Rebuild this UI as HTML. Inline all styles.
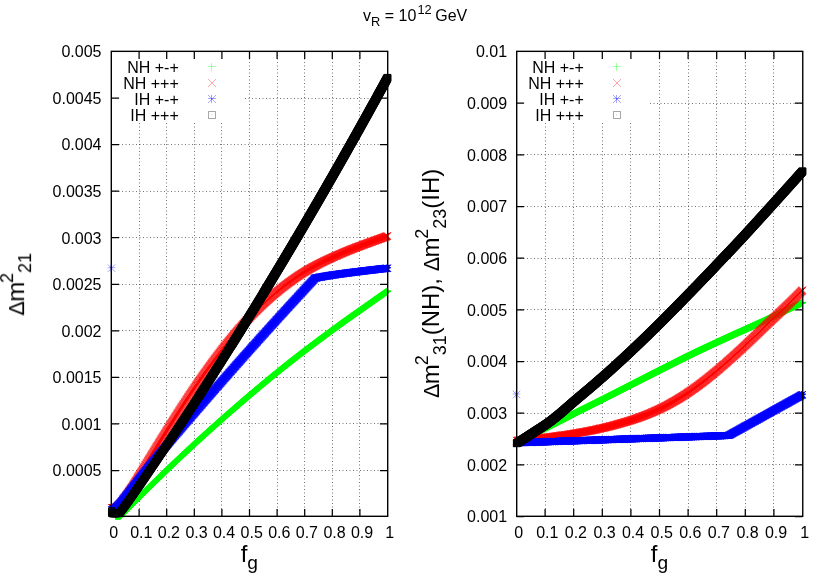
<!DOCTYPE html>
<html><head><meta charset="utf-8"><title>plot</title>
<style>html,body{margin:0;padding:0;background:#fff}svg{display:block}text{font-family:"Liberation Sans",sans-serif;fill:#000}.m{fill:none;stroke-width:0.35}.b{fill:none;stroke-width:1.0}</style></head><body>
<svg width="830" height="581" viewBox="0 0 830 581">
<rect width="830" height="581" fill="#fff"/>
<g style="will-change:opacity">
<text x="363" y="21.2" font-size="16">v<tspan dy="4.3" font-size="12.8">R</tspan><tspan dy="-4.3"> = 10</tspan><tspan dy="-7.4" dx="1.2" font-size="12.8">12</tspan><tspan dy="7.4" dx="-0.9"> GeV</tspan></text>
<path d="M139.50 123V516.5M166.50 123V516.5M194.50 123V516.5M221.50 123V516.5M249.50 51.5V516.5M277.50 51.5V516.5M304.50 51.5V516.5M332.50 51.5V516.5M359.50 51.5V516.5M245 98.50H387.5M111.5 144.50H387.5M111.5 191.50H387.5M111.5 237.50H387.5M111.5 284.50H387.5M111.5 330.50H387.5M111.5 377.50H387.5M111.5 423.50H387.5M111.5 470.50H387.5" stroke="#000" stroke-width="1" stroke-dasharray="1 2.5" stroke-opacity="0.55" fill="none"/>
<path d="M139.10 516.5v-7.6M139.10 51.5v7.6M166.70 516.5v-7.6M166.70 51.5v7.6M194.30 516.5v-7.6M194.30 51.5v7.6M221.90 516.5v-7.6M221.90 51.5v7.6M249.50 516.5v-7.6M249.50 51.5v7.6M277.10 516.5v-7.6M277.10 51.5v7.6M304.70 516.5v-7.6M304.70 51.5v7.6M332.30 516.5v-7.6M332.30 51.5v7.6M359.90 516.5v-7.6M359.90 51.5v7.6M111.5 98.06h7.6M387.5 98.06h-7.6M111.5 144.61h7.6M387.5 144.61h-7.6M111.5 191.17h7.6M387.5 191.17h-7.6M111.5 237.72h7.6M387.5 237.72h-7.6M111.5 284.28h7.6M387.5 284.28h-7.6M111.5 330.84h7.6M387.5 330.84h-7.6M111.5 377.39h7.6M387.5 377.39h-7.6M111.5 423.95h7.6M387.5 423.95h-7.6M111.5 470.50h7.6M387.5 470.50h-7.6" stroke="#000" stroke-width="1.25" fill="none"/>
<path class="b" d="M112.4 515.5h7.2m-4.1-3.1v7.2m-2.8-4.1h7.2m-4.1-3.1v7.2m-2.9-4.1h7.2m-4.1-3.1v7.2m-2.8-4.1h7.2m-4.1-3.1v7.2m-2.8-4.1h7.2m-4.1-3.1v7.2m-2.8-4.1h7.2m-4.1-3.1v7.2m-2.9-4.1h7.2m-4.1-3.1v7.2m-2.8-4.1h7.2m-4.1-3.1v7.2m-2.8-4.1h7.2m-4.1-3.1v7.2m-2.9-4.1h7.2m-4.1-3.1v7.2m-2.8-4.1h7.2m-4.1-3.1v7.2m-2.8-4.1h7.2m-4.1-3.1v7.2m-2.8-4.1h7.2m-4.1-3.1v7.2m-2.9-4h7.2m-4.1-3.1v7.2m-2.8-4.1h7.2m-4.1-3.1v7.2m-2.8-4.2h7.2m-4.1-3.1v7.2m-2.9-4.1h7.2m-4.1-3.1v7.2m-2.8-4.3h7.2m-4.1-3.1v7.2m-2.8-4.2h7.2m-4.1-3.1v7.2m-2.8-4.3h7.2m-4.1-3.1v7.2m-2.9-4.4h7.2m-4.1-3.1v7.2m-2.8-4.3h7.2m-4.1-3.1v7.2m-2.8-4.3h7.2m-4.1-3.1v7.2m-2.8-4.4h7.2m-4.1-3.1v7.2m-2.9-4.3h7.2m-4.1-3.1v7.2m-2.8-4.4h7.2m-4.1-3.1v7.2m-2.8-4.4h7.2m-4.1-3.1v7.2m-2.9-4.3h7.2m-4.1-3.1v7.2m-2.8-4.4h7.2m-4.1-3.1v7.2m-2.8-4.4h7.2m-4.1-3.1v7.2m-2.8-4.3h7.2m-4.1-3.1v7.2m-2.9-4.4h7.2m-4.1-3.1v7.2m-2.8-4.4h7.2m-4.1-3.1v7.2m-2.8-4.3h7.2m-4.1-3.1v7.2m-2.9-4.4h7.2m-4.1-3.1v7.2m-2.8-4.4h7.2m-4.1-3.1v7.2m-2.8-4.4h7.2m-4.1-3.1v7.2m-2.8-4.3h7.2m-4.1-3.1v7.2m-2.9-4.4h7.2m-4.1-3.1v7.2m-2.8-4.4h7.2m-4.1-3.1v7.2m-2.8-4.3h7.2m-4.1-3.1v7.2m-2.9-4.4h7.2m-4.1-3.1v7.2m-2.8-4.4h7.2m-4.1-3.1v7.2m-2.8-4.4h7.2m-4.1-3.1v7.2m-2.8-4.3h7.2m-4.1-3.1v7.2m-2.9-4.4h7.2m-4.1-3.1v7.2m-2.8-4.4h7.2m-4.1-3.1v7.2m-2.8-4.3h7.2m-4.1-3.1v7.2m-2.9-4.4h7.2m-4.1-3.1v7.2m-2.8-4.4h7.2m-4.1-3.1v7.2m-2.8-4.4h7.2m-4.1-3.1v7.2m-2.8-4.3h7.2m-4.1-3.1v7.2m-2.9-4.4h7.2m-4.1-3.1v7.2m-2.8-4.4h7.2m-4.1-3.1v7.2m-2.8-4.4h7.2m-4.1-3.1v7.2m-2.9-4.3h7.2m-4.1-3.1v7.2m-2.8-4.4h7.2m-4.1-3.1v7.2m-2.8-4.4h7.2m-4.1-3.1v7.2m-2.8-4.3h7.2m-4.1-3.1v7.2m-2.9-4.4h7.2m-4.1-3.1v7.2m-2.8-4.4h7.2m-4.1-3.1v7.2m-2.8-4.4h7.2m-4.1-3.1v7.2m-2.9-4.3h7.2m-4.1-3.1v7.2m-2.8-4.4h7.2m-4.1-3.1v7.2m-2.8-4.4h7.2m-4.1-3.1v7.2m-2.8-4.3h7.2m-4.1-3.1v7.2m-2.9-4.4h7.2m-4.1-3.1v7.2m-2.8-4.4h7.2m-4.1-3.1v7.2m-2.8-4.4h7.2m-4.1-3.1v7.2m-2.8-4.3h7.2m-4.1-3.1v7.2m-2.9-4.4h7.2m-4.1-3.1v7.2m-2.8-4.4h7.2m-4.1-3.1v7.2m-2.8-4.3h7.2m-4.1-3.1v7.2m-2.9-4.4h7.2m-4.1-3.1v7.2m-2.8-4.4h7.2m-4.1-3.1v7.2m-2.8-4.4h7.2m-4.1-3.1v7.2m-2.8-4.3h7.2m-4.1-3.1v7.2m-2.9-4.4h7.2m-4.1-3.1v7.2m-2.8-4.4h7.2m-4.1-3.1v7.2m-2.8-4.3h7.2m-4.1-3.1v7.2m-2.9-4.4h7.2m-4.1-3.1v7.2m-2.8-4.4h7.2m-4.1-3.1v7.2m-2.8-4.4h7.2m-4.1-3.1v7.2m-2.8-4.3h7.2m-4.1-3.1v7.2m-2.9-4.4h7.2m-4.1-3.1v7.2m-2.8-4.4h7.2m-4.1-3.1v7.2m-2.8-4.3h7.2m-4.1-3.1v7.2m-2.9-4.4h7.2m-4.1-3.1v7.2m-2.8-4.4h7.2m-4.1-3.1v7.2m-2.8-4.4h7.2m-4.1-3.1v7.2m-2.8-4.3h7.2m-4.1-3.1v7.2m-2.9-4.4h7.2m-4.1-3.1v7.2m-2.8-4.4h7.2m-4.1-3.1v7.2m-2.8-4.3h7.2m-4.1-3.1v7.2m-2.9-4.4h7.2m-4.1-3.1v7.2m-2.8-4.4h7.2m-4.1-3.1v7.2m-2.8-4.3h7.2m-4.1-3.1v7.2m-2.8-4.4h7.2m-4.1-3.1v7.2m-2.9-4.4h7.2m-4.1-3.1v7.2m-2.8-4.4h7.2m-4.1-3.1v7.2m-2.8-4.3h7.2m-4.1-3.1v7.2m-2.9-4.4h7.2m-4.1-3.1v7.2m-2.8-4.4h7.2m-4.1-3.1v7.2m-2.8-4.3h7.2m-4.1-3.1v7.2m-2.8-4.4h7.2m-4.1-3.1v7.2m-2.9-4.4h7.2m-4.1-3.1v7.2m-2.8-4.3h7.2m-4.1-3.1v7.2m-2.8-4.4h7.2m-4.1-3.1v7.2m-2.8-4.4h7.2m-4.1-3.1v7.2m-2.9-4.3h7.2m-4.1-3.1v7.2m-2.8-4.4h7.2m-4.1-3.1v7.2m-2.8-4.4h7.2m-4.1-3.1v7.2m-2.9-4.4h7.2m-4.1-3.1v7.2m-2.8-4.3h7.2m-4.1-3.1v7.2m-2.8-4.4h7.2m-4.1-3.1v7.2m-2.8-4.4h7.2m-4.1-3.1v7.2m-2.9-4.3h7.2m-4.1-3.1v7.2m-2.8-4.4h7.2m-4.1-3.1v7.2m-2.8-4.4h7.2m-4.1-3.1v7.2m-2.9-4.3h7.2m-4.1-3.1v7.2m-2.8-4.4h7.2m-4.1-3.1v7.2m-2.8-4.4h7.2m-4.1-3.1v7.2m-2.8-4.3h7.2m-4.1-3.1v7.2m-2.9-4.4h7.2m-4.1-3.1v7.2m-2.8-4.4h7.2m-4.1-3.1v7.2m-2.8-4.3h7.2m-4.1-3.1v7.2m-2.9-4.4h7.2m-4.1-3.1v7.2m-2.8-4.4h7.2m-4.1-3.1v7.2m-2.8-4.3h7.2m-4.1-3.1v7.2m-2.8-4.4h7.2m-4.1-3.1v7.2m-2.9-4.4h7.2m-4.1-3.1v7.2m-2.8-4.3h7.2m-4.1-3.1v7.2m-2.8-4.4h7.2m-4.1-3.1v7.2m-2.9-4.4h7.2m-4.1-3.1v7.2m-2.8-4.3h7.2m-4.1-3.1v7.2m-2.8-4.4h7.2m-4.1-3.1v7.2m-2.8-4.4h7.2m-4.1-3.1v7.2m-2.9-4.3h7.2m-4.1-3.1v7.2m-2.8-4.4h7.2m-4.1-3.1v7.2m-2.8-4.4h7.2m-4.1-3.1v7.2m-2.9-4.3h7.2m-4.1-3.1v7.2m-2.8-4.4h7.2m-4.1-3.1v7.2m-2.8-4.4h7.2m-4.1-3.1v7.2m-2.8-4.3h7.2m-4.1-3.1v7.2m-2.9-4.4h7.2m-4.1-3.1v7.2m-2.8-4.4h7.2m-4.1-3.1v7.2m-2.8-4.3h7.2m-4.1-3.1v7.2m-2.8-4.4h7.2m-4.1-3.1v7.2m-2.9-4.4h7.2m-4.1-3.1v7.2m-2.8-4.3h7.2m-4.1-3.1v7.2m-2.8-4.4h7.2m-4.1-3.1v7.2m-2.9-4.4h7.2m-4.1-3.1v7.2m-2.8-4.3h7.2m-4.1-3.1v7.2m-2.8-4.4h7.2m-4.1-3.1v7.2m-2.8-4.3h7.2m-4.1-3.1v7.2m-2.9-4.4h7.2m-4.1-3.1v7.2m-2.8-4.4h7.2m-4.1-3.1v7.2m-2.8-4.3h7.2m-4.1-3.1v7.2m-2.9-4.4h7.2m-4.1-3.1v7.2m-2.8-4.4h7.2m-4.1-3.1v7.2m-2.8-4.3h7.2m-4.1-3.1v7.2m-2.8-4.4h7.2m-4.1-3.1v7.2m-2.9-4.4h7.2m-4.1-3.1v7.2m-2.8-4.3h7.2m-4.1-3.1v7.2m-2.8-4.4h7.2m-4.1-3.1v7.2m-2.9-4.4h7.2m-4.1-3.1v7.2m-2.8-4.3h7.2m-4.1-3.1v7.2m-2.8-4.4h7.2m-4.1-3.1v7.2m-2.8-4.3h7.2m-4.1-3.1v7.2m-2.9-4.4h7.2m-4.1-3.1v7.2m-2.8-4.4h7.2m-4.1-3.1v7.2m-2.8-4.3h7.2m-4.1-3.1v7.2m-2.9-4.4h7.2m-4.1-3.1v7.2m-2.8-4.4h7.2m-4.1-3.1v7.2m-2.8-4.3h7.2m-4.1-3.1v7.2m-2.8-4.4h7.2m-4.1-3.1v7.2m-2.9-4.3h7.2m-4.1-3.1v7.2m-2.8-4.4h7.2m-4.1-3.1v7.2m-2.8-4.4h7.2m-4.1-3.1v7.2m-2.9-4.3h7.2m-4.1-3.1v7.2m-2.8-4.4h7.2m-4.1-3.1v7.2m-2.8-4.4h7.2m-4.1-3.1v7.2m-2.8-4.3h7.2m-4.1-3.1v7.2m-2.9-4.4h7.2m-4.1-3.1v7.2m-2.8-4.3h7.2m-4.1-3.1v7.2m-2.8-4.4h7.2m-4.1-3.1v7.2m-2.9-4.4h7.2m-4.1-3.1v7.2m-2.8-4.3h7.2m-4.1-3.1v7.2m-2.8-4.4h7.2m-4.1-3.1v7.2m-2.8-4.3h7.2m-4.1-3.1v7.2m-2.9-4.4h7.2m-4.1-3.1v7.2m-2.8-4.4h7.2m-4.1-3.1v7.2m-2.8-4.3h7.2m-4.1-3.1v7.2m-2.8-4.4h7.2m-4.1-3.1v7.2m-2.9-4.3h7.2m-4.1-3.1v7.2m-2.8-4.4h7.2m-4.1-3.1v7.2m-2.8-4.4h7.2m-4.1-3.1v7.2m-2.9-4.3h7.2m-4.1-3.1v7.2m-2.8-4.4h7.2m-4.1-3.1v7.2m-2.8-4.3h7.2m-4.1-3.1v7.2m-2.8-4.4h7.2m-4.1-3.1v7.2m-2.9-4.4h7.2m-4.1-3.1v7.2m-2.8-4.3h7.2m-4.1-3.1v7.2m-2.8-4.4h7.2m-4.1-3.1v7.2m-2.9-4.3h7.2m-4.1-3.1v7.2m-2.8-4.4h7.2m-4.1-3.1v7.2m-2.8-4.4h7.2m-4.1-3.1v7.2m-2.8-4.3h7.2m-4.1-3.1v7.2m-2.9-4.4h7.2m-4.1-3.1v7.2m-2.8-4.3h7.2m-4.1-3.1v7.2m-2.8-4.4h7.2m-4.1-3.1v7.2m-2.9-4.4h7.2m-4.1-3.1v7.2m-2.8-4.3h7.2m-4.1-3.1v7.2m-2.8-4.4h7.2m-4.1-3.1v7.2m-2.8-4.3h7.2m-4.1-3.1v7.2m-2.9-4.4h7.2m-4.1-3.1v7.2m-2.8-4.3h7.2m-4.1-3.1v7.2m-2.8-4.4h7.2m-4.1-3.1v7.2m-2.9-4.4h7.2m-4.1-3.1v7.2m-2.8-4.3h7.2m-4.1-3.1v7.2m-2.8-4.4h7.2m-4.1-3.1v7.2m-2.8-4.3h7.2m-4.1-3.1v7.2m-2.9-4.4h7.2m-4.1-3.1v7.2m-2.8-4.4h7.2m-4.1-3.1v7.2m-2.8-4.3h7.2m-4.1-3.1v7.2m-2.9-4.4h7.2m-4.1-3.1v7.2m-2.8-4.3h7.2m-4.1-3.1v7.2m-2.8-4.4h7.2m-4.1-3.1v7.2m-2.8-4.3h7.2m-4.1-3.1v7.2m-2.9-4.4h7.2m-4.1-3.1v7.2m-2.8-4.3h7.2m-4.1-3.1v7.2m-2.8-4.4h7.2m-4.1-3.1v7.2m-2.8-4.4h7.2m-4.1-3.1v7.2m-2.9-4.3h7.2m-4.1-3.1v7.2m-2.8-4.4h7.2m-4.1-3.1v7.2m-2.8-4.3h7.2m-4.1-3.1v7.2m-2.9-4.4h7.2m-4.1-3.1v7.2m-2.8-4.3h7.2m-4.1-3.1v7.2m-2.8-4.4h7.2m-4.1-3.1v7.2m-2.8-4.4h7.2m-4.1-3.1v7.2m-2.9-4.3h7.2m-4.1-3.1v7.2m-2.8-4.4h7.2m-4.1-3.1v7.2m-2.8-4.3h7.2m-4.1-3.1v7.2m-2.9-4.4h7.2m-4.1-3.1v7.2m-2.8-4.3h7.2m-4.1-3.1v7.2m-2.8-4.4h7.2m-4.1-3.1v7.2m-2.8-4.3h7.2m-4.1-3.1v7.2m-2.9-4.4h7.2m-4.1-3.1v7.2m-2.8-4.4h7.2m-4.1-3.1v7.2m-2.8-4.3h7.2m-4.1-3.1v7.2m-2.9-4.4h7.2m-4.1-3.1v7.2m-2.8-4.3h7.2m-4.1-3.1v7.2m-2.8-4.4h7.2m-4.1-3.1v7.2m-2.8-4.3h7.2m-4.1-3.1v7.2m-2.9-4.4h7.2m-4.1-3.1v7.2m-2.8-4.3h7.2m-4.1-3.1v7.2m-2.8-4.4h7.2m-4.1-3.1v7.2m-2.9-4.3h7.2m-4.1-3.1v7.2m-2.8-4.4h7.2m-4.1-3.1v7.2m-2.8-4.3h7.2m-4.1-3.1v7.2m-2.8-4.4h7.2m-4.1-3.1v7.2m-2.9-4.4h7.2m-4.1-3.1v7.2m-2.8-4.3h7.2m-4.1-3.1v7.2m-2.8-4.4h7.2m-4.1-3.1v7.2m-2.9-4.3h7.2m-4.1-3.1v7.2m-2.8-4.4h7.2m-4.1-3.1v7.2m-2.8-4.3h7.2m-4.1-3.1v7.2m-2.8-4.4h7.2m-4.1-3.1v7.2m-2.9-4.3h7.2m-4.1-3.1v7.2m-2.8-4.4h7.2m-4.1-3.1v7.2m-2.8-4.3h7.2m-4.1-3.1v7.2m-2.8-4.4h7.2m-4.1-3.1v7.2m-2.9-4.3h7.2m-4.1-3.1v7.2m-2.8-4.4h7.2m-4.1-3.1v7.2m-2.8-4.3h7.2m-4.1-3.1v7.2m-2.9-4.4h7.2m-4.1-3.1v7.2m-2.8-4.3h7.2m-4.1-3.1v7.2m-2.8-4.4h7.2m-4.1-3.1v7.2m-2.8-4.4h7.2m-4.1-3.1v7.2m-2.9-4.3h7.2m-4.1-3.1v7.2m-2.8-4.4h7.2m-4.1-3.1v7.2m-2.8-4.3h7.2m-4.1-3.1v7.2m-2.9-4.4h7.2m-4.1-3.1v7.2m-2.8-4.3h7.2m-4.1-3.1v7.2m-2.8-4.4h7.2m-4.1-3.1v7.2m-2.8-4.3h7.2m-4.1-3.1v7.2m-2.9-4.4h7.2m-4.1-3.1v7.2m-2.8-4.3h7.2m-4.1-3.1v7.2m-2.8-4.4h7.2m-4.1-3.1v7.2m-2.9-4.3h7.2m-4.1-3.1v7.2m-2.8-4.4h7.2m-4.1-3.1v7.2m-2.8-4.3h7.2m-4.1-3.1v7.2m-2.8-4.4h7.2m-4.1-3.1v7.2m-2.9-4.3h7.2m-4.1-3.1v7.2m-2.8-4.4h7.2m-4.1-3.1v7.2m-2.8-4.3h7.2m-4.1-3.1v7.2m-2.9-4.4h7.2m-4.1-3.1v7.2m-2.8-4.3h7.2m-4.1-3.1v7.2m-2.8-4.4h7.2m-4.1-3.1v7.2m-2.8-4.3h7.2m-4.1-3.1v7.2m-2.9-4.4h7.2m-4.1-3.1v7.2m-2.8-4.3h7.2m-4.1-3.1v7.2m-2.8-4.4h7.2m-4.1-3.1v7.2m-2.9-4.3h7.2m-4.1-3.1v7.2m-2.8-4.4h7.2m-4.1-3.1v7.2m-2.8-4.3h7.2m-4.1-3.1v7.2m-2.8-4.4h7.2m-4.1-3.1v7.2m-2.9-4.3h7.2m-4.1-3.1v7.2m-2.8-4.4h7.2m-4.1-3.1v7.2m-2.8-4.3h7.2m-4.1-3.1v7.2m-2.9-4.4h7.2m-4.1-3.1v7.2m-2.8-4.3h7.2m-4.1-3.1v7.2m-2.8-4.4h7.2m-4.1-3.1v7.2m-2.8-4.3h7.2m-4.1-3.1v7.2m-2.9-4.4h7.2m-4.1-3.1v7.2m-2.8-4.3h7.2m-4.1-3.1v7.2m-2.8-4.3h7.2m-4.1-3.1v7.2m-2.8-4.4h7.2m-4.1-3.1v7.2m-2.9-4.3h7.2m-4.1-3.1v7.2m-2.8-4.4h7.2m-4.1-3.1v7.2m-2.8-4.3h7.2m-4.1-3.1v7.2m-2.9-4.4h7.2m-4.1-3.1v7.2m-2.8-4.3h7.2m-4.1-3.1v7.2m-2.8-4.4h7.2m-4.1-3.1v7.2m-2.8-4.3h7.2m-4.1-3.1v7.2m-2.9-4.4h7.2m-4.1-3.1v7.2m-2.8-4.3h7.2m-4.1-3.1v7.2m-2.8-4.4h7.2m-4.1-3.1v7.2m-2.9-4.3h7.2m-4.1-3.1v7.2m-2.8-4.4h7.2m-4.1-3.1v7.2m-2.8-4.3h7.2m-4.1-3.1v7.2m-2.8-4.4h7.2m-4.1-3.1v7.2m-2.9-4.3h7.2m-4.1-3.1v7.2m-2.8-4.3h7.2m-4.1-3.1v7.2m-2.8-4.4h7.2m-4.1-3.1v7.2m-2.9-4.3h7.2m-4.1-3.1v7.2m-2.8-4.4h7.2m-4.1-3.1v7.2m-2.8-4.3h7.2m-4.1-3.1v7.2m-2.8-4.4h7.2m-4.1-3.1v7.2m-2.9-4.3h7.2m-4.1-3.1v7.2m-2.8-4.4h7.2m-4.1-3.1v7.2m-2.8-4.3h7.2m-4.1-3.1v7.2m-2.9-4.4h7.2m-4.1-3.1v7.2m-2.8-4.3h7.2m-4.1-3.1v7.2m-2.8-4.3h7.2m-4.1-3.1v7.2m-2.8-4.4h7.2m-4.1-3.1v7.2m-2.9-4.3h7.2m-4.1-3.1v7.2m-2.8-4.4h7.2m-4.1-3.1v7.2m-2.8-4.3h7.2m-4.1-3.1v7.2m-2.9-4.4h7.2m-4.1-3.1v7.2m-2.8-4.3h7.2m-4.1-3.1v7.2m-2.8-4.4h7.2m-4.1-3.1v7.2m-2.8-4.3h7.2m-4.1-3.1v7.2m-2.9-4.3h7.2m-4.1-3.1v7.2m-2.8-4.4h7.2m-4.1-3.1v7.2m-2.8-4.3h7.2m-4.1-3.1v7.2m-2.8-4.4h7.2m-4.1-3.1v7.2m-2.9-4.3h7.2m-4.1-3.1v7.2m-2.8-4.4h7.2m-4.1-3.1v7.2m-2.8-4.3h7.2m-4.1-3.1v7.2m-2.9-4.3h7.2m-4.1-3.1v7.2m-2.8-4.4h7.2m-4.1-3.1v7.2m-2.8-4.3h7.2m-4.1-3.1v7.2m-2.8-4.4h7.2m-4.1-3.1v7.2m-2.9-4.3h7.2m-4.1-3.1v7.2m-2.8-4.4h7.2m-4.1-3.1v7.2m-2.8-4.3h7.2m-4.1-3.1v7.2m-2.9-4.3h7.2m-4.1-3.1v7.2m-2.8-4.4h7.2m-4.1-3.1v7.2m-2.8-4.3h7.2m-4.1-3.1v7.2m-2.8-4.4h7.2m-4.1-3.1v7.2m-2.9-4.3h7.2m-4.1-3.1v7.2m-2.8-4.4h7.2m-4.1-3.1v7.2m-2.8-4.3h7.2m-4.1-3.1v7.2m-2.9-4.3h7.2m-4.1-3.1v7.2m-2.8-4.4h7.2m-4.1-3.1v7.2m-2.8-4.3h7.2m-4.1-3.1v7.2m-2.8-4.4h7.2m-4.1-3.1v7.2m-2.9-4.3h7.2m-4.1-3.1v7.2m-2.8-4.3h7.2m-4.1-3.1v7.2m-2.8-4.4h7.2m-4.1-3.1v7.2m-2.9-4.3h7.2m-4.1-3.1v7.2m-2.8-4.4h7.2m-4.1-3.1v7.2m-2.8-4.3h7.2m-4.1-3.1v7.2m-2.8-4.4h7.2m-4.1-3.1v7.2m-2.9-4.3h7.2m-4.1-3.1v7.2m-2.8-4.3h7.2m-4.1-3.1v7.2m-2.8-4.4h7.2m-4.1-3.1v7.2m-2.9-4.3h7.2m-4.1-3.1v7.2m-2.8-4.4h7.2m-4.1-3.1v7.2m-2.8-4.3h7.2m-4.1-3.1v7.2m-2.8-4.3h7.2m-4.1-3.1v7.2m-2.9-4.4h7.2m-4.1-3.1v7.2m-2.8-4.3h7.2m-4.1-3.1v7.2m-2.8-4.4h7.2m-4.1-3.1v7.2m-2.9-4.3h7.2m-4.1-3.1v7.2m-2.8-4.3h7.2m-4.1-3.1v7.2m-2.8-4.4h7.2m-4.1-3.1v7.2m-2.8-4.3h7.2m-4.1-3.1v7.2m-2.9-4.4h7.2m-4.1-3.1v7.2m-2.8-4.3h7.2m-4.1-3.1v7.2m-2.8-4.3h7.2m-4.1-3.1v7.2m-2.8-4.4h7.2m-4.1-3.1v7.2m-2.9-4.3h7.2m-4.1-3.1v7.2m-2.8-4.3h7.2m-4.1-3.1v7.2m-2.8-4.4h7.2m-4.1-3.1v7.2m-2.9-4.3h7.2m-4.1-3.1v7.2m-2.8-4.4h7.2m-4.1-3.1v7.2m-2.8-4.3h7.2m-4.1-3.1v7.2m-2.8-4.3h7.2m-4.1-3.1v7.2m-2.9-4.4h7.2m-4.1-3.1v7.2m-2.8-4.3h7.2m-4.1-3.1v7.2m-2.8-4.4h7.2m-4.1-3.1v7.2m-2.9-4.3h7.2m-4.1-3.1v7.2m-2.8-4.3h7.2m-4.1-3.1v7.2m-2.8-4.4h7.2m-4.1-3.1v7.2m-2.8-4.3h7.2m-4.1-3.1v7.2m-2.9-4.3h7.2m-4.1-3.1v7.2m-2.8-4.4h7.2m-4.1-3.1v7.2m-2.8-4.3h7.2m-4.1-3.1v7.2m-2.9-4.4h7.2m-4.1-3.1v7.2m-2.8-4.3h7.2m-4.1-3.1v7.2m-2.8-4.3h7.2m-4.1-3.1v7.2m-2.8-4.4h7.2m-4.1-3.1v7.2m-2.9-4.3h7.2m-4.1-3.1v7.2m-2.8-4.3h7.2m-4.1-3.1v7.2m-2.8-4.4h7.2m-4.1-3.1v7.2m-2.9-4.3h7.2m-4.1-3.1v7.2m-2.8-4.4h7.2m-4.1-3.1v7.2m-2.8-4.3h7.2m-4.1-3.1v7.2m-2.8-4.3h7.2m-4.1-3.1v7.2m-2.9-4.4h7.2m-4.1-3.1v7.2m-2.8-4.3h7.2m-4.1-3.1v7.2m-2.8-4.3h7.2m-4.1-3.1v7.2m-2.9-4.4h7.2m-4.1-3.1v7.2m-2.8-4.3h7.2m-4.1-3.1v7.2m-2.8-4.3h7.2m-4.1-3.1v7.2m-2.8-4.4h7.2m-4.1-3.1v7.2m-2.9-4.3h7.2m-4.1-3.1v7.2m-2.8-4.4h7.2m-4.1-3.1v7.2m-2.8-4.3h7.2m-4.1-3.1v7.2m-2.8-4.3h7.2m-4.1-3.1v7.2m-2.9-4.4h7.2m-4.1-3.1v7.2m-2.8-4.3h7.2m-4.1-3.1v7.2m-2.8-4.3h7.2m-4.1-3.1v7.2m-2.9-4.4h7.2m-4.1-3.1v7.2m-2.8-4.3h7.2m-4.1-3.1v7.2m-2.8-4.3h7.2m-4.1-3.1v7.2m-2.8-4.4h7.2m-4.1-3.1v7.2m-2.9-4.3h7.2m-4.1-3.1v7.2m-2.8-4.3h7.2m-4.1-3.1v7.2m-2.8-4.4h7.2m-4.1-3.1v7.2m-2.9-4.3h7.2m-4.1-3.1v7.2m-2.8-4.3h7.2m-4.1-3.1v7.2m-2.8-4.4h7.2m-4.1-3.1v7.2m-2.8-4.3h7.2m-4.1-3.1v7.2m-2.9-4.3h7.2m-4.1-3.1v7.2m-2.8-4.4h7.2m-4.1-3.1v7.2m-2.8-4.3h7.2m-4.1-3.1v7.2m-2.9-4.3h7.2m-4.1-3.1v7.2m-2.8-4.4h7.2m-4.1-3.1v7.2m-2.8-4.3h7.2m-4.1-3.1v7.2m-2.8-4.4h7.2m-4.1-3.1v7.2m-2.9-4.3h7.2m-4.1-3.1v7.2m-2.8-4.3h7.2m-4.1-3.1v7.2m-2.8-4.4h7.2m-4.1-3.1v7.2m-2.9-4.3h7.2m-4.1-3.1v7.2m-2.8-4.3h7.2m-4.1-3.1v7.2m-2.8-4.4h7.2m-4.1-3.1v7.2m-2.8-4.3h7.2m-4.1-3.1v7.2m-2.9-4.3h7.2m-4.1-3.1v7.2m-2.8-4.4h7.2m-4.1-3.1v7.2m-2.8-4.3h7.2m-4.1-3.1v7.2m-2.9-4.3h7.2m-4.1-3.1v7.2m-2.8-4.3h7.2m-4.1-3.1v7.2m-2.8-4.4h7.2m-4.1-3.1v7.2m-2.8-4.3h7.2m-4.1-3.1v7.2m-2.9-4.3h7.2m-4.1-3.1v7.2m-2.8-4.4h7.2m-4.1-3.1v7.2m-2.8-4.3h7.2m-4.1-3.1v7.2m-2.8-4.3h7.2m-4.1-3.1v7.2m-2.9-4.4h7.2m-4.1-3.1v7.2m-2.8-4.3h7.2m-4.1-3.1v7.2m-2.8-4.3h7.2m-4.1-3.1v7.2m-2.9-4.4h7.2m-4.1-3.1v7.2m-2.8-4.3h7.2m-4.1-3.1v7.2m-2.8-4.3h7.2m-4.1-3.1v7.2m-2.8-4.4h7.2m-4.1-3.1v7.2m-2.9-4.3h7.2m-4.1-3.1v7.2m-2.8-4.3h7.2m-4.1-3.1v7.2m-2.8-4.4h7.2m-4.1-3.1v7.2m-2.9-4.3h7.2m-4.1-3.1v7.2m-2.8-4.3h7.2m-4.1-3.1v7.2m-2.8-4.4h7.2m-4.1-3.1v7.2m-2.8-4.3h7.2m-4.1-3.1v7.2m-2.9-4.3h7.2m-4.1-3.1v7.2m-2.8-4.4h7.2m-4.1-3.1v7.2m-2.8-4.3h7.2m-4.1-3.1v7.2m-2.9-4.3h7.2m-4.1-3.1v7.2m-2.8-4.3h7.2m-4.1-3.1v7.2m-2.8-4.4h7.2m-4.1-3.1v7.2m-2.8-4.3h7.2m-4.1-3.1v7.2m-2.9-4.3h7.2m-4.1-3.1v7.2m-2.8-4.4h7.2m-4.1-3.1v7.2m-2.8-4.3h7.2m-4.1-3.1v7.2m-2.9-4.3h7.2m-4.1-3.1v7.2m-2.8-4.4h7.2m-4.1-3.1v7.2m-2.8-4.3h7.2m-4.1-3.1v7.2m-2.8-4.3h7.2m-4.1-3.1v7.2m-2.9-4.3h7.2m-4.1-3.1v7.2m-2.8-4.4h7.2m-4.1-3.1v7.2m-2.8-4.3h7.2m-4.1-3.1v7.2m-2.9-4.3h7.2m-4.1-3.1v7.2m-2.8-4.4h7.2m-4.1-3.1v7.2m-2.8-4.3h7.2m-4.1-3.1v7.2m-2.8-4.3h7.2m-4.1-3.1v7.2m-2.9-4.4h7.2m-4.1-3.1v7.2m-2.8-4.3h7.2m-4.1-3.1v7.2m-2.8-4.3h7.2m-4.1-3.1v7.2m-2.9-4.3h7.2m-4.1-3.1v7.2m-2.8-4.4h7.2m-4.1-3.1v7.2m-2.8-4.3h7.2m-4.1-3.1v7.2m-2.8-4.3h7.2m-4.1-3.1v7.2m-2.9-4.4h7.2m-4.1-3.1v7.2m-2.8-4.3h7.2m-4.1-3.1v7.2m-2.8-4.3h7.2m-4.1-3.1v7.2m-2.8-4.3h7.2m-4.1-3.1v7.2m-2.9-4.4h7.2m-4.1-3.1v7.2m-2.8-4.3h7.2m-4.1-3.1v7.2m-2.8-4.3h7.2m-4.1-3.1v7.2m-2.9-4.3h7.2m-4.1-3.1v7.2m-2.8-4.4h7.2m-4.1-3.1v7.2m-2.8-4.3h7.2m-4.1-3.1v7.2m-2.8-4.3h7.2m-4.1-3.1v7.2m-2.9-4.4h7.2m-4.1-3.1v7.2m-2.8-4.3h7.2m-4.1-3.1v7.2m-2.8-4.3h7.2m-4.1-3.1v7.2m-2.9-4.3h7.2m-4.1-3.1v7.2m-2.8-4.4h7.2m-4.1-3.1v7.2m-2.8-4.3h7.2m-4.1-3.1v7.2m-2.8-4.3h7.2m-4.1-3.1v7.2m-2.9-4.3h7.2m-4.1-3.1v7.2m-2.8-4.4h7.2m-4.1-3.1v7.2m-2.8-4.3h7.2m-4.1-3.1v7.2m-2.9-4.3h7.2m-4.1-3.1v7.2m-2.8-4.3h7.2m-4.1-3.1v7.2m-2.8-4.4h7.2m-4.1-3.1v7.2m-2.8-4.3h7.2m-4.1-3.1v7.2m-2.9-4.3h7.2m-4.1-3.1v7.2m-2.8-4.3h7.2m-4.1-3.1v7.2m-2.8-4.4h7.2m-4.1-3.1v7.2m-2.9-4.3h7.2m-4.1-3.1v7.2m-2.8-4.3h7.2m-4.1-3.1v7.2m-2.8-4.3h7.2m-4.1-3.1v7.2m-2.8-4.4h7.2m-4.1-3.1v7.2m-2.9-4.3h7.2m-4.1-3.1v7.2m-2.8-4.3h7.2m-4.1-3.1v7.2m-2.8-4.3h7.2m-4.1-3.1v7.2m-2.9-4.4h7.2m-4.1-3.1v7.2m-2.8-4.3h7.2m-4.1-3.1v7.2m-2.8-4.3h7.2m-4.1-3.1v7.2m-2.8-4.3h7.2m-4.1-3.1v7.2m-2.9-4.4h7.2m-4.1-3.1v7.2m-2.8-4.3h7.2m-4.1-3.1v7.2m-2.8-4.3h7.2m-4.1-3.1v7.2m-2.8-4.3h7.2m-4.1-3.1v7.2m-2.9-4.4h7.2m-4.1-3.1v7.2m-2.8-4.3h7.2m-4.1-3.1v7.2m-2.8-4.3h7.2m-4.1-3.1v7.2m-2.9-4.3h7.2m-4.1-3.1v7.2m-2.8-4.4h7.2m-4.1-3.1v7.2m-2.8-4.3h7.2m-4.1-3.1v7.2m-2.8-4.3h7.2m-4.1-3.1v7.2m-2.9-4.3h7.2m-4.1-3.1v7.2m-2.8-4.4h7.2m-4.1-3.1v7.2m-2.8-4.3h7.2m-4.1-3.1v7.2m-2.9-4.3h7.2m-4.1-3.1v7.2m-2.8-4.3h7.2m-4.1-3.1v7.2m-2.8-4.3h7.2m-4.1-3.1v7.2m-2.8-4.4h7.2m-4.1-3.1v7.2m-2.9-4.3h7.2m-4.1-3.1v7.2m-2.8-4.3h7.2m-4.1-3.1v7.2m-2.8-4.3h7.2m-4.1-3.1v7.2m-2.9-4.4h7.2m-4.1-3.1v7.2m-2.8-4.3h7.2m-4.1-3.1v7.2m-2.8-4.3h7.2m-4.1-3.1v7.2m-2.8-4.3h7.2m-4.1-3.1v7.2m-2.9-4.3h7.2m-4.1-3.1v7.2m-2.8-4.4h7.2m-4.1-3.1v7.2m-2.8-4.3h7.2m-4.1-3.1v7.2m-2.9-4.3h7.2m-4.1-3.1v7.2m-2.8-4.3h7.2m-4.1-3.1v7.2m-2.8-4.3h7.2m-4.1-3.1v7.2m-2.8-4.4h7.2m-4.1-3.1v7.2m-2.9-4.3h7.2m-4.1-3.1v7.2m-2.8-4.3h7.2m-4.1-3.1v7.2m-2.8-4.3h7.2m-4.1-3.1v7.2m-2.9-4.3h7.2m-4.1-3.1v7.2m-2.8-4.4h7.2m-4.1-3.1v7.2m-2.8-4.3h7.2m-4.1-3.1v7.2m-2.8-4.3h7.2m-4.1-3.1v7.2m-2.9-4.3h7.2m-4.1-3.1v7.2m-2.8-4.3h7.2m-4.1-3.1v7.2m-2.8-4.4h7.2m-4.1-3.1v7.2m-2.8-4.3h7.2m-4.1-3.1v7.2m-2.9-4.3h7.2m-4.1-3.1v7.2m-2.8-4.3h7.2m-4.1-3.1v7.2m-2.8-4.3h7.2m-4.1-3.1v7.2m-2.9-4.4h7.2m-4.1-3.1v7.2m-2.8-4.3h7.2m-4.1-3.1v7.2m-2.8-4.3h7.2m-4.1-3.1v7.2m-2.8-4.3h7.2m-4.1-3.1v7.2m-2.9-4.3h7.2m-4.1-3.1v7.2m-2.8-4.4h7.2m-4.1-3.1v7.2m-2.8-4.3h7.2m-4.1-3.1v7.2m-2.9-4.3h7.2m-4.1-3.1v7.2m-2.8-4.3h7.2m-4.1-3.1v7.2m-2.8-4.3h7.2m-4.1-3.1v7.2m-2.8-4.3h7.2m-4.1-3.1v7.2m-2.9-4.4h7.2m-4.1-3.1v7.2m-2.8-4.3h7.2m-4.1-3.1v7.2m-2.8-4.3h7.2m-4.1-3.1v7.2m-2.9-4.3h7.2m-4.1-3.1v7.2m-2.8-4.3h7.2m-4.1-3.1v7.2m-2.8-4.3h7.2m-4.1-3.1v7.2m-2.8-4.4h7.2m-4.1-3.1v7.2m-2.9-4.3h7.2m-4.1-3.1v7.2m-2.8-4.3h7.2m-4.1-3.1v7.2m-2.8-4.3h7.2m-4.1-3.1v7.2m-2.9-4.3h7.2m-4.1-3.1v7.2m-2.8-4.3h7.2m-4.1-3.1v7.2m-2.8-4.3h7.2m-4.1-3.1v7.2m-2.8-4.4h7.2m-4.1-3.1v7.2m-2.9-4.3h7.2m-4.1-3.1v7.2m-2.8-4.3h7.2m-4.1-3.1v7.2m-2.8-4.3h7.2m-4.1-3.1v7.2m-2.9-4.3h7.2m-4.1-3.1v7.2m-2.8-4.3h7.2m-4.1-3.1v7.2m-2.8-4.4h7.2m-4.1-3.1v7.2m-2.8-4.3h7.2m-4.1-3.1v7.2m-2.9-4.3h7.2m-4.1-3.1v7.2m-2.8-4.3h7.2m-4.1-3.1v7.2m-2.8-4.3h7.2m-4.1-3.1v7.2m-2.9-4.3h7.2m-4.1-3.1v7.2m-2.8-4.3h7.2m-4.1-3.1v7.2m-2.8-4.3h7.2m-4.1-3.1v7.2m-2.8-4.4h7.2m-4.1-3.1v7.2m-2.9-4.3h7.2m-4.1-3.1v7.2m-2.8-4.3h7.2m-4.1-3.1v7.2m-2.8-4.3h7.2m-4.1-3.1v7.2m-2.8-4.3h7.2m-4.1-3.1v7.2m-2.9-4.3h7.2m-4.1-3.1v7.2m-2.8-4.3h7.2m-4.1-3.1v7.2m-2.8-4.3h7.2m-4.1-3.1v7.2m-2.9-4.4h7.2m-4.1-3.1v7.2m-2.8-4.3h7.2m-4.1-3.1v7.2m-2.8-4.3h7.2m-4.1-3.1v7.2m-2.8-4.3h7.2m-4.1-3.1v7.2m-2.9-4.3h7.2m-4.1-3.1v7.2m-2.8-4.3h7.2m-4.1-3.1v7.2m-2.8-4.3h7.2m-4.1-3.1v7.2m-2.9-4.3h7.2m-4.1-3.1v7.2m-2.8-4.4h7.2m-4.1-3.1v7.2m-2.8-4.3h7.2m-4.1-3.1v7.2m-2.8-4.3h7.2m-4.1-3.1v7.2m-2.9-4.3h7.2m-4.1-3.1v7.2m-2.8-4.3h7.2m-4.1-3.1v7.2m-2.8-4.3h7.2m-4.1-3.1v7.2m-2.9-4.3h7.2m-4.1-3.1v7.2m-2.8-4.3h7.2m-4.1-3.1v7.2m-2.8-4.3h7.2m-4.1-3.1v7.2m-2.8-4.3h7.2m-4.1-3.1v7.2m-2.9-4.4h7.2m-4.1-3.1v7.2m-2.8-4.3h7.2m-4.1-3.1v7.2m-2.8-4.3h7.2m-4.1-3.1v7.2m-2.9-4.3h7.2m-4.1-3.1v7.2m-2.8-4.3h7.2m-4.1-3.1v7.2m-2.8-4.3h7.2m-4.1-3.1v7.2m-2.8-4.3h7.2m-4.1-3.1v7.2m-2.9-4.3h7.2m-4.1-3.1v7.2m-2.8-4.3h7.2m-4.1-3.1v7.2m-2.8-4.3h7.2m-4.1-3.1v7.2m-2.9-4.4h7.2m-4.1-3.1v7.2m-2.8-4.3h7.2m-4.1-3.1v7.2m-2.8-4.3h7.2m-4.1-3.1v7.2m-2.8-4.3h7.2m-4.1-3.1v7.2m-2.9-4.3h7.2m-4.1-3.1v7.2m-2.8-4.3h7.2m-4.1-3.1v7.2m-2.8-4.3h7.2m-4.1-3.1v7.2m-2.8-4.3h7.2m-4.1-3.1v7.2m-2.9-4.3h7.2m-4.1-3.1v7.2m-2.8-4.3h7.2m-4.1-3.1v7.2m-2.8-4.3h7.2m-4.1-3.1v7.2m-2.9-4.3h7.2m-4.1-3.1v7.2m-2.8-4.3h7.2m-4.1-3.1v7.2m-2.8-4.4h7.2m-4.1-3.1v7.2m-2.8-4.3h7.2m-4.1-3.1v7.2m-2.9-4.3h7.2m-4.1-3.1v7.2m-2.8-4.3h7.2m-4.1-3.1v7.2m-2.8-4.3h7.2m-4.1-3.1v7.2m-2.9-4.3h7.2m-4.1-3.1v7.2m-2.8-4.3h7.2m-4.1-3.1v7.2m-2.8-4.3h7.2m-4.1-3.1v7.2m-2.8-4.3h7.2m-4.1-3.1v7.2m-2.9-4.3h7.2m-4.1-3.1v7.2m-2.8-4.3h7.2m-4.1-3.1v7.2m-2.8-4.3h7.2m-4.1-3.1v7.2m-2.9-4.3h7.2m-4.1-3.1v7.2m-2.8-4.3h7.2m-4.1-3.1v7.2m-2.8-4.3h7.2m-4.1-3.1v7.2m-2.8-4.4h7.2m-4.1-3.1v7.2m-2.9-4.3h7.2m-4.1-3.1v7.2m-2.8-4.3h7.2m-4.1-3.1v7.2m-2.8-4.3h7.2m-4.1-3.1v7.2m-2.9-4.3h7.2m-4.1-3.1v7.2m-2.8-4.3h7.2m-4.1-3.1v7.2m-2.8-4.3h7.2m-4.1-3.1v7.2m-2.8-4.3h7.2m-4.1-3.1v7.2m-2.9-4.3h7.2m-4.1-3.1v7.2m-2.8-4.3h7.2m-4.1-3.1v7.2m-2.8-4.3h7.2m-4.1-3.1v7.2m-2.9-4.3h7.2m-4.1-3.1v7.2m-2.8-4.3h7.2m-4.1-3.1v7.2m-2.8-4.3h7.2m-4.1-3.1v7.2m-2.8-4.3h7.2m-4.1-3.1v7.2m-2.9-4.3h7.2m-4.1-3.1v7.2m-2.8-4.3h7.2m-4.1-3.1v7.2m-2.8-4.3h7.2m-4.1-3.1v7.2m-2.9-4.3h7.2m-4.1-3.1v7.2m-2.8-4.3h7.2m-4.1-3.1v7.2m-2.8-4.4h7.2m-4.1-3.1v7.2m-2.8-4.3h7.2m-4.1-3.1v7.2m-2.9-4.3h7.2m-4.1-3.1v7.2m-2.8-4.3h7.2m-4.1-3.1v7.2m-2.8-4.3h7.2m-4.1-3.1v7.2m-2.8-4.3h7.2m-4.1-3.1v7.2m-2.9-4.3h7.2m-4.1-3.1v7.2m-2.8-4.3h7.2m-4.1-3.1v7.2m-2.8-4.3h7.2m-4.1-3.1v7.2m-2.9-4.3h7.2m-4.1-3.1v7.2m-2.8-4.3h7.2m-4.1-3.1v7.2m-2.8-4.3h7.2m-4.1-3.1v7.2m-2.8-4.3h7.2m-4.1-3.1v7.2m-2.9-4.3h7.2m-4.1-3.1v7.2m-2.8-4.3h7.2m-4.1-3.1v7.2m-2.8-4.3h7.2m-4.1-3.1v7.2m-2.9-4.3h7.2m-4.1-3.1v7.2m-2.8-4.3h7.2m-4.1-3.1v7.2m-2.8-4.3h7.2m-4.1-3.1v7.2m-2.8-4.3h7.2m-4.1-3.1v7.2m-2.9-4.3h7.2m-4.1-3.1v7.2m-2.8-4.3h7.2m-4.1-3.1v7.2m-2.8-4.3h7.2m-4.1-3.1v7.2m-2.9-4.3h7.2m-4.1-3.1v7.2m-2.8-4.3h7.2m-4.1-3.1v7.2m-2.8-4.3h7.2m-4.1-3.1v7.2m-2.8-4.3h7.2m-4.1-3.1v7.2m-2.9-4.3h7.2m-4.1-3.1v7.2m-2.8-4.3h7.2m-4.1-3.1v7.2m-2.8-4.3h7.2m-4.1-3.1v7.2m-2.9-4.3h7.2m-4.1-3.1v7.2m-2.8-4.3h7.2m-4.1-3.1v7.2m-2.8-4.3h7.2m-4.1-3.1v7.2m-2.8-4.3h7.2m-4.1-3.1v7.2m-2.9-4.3h7.2m-4.1-3.1v7.2m-2.8-4.3h7.2m-4.1-3.1v7.2m-2.8-4.3h7.2m-4.1-3.1v7.2m-2.9-4.3h7.2m-4.1-3.1v7.2m-2.8-4.3h7.2m-4.1-3.1v7.2m-2.8-4.3h7.2m-4.1-3.1v7.2m-2.8-4.4h7.2m-4.1-3.1v7.2m-2.9-4.3h7.2m-4.1-3.1v7.2m-2.8-4.3h7.2m-4.1-3.1v7.2m-2.8-4.3h7.2m-4.1-3.1v7.2m-2.8-4.3h7.2m-4.1-3.1v7.2m-2.9-4.3h7.2m-4.1-3.1v7.2m-2.8-4.3h7.2m-4.1-3.1v7.2m-2.8-4.3h7.2m-4.1-3.1v7.2m-2.9-4.3h7.2m-4.1-3.1v7.2m-2.8-4.3h7.2m-4.1-3.1v7.2m-2.8-4.3h7.2m-4.1-3.1v7.2m-2.8-4.3h7.2m-4.1-3.1v7.2m-2.9-4.3h7.2m-4.1-3.1v7.2m-2.8-4.3h7.2m-4.1-3.1v7.2m-2.8-4.3h7.2m-4.1-3.1v7.2m-2.9-4.3h7.2m-4.1-3.1v7.2m-2.8-4.3h7.2m-4.1-3.1v7.2m-2.8-4.3h7.2m-4.1-3.1v7.2m-2.8-4.3h7.2m-4.1-3.1v7.2m-2.9-4.3h7.2m-4.1-3.1v7.2m-2.8-4.3h7.2m-4.1-3.1v7.2m-2.8-4.3h7.2m-4.1-3.1v7.2m-2.9-4.3h7.2m-4.1-3.1v7.2m-2.8-4.3h7.2m-4.1-3.1v7.2m-2.8-4.3h7.2m-4.1-3.1v7.2m-2.8-4.3h7.2m-4.1-3.1v7.2m-2.9-4.3h7.2m-4.1-3.1v7.2m-2.8-4.3h7.2m-4.1-3.1v7.2m-2.8-4.3h7.2m-4.1-3.1v7.2m-2.9-4.3h7.2m-4.1-3.1v7.2m-2.8-4.3h7.2m-4.1-3.1v7.2m-2.8-4.3h7.2m-4.1-3.1v7.2m-2.8-4.3h7.2m-4.1-3.1v7.2m-2.9-4.3h7.2m-4.1-3.1v7.2m-2.8-4.3h7.2m-4.1-3.1v7.2m-2.8-4.3h7.2m-4.1-3.1v7.2m-2.9-4.3h7.2m-4.1-3.1v7.2m-2.8-4.3h7.2m-4.1-3.1v7.2m-2.8-4.2h7.2m-4.1-3.1v7.2m-2.8-4.3h7.2m-4.1-3.1v7.2m-2.9-4.3h7.2m-4.1-3.1v7.2m-2.8-4.3h7.2m-4.1-3.1v7.2m-2.8-4.3h7.2m-4.1-3.1v7.2m-2.8-4.3h7.2m-4.1-3.1v7.2m-2.9-4.3h7.2m-4.1-3.1v7.2m-2.8-4.3h7.2m-4.1-3.1v7.2m-2.8-4.3h7.2m-4.1-3.1v7.2m-2.9-4.3h7.2m-4.1-3.1v7.2m-2.8-4.3h7.2m-4.1-3.1v7.2m-2.8-4.3h7.2m-4.1-3.1v7.2m-2.8-4.3h7.2m-4.1-3.1v7.2m-2.9-4.3h7.2m-4.1-3.1v7.2m-2.8-4.3h7.2m-4.1-3.1v7.2m-2.8-4.3h7.2m-4.1-3.1v7.2m-2.9-4.3h7.2m-4.1-3.1v7.2m-2.8-4.3h7.2m-4.1-3.1v7.2m-2.8-4.3h7.2m-4.1-3.1v7.2m-2.8-4.3h7.2m-4.1-3.1v7.2m-2.9-4.3h7.2m-4.1-3.1v7.2m-2.8-4.3h7.2m-4.1-3.1v7.2m-2.8-4.3h7.2m-4.1-3.1v7.2m-2.9-4.3h7.2m-4.1-3.1v7.2m-2.8-4.3h7.2m-4.1-3.1v7.2m-2.8-4.3h7.2m-4.1-3.1v7.2m-2.8-4.3h7.2m-4.1-3.1v7.2m-2.9-4.3h7.2m-4.1-3.1v7.2m-2.8-4.3h7.2m-4.1-3.1v7.2m-2.8-4.3h7.2m-4.1-3.1v7.2m-2.9-4.3h7.2m-4.1-3.1v7.2m-2.8-4.3h7.2m-4.1-3.1v7.2m-2.8-4.2h7.2m-4.1-3.1v7.2m-2.8-4.3h7.2m-4.1-3.1v7.2m-2.9-4.3h7.2m-4.1-3.1v7.2m-2.8-4.3h7.2m-4.1-3.1v7.2m-2.8-4.3h7.2m-4.1-3.1v7.2m-2.9-4.3h7.2m-4.1-3.1v7.2m-2.8-4.3h7.2m-4.1-3.1v7.2m-2.8-4.3h7.2m-4.1-3.1v7.2m-2.8-4.3h7.2m-4.1-3.1v7.2m-2.9-4.3h7.2m-4.1-3.1v7.2m-2.8-4.3h7.2m-4.1-3.1v7.2m-2.8-4.3h7.2m-4.1-3.1v7.2m-2.9-4.3h7.2m-4.1-3.1v7.2m-2.8-4.3h7.2m-4.1-3.1v7.2m-2.8-4.3h7.2m-4.1-3.1v7.2m-2.8-4.3h7.2m-4.1-3.1v7.2m-2.9-4.3h7.2m-4.1-3.1v7.2m-2.8-4.3h7.2m-4.1-3.1v7.2m-2.8-4.2h7.2m-4.1-3.1v7.2m-2.8-4.3h7.2m-4.1-3.1v7.2m-2.9-4.3h7.2m-4.1-3.1v7.2m-2.8-4.3h7.2m-4.1-3.1v7.2m-2.8-4.3h7.2m-4.1-3.1v7.2m-2.9-4.3h7.2m-4.1-3.1v7.2m-2.8-4.3h7.2m-4.1-3.1v7.2m-2.8-4.3h7.2m-4.1-3.1v7.2m-2.8-4.3h7.2m-4.1-3.1v7.2m-2.9-4.3h7.2m-4.1-3.1v7.2m-2.8-4.3h7.2m-4.1-3.1v7.2m-2.8-4.3h7.2m-4.1-3.1v7.2m-2.9-4.3h7.2m-4.1-3.1v7.2m-2.8-4.2h7.2m-4.1-3.1v7.2m-2.8-4.3h7.2m-4.1-3.1v7.2m-2.8-4.3h7.2m-4.1-3.1v7.2m-2.9-4.3h7.2m-4.1-3.1v7.2m-2.8-4.3h7.2m-4.1-3.1v7.2m-2.8-4.3h7.2m-4.1-3.1v7.2m-2.9-4.3h7.2m-4.1-3.1v7.2m-2.8-4.3h7.2m-4.1-3.1v7.2m-2.8-4.3h7.2m-4.1-3.1v7.2m-2.8-4.3h7.2m-4.1-3.1v7.2m-2.9-4.3h7.2m-4.1-3.1v7.2m-2.8-4.3h7.2m-4.1-3.1v7.2m-2.8-4.2h7.2m-4.1-3.1v7.2m-2.9-4.3h7.2m-4.1-3.1v7.2m-2.8-4.3h7.2m-4.1-3.1v7.2m-2.8-4.3h7.2m-4.1-3.1v7.2m-2.8-4.3h7.2m-4.1-3.1v7.2m-2.9-4.3h7.2m-4.1-3.1v7.2m-2.8-4.3h7.2m-4.1-3.1v7.2m-2.8-4.3h7.2m-4.1-3.1v7.2m-2.9-4.3h7.2m-4.1-3.1v7.2m-2.8-4.3h7.2m-4.1-3.1v7.2m-2.8-4.2h7.2m-4.1-3.1v7.2m-2.8-4.3h7.2m-4.1-3.1v7.2m-2.9-4.3h7.2m-4.1-3.1v7.2m-2.8-4.3h7.2m-4.1-3.1v7.2m-2.8-4.3h7.2m-4.1-3.1v7.2m-2.8-4.3h7.2m-4.1-3.1v7.2m-2.9-4.3h7.2m-4.1-3.1v7.2m-2.8-4.3h7.2m-4.1-3.1v7.2m-2.8-4.3h7.2m-4.1-3.1v7.2m-2.9-4.3h7.2m-4.1-3.1v7.2m-2.8-4.2h7.2m-4.1-3.1v7.2m-2.8-4.3h7.2m-4.1-3.1v7.2m-2.8-4.3h7.2m-4.1-3.1v7.2m-2.9-4.3h7.2m-4.1-3.1v7.2m-2.8-4.3h7.2m-4.1-3.1v7.2m-2.8-4.3h7.2m-4.1-3.1v7.2m-2.9-4.3h7.2m-4.1-3.1v7.2m-2.8-4.3h7.2m-4.1-3.1v7.2m-2.8-4.3h7.2m-4.1-3.1v7.2m-2.8-4.3h7.2m-4.1-3.1v7.2m-2.9-4.2h7.2m-4.1-3.1v7.2m-2.8-4.3h7.2m-4.1-3.1v7.2m-2.8-4.3h7.2m-4.1-3.1v7.2m-2.9-4.3h7.2m-4.1-3.1v7.2m-2.8-4.3h7.2m-4.1-3.1v7.2m-2.8-4.3h7.2m-4.1-3.1v7.2m-2.8-4.3h7.2m-4.1-3.1v7.2m-2.9-4.3h7.2m-4.1-3.1v7.2m-2.8-4.3h7.2m-4.1-3.1v7.2m-2.8-4.3h7.2m-4.1-3.1v7.2m-2.9-4.3h7.2m-4.1-3.1v7.2m-2.8-4.2h7.2m-4.1-3.1v7.2m-2.8-4.3h7.2m-4.1-3.1v7.2m-2.8-4.3h7.2m-4.1-3.1v7.2m-2.9-4.3h7.2m-4.1-3.1v7.2m-2.8-4.3h7.2m-4.1-3.1v7.2m-2.8-4.3h7.2m-4.1-3.1v7.2m-2.9-4.3h7.2m-4.1-3.1v7.2m-2.8-4.3h7.2m-4.1-3.1v7.2m-2.8-4.3h7.2m-4.1-3.1v7.2m-2.8-4.3h7.2m-4.1-3.1v7.2m-2.9-4.3h7.2m-4.1-3.1v7.2m-2.8-4.3h7.2m-4.1-3.1v7.2m-2.8-4.2h7.2m-4.1-3.1v7.2m-2.8-4.3h7.2m-4.1-3.1v7.2m-2.9-4.3h7.2m-4.1-3.1v7.2m-2.8-4.3h7.2m-4.1-3.1v7.2m-2.8-4.3h7.2m-4.1-3.1v7.2m-2.9-4.3h7.2m-4.1-3.1v7.2m-2.8-4.3h7.2m-4.1-3.1v7.2m-2.8-4.3h7.2m-4.1-3.1v7.2m-2.8-4.3h7.2m-4.1-3.1v7.2m-2.9-4.3h7.2m-4.1-3.1v7.2m-2.8-4.3h7.2m-4.1-3.1v7.2m-2.8-4.3h7.2m-4.1-3.1v7.2m-2.9-4.2h7.2m-4.1-3.1v7.2m-2.8-4.3h7.2m-4.1-3.1v7.2m-2.8-4.3h7.2m-4.1-3.1v7.2m-2.8-4.3h7.2m-4.1-3.1v7.2m-2.9-4.3h7.2m-4.1-3.1v7.2m-2.8-4.3h7.2m-4.1-3.1v7.2m-2.8-4.3h7.2m-4.1-3.1v7.2m-2.9-4.3h7.2m-4.1-3.1v7.2m-2.8-4.3h7.2m-4.1-3.1v7.2m-2.8-4.3h7.2m-4.1-3.1v7.2m-2.8-4.3h7.2m-4.1-3.1v7.2m-2.9-4.3h7.2m-4.1-3.1v7.2m-2.8-4.2h7.2m-4.1-3.1v7.2m-2.8-4.3h7.2m-4.1-3.1v7.2m-2.9-4.3h7.2m-4.1-3.1v7.2m-2.8-4.3h7.2m-4.1-3.1v7.2m-2.8-4.3h7.2m-4.1-3.1v7.2m-2.8-4.3h7.2m-4.1-3.1v7.2m-2.9-4.3h7.2m-4.1-3.1v7.2m-2.8-4.3h7.2m-4.1-3.1v7.2m-2.8-4.3h7.2m-4.1-3.1v7.2m-2.9-4.3h7.2m-4.1-3.1v7.2m-2.8-4.3h7.2m-4.1-3.1v7.2m-2.8-4.2h7.2m-4.1-3.1v7.2m-2.8-4.3h7.2m-4.1-3.1v7.2m-2.9-4.3h7.2m-4.1-3.1v7.2m-2.8-4.3h7.2m-4.1-3.1v7.2m-2.8-4.3h7.2m-4.1-3.1v7.2m-2.9-4.3h7.2m-4.1-3.1v7.2m-2.8-4.3h7.2m-4.1-3.1v7.2m-2.8-4.3h7.2m-4.1-3.1v7.2m-2.8-4.3h7.2m-4.1-3.1v7.2m-2.9-4.3h7.2m-4.1-3.1v7.2m-2.8-4.3h7.2m-4.1-3.1v7.2m-2.8-4.2h7.2m-4.1-3.1v7.2m-2.8-4.3h7.2m-4.1-3.1v7.2m-2.9-4.3h7.2m-4.1-3.1v7.2m-2.8-4.3h7.2m-4.1-3.1v7.2m-2.8-4.3h7.2m-4.1-3.1v7.2m-2.9-4.3h7.2m-4.1-3.1v7.2m-2.8-4.3h7.2m-4.1-3.1v7.2m-2.8-4.3h7.2m-4.1-3.1v7.2m-2.8-4.3h7.2m-4.1-3.1v7.2m-2.9-4.3h7.2m-4.1-3.1v7.2m-2.8-4.2h7.2m-4.1-3.1v7.2m-2.8-4.3h7.2m-4.1-3.1v7.2m-2.9-4.3h7.2m-4.1-3.1v7.2m-2.8-4.3h7.2m-4.1-3.1v7.2m-2.8-4.3h7.2m-4.1-3.1v7.2m-2.8-4.3h7.2m-4.1-3.1v7.2m-2.9-4.3h7.2m-4.1-3.1v7.2m-2.8-4.3h7.2m-4.1-3.1v7.2" stroke="#00ff00"/>
<path class="b" d="M108.2 504.1l7.2 7.2m0-7.2l-7.2 7.2m.3-7.2l7.2 7.2m0-7.2l-7.2 7.2m.3-7.2l7.2 7.2m0-7.2l-7.2 7.2m.2-7.2l7.2 7.2m0-7.2l-7.2 7.2m.3-7.2l7.2 7.2m0-7.2l-7.2 7.2m.3-7.2l7.2 7.2m0-7.2l-7.2 7.2m.3-7.2l7.2 7.2m0-7.2l-7.2 7.2m.2-7.2l7.2 7.2m0-7.2l-7.2 7.2m.3-7.2l7.2 7.2m0-7.2l-7.2 7.2m.3-7.2l7.2 7.2m0-7.2l-7.2 7.2m.3-7.2l7.2 7.2m0-7.2l-7.2 7.2m.2-7.2l7.2 7.2m0-7.2l-7.2 7.2m.3-7.2l7.2 7.2m0-7.2l-7.2 7.2m.3-7.3l7.2 7.2m0-7.2l-7.2 7.2m.3-7.3l7.2 7.2m0-7.2l-7.2 7.2m.2-7.3l7.2 7.2m0-7.2l-7.2 7.2m.3-7.3l7.2 7.2m0-7.2l-7.2 7.2m.3-7.3l7.2 7.2m0-7.2l-7.2 7.2m.3-7.4l7.2 7.2m0-7.2l-7.2 7.2m.2-7.4l7.2 7.2m0-7.2l-7.2 7.2m.3-7.4l7.2 7.2m0-7.2l-7.2 7.2m.3-7.4l7.2 7.2m0-7.2l-7.2 7.2m.3-7.4l7.2 7.2m0-7.2l-7.2 7.2m.2-7.4l7.2 7.2m0-7.2l-7.2 7.2m.3-7.5l7.2 7.2m0-7.2l-7.2 7.2m.3-7.4l7.2 7.2m0-7.2l-7.2 7.2m.3-7.5l7.2 7.2m0-7.2l-7.2 7.2m.3-7.5l7.2 7.2m0-7.2l-7.2 7.2m.2-7.5l7.2 7.2m0-7.2l-7.2 7.2m.3-7.5l7.2 7.2m0-7.2l-7.2 7.2m.3-7.5l7.2 7.2m0-7.2l-7.2 7.2m.3-7.5l7.2 7.2m0-7.2l-7.2 7.2m.2-7.5l7.2 7.2m0-7.2l-7.2 7.2m.3-7.6l7.2 7.2m0-7.2l-7.2 7.2m.3-7.5l7.2 7.2m0-7.2l-7.2 7.2m.3-7.5l7.2 7.2m0-7.2l-7.2 7.2m.2-7.6l7.2 7.2m0-7.2l-7.2 7.2m.3-7.5l7.2 7.2m0-7.2l-7.2 7.2m.3-7.6l7.2 7.2m0-7.2l-7.2 7.2m.3-7.6l7.2 7.2m0-7.2l-7.2 7.2m.2-7.5l7.2 7.2m0-7.2l-7.2 7.2m.3-7.6l7.2 7.2m0-7.2l-7.2 7.2m.3-7.6l7.2 7.2m0-7.2l-7.2 7.2m.3-7.6l7.2 7.2m0-7.2l-7.2 7.2m.2-7.6l7.2 7.2m0-7.2l-7.2 7.2m.3-7.6l7.2 7.2m0-7.2l-7.2 7.2m.3-7.6l7.2 7.2m0-7.2l-7.2 7.2m.3-7.5l7.2 7.2m0-7.2l-7.2 7.2m.2-7.6l7.2 7.2m0-7.2l-7.2 7.2m.3-7.6l7.2 7.2m0-7.2l-7.2 7.2m.3-7.7l7.2 7.2m0-7.2l-7.2 7.2m.3-7.6l7.2 7.2m0-7.2l-7.2 7.2m.3-7.6l7.2 7.2m0-7.2l-7.2 7.2m.2-7.6l7.2 7.2m0-7.2l-7.2 7.2m.3-7.6l7.2 7.2m0-7.2l-7.2 7.2m.3-7.6l7.2 7.2m0-7.2l-7.2 7.2m.3-7.6l7.2 7.2m0-7.2l-7.2 7.2m.2-7.6l7.2 7.2m0-7.2l-7.2 7.2m.3-7.6l7.2 7.2m0-7.2l-7.2 7.2m.3-7.7l7.2 7.2m0-7.2l-7.2 7.2m.3-7.6l7.2 7.2m0-7.2l-7.2 7.2m.2-7.6l7.2 7.2m0-7.2l-7.2 7.2m.3-7.6l7.2 7.2m0-7.2l-7.2 7.2m.3-7.7l7.2 7.2m0-7.2l-7.2 7.2m.3-7.6l7.2 7.2m0-7.2l-7.2 7.2m.2-7.6l7.2 7.2m0-7.2l-7.2 7.2m.3-7.6l7.2 7.2m0-7.2l-7.2 7.2m.3-7.7l7.2 7.2m0-7.2l-7.2 7.2m.3-7.6l7.2 7.2m0-7.2l-7.2 7.2m.2-7.6l7.2 7.2m0-7.2l-7.2 7.2m.3-7.7l7.2 7.2m0-7.2l-7.2 7.2m.3-7.6l7.2 7.2m0-7.2l-7.2 7.2m.3-7.6l7.2 7.2m0-7.2l-7.2 7.2m.2-7.7l7.2 7.2m0-7.2l-7.2 7.2m.3-7.6l7.2 7.2m0-7.2l-7.2 7.2m.3-7.6l7.2 7.2m0-7.2l-7.2 7.2m.3-7.7l7.2 7.2m0-7.2l-7.2 7.2m.3-7.6l7.2 7.2m0-7.2l-7.2 7.2m.2-7.6l7.2 7.2m0-7.2l-7.2 7.2m.3-7.7l7.2 7.2m0-7.2l-7.2 7.2m.3-7.6l7.2 7.2m0-7.2l-7.2 7.2m.3-7.7l7.2 7.2m0-7.2l-7.2 7.2m.2-7.6l7.2 7.2m0-7.2l-7.2 7.2m.3-7.6l7.2 7.2m0-7.2l-7.2 7.2m.3-7.7l7.2 7.2m0-7.2l-7.2 7.2m.3-7.6l7.2 7.2m0-7.2l-7.2 7.2m.2-7.7l7.2 7.2m0-7.2l-7.2 7.2m.3-7.6l7.2 7.2m0-7.2l-7.2 7.2m.3-7.6l7.2 7.2m0-7.2l-7.2 7.2m.3-7.7l7.2 7.2m0-7.2l-7.2 7.2m.2-7.6l7.2 7.2m0-7.2l-7.2 7.2m.3-7.7l7.2 7.2m0-7.2l-7.2 7.2m.3-7.6l7.2 7.2m0-7.2l-7.2 7.2m.3-7.7l7.2 7.2m0-7.2l-7.2 7.2m.2-7.6l7.2 7.2m0-7.2l-7.2 7.2m.3-7.7l7.2 7.2m0-7.2l-7.2 7.2m.3-7.6l7.2 7.2m0-7.2l-7.2 7.2m.3-7.6l7.2 7.2m0-7.2l-7.2 7.2m.2-7.7l7.2 7.2m0-7.2l-7.2 7.2m.3-7.6l7.2 7.2m0-7.2l-7.2 7.2m.3-7.7l7.2 7.2m0-7.2l-7.2 7.2m.3-7.6l7.2 7.2m0-7.2l-7.2 7.2m.2-7.7l7.2 7.2m0-7.2l-7.2 7.2m.3-7.6l7.2 7.2m0-7.2l-7.2 7.2m.3-7.7l7.2 7.2m0-7.2l-7.2 7.2m.3-7.6l7.2 7.2m0-7.2l-7.2 7.2m.3-7.7l7.2 7.2m0-7.2l-7.2 7.2m.2-7.6l7.2 7.2m0-7.2l-7.2 7.2m.3-7.7l7.2 7.2m0-7.2l-7.2 7.2m.3-7.6l7.2 7.2m0-7.2l-7.2 7.2m.3-7.7l7.2 7.2m0-7.2l-7.2 7.2m.2-7.6l7.2 7.2m0-7.2l-7.2 7.2m.3-7.7l7.2 7.2m0-7.2l-7.2 7.2m.3-7.6l7.2 7.2m0-7.2l-7.2 7.2m.3-7.7l7.2 7.2m0-7.2l-7.2 7.2m.2-7.6l7.2 7.2m0-7.2l-7.2 7.2m.3-7.7l7.2 7.2m0-7.2l-7.2 7.2m.3-7.6l7.2 7.2m0-7.2l-7.2 7.2m.3-7.6l7.2 7.2m0-7.2l-7.2 7.2m.2-7.7l7.2 7.2m0-7.2l-7.2 7.2m.3-7.6l7.2 7.2m0-7.2l-7.2 7.2m.3-7.7l7.2 7.2m0-7.2l-7.2 7.2m.3-7.6l7.2 7.2m0-7.2l-7.2 7.2m.2-7.7l7.2 7.2m0-7.2l-7.2 7.2m.3-7.6l7.2 7.2m0-7.2l-7.2 7.2m.3-7.7l7.2 7.2m0-7.2l-7.2 7.2m.3-7.6l7.2 7.2m0-7.2l-7.2 7.2m.2-7.7l7.2 7.2m0-7.2l-7.2 7.2m.3-7.6l7.2 7.2m0-7.2l-7.2 7.2m.3-7.7l7.2 7.2m0-7.2l-7.2 7.2m.3-7.6l7.2 7.2m0-7.2l-7.2 7.2m.3-7.7l7.2 7.2m0-7.2l-7.2 7.2m.2-7.6l7.2 7.2m0-7.2l-7.2 7.2m.3-7.7l7.2 7.2m0-7.2l-7.2 7.2m.3-7.6l7.2 7.2m0-7.2l-7.2 7.2m.3-7.7l7.2 7.2m0-7.2l-7.2 7.2m.2-7.6l7.2 7.2m0-7.2l-7.2 7.2m.3-7.7l7.2 7.2m0-7.2l-7.2 7.2m.3-7.6l7.2 7.2m0-7.2l-7.2 7.2m.3-7.7l7.2 7.2m0-7.2l-7.2 7.2m.2-7.6l7.2 7.2m0-7.2l-7.2 7.2m.3-7.7l7.2 7.2m0-7.2l-7.2 7.2m.3-7.6l7.2 7.2m0-7.2l-7.2 7.2m.3-7.7l7.2 7.2m0-7.2l-7.2 7.2m.2-7.6l7.2 7.2m0-7.2l-7.2 7.2m.3-7.7l7.2 7.2m0-7.2l-7.2 7.2m.3-7.6l7.2 7.2m0-7.2l-7.2 7.2m.3-7.7l7.2 7.2m0-7.2l-7.2 7.2m.2-7.6l7.2 7.2m0-7.2l-7.2 7.2m.3-7.7l7.2 7.2m0-7.2l-7.2 7.2m.3-7.6l7.2 7.2m0-7.2l-7.2 7.2m.3-7.7l7.2 7.2m0-7.2l-7.2 7.2m.2-7.6l7.2 7.2m0-7.2l-7.2 7.2m.3-7.7l7.2 7.2m0-7.2l-7.2 7.2m.3-7.6l7.2 7.2m0-7.2l-7.2 7.2m.3-7.7l7.2 7.2m0-7.2l-7.2 7.2m.3-7.6l7.2 7.2m0-7.2l-7.2 7.2m.2-7.7l7.2 7.2m0-7.2l-7.2 7.2m.3-7.6l7.2 7.2m0-7.2l-7.2 7.2m.3-7.7l7.2 7.2m0-7.2l-7.2 7.2m.3-7.6l7.2 7.2m0-7.2l-7.2 7.2m.2-7.7l7.2 7.2m0-7.2l-7.2 7.2m.3-7.6l7.2 7.2m0-7.2l-7.2 7.2m.3-7.7l7.2 7.2m0-7.2l-7.2 7.2m.3-7.6l7.2 7.2m0-7.2l-7.2 7.2m.2-7.7l7.2 7.2m0-7.2l-7.2 7.2m.3-7.6l7.2 7.2m0-7.2l-7.2 7.2m.3-7.6l7.2 7.2m0-7.2l-7.2 7.2m.3-7.7l7.2 7.2m0-7.2l-7.2 7.2m.2-7.6l7.2 7.2m0-7.2l-7.2 7.2m.3-7.7l7.2 7.2m0-7.2l-7.2 7.2m.3-7.6l7.2 7.2m0-7.2l-7.2 7.2m.3-7.7l7.2 7.2m0-7.2l-7.2 7.2m.2-7.6l7.2 7.2m0-7.2l-7.2 7.2m.3-7.7l7.2 7.2m0-7.2l-7.2 7.2m.3-7.6l7.2 7.2m0-7.2l-7.2 7.2m.3-7.7l7.2 7.2m0-7.2l-7.2 7.2m.2-7.6l7.2 7.2m0-7.2l-7.2 7.2m.3-7.7l7.2 7.2m0-7.2l-7.2 7.2m.3-7.6l7.2 7.2m0-7.2l-7.2 7.2m.3-7.6l7.2 7.2m0-7.2l-7.2 7.2m.3-7.7l7.2 7.2m0-7.2l-7.2 7.2m.2-7.6l7.2 7.2m0-7.2l-7.2 7.2m.3-7.7l7.2 7.2m0-7.2l-7.2 7.2m.3-7.6l7.2 7.2m0-7.2l-7.2 7.2m.3-7.7l7.2 7.2m0-7.2l-7.2 7.2m.2-7.6l7.2 7.2m0-7.2l-7.2 7.2m.3-7.7l7.2 7.2m0-7.2l-7.2 7.2m.3-7.6l7.2 7.2m0-7.2l-7.2 7.2m.3-7.6l7.2 7.2m0-7.2l-7.2 7.2m.2-7.7l7.2 7.2m0-7.2l-7.2 7.2m.3-7.6l7.2 7.2m0-7.2l-7.2 7.2m.3-7.7l7.2 7.2m0-7.2l-7.2 7.2m.3-7.6l7.2 7.2m0-7.2l-7.2 7.2m.2-7.7l7.2 7.2m0-7.2l-7.2 7.2m.3-7.6l7.2 7.2m0-7.2l-7.2 7.2m.3-7.6l7.2 7.2m0-7.2l-7.2 7.2m.3-7.7l7.2 7.2m0-7.2l-7.2 7.2m.2-7.6l7.2 7.2m0-7.2l-7.2 7.2m.3-7.7l7.2 7.2m0-7.2l-7.2 7.2m.3-7.6l7.2 7.2m0-7.2l-7.2 7.2m.3-7.6l7.2 7.2m0-7.2l-7.2 7.2m.2-7.7l7.2 7.2m0-7.2l-7.2 7.2m.3-7.6l7.2 7.2m0-7.2l-7.2 7.2m.3-7.7l7.2 7.2m0-7.2l-7.2 7.2m.3-7.6l7.2 7.2m0-7.2l-7.2 7.2m.3-7.6l7.2 7.2m0-7.2l-7.2 7.2m.2-7.7l7.2 7.2m0-7.2l-7.2 7.2m.3-7.6l7.2 7.2m0-7.2l-7.2 7.2m.3-7.7l7.2 7.2m0-7.2l-7.2 7.2m.3-7.6l7.2 7.2m0-7.2l-7.2 7.2m.2-7.6l7.2 7.2m0-7.2l-7.2 7.2m.3-7.7l7.2 7.2m0-7.2l-7.2 7.2m.3-7.6l7.2 7.2m0-7.2l-7.2 7.2m.3-7.7l7.2 7.2m0-7.2l-7.2 7.2m.2-7.6l7.2 7.2m0-7.2l-7.2 7.2m.3-7.6l7.2 7.2m0-7.2l-7.2 7.2m.3-7.7l7.2 7.2m0-7.2l-7.2 7.2m.3-7.6l7.2 7.2m0-7.2l-7.2 7.2m.2-7.6l7.2 7.2m0-7.2l-7.2 7.2m.3-7.7l7.2 7.2m0-7.2l-7.2 7.2m.3-7.6l7.2 7.2m0-7.2l-7.2 7.2m.3-7.6l7.2 7.2m0-7.2l-7.2 7.2m.2-7.7l7.2 7.2m0-7.2l-7.2 7.2m.3-7.6l7.2 7.2m0-7.2l-7.2 7.2m.3-7.7l7.2 7.2m0-7.2l-7.2 7.2m.3-7.6l7.2 7.2m0-7.2l-7.2 7.2m.2-7.6l7.2 7.2m0-7.2l-7.2 7.2m.3-7.7l7.2 7.2m0-7.2l-7.2 7.2m.3-7.6l7.2 7.2m0-7.2l-7.2 7.2m.3-7.6l7.2 7.2m0-7.2l-7.2 7.2m.3-7.7l7.2 7.2m0-7.2l-7.2 7.2m.2-7.6l7.2 7.2m0-7.2l-7.2 7.2m.3-7.6l7.2 7.2m0-7.2l-7.2 7.2m.3-7.6l7.2 7.2m0-7.2l-7.2 7.2m.3-7.7l7.2 7.2m0-7.2l-7.2 7.2m.2-7.6l7.2 7.2m0-7.2l-7.2 7.2m.3-7.6l7.2 7.2m0-7.2l-7.2 7.2m.3-7.7l7.2 7.2m0-7.2l-7.2 7.2m.3-7.6l7.2 7.2m0-7.2l-7.2 7.2m.2-7.6l7.2 7.2m0-7.2l-7.2 7.2m.3-7.7l7.2 7.2m0-7.2l-7.2 7.2m.3-7.6l7.2 7.2m0-7.2l-7.2 7.2m.3-7.6l7.2 7.2m0-7.2l-7.2 7.2m.2-7.6l7.2 7.2m0-7.2l-7.2 7.2m.3-7.7l7.2 7.2m0-7.2l-7.2 7.2m.3-7.6l7.2 7.2m0-7.2l-7.2 7.2m.3-7.6l7.2 7.2m0-7.2l-7.2 7.2m.2-7.7l7.2 7.2m0-7.2l-7.2 7.2m.3-7.6l7.2 7.2m0-7.2l-7.2 7.2m.3-7.6l7.2 7.2m0-7.2l-7.2 7.2m.3-7.6l7.2 7.2m0-7.2l-7.2 7.2m.2-7.7l7.2 7.2m0-7.2l-7.2 7.2m.3-7.6l7.2 7.2m0-7.2l-7.2 7.2m.3-7.6l7.2 7.2m0-7.2l-7.2 7.2m.3-7.6l7.2 7.2m0-7.2l-7.2 7.2m.2-7.7l7.2 7.2m0-7.2l-7.2 7.2m.3-7.6l7.2 7.2m0-7.2l-7.2 7.2m.3-7.6l7.2 7.2m0-7.2l-7.2 7.2m.3-7.6l7.2 7.2m0-7.2l-7.2 7.2m.3-7.7l7.2 7.2m0-7.2l-7.2 7.2m.2-7.6l7.2 7.2m0-7.2l-7.2 7.2m.3-7.6l7.2 7.2m0-7.2l-7.2 7.2m.3-7.6l7.2 7.2m0-7.2l-7.2 7.2m.3-7.6l7.2 7.2m0-7.2l-7.2 7.2m.2-7.7l7.2 7.2m0-7.2l-7.2 7.2m.3-7.6l7.2 7.2m0-7.2l-7.2 7.2m.3-7.6l7.2 7.2m0-7.2l-7.2 7.2m.3-7.6l7.2 7.2m0-7.2l-7.2 7.2m.2-7.6l7.2 7.2m0-7.2l-7.2 7.2m.3-7.7l7.2 7.2m0-7.2l-7.2 7.2m.3-7.6l7.2 7.2m0-7.2l-7.2 7.2m.3-7.6l7.2 7.2m0-7.2l-7.2 7.2m.2-7.6l7.2 7.2m0-7.2l-7.2 7.2m.3-7.6l7.2 7.2m0-7.2l-7.2 7.2m.3-7.6l7.2 7.2m0-7.2l-7.2 7.2m.3-7.7l7.2 7.2m0-7.2l-7.2 7.2m.2-7.6l7.2 7.2m0-7.2l-7.2 7.2m.3-7.6l7.2 7.2m0-7.2l-7.2 7.2m.3-7.6l7.2 7.2m0-7.2l-7.2 7.2m.3-7.6l7.2 7.2m0-7.2l-7.2 7.2m.2-7.6l7.2 7.2m0-7.2l-7.2 7.2m.3-7.7l7.2 7.2m0-7.2l-7.2 7.2m.3-7.6l7.2 7.2m0-7.2l-7.2 7.2m.3-7.6l7.2 7.2m0-7.2l-7.2 7.2m.3-7.6l7.2 7.2m0-7.2l-7.2 7.2m.2-7.6l7.2 7.2m0-7.2l-7.2 7.2m.3-7.6l7.2 7.2m0-7.2l-7.2 7.2m.3-7.6l7.2 7.2m0-7.2l-7.2 7.2m.3-7.6l7.2 7.2m0-7.2l-7.2 7.2m.2-7.7l7.2 7.2m0-7.2l-7.2 7.2m.3-7.6l7.2 7.2m0-7.2l-7.2 7.2m.3-7.6l7.2 7.2m0-7.2l-7.2 7.2m.3-7.6l7.2 7.2m0-7.2l-7.2 7.2m.2-7.6l7.2 7.2m0-7.2l-7.2 7.2m.3-7.6l7.2 7.2m0-7.2l-7.2 7.2m.3-7.6l7.2 7.2m0-7.2l-7.2 7.2m.3-7.6l7.2 7.2m0-7.2l-7.2 7.2m.2-7.6l7.2 7.2m0-7.2l-7.2 7.2m.3-7.6l7.2 7.2m0-7.2l-7.2 7.2m.3-7.6l7.2 7.2m0-7.2l-7.2 7.2m.3-7.6l7.2 7.2m0-7.2l-7.2 7.2m.2-7.7l7.2 7.2m0-7.2l-7.2 7.2m.3-7.6l7.2 7.2m0-7.2l-7.2 7.2m.3-7.6l7.2 7.2m0-7.2l-7.2 7.2m.3-7.6l7.2 7.2m0-7.2l-7.2 7.2m.2-7.6l7.2 7.2m0-7.2l-7.2 7.2m.3-7.6l7.2 7.2m0-7.2l-7.2 7.2m.3-7.6l7.2 7.2m0-7.2l-7.2 7.2m.3-7.6l7.2 7.2m0-7.2l-7.2 7.2m.3-7.6l7.2 7.2m0-7.2l-7.2 7.2m.2-7.6l7.2 7.2m0-7.2l-7.2 7.2m.3-7.6l7.2 7.2m0-7.2l-7.2 7.2m.3-7.6l7.2 7.2m0-7.2l-7.2 7.2m.3-7.6l7.2 7.2m0-7.2l-7.2 7.2m.2-7.6l7.2 7.2m0-7.2l-7.2 7.2m.3-7.6l7.2 7.2m0-7.2l-7.2 7.2m.3-7.6l7.2 7.2m0-7.2l-7.2 7.2m.3-7.6l7.2 7.2m0-7.2l-7.2 7.2m.2-7.6l7.2 7.2m0-7.2l-7.2 7.2m.3-7.6l7.2 7.2m0-7.2l-7.2 7.2m.3-7.6l7.2 7.2m0-7.2l-7.2 7.2m.3-7.6l7.2 7.2m0-7.2l-7.2 7.2m.2-7.6l7.2 7.2m0-7.2l-7.2 7.2m.3-7.6l7.2 7.2m0-7.2l-7.2 7.2m.3-7.6l7.2 7.2m0-7.2l-7.2 7.2m.3-7.6l7.2 7.2m0-7.2l-7.2 7.2m.2-7.6l7.2 7.2m0-7.2l-7.2 7.2m.3-7.5l7.2 7.2m0-7.2l-7.2 7.2m.3-7.6l7.2 7.2m0-7.2l-7.2 7.2m.3-7.6l7.2 7.2m0-7.2l-7.2 7.2m.2-7.6l7.2 7.2m0-7.2l-7.2 7.2m.3-7.6l7.2 7.2m0-7.2l-7.2 7.2m.3-7.6l7.2 7.2m0-7.2l-7.2 7.2m.3-7.6l7.2 7.2m0-7.2l-7.2 7.2m.3-7.6l7.2 7.2m0-7.2l-7.2 7.2m.2-7.6l7.2 7.2m0-7.2l-7.2 7.2m.3-7.6l7.2 7.2m0-7.2l-7.2 7.2m.3-7.6l7.2 7.2m0-7.2l-7.2 7.2m.3-7.5l7.2 7.2m0-7.2l-7.2 7.2m.2-7.6l7.2 7.2m0-7.2l-7.2 7.2m.3-7.6l7.2 7.2m0-7.2l-7.2 7.2m.3-7.6l7.2 7.2m0-7.2l-7.2 7.2m.3-7.6l7.2 7.2m0-7.2l-7.2 7.2m.2-7.6l7.2 7.2m0-7.2l-7.2 7.2m.3-7.6l7.2 7.2m0-7.2l-7.2 7.2m.3-7.5l7.2 7.2m0-7.2l-7.2 7.2m.3-7.6l7.2 7.2m0-7.2l-7.2 7.2m.2-7.6l7.2 7.2m0-7.2l-7.2 7.2m.3-7.6l7.2 7.2m0-7.2l-7.2 7.2m.3-7.6l7.2 7.2m0-7.2l-7.2 7.2m.3-7.6l7.2 7.2m0-7.2l-7.2 7.2m.2-7.5l7.2 7.2m0-7.2l-7.2 7.2m.3-7.6l7.2 7.2m0-7.2l-7.2 7.2m.3-7.6l7.2 7.2m0-7.2l-7.2 7.2m.3-7.6l7.2 7.2m0-7.2l-7.2 7.2m.2-7.6l7.2 7.2m0-7.2l-7.2 7.2m.3-7.5l7.2 7.2m0-7.2l-7.2 7.2m.3-7.6l7.2 7.2m0-7.2l-7.2 7.2m.3-7.6l7.2 7.2m0-7.2l-7.2 7.2m.3-7.6l7.2 7.2m0-7.2l-7.2 7.2m.2-7.6l7.2 7.2m0-7.2l-7.2 7.2m.3-7.5l7.2 7.2m0-7.2l-7.2 7.2m.3-7.6l7.2 7.2m0-7.2l-7.2 7.2m.3-7.6l7.2 7.2m0-7.2l-7.2 7.2m.2-7.6l7.2 7.2m0-7.2l-7.2 7.2m.3-7.5l7.2 7.2m0-7.2l-7.2 7.2m.3-7.6l7.2 7.2m0-7.2l-7.2 7.2m.3-7.6l7.2 7.2m0-7.2l-7.2 7.2m.2-7.6l7.2 7.2m0-7.2l-7.2 7.2m.3-7.5l7.2 7.2m0-7.2l-7.2 7.2m.3-7.6l7.2 7.2m0-7.2l-7.2 7.2m.3-7.6l7.2 7.2m0-7.2l-7.2 7.2m.2-7.5l7.2 7.2m0-7.2l-7.2 7.2m.3-7.6l7.2 7.2m0-7.2l-7.2 7.2m.3-7.6l7.2 7.2m0-7.2l-7.2 7.2m.3-7.6l7.2 7.2m0-7.2l-7.2 7.2m.2-7.5l7.2 7.2m0-7.2l-7.2 7.2m.3-7.6l7.2 7.2m0-7.2l-7.2 7.2m.3-7.6l7.2 7.2m0-7.2l-7.2 7.2m.3-7.5l7.2 7.2m0-7.2l-7.2 7.2m.2-7.6l7.2 7.2m0-7.2l-7.2 7.2m.3-7.6l7.2 7.2m0-7.2l-7.2 7.2m.3-7.5l7.2 7.2m0-7.2l-7.2 7.2m.3-7.6l7.2 7.2m0-7.2l-7.2 7.2m.3-7.5l7.2 7.2m0-7.2l-7.2 7.2m.2-7.6l7.2 7.2m0-7.2l-7.2 7.2m.3-7.6l7.2 7.2m0-7.2l-7.2 7.2m.3-7.5l7.2 7.2m0-7.2l-7.2 7.2m.3-7.6l7.2 7.2m0-7.2l-7.2 7.2m.2-7.6l7.2 7.2m0-7.2l-7.2 7.2m.3-7.5l7.2 7.2m0-7.2l-7.2 7.2m.3-7.6l7.2 7.2m0-7.2l-7.2 7.2m.3-7.5l7.2 7.2m0-7.2l-7.2 7.2m.2-7.6l7.2 7.2m0-7.2l-7.2 7.2m.3-7.6l7.2 7.2m0-7.2l-7.2 7.2m.3-7.5l7.2 7.2m0-7.2l-7.2 7.2m.3-7.6l7.2 7.2m0-7.2l-7.2 7.2m.2-7.5l7.2 7.2m0-7.2l-7.2 7.2m.3-7.6l7.2 7.2m0-7.2l-7.2 7.2m.3-7.5l7.2 7.2m0-7.2l-7.2 7.2m.3-7.6l7.2 7.2m0-7.2l-7.2 7.2m.2-7.6l7.2 7.2m0-7.2l-7.2 7.2m.3-7.5l7.2 7.2m0-7.2l-7.2 7.2m.3-7.6l7.2 7.2m0-7.2l-7.2 7.2m.3-7.5l7.2 7.2m0-7.2l-7.2 7.2m.2-7.6l7.2 7.2m0-7.2l-7.2 7.2m.3-7.5l7.2 7.2m0-7.2l-7.2 7.2m.3-7.6l7.2 7.2m0-7.2l-7.2 7.2m.3-7.5l7.2 7.2m0-7.2l-7.2 7.2m.3-7.6l7.2 7.2m0-7.2l-7.2 7.2m.2-7.5l7.2 7.2m0-7.2l-7.2 7.2m.3-7.6l7.2 7.2m0-7.2l-7.2 7.2m.3-7.5l7.2 7.2m0-7.2l-7.2 7.2m.3-7.6l7.2 7.2m0-7.2l-7.2 7.2m.2-7.5l7.2 7.2m0-7.2l-7.2 7.2m.3-7.6l7.2 7.2m0-7.2l-7.2 7.2m.3-7.5l7.2 7.2m0-7.2l-7.2 7.2m.3-7.6l7.2 7.2m0-7.2l-7.2 7.2m.2-7.5l7.2 7.2m0-7.2l-7.2 7.2m.3-7.5l7.2 7.2m0-7.2l-7.2 7.2m.3-7.6l7.2 7.2m0-7.2l-7.2 7.2m.3-7.5l7.2 7.2m0-7.2l-7.2 7.2m.2-7.6l7.2 7.2m0-7.2l-7.2 7.2m.3-7.5l7.2 7.2m0-7.2l-7.2 7.2m.3-7.6l7.2 7.2m0-7.2l-7.2 7.2m.3-7.5l7.2 7.2m0-7.2l-7.2 7.2m.2-7.5l7.2 7.2m0-7.2l-7.2 7.2m.3-7.6l7.2 7.2m0-7.2l-7.2 7.2m.3-7.5l7.2 7.2m0-7.2l-7.2 7.2m.3-7.6l7.2 7.2m0-7.2l-7.2 7.2m.2-7.5l7.2 7.2m0-7.2l-7.2 7.2m.3-7.5l7.2 7.2m0-7.2l-7.2 7.2m.3-7.6l7.2 7.2m0-7.2l-7.2 7.2m.3-7.5l7.2 7.2m0-7.2l-7.2 7.2m.2-7.5l7.2 7.2m0-7.2l-7.2 7.2m.3-7.6l7.2 7.2m0-7.2l-7.2 7.2m.3-7.5l7.2 7.2m0-7.2l-7.2 7.2m.3-7.5l7.2 7.2m0-7.2l-7.2 7.2m.3-7.6l7.2 7.2m0-7.2l-7.2 7.2m.2-7.5l7.2 7.2m0-7.2l-7.2 7.2m.3-7.5l7.2 7.2m0-7.2l-7.2 7.2m.3-7.6l7.2 7.2m0-7.2l-7.2 7.2m.3-7.5l7.2 7.2m0-7.2l-7.2 7.2m.2-7.5l7.2 7.2m0-7.2l-7.2 7.2m.3-7.6l7.2 7.2m0-7.2l-7.2 7.2m.3-7.5l7.2 7.2m0-7.2l-7.2 7.2m.3-7.5l7.2 7.2m0-7.2l-7.2 7.2m.2-7.5l7.2 7.2m0-7.2l-7.2 7.2m.3-7.6l7.2 7.2m0-7.2l-7.2 7.2m.3-7.5l7.2 7.2m0-7.2l-7.2 7.2m.3-7.5l7.2 7.2m0-7.2l-7.2 7.2m.2-7.6l7.2 7.2m0-7.2l-7.2 7.2m.3-7.5l7.2 7.2m0-7.2l-7.2 7.2m.3-7.5l7.2 7.2m0-7.2l-7.2 7.2m.3-7.5l7.2 7.2m0-7.2l-7.2 7.2m.2-7.5l7.2 7.2m0-7.2l-7.2 7.2m.3-7.6l7.2 7.2m0-7.2l-7.2 7.2m.3-7.5l7.2 7.2m0-7.2l-7.2 7.2m.3-7.5l7.2 7.2m0-7.2l-7.2 7.2m.2-7.5l7.2 7.2m0-7.2l-7.2 7.2m.3-7.6l7.2 7.2m0-7.2l-7.2 7.2m.3-7.5l7.2 7.2m0-7.2l-7.2 7.2m.3-7.5l7.2 7.2m0-7.2l-7.2 7.2m.3-7.5l7.2 7.2m0-7.2l-7.2 7.2m.2-7.5l7.2 7.2m0-7.2l-7.2 7.2m.3-7.5l7.2 7.2m0-7.2l-7.2 7.2m.3-7.5l7.2 7.2m0-7.2l-7.2 7.2m.3-7.5l7.2 7.2m0-7.2l-7.2 7.2m.2-7.6l7.2 7.2m0-7.2l-7.2 7.2m.3-7.5l7.2 7.2m0-7.2l-7.2 7.2m.3-7.5l7.2 7.2m0-7.2l-7.2 7.2m.3-7.5l7.2 7.2m0-7.2l-7.2 7.2m.2-7.5l7.2 7.2m0-7.2l-7.2 7.2m.3-7.5l7.2 7.2m0-7.2l-7.2 7.2m.3-7.5l7.2 7.2m0-7.2l-7.2 7.2m.3-7.5l7.2 7.2m0-7.2l-7.2 7.2m.2-7.5l7.2 7.2m0-7.2l-7.2 7.2m.3-7.5l7.2 7.2m0-7.2l-7.2 7.2m.3-7.5l7.2 7.2m0-7.2l-7.2 7.2m.3-7.5l7.2 7.2m0-7.2l-7.2 7.2m.2-7.5l7.2 7.2m0-7.2l-7.2 7.2m.3-7.5l7.2 7.2m0-7.2l-7.2 7.2m.3-7.5l7.2 7.2m0-7.2l-7.2 7.2m.3-7.5l7.2 7.2m0-7.2l-7.2 7.2m.2-7.5l7.2 7.2m0-7.2l-7.2 7.2m.3-7.5l7.2 7.2m0-7.2l-7.2 7.2m.3-7.5l7.2 7.2m0-7.2l-7.2 7.2m.3-7.4l7.2 7.2m0-7.2l-7.2 7.2m.3-7.5l7.2 7.2m0-7.2l-7.2 7.2m.2-7.5l7.2 7.2m0-7.2l-7.2 7.2m.3-7.5l7.2 7.2m0-7.2l-7.2 7.2m.3-7.5l7.2 7.2m0-7.2l-7.2 7.2m.3-7.5l7.2 7.2m0-7.2l-7.2 7.2m.2-7.5l7.2 7.2m0-7.2l-7.2 7.2m.3-7.5l7.2 7.2m0-7.2l-7.2 7.2m.3-7.5l7.2 7.2m0-7.2l-7.2 7.2m.3-7.5l7.2 7.2m0-7.2l-7.2 7.2m.2-7.5l7.2 7.2m0-7.2l-7.2 7.2m.3-7.4l7.2 7.2m0-7.2l-7.2 7.2m.3-7.5l7.2 7.2m0-7.2l-7.2 7.2m.3-7.5l7.2 7.2m0-7.2l-7.2 7.2m.2-7.5l7.2 7.2m0-7.2l-7.2 7.2m.3-7.5l7.2 7.2m0-7.2l-7.2 7.2m.3-7.5l7.2 7.2m0-7.2l-7.2 7.2m.3-7.5l7.2 7.2m0-7.2l-7.2 7.2m.2-7.4l7.2 7.2m0-7.2l-7.2 7.2m.3-7.5l7.2 7.2m0-7.2l-7.2 7.2m.3-7.5l7.2 7.2m0-7.2l-7.2 7.2m.3-7.5l7.2 7.2m0-7.2l-7.2 7.2m.2-7.5l7.2 7.2m0-7.2l-7.2 7.2m.3-7.5l7.2 7.2m0-7.2l-7.2 7.2m.3-7.4l7.2 7.2m0-7.2l-7.2 7.2m.3-7.5l7.2 7.2m0-7.2l-7.2 7.2m.3-7.5l7.2 7.2m0-7.2l-7.2 7.2m.2-7.5l7.2 7.2m0-7.2l-7.2 7.2m.3-7.5l7.2 7.2m0-7.2l-7.2 7.2m.3-7.4l7.2 7.2m0-7.2l-7.2 7.2m.3-7.5l7.2 7.2m0-7.2l-7.2 7.2m.2-7.5l7.2 7.2m0-7.2l-7.2 7.2m.3-7.5l7.2 7.2m0-7.2l-7.2 7.2m.3-7.4l7.2 7.2m0-7.2l-7.2 7.2m.3-7.5l7.2 7.2m0-7.2l-7.2 7.2m.2-7.5l7.2 7.2m0-7.2l-7.2 7.2m.3-7.5l7.2 7.2m0-7.2l-7.2 7.2m.3-7.4l7.2 7.2m0-7.2l-7.2 7.2m.3-7.5l7.2 7.2m0-7.2l-7.2 7.2m.2-7.5l7.2 7.2m0-7.2l-7.2 7.2m.3-7.4l7.2 7.2m0-7.2l-7.2 7.2m.3-7.5l7.2 7.2m0-7.2l-7.2 7.2m.3-7.5l7.2 7.2m0-7.2l-7.2 7.2m.2-7.4l7.2 7.2m0-7.2l-7.2 7.2m.3-7.5l7.2 7.2m0-7.2l-7.2 7.2m.3-7.5l7.2 7.2m0-7.2l-7.2 7.2m.3-7.5l7.2 7.2m0-7.2l-7.2 7.2m.2-7.4l7.2 7.2m0-7.2l-7.2 7.2m.3-7.5l7.2 7.2m0-7.2l-7.2 7.2m.3-7.4l7.2 7.2m0-7.2l-7.2 7.2m.3-7.5l7.2 7.2m0-7.2l-7.2 7.2m.3-7.5l7.2 7.2m0-7.2l-7.2 7.2m.2-7.4l7.2 7.2m0-7.2l-7.2 7.2m.3-7.5l7.2 7.2m0-7.2l-7.2 7.2m.3-7.5l7.2 7.2m0-7.2l-7.2 7.2m.3-7.4l7.2 7.2m0-7.2l-7.2 7.2m.2-7.5l7.2 7.2m0-7.2l-7.2 7.2m.3-7.4l7.2 7.2m0-7.2l-7.2 7.2m.3-7.5l7.2 7.2m0-7.2l-7.2 7.2m.3-7.5l7.2 7.2m0-7.2l-7.2 7.2m.2-7.4l7.2 7.2m0-7.2l-7.2 7.2m.3-7.5l7.2 7.2m0-7.2l-7.2 7.2m.3-7.4l7.2 7.2m0-7.2l-7.2 7.2m.3-7.5l7.2 7.2m0-7.2l-7.2 7.2m.2-7.5l7.2 7.2m0-7.2l-7.2 7.2m.3-7.4l7.2 7.2m0-7.2l-7.2 7.2m.3-7.5l7.2 7.2m0-7.2l-7.2 7.2m.3-7.4l7.2 7.2m0-7.2l-7.2 7.2m.2-7.5l7.2 7.2m0-7.2l-7.2 7.2m.3-7.4l7.2 7.2m0-7.2l-7.2 7.2m.3-7.5l7.2 7.2m0-7.2l-7.2 7.2m.3-7.4l7.2 7.2m0-7.2l-7.2 7.2m.2-7.5l7.2 7.2m0-7.2l-7.2 7.2m.3-7.4l7.2 7.2m0-7.2l-7.2 7.2m.3-7.5l7.2 7.2m0-7.2l-7.2 7.2m.3-7.4l7.2 7.2m0-7.2l-7.2 7.2m.3-7.5l7.2 7.2m0-7.2l-7.2 7.2m.2-7.4l7.2 7.2m0-7.2l-7.2 7.2m.3-7.5l7.2 7.2m0-7.2l-7.2 7.2m.3-7.4l7.2 7.2m0-7.2l-7.2 7.2m.3-7.5l7.2 7.2m0-7.2l-7.2 7.2m.2-7.4l7.2 7.2m0-7.2l-7.2 7.2m.3-7.5l7.2 7.2m0-7.2l-7.2 7.2m.3-7.4l7.2 7.2m0-7.2l-7.2 7.2m.3-7.5l7.2 7.2m0-7.2l-7.2 7.2m.2-7.4l7.2 7.2m0-7.2l-7.2 7.2m.3-7.4l7.2 7.2m0-7.2l-7.2 7.2m.3-7.5l7.2 7.2m0-7.2l-7.2 7.2m.3-7.4l7.2 7.2m0-7.2l-7.2 7.2m.2-7.5l7.2 7.2m0-7.2l-7.2 7.2m.3-7.4l7.2 7.2m0-7.2l-7.2 7.2m.3-7.5l7.2 7.2m0-7.2l-7.2 7.2m.3-7.4l7.2 7.2m0-7.2l-7.2 7.2m.2-7.4l7.2 7.2m0-7.2l-7.2 7.2m.3-7.5l7.2 7.2m0-7.2l-7.2 7.2m.3-7.4l7.2 7.2m0-7.2l-7.2 7.2m.3-7.4l7.2 7.2m0-7.2l-7.2 7.2m.2-7.5l7.2 7.2m0-7.2l-7.2 7.2m.3-7.4l7.2 7.2m0-7.2l-7.2 7.2m.3-7.5l7.2 7.2m0-7.2l-7.2 7.2m.3-7.4l7.2 7.2m0-7.2l-7.2 7.2m.2-7.4l7.2 7.2m0-7.2l-7.2 7.2m.3-7.5l7.2 7.2m0-7.2l-7.2 7.2m.3-7.4l7.2 7.2m0-7.2l-7.2 7.2m.3-7.4l7.2 7.2m0-7.2l-7.2 7.2m.3-7.5l7.2 7.2m0-7.2l-7.2 7.2m.2-7.4l7.2 7.2m0-7.2l-7.2 7.2m.3-7.4l7.2 7.2m0-7.2l-7.2 7.2m.3-7.5l7.2 7.2m0-7.2l-7.2 7.2m.3-7.4l7.2 7.2m0-7.2l-7.2 7.2m.2-7.4l7.2 7.2m0-7.2l-7.2 7.2m.3-7.4l7.2 7.2m0-7.2l-7.2 7.2m.3-7.5l7.2 7.2m0-7.2l-7.2 7.2m.3-7.4l7.2 7.2m0-7.2l-7.2 7.2m.2-7.4l7.2 7.2m0-7.2l-7.2 7.2m.3-7.4l7.2 7.2m0-7.2l-7.2 7.2m.3-7.5l7.2 7.2m0-7.2l-7.2 7.2m.3-7.4l7.2 7.2m0-7.2l-7.2 7.2m.2-7.4l7.2 7.2m0-7.2l-7.2 7.2m.3-7.4l7.2 7.2m0-7.2l-7.2 7.2m.3-7.5l7.2 7.2m0-7.2l-7.2 7.2m.3-7.4l7.2 7.2m0-7.2l-7.2 7.2m.2-7.4l7.2 7.2m0-7.2l-7.2 7.2m.3-7.4l7.2 7.2m0-7.2l-7.2 7.2m.3-7.5l7.2 7.2m0-7.2l-7.2 7.2m.3-7.4l7.2 7.2m0-7.2l-7.2 7.2m.2-7.4l7.2 7.2m0-7.2l-7.2 7.2m.3-7.4l7.2 7.2m0-7.2l-7.2 7.2m.3-7.4l7.2 7.2m0-7.2l-7.2 7.2m.3-7.5l7.2 7.2m0-7.2l-7.2 7.2m.3-7.4l7.2 7.2m0-7.2l-7.2 7.2m.2-7.4l7.2 7.2m0-7.2l-7.2 7.2m.3-7.4l7.2 7.2m0-7.2l-7.2 7.2m.3-7.4l7.2 7.2m0-7.2l-7.2 7.2m.3-7.4l7.2 7.2m0-7.2l-7.2 7.2m.2-7.5l7.2 7.2m0-7.2l-7.2 7.2m.3-7.4l7.2 7.2m0-7.2l-7.2 7.2m.3-7.4l7.2 7.2m0-7.2l-7.2 7.2m.3-7.4l7.2 7.2m0-7.2l-7.2 7.2m.2-7.4l7.2 7.2m0-7.2l-7.2 7.2m.3-7.4l7.2 7.2m0-7.2l-7.2 7.2m.3-7.4l7.2 7.2m0-7.2l-7.2 7.2m.3-7.4l7.2 7.2m0-7.2l-7.2 7.2m.2-7.5l7.2 7.2m0-7.2l-7.2 7.2m.3-7.4l7.2 7.2m0-7.2l-7.2 7.2m.3-7.4l7.2 7.2m0-7.2l-7.2 7.2m.3-7.4l7.2 7.2m0-7.2l-7.2 7.2m.2-7.4l7.2 7.2m0-7.2l-7.2 7.2m.3-7.4l7.2 7.2m0-7.2l-7.2 7.2m.3-7.4l7.2 7.2m0-7.2l-7.2 7.2m.3-7.4l7.2 7.2m0-7.2l-7.2 7.2m.2-7.4l7.2 7.2m0-7.2l-7.2 7.2m.3-7.4l7.2 7.2m0-7.2l-7.2 7.2m.3-7.4l7.2 7.2m0-7.2l-7.2 7.2m.3-7.4l7.2 7.2m0-7.2l-7.2 7.2m.3-7.4l7.2 7.2m0-7.2l-7.2 7.2m.2-7.4l7.2 7.2m0-7.2l-7.2 7.2m.3-7.4l7.2 7.2m0-7.2l-7.2 7.2m.3-7.4l7.2 7.2m0-7.2l-7.2 7.2m.3-7.4l7.2 7.2m0-7.2l-7.2 7.2m.2-7.4l7.2 7.2m0-7.2l-7.2 7.2m.3-7.4l7.2 7.2m0-7.2l-7.2 7.2m.3-7.4l7.2 7.2m0-7.2l-7.2 7.2m.3-7.4l7.2 7.2m0-7.2l-7.2 7.2m.2-7.4l7.2 7.2m0-7.2l-7.2 7.2m.3-7.4l7.2 7.2m0-7.2l-7.2 7.2m.3-7.4l7.2 7.2m0-7.2l-7.2 7.2m.3-7.4l7.2 7.2m0-7.2l-7.2 7.2m.2-7.4l7.2 7.2m0-7.2l-7.2 7.2m.3-7.4l7.2 7.2m0-7.2l-7.2 7.2m.3-7.4l7.2 7.2m0-7.2l-7.2 7.2m.3-7.4l7.2 7.2m0-7.2l-7.2 7.2m.2-7.4l7.2 7.2m0-7.2l-7.2 7.2m.3-7.4l7.2 7.2m0-7.2l-7.2 7.2m.3-7.4l7.2 7.2m0-7.2l-7.2 7.2m.3-7.4l7.2 7.2m0-7.2l-7.2 7.2m.2-7.4l7.2 7.2m0-7.2l-7.2 7.2m.3-7.4l7.2 7.2m0-7.2l-7.2 7.2m.3-7.4l7.2 7.2m0-7.2l-7.2 7.2m.3-7.3l7.2 7.2m0-7.2l-7.2 7.2m.3-7.4l7.2 7.2m0-7.2l-7.2 7.2m.2-7.4l7.2 7.2m0-7.2l-7.2 7.2m.3-7.4l7.2 7.2m0-7.2l-7.2 7.2m.3-7.4l7.2 7.2m0-7.2l-7.2 7.2m.3-7.4l7.2 7.2m0-7.2l-7.2 7.2m.2-7.4l7.2 7.2m0-7.2l-7.2 7.2m.3-7.4l7.2 7.2m0-7.2l-7.2 7.2m.3-7.3l7.2 7.2m0-7.2l-7.2 7.2m.3-7.4l7.2 7.2m0-7.2l-7.2 7.2m.2-7.4l7.2 7.2m0-7.2l-7.2 7.2m.3-7.4l7.2 7.2m0-7.2l-7.2 7.2m.3-7.4l7.2 7.2m0-7.2l-7.2 7.2m.3-7.4l7.2 7.2m0-7.2l-7.2 7.2m.2-7.3l7.2 7.2m0-7.2l-7.2 7.2m.3-7.4l7.2 7.2m0-7.2l-7.2 7.2m.3-7.4l7.2 7.2m0-7.2l-7.2 7.2m.3-7.4l7.2 7.2m0-7.2l-7.2 7.2m.2-7.4l7.2 7.2m0-7.2l-7.2 7.2m.3-7.3l7.2 7.2m0-7.2l-7.2 7.2m.3-7.4l7.2 7.2m0-7.2l-7.2 7.2m.3-7.4l7.2 7.2m0-7.2l-7.2 7.2m.2-7.4l7.2 7.2m0-7.2l-7.2 7.2m.3-7.3l7.2 7.2m0-7.2l-7.2 7.2m.3-7.4l7.2 7.2m0-7.2l-7.2 7.2m.3-7.4l7.2 7.2m0-7.2l-7.2 7.2m.3-7.4l7.2 7.2m0-7.2l-7.2 7.2m.2-7.3l7.2 7.2m0-7.2l-7.2 7.2m.3-7.4l7.2 7.2m0-7.2l-7.2 7.2m.3-7.4l7.2 7.2m0-7.2l-7.2 7.2m.3-7.3l7.2 7.2m0-7.2l-7.2 7.2m.2-7.4l7.2 7.2m0-7.2l-7.2 7.2m.3-7.4l7.2 7.2m0-7.2l-7.2 7.2m.3-7.4l7.2 7.2m0-7.2l-7.2 7.2m.3-7.3l7.2 7.2m0-7.2l-7.2 7.2m.2-7.4l7.2 7.2m0-7.2l-7.2 7.2m.3-7.4l7.2 7.2m0-7.2l-7.2 7.2m.3-7.3l7.2 7.2m0-7.2l-7.2 7.2m.3-7.4l7.2 7.2m0-7.2l-7.2 7.2m.2-7.4l7.2 7.2m0-7.2l-7.2 7.2m.3-7.3l7.2 7.2m0-7.2l-7.2 7.2m.3-7.4l7.2 7.2m0-7.2l-7.2 7.2m.3-7.4l7.2 7.2m0-7.2l-7.2 7.2m.2-7.3l7.2 7.2m0-7.2l-7.2 7.2m.3-7.4l7.2 7.2m0-7.2l-7.2 7.2m.3-7.3l7.2 7.2m0-7.2l-7.2 7.2m.3-7.4l7.2 7.2m0-7.2l-7.2 7.2m.2-7.4l7.2 7.2m0-7.2l-7.2 7.2m.3-7.3l7.2 7.2m0-7.2l-7.2 7.2m.3-7.4l7.2 7.2m0-7.2l-7.2 7.2m.3-7.3l7.2 7.2m0-7.2l-7.2 7.2m.3-7.4l7.2 7.2m0-7.2l-7.2 7.2m.2-7.3l7.2 7.2m0-7.2l-7.2 7.2m.3-7.4l7.2 7.2m0-7.2l-7.2 7.2m.3-7.4l7.2 7.2m0-7.2l-7.2 7.2m.3-7.3l7.2 7.2m0-7.2l-7.2 7.2m.2-7.4l7.2 7.2m0-7.2l-7.2 7.2m.3-7.3l7.2 7.2m0-7.2l-7.2 7.2m.3-7.4l7.2 7.2m0-7.2l-7.2 7.2m.3-7.3l7.2 7.2m0-7.2l-7.2 7.2m.2-7.4l7.2 7.2m0-7.2l-7.2 7.2m.3-7.3l7.2 7.2m0-7.2l-7.2 7.2m.3-7.4l7.2 7.2m0-7.2l-7.2 7.2m.3-7.3l7.2 7.2m0-7.2l-7.2 7.2m.2-7.4l7.2 7.2m0-7.2l-7.2 7.2m.3-7.3l7.2 7.2m0-7.2l-7.2 7.2m.3-7.4l7.2 7.2m0-7.2l-7.2 7.2m.3-7.3l7.2 7.2m0-7.2l-7.2 7.2m.2-7.4l7.2 7.2m0-7.2l-7.2 7.2m.3-7.3l7.2 7.2m0-7.2l-7.2 7.2m.3-7.4l7.2 7.2m0-7.2l-7.2 7.2m.3-7.3l7.2 7.2m0-7.2l-7.2 7.2m.2-7.4l7.2 7.2m0-7.2l-7.2 7.2m.3-7.3l7.2 7.2m0-7.2l-7.2 7.2m.3-7.4l7.2 7.2m0-7.2l-7.2 7.2m.3-7.3l7.2 7.2m0-7.2l-7.2 7.2m.3-7.3l7.2 7.2m0-7.2l-7.2 7.2m.2-7.4l7.2 7.2m0-7.2l-7.2 7.2m.3-7.3l7.2 7.2m0-7.2l-7.2 7.2m.3-7.4l7.2 7.2m0-7.2l-7.2 7.2m.3-7.3l7.2 7.2m0-7.2l-7.2 7.2m.2-7.4l7.2 7.2m0-7.2l-7.2 7.2m.3-7.3l7.2 7.2m0-7.2l-7.2 7.2m.3-7.3l7.2 7.2m0-7.2l-7.2 7.2m.3-7.4l7.2 7.2m0-7.2l-7.2 7.2m.2-7.3l7.2 7.2m0-7.2l-7.2 7.2m.3-7.4l7.2 7.2m0-7.2l-7.2 7.2m.3-7.3l7.2 7.2m0-7.2l-7.2 7.2m.3-7.3l7.2 7.2m0-7.2l-7.2 7.2m.2-7.4l7.2 7.2m0-7.2l-7.2 7.2m.3-7.3l7.2 7.2m0-7.2l-7.2 7.2m.3-7.4l7.2 7.2m0-7.2l-7.2 7.2m.3-7.3l7.2 7.2m0-7.2l-7.2 7.2m.2-7.3l7.2 7.2m0-7.2l-7.2 7.2m.3-7.4l7.2 7.2m0-7.2l-7.2 7.2m.3-7.3l7.2 7.2m0-7.2l-7.2 7.2m.3-7.3l7.2 7.2m0-7.2l-7.2 7.2m.2-7.4l7.2 7.2m0-7.2l-7.2 7.2m.3-7.3l7.2 7.2m0-7.2l-7.2 7.2m.3-7.3l7.2 7.2m0-7.2l-7.2 7.2m.3-7.4l7.2 7.2m0-7.2l-7.2 7.2m.2-7.3l7.2 7.2m0-7.2l-7.2 7.2m.3-7.3l7.2 7.2m0-7.2l-7.2 7.2m.3-7.4l7.2 7.2m0-7.2l-7.2 7.2m.3-7.3l7.2 7.2m0-7.2l-7.2 7.2m.3-7.3l7.2 7.2m0-7.2l-7.2 7.2m.2-7.4l7.2 7.2m0-7.2l-7.2 7.2m.3-7.3l7.2 7.2m0-7.2l-7.2 7.2m.3-7.3l7.2 7.2m0-7.2l-7.2 7.2m.3-7.4l7.2 7.2m0-7.2l-7.2 7.2m.2-7.3l7.2 7.2m0-7.2l-7.2 7.2m.3-7.3l7.2 7.2m0-7.2l-7.2 7.2m.3-7.4l7.2 7.2m0-7.2l-7.2 7.2m.3-7.3l7.2 7.2m0-7.2l-7.2 7.2m.2-7.3l7.2 7.2m0-7.2l-7.2 7.2m.3-7.3l7.2 7.2m0-7.2l-7.2 7.2m.3-7.4l7.2 7.2m0-7.2l-7.2 7.2m.3-7.3l7.2 7.2m0-7.2l-7.2 7.2m.2-7.3l7.2 7.2m0-7.2l-7.2 7.2m.3-7.4l7.2 7.2m0-7.2l-7.2 7.2m.3-7.3l7.2 7.2m0-7.2l-7.2 7.2m.3-7.3l7.2 7.2m0-7.2l-7.2 7.2m.2-7.3l7.2 7.2m0-7.2l-7.2 7.2m.3-7.4l7.2 7.2m0-7.2l-7.2 7.2m.3-7.3l7.2 7.2m0-7.2l-7.2 7.2m.3-7.3l7.2 7.2m0-7.2l-7.2 7.2m.2-7.3l7.2 7.2m0-7.2l-7.2 7.2m.3-7.4l7.2 7.2m0-7.2l-7.2 7.2m.3-7.3l7.2 7.2m0-7.2l-7.2 7.2m.3-7.3l7.2 7.2m0-7.2l-7.2 7.2m.3-7.4l7.2 7.2m0-7.2l-7.2 7.2m.2-7.3l7.2 7.2m0-7.2l-7.2 7.2m.3-7.3l7.2 7.2m0-7.2l-7.2 7.2m.3-7.3l7.2 7.2m0-7.2l-7.2 7.2m.3-7.4l7.2 7.2m0-7.2l-7.2 7.2m.2-7.3l7.2 7.2m0-7.2l-7.2 7.2m.3-7.3l7.2 7.2m0-7.2l-7.2 7.2m.3-7.3l7.2 7.2m0-7.2l-7.2 7.2m.3-7.4l7.2 7.2m0-7.2l-7.2 7.2m.2-7.3l7.2 7.2m0-7.2l-7.2 7.2m.3-7.3l7.2 7.2m0-7.2l-7.2 7.2m.3-7.3l7.2 7.2m0-7.2l-7.2 7.2m.3-7.4l7.2 7.2m0-7.2l-7.2 7.2m.2-7.3l7.2 7.2m0-7.2l-7.2 7.2m.3-7.3l7.2 7.2m0-7.2l-7.2 7.2m.3-7.3l7.2 7.2m0-7.2l-7.2 7.2m.3-7.3l7.2 7.2m0-7.2l-7.2 7.2m.2-7.4l7.2 7.2m0-7.2l-7.2 7.2m.3-7.3l7.2 7.2m0-7.2l-7.2 7.2m.3-7.3l7.2 7.2m0-7.2l-7.2 7.2m.3-7.3l7.2 7.2m0-7.2l-7.2 7.2m.2-7.4l7.2 7.2m0-7.2l-7.2 7.2m.3-7.3l7.2 7.2m0-7.2l-7.2 7.2m.3-7.3l7.2 7.2m0-7.2l-7.2 7.2m.3-7.3l7.2 7.2m0-7.2l-7.2 7.2m.3-7.3l7.2 7.2m0-7.2l-7.2 7.2m.2-7.4l7.2 7.2m0-7.2l-7.2 7.2m.3-7.3l7.2 7.2m0-7.2l-7.2 7.2m.3-7.3l7.2 7.2m0-7.2l-7.2 7.2m.3-7.3l7.2 7.2m0-7.2l-7.2 7.2m.2-7.3l7.2 7.2m0-7.2l-7.2 7.2m.3-7.4l7.2 7.2m0-7.2l-7.2 7.2m.3-7.3l7.2 7.2m0-7.2l-7.2 7.2m.3-7.3l7.2 7.2m0-7.2l-7.2 7.2m.2-7.3l7.2 7.2m0-7.2l-7.2 7.2m.3-7.3l7.2 7.2m0-7.2l-7.2 7.2m.3-7.4l7.2 7.2m0-7.2l-7.2 7.2m.3-7.3l7.2 7.2m0-7.2l-7.2 7.2m.2-7.3l7.2 7.2m0-7.2l-7.2 7.2m.3-7.3l7.2 7.2m0-7.2l-7.2 7.2m.3-7.3l7.2 7.2m0-7.2l-7.2 7.2m.3-7.3l7.2 7.2m0-7.2l-7.2 7.2m.2-7.4l7.2 7.2m0-7.2l-7.2 7.2m.3-7.3l7.2 7.2m0-7.2l-7.2 7.2m.3-7.3l7.2 7.2m0-7.2l-7.2 7.2m.3-7.3l7.2 7.2m0-7.2l-7.2 7.2m.2-7.3l7.2 7.2m0-7.2l-7.2 7.2m.3-7.3l7.2 7.2m0-7.2l-7.2 7.2m.3-7.4l7.2 7.2m0-7.2l-7.2 7.2m.3-7.3l7.2 7.2m0-7.2l-7.2 7.2m.3-7.3l7.2 7.2m0-7.2l-7.2 7.2m.2-7.3l7.2 7.2m0-7.2l-7.2 7.2m.3-7.3l7.2 7.2m0-7.2l-7.2 7.2m.3-7.3l7.2 7.2m0-7.2l-7.2 7.2m.3-7.3l7.2 7.2m0-7.2l-7.2 7.2m.2-7.4l7.2 7.2m0-7.2l-7.2 7.2m.3-7.3l7.2 7.2m0-7.2l-7.2 7.2m.3-7.3l7.2 7.2m0-7.2l-7.2 7.2m.3-7.3l7.2 7.2m0-7.2l-7.2 7.2m.2-7.3l7.2 7.2m0-7.2l-7.2 7.2m.3-7.3l7.2 7.2m0-7.2l-7.2 7.2m.3-7.3l7.2 7.2m0-7.2l-7.2 7.2m.3-7.4l7.2 7.2m0-7.2l-7.2 7.2m.2-7.3l7.2 7.2m0-7.2l-7.2 7.2m.3-7.3l7.2 7.2m0-7.2l-7.2 7.2m.3-7.3l7.2 7.2m0-7.2l-7.2 7.2m.3-7.3l7.2 7.2m0-7.2l-7.2 7.2m.2-7.3l7.2 7.2m0-7.2l-7.2 7.2m.3-7.3l7.2 7.2m0-7.2l-7.2 7.2m.3-7.3l7.2 7.2m0-7.2l-7.2 7.2m.3-7.3l7.2 7.2m0-7.2l-7.2 7.2m.2-7.3l7.2 7.2m0-7.2l-7.2 7.2m.3-7.4l7.2 7.2m0-7.2l-7.2 7.2m.3-7.3l7.2 7.2m0-7.2l-7.2 7.2m.3-7.3l7.2 7.2m0-7.2l-7.2 7.2m.3-7.3l7.2 7.2m0-7.2l-7.2 7.2m.2-7.3l7.2 7.2m0-7.2l-7.2 7.2m.3-7.3l7.2 7.2m0-7.2l-7.2 7.2m.3-7.3l7.2 7.2m0-7.2l-7.2 7.2m.3-7.3l7.2 7.2m0-7.2l-7.2 7.2m.2-7.3l7.2 7.2m0-7.2l-7.2 7.2m.3-7.3l7.2 7.2m0-7.2l-7.2 7.2m.3-7.3l7.2 7.2m0-7.2l-7.2 7.2m.3-7.3l7.2 7.2m0-7.2l-7.2 7.2m.2-7.4l7.2 7.2m0-7.2l-7.2 7.2m.3-7.3l7.2 7.2m0-7.2l-7.2 7.2m.3-7.3l7.2 7.2m0-7.2l-7.2 7.2m.3-7.3l7.2 7.2m0-7.2l-7.2 7.2m.2-7.3l7.2 7.2m0-7.2l-7.2 7.2m.3-7.3l7.2 7.2m0-7.2l-7.2 7.2m.3-7.3l7.2 7.2m0-7.2l-7.2 7.2m.3-7.3l7.2 7.2m0-7.2l-7.2 7.2m.2-7.3l7.2 7.2m0-7.2l-7.2 7.2m.3-7.3l7.2 7.2m0-7.2l-7.2 7.2m.3-7.3l7.2 7.2m0-7.2l-7.2 7.2m.3-7.3l7.2 7.2m0-7.2l-7.2 7.2m.2-7.3l7.2 7.2m0-7.2l-7.2 7.2m.3-7.3l7.2 7.2m0-7.2l-7.2 7.2m.3-7.3l7.2 7.2m0-7.2l-7.2 7.2m.3-7.3l7.2 7.2m0-7.2l-7.2 7.2m.3-7.3l7.2 7.2m0-7.2l-7.2 7.2m.2-7.3l7.2 7.2m0-7.2l-7.2 7.2m.3-7.3l7.2 7.2m0-7.2l-7.2 7.2m.3-7.3l7.2 7.2m0-7.2l-7.2 7.2m.3-7.3l7.2 7.2m0-7.2l-7.2 7.2m.2-7.3l7.2 7.2m0-7.2l-7.2 7.2m.3-7.3l7.2 7.2m0-7.2l-7.2 7.2m.3-7.3l7.2 7.2m0-7.2l-7.2 7.2m.3-7.3l7.2 7.2m0-7.2l-7.2 7.2m.2-7.3l7.2 7.2m0-7.2l-7.2 7.2m.3-7.4l7.2 7.2m0-7.2l-7.2 7.2m.3-7.3l7.2 7.2m0-7.2l-7.2 7.2m.3-7.3l7.2 7.2m0-7.2l-7.2 7.2m.2-7.3l7.2 7.2m0-7.2l-7.2 7.2m.3-7.3l7.2 7.2m0-7.2l-7.2 7.2m.3-7.3l7.2 7.2m0-7.2l-7.2 7.2m.3-7.3l7.2 7.2m0-7.2l-7.2 7.2m.2-7.3l7.2 7.2m0-7.2l-7.2 7.2m.3-7.3l7.2 7.2m0-7.2l-7.2 7.2m.3-7.3l7.2 7.2m0-7.2l-7.2 7.2m.3-7.3l7.2 7.2m0-7.2l-7.2 7.2m.2-7.3l7.2 7.2m0-7.2l-7.2 7.2m.3-7.3l7.2 7.2m0-7.2l-7.2 7.2m.3-7.3l7.2 7.2m0-7.2l-7.2 7.2m.3-7.3l7.2 7.2m0-7.2l-7.2 7.2m.2-7.3l7.2 7.2m0-7.2l-7.2 7.2m.3-7.3l7.2 7.2m0-7.2l-7.2 7.2m.3-7.3l7.2 7.2m0-7.2l-7.2 7.2m.3-7.3l7.2 7.2m0-7.2l-7.2 7.2m.3-7.3l7.2 7.2m0-7.2l-7.2 7.2m.2-7.3l7.2 7.2m0-7.2l-7.2 7.2m.3-7.3l7.2 7.2m0-7.2l-7.2 7.2m.3-7.3l7.2 7.2m0-7.2l-7.2 7.2m.3-7.3l7.2 7.2m0-7.2l-7.2 7.2m.2-7.3l7.2 7.2m0-7.2l-7.2 7.2m.3-7.3l7.2 7.2m0-7.2l-7.2 7.2m.3-7.3l7.2 7.2m0-7.2l-7.2 7.2m.3-7.3l7.2 7.2m0-7.2l-7.2 7.2m.2-7.3l7.2 7.2m0-7.2l-7.2 7.2m.3-7.3l7.2 7.2m0-7.2l-7.2 7.2m.3-7.3l7.2 7.2m0-7.2l-7.2 7.2m.3-7.3l7.2 7.2m0-7.2l-7.2 7.2m.2-7.3l7.2 7.2m0-7.2l-7.2 7.2m.3-7.3l7.2 7.2m0-7.2l-7.2 7.2m.3-7.3l7.2 7.2m0-7.2l-7.2 7.2m.3-7.3l7.2 7.2m0-7.2l-7.2 7.2m.2-7.3l7.2 7.2m0-7.2l-7.2 7.2m.3-7.3l7.2 7.2m0-7.2l-7.2 7.2m.3-7.3l7.2 7.2m0-7.2l-7.2 7.2m.3-7.3l7.2 7.2m0-7.2l-7.2 7.2m.2-7.3l7.2 7.2m0-7.2l-7.2 7.2m.3-7.3l7.2 7.2m0-7.2l-7.2 7.2m.3-7.3l7.2 7.2m0-7.2l-7.2 7.2m.3-7.3l7.2 7.2m0-7.2l-7.2 7.2m.3-7.3l7.2 7.2m0-7.2l-7.2 7.2m.2-7.3l7.2 7.2m0-7.2l-7.2 7.2m.3-7.3l7.2 7.2m0-7.2l-7.2 7.2m.3-7.3l7.2 7.2m0-7.2l-7.2 7.2m.3-7.3l7.2 7.2m0-7.2l-7.2 7.2m.2-7.3l7.2 7.2m0-7.2l-7.2 7.2m.3-7.3l7.2 7.2m0-7.2l-7.2 7.2m.3-7.3l7.2 7.2m0-7.2l-7.2 7.2m.3-7.3l7.2 7.2m0-7.2l-7.2 7.2m.2-7.3l7.2 7.2m0-7.2l-7.2 7.2m.3-7.3l7.2 7.2m0-7.2l-7.2 7.2m.3-7.3l7.2 7.2m0-7.2l-7.2 7.2m.3-7.3l7.2 7.2m0-7.2l-7.2 7.2m.2-7.3l7.2 7.2m0-7.2l-7.2 7.2m.3-7.3l7.2 7.2m0-7.2l-7.2 7.2m.3-7.3l7.2 7.2m0-7.2l-7.2 7.2m.3-7.3l7.2 7.2m0-7.2l-7.2 7.2m.2-7.3l7.2 7.2m0-7.2l-7.2 7.2m.3-7.3l7.2 7.2m0-7.2l-7.2 7.2m.3-7.3l7.2 7.2m0-7.2l-7.2 7.2m.3-7.3l7.2 7.2m0-7.2l-7.2 7.2m.2-7.3l7.2 7.2m0-7.2l-7.2 7.2m.3-7.3l7.2 7.2m0-7.2l-7.2 7.2m.3-7.3l7.2 7.2m0-7.2l-7.2 7.2m.3-7.3l7.2 7.2m0-7.2l-7.2 7.2m.3-7.3l7.2 7.2m0-7.2l-7.2 7.2m.2-7.3l7.2 7.2m0-7.2l-7.2 7.2m.3-7.3l7.2 7.2m0-7.2l-7.2 7.2m.3-7.3l7.2 7.2m0-7.2l-7.2 7.2m.3-7.3l7.2 7.2m0-7.2l-7.2 7.2m.2-7.3l7.2 7.2m0-7.2l-7.2 7.2m.3-7.3l7.2 7.2m0-7.2l-7.2 7.2m.3-7.3l7.2 7.2m0-7.2l-7.2 7.2m.3-7.3l7.2 7.2m0-7.2l-7.2 7.2m.2-7.3l7.2 7.2m0-7.2l-7.2 7.2m.3-7.3l7.2 7.2m0-7.2l-7.2 7.2m.3-7.3l7.2 7.2m0-7.2l-7.2 7.2m.3-7.3l7.2 7.2m0-7.2l-7.2 7.2m.2-7.3l7.2 7.2m0-7.2l-7.2 7.2m.3-7.3l7.2 7.2m0-7.2l-7.2 7.2m.3-7.3l7.2 7.2m0-7.2l-7.2 7.2m.3-7.3l7.2 7.2m0-7.2l-7.2 7.2m.2-7.3l7.2 7.2m0-7.2l-7.2 7.2m.3-7.3l7.2 7.2m0-7.2l-7.2 7.2m.3-7.3l7.2 7.2m0-7.2l-7.2 7.2m.3-7.3l7.2 7.2m0-7.2l-7.2 7.2m.2-7.3l7.2 7.2m0-7.2l-7.2 7.2m.3-7.3l7.2 7.2m0-7.2l-7.2 7.2m.3-7.3l7.2 7.2m0-7.2l-7.2 7.2" stroke="#ff0000" style="stroke-width:0.7"/>
<path class="b" d="M108.4 509.4h6.8m-3.9-2.9v6.8m-2.9-6.8l6.8 6.8m0-6.8l-6.8 6.8m.3-4h6.8m-3.9-2.9v6.8m-2.9-6.8l6.8 6.8m0-6.8l-6.8 6.8m.3-3.9h6.8m-3.9-2.9v6.8m-2.9-6.8l6.8 6.8m0-6.8l-6.8 6.8m.2-4h6.8m-3.9-2.9v6.8m-2.9-6.8l6.8 6.8m0-6.8l-6.8 6.8m.3-4.1h6.8m-3.9-2.9v6.8m-2.9-6.8l6.8 6.8m0-6.8l-6.8 6.8m.3-4h6.8m-3.9-2.9v6.8m-2.9-6.8l6.8 6.8m0-6.8l-6.8 6.8m.3-4h6.8m-3.9-2.9v6.8m-2.9-6.8l6.8 6.8m0-6.8l-6.8 6.8m.2-4.1h6.8m-3.9-2.9v6.8m-2.9-6.8l6.8 6.8m0-6.8l-6.8 6.8m.3-4h6.8m-3.9-2.9v6.8m-2.9-6.8l6.8 6.8m0-6.8l-6.8 6.8m.3-4.1h6.8m-3.9-2.9v6.8m-2.9-6.8l6.8 6.8m0-6.8l-6.8 6.8m.3-4h6.8m-3.9-2.9v6.8m-2.9-6.8l6.8 6.8m0-6.8l-6.8 6.8m.2-4.1h6.8m-3.9-2.9v6.8m-2.9-6.8l6.8 6.8m0-6.8l-6.8 6.8m.3-4.2h6.8m-3.9-2.9v6.8m-2.9-6.8l6.8 6.8m0-6.8l-6.8 6.8m.3-4.1h6.8m-3.9-2.9v6.8m-2.9-6.8l6.8 6.8m0-6.8l-6.8 6.8m.3-4.1h6.8m-3.9-2.9v6.8m-2.9-6.8l6.8 6.8m0-6.8l-6.8 6.8m.2-4.2h6.8m-3.9-2.9v6.8m-2.9-6.8l6.8 6.8m0-6.8l-6.8 6.8m.3-4.2h6.8m-3.9-2.9v6.8m-2.9-6.8l6.8 6.8m0-6.8l-6.8 6.8m.3-4.1h6.8m-3.9-2.9v6.8m-2.9-6.8l6.8 6.8m0-6.8l-6.8 6.8m.3-4.2h6.8m-3.9-2.9v6.8m-2.9-6.8l6.8 6.8m0-6.8l-6.8 6.8m.2-4.2h6.8m-3.9-2.9v6.8m-2.9-6.8l6.8 6.8m0-6.8l-6.8 6.8m.3-4.2h6.8m-3.9-2.9v6.8m-2.9-6.8l6.8 6.8m0-6.8l-6.8 6.8m.3-4.2h6.8m-3.9-2.9v6.8m-2.9-6.8l6.8 6.8m0-6.8l-6.8 6.8m.3-4.2h6.8m-3.9-2.9v6.8m-2.9-6.8l6.8 6.8m0-6.8l-6.8 6.8m.2-4.2h6.8m-3.9-2.9v6.8m-2.9-6.8l6.8 6.8m0-6.8l-6.8 6.8m.3-4.1h6.8m-3.9-2.9v6.8m-2.9-6.8l6.8 6.8m0-6.8l-6.8 6.8m.3-4.2h6.8m-3.9-2.9v6.8m-2.9-6.8l6.8 6.8m0-6.8l-6.8 6.8m.3-4.2h6.8m-3.9-2.9v6.8m-2.9-6.8l6.8 6.8m0-6.8l-6.8 6.8m.3-4.3h6.8m-3.9-2.9v6.8m-2.9-6.8l6.8 6.8m0-6.8l-6.8 6.8m.2-4.2h6.8m-3.9-2.9v6.8m-2.9-6.8l6.8 6.8m0-6.8l-6.8 6.8m.3-4.2h6.8m-3.9-2.9v6.8m-2.9-6.8l6.8 6.8m0-6.8l-6.8 6.8m.3-4.2h6.8m-3.9-2.9v6.8m-2.9-6.8l6.8 6.8m0-6.8l-6.8 6.8m.3-4.2h6.8m-3.9-2.9v6.8m-2.9-6.8l6.8 6.8m0-6.8l-6.8 6.8m.2-4.3h6.8m-3.9-2.9v6.8m-2.9-6.8l6.8 6.8m0-6.8l-6.8 6.8m.3-4.2h6.8m-3.9-2.9v6.8m-2.9-6.8l6.8 6.8m0-6.8l-6.8 6.8m.3-4.3h6.8m-3.9-2.9v6.8m-2.9-6.8l6.8 6.8m0-6.8l-6.8 6.8m.3-4.2h6.8m-3.9-2.9v6.8m-2.9-6.8l6.8 6.8m0-6.8l-6.8 6.8m.2-4.3h6.8m-3.9-2.9v6.8m-2.9-6.8l6.8 6.8m0-6.8l-6.8 6.8m.3-4.2h6.8m-3.9-2.9v6.8m-2.9-6.8l6.8 6.8m0-6.8l-6.8 6.8m.3-4.2h6.8m-3.9-2.9v6.8m-2.9-6.8l6.8 6.8m0-6.8l-6.8 6.8m.3-4.3h6.8m-3.9-2.9v6.8m-2.9-6.8l6.8 6.8m0-6.8l-6.8 6.8m.2-4.2h6.8m-3.9-2.9v6.8m-2.9-6.8l6.8 6.8m0-6.8l-6.8 6.8m.3-4.3h6.8m-3.9-2.9v6.8m-2.9-6.8l6.8 6.8m0-6.8l-6.8 6.8m.3-4.2h6.8m-3.9-2.9v6.8m-2.9-6.8l6.8 6.8m0-6.8l-6.8 6.8m.3-4.3h6.8m-3.9-2.9v6.8m-2.9-6.8l6.8 6.8m0-6.8l-6.8 6.8m.2-4.2h6.8m-3.9-2.9v6.8m-2.9-6.8l6.8 6.8m0-6.8l-6.8 6.8m.3-4.3h6.8m-3.9-2.9v6.8m-2.9-6.8l6.8 6.8m0-6.8l-6.8 6.8m.3-4.2h6.8m-3.9-2.9v6.8m-2.9-6.8l6.8 6.8m0-6.8l-6.8 6.8m.3-4.3h6.8m-3.9-2.9v6.8m-2.9-6.8l6.8 6.8m0-6.8l-6.8 6.8m.2-4.2h6.8m-3.9-2.9v6.8m-2.9-6.8l6.8 6.8m0-6.8l-6.8 6.8m.3-4.3h6.8m-3.9-2.9v6.8m-2.9-6.8l6.8 6.8m0-6.8l-6.8 6.8m.3-4.2h6.8m-3.9-2.9v6.8m-2.9-6.8l6.8 6.8m0-6.8l-6.8 6.8m.3-4.3h6.8m-3.9-2.9v6.8m-2.9-6.8l6.8 6.8m0-6.8l-6.8 6.8m.3-4.2h6.8m-3.9-2.9v6.8m-2.9-6.8l6.8 6.8m0-6.8l-6.8 6.8m.2-4.3h6.8m-3.9-2.9v6.8m-2.9-6.8l6.8 6.8m0-6.8l-6.8 6.8m.3-4.2h6.8m-3.9-2.9v6.8m-2.9-6.8l6.8 6.8m0-6.8l-6.8 6.8m.3-4.3h6.8m-3.9-2.9v6.8m-2.9-6.8l6.8 6.8m0-6.8l-6.8 6.8m.3-4.2h6.8m-3.9-2.9v6.8m-2.9-6.8l6.8 6.8m0-6.8l-6.8 6.8m.2-4.3h6.8m-3.9-2.9v6.8m-2.9-6.8l6.8 6.8m0-6.8l-6.8 6.8m.3-4.2h6.8m-3.9-2.9v6.8m-2.9-6.8l6.8 6.8m0-6.8l-6.8 6.8m.3-4.3h6.8m-3.9-2.9v6.8m-2.9-6.8l6.8 6.8m0-6.8l-6.8 6.8m.3-4.3h6.8m-3.9-2.9v6.8m-2.9-6.8l6.8 6.8m0-6.8l-6.8 6.8m.2-4.2h6.8m-3.9-2.9v6.8m-2.9-6.8l6.8 6.8m0-6.8l-6.8 6.8m.3-4.3h6.8m-3.9-2.9v6.8m-2.9-6.8l6.8 6.8m0-6.8l-6.8 6.8m.3-4.2h6.8m-3.9-2.9v6.8m-2.9-6.8l6.8 6.8m0-6.8l-6.8 6.8m.3-4.3h6.8m-3.9-2.9v6.8m-2.9-6.8l6.8 6.8m0-6.8l-6.8 6.8m.2-4.2h6.8m-3.9-2.9v6.8m-2.9-6.8l6.8 6.8m0-6.8l-6.8 6.8m.3-4.3h6.8m-3.9-2.9v6.8m-2.9-6.8l6.8 6.8m0-6.8l-6.8 6.8m.3-4.2h6.8m-3.9-2.9v6.8m-2.9-6.8l6.8 6.8m0-6.8l-6.8 6.8m.3-4.3h6.8m-3.9-2.9v6.8m-2.9-6.8l6.8 6.8m0-6.8l-6.8 6.8m.2-4.3h6.8m-3.9-2.9v6.8m-2.9-6.8l6.8 6.8m0-6.8l-6.8 6.8m.3-4.2h6.8m-3.9-2.9v6.8m-2.9-6.8l6.8 6.8m0-6.8l-6.8 6.8m.3-4.3h6.8m-3.9-2.9v6.8m-2.9-6.8l6.8 6.8m0-6.8l-6.8 6.8m.3-4.2h6.8m-3.9-2.9v6.8m-2.9-6.8l6.8 6.8m0-6.8l-6.8 6.8m.2-4.3h6.8m-3.9-2.9v6.8m-2.9-6.8l6.8 6.8m0-6.8l-6.8 6.8m.3-4.2h6.8m-3.9-2.9v6.8m-2.9-6.8l6.8 6.8m0-6.8l-6.8 6.8m.3-4.3h6.8m-3.9-2.9v6.8m-2.9-6.8l6.8 6.8m0-6.8l-6.8 6.8m.3-4.2h6.8m-3.9-2.9v6.8m-2.9-6.8l6.8 6.8m0-6.8l-6.8 6.8m.3-4.3h6.8m-3.9-2.9v6.8m-2.9-6.8l6.8 6.8m0-6.8l-6.8 6.8m.2-4.2h6.8m-3.9-2.9v6.8m-2.9-6.8l6.8 6.8m0-6.8l-6.8 6.8m.3-4.3h6.8m-3.9-2.9v6.8m-2.9-6.8l6.8 6.8m0-6.8l-6.8 6.8m.3-4.2h6.8m-3.9-2.9v6.8m-2.9-6.8l6.8 6.8m0-6.8l-6.8 6.8m.3-4.3h6.8m-3.9-2.9v6.8m-2.9-6.8l6.8 6.8m0-6.8l-6.8 6.8m.2-4.2h6.8m-3.9-2.9v6.8m-2.9-6.8l6.8 6.8m0-6.8l-6.8 6.8m.3-4.3h6.8m-3.9-2.9v6.8m-2.9-6.8l6.8 6.8m0-6.8l-6.8 6.8m.3-4.2h6.8m-3.9-2.9v6.8m-2.9-6.8l6.8 6.8m0-6.8l-6.8 6.8m.3-4.3h6.8m-3.9-2.9v6.8m-2.9-6.8l6.8 6.8m0-6.8l-6.8 6.8m.2-4.2h6.8m-3.9-2.9v6.8m-2.9-6.8l6.8 6.8m0-6.8l-6.8 6.8m.3-4.3h6.8m-3.9-2.9v6.8m-2.9-6.8l6.8 6.8m0-6.8l-6.8 6.8m.3-4.2h6.8m-3.9-2.9v6.8m-2.9-6.8l6.8 6.8m0-6.8l-6.8 6.8m.3-4.3h6.8m-3.9-2.9v6.8m-2.9-6.8l6.8 6.8m0-6.8l-6.8 6.8m.2-4.3h6.8m-3.9-2.9v6.8m-2.9-6.8l6.8 6.8m0-6.8l-6.8 6.8m.3-4.2h6.8m-3.9-2.9v6.8m-2.9-6.8l6.8 6.8m0-6.8l-6.8 6.8m.3-4.3h6.8m-3.9-2.9v6.8m-2.9-6.8l6.8 6.8m0-6.8l-6.8 6.8m.3-4.2h6.8m-3.9-2.9v6.8m-2.9-6.8l6.8 6.8m0-6.8l-6.8 6.8m.2-4.3h6.8m-3.9-2.9v6.8m-2.9-6.8l6.8 6.8m0-6.8l-6.8 6.8m.3-4.2h6.8m-3.9-2.9v6.8m-2.9-6.8l6.8 6.8m0-6.8l-6.8 6.8m.3-4.3h6.8m-3.9-2.9v6.8m-2.9-6.8l6.8 6.8m0-6.8l-6.8 6.8m.3-4.2h6.8m-3.9-2.9v6.8m-2.9-6.8l6.8 6.8m0-6.8l-6.8 6.8m.2-4.3h6.8m-3.9-2.9v6.8m-2.9-6.8l6.8 6.8m0-6.8l-6.8 6.8m.3-4.2h6.8m-3.9-2.9v6.8m-2.9-6.8l6.8 6.8m0-6.8l-6.8 6.8m.3-4.3h6.8m-3.9-2.9v6.8m-2.9-6.8l6.8 6.8m0-6.8l-6.8 6.8m.3-4.2h6.8m-3.9-2.9v6.8m-2.9-6.8l6.8 6.8m0-6.8l-6.8 6.8m.2-4.3h6.8m-3.9-2.9v6.8m-2.9-6.8l6.8 6.8m0-6.8l-6.8 6.8m.3-4.2h6.8m-3.9-2.9v6.8m-2.9-6.8l6.8 6.8m0-6.8l-6.8 6.8m.3-4.3h6.8m-3.9-2.9v6.8m-2.9-6.8l6.8 6.8m0-6.8l-6.8 6.8m.3-4.2h6.8m-3.9-2.9v6.8m-2.9-6.8l6.8 6.8m0-6.8l-6.8 6.8m.3-4.3h6.8m-3.9-2.9v6.8m-2.9-6.8l6.8 6.8m0-6.8l-6.8 6.8m.2-4.2h6.8m-3.9-2.9v6.8m-2.9-6.8l6.8 6.8m0-6.8l-6.8 6.8m.3-4.3h6.8m-3.9-2.9v6.8m-2.9-6.8l6.8 6.8m0-6.8l-6.8 6.8m.3-4.2h6.8m-3.9-2.9v6.8m-2.9-6.8l6.8 6.8m0-6.8l-6.8 6.8m.3-4.3h6.8m-3.9-2.9v6.8m-2.9-6.8l6.8 6.8m0-6.8l-6.8 6.8m.2-4.2h6.8m-3.9-2.9v6.8m-2.9-6.8l6.8 6.8m0-6.8l-6.8 6.8m.3-4.3h6.8m-3.9-2.9v6.8m-2.9-6.8l6.8 6.8m0-6.8l-6.8 6.8m.3-4.2h6.8m-3.9-2.9v6.8m-2.9-6.8l6.8 6.8m0-6.8l-6.8 6.8m.3-4.3h6.8m-3.9-2.9v6.8m-2.9-6.8l6.8 6.8m0-6.8l-6.8 6.8m.2-4.2h6.8m-3.9-2.9v6.8m-2.9-6.8l6.8 6.8m0-6.8l-6.8 6.8m.3-4.3h6.8m-3.9-2.9v6.8m-2.9-6.8l6.8 6.8m0-6.8l-6.8 6.8m.3-4.2h6.8m-3.9-2.9v6.8m-2.9-6.8l6.8 6.8m0-6.8l-6.8 6.8m.3-4.3h6.8m-3.9-2.9v6.8m-2.9-6.8l6.8 6.8m0-6.8l-6.8 6.8m.2-4.2h6.8m-3.9-2.9v6.8m-2.9-6.8l6.8 6.8m0-6.8l-6.8 6.8m.3-4.3h6.8m-3.9-2.9v6.8m-2.9-6.8l6.8 6.8m0-6.8l-6.8 6.8m.3-4.2h6.8m-3.9-2.9v6.8m-2.9-6.8l6.8 6.8m0-6.8l-6.8 6.8m.3-4.3h6.8m-3.9-2.9v6.8m-2.9-6.8l6.8 6.8m0-6.8l-6.8 6.8m.2-4.2h6.8m-3.9-2.9v6.8m-2.9-6.8l6.8 6.8m0-6.8l-6.8 6.8m.3-4.3h6.8m-3.9-2.9v6.8m-2.9-6.8l6.8 6.8m0-6.8l-6.8 6.8m.3-4.2h6.8m-3.9-2.9v6.8m-2.9-6.8l6.8 6.8m0-6.8l-6.8 6.8m.3-4.2h6.8m-3.9-2.9v6.8m-2.9-6.8l6.8 6.8m0-6.8l-6.8 6.8m.2-4.3h6.8m-3.9-2.9v6.8m-2.9-6.8l6.8 6.8m0-6.8l-6.8 6.8m.3-4.2h6.8m-3.9-2.9v6.8m-2.9-6.8l6.8 6.8m0-6.8l-6.8 6.8m.3-4.3h6.8m-3.9-2.9v6.8m-2.9-6.8l6.8 6.8m0-6.8l-6.8 6.8m.3-4.2h6.8m-3.9-2.9v6.8m-2.9-6.8l6.8 6.8m0-6.8l-6.8 6.8m.3-4.3h6.8m-3.9-2.9v6.8m-2.9-6.8l6.8 6.8m0-6.8l-6.8 6.8m.2-4.2h6.8m-3.9-2.9v6.8m-2.9-6.8l6.8 6.8m0-6.8l-6.8 6.8m.3-4.2h6.8m-3.9-2.9v6.8m-2.9-6.8l6.8 6.8m0-6.8l-6.8 6.8m.3-4.3h6.8m-3.9-2.9v6.8m-2.9-6.8l6.8 6.8m0-6.8l-6.8 6.8m.3-4.2h6.8m-3.9-2.9v6.8m-2.9-6.8l6.8 6.8m0-6.8l-6.8 6.8m.2-4.3h6.8m-3.9-2.9v6.8m-2.9-6.8l6.8 6.8m0-6.8l-6.8 6.8m.3-4.2h6.8m-3.9-2.9v6.8m-2.9-6.8l6.8 6.8m0-6.8l-6.8 6.8m.3-4.2h6.8m-3.9-2.9v6.8m-2.9-6.8l6.8 6.8m0-6.8l-6.8 6.8m.3-4.3h6.8m-3.9-2.9v6.8m-2.9-6.8l6.8 6.8m0-6.8l-6.8 6.8m.2-4.2h6.8m-3.9-2.9v6.8m-2.9-6.8l6.8 6.8m0-6.8l-6.8 6.8m.3-4.3h6.8m-3.9-2.9v6.8m-2.9-6.8l6.8 6.8m0-6.8l-6.8 6.8m.3-4.2h6.8m-3.9-2.9v6.8m-2.9-6.8l6.8 6.8m0-6.8l-6.8 6.8m.3-4.2h6.8m-3.9-2.9v6.8m-2.9-6.8l6.8 6.8m0-6.8l-6.8 6.8m.2-4.3h6.8m-3.9-2.9v6.8m-2.9-6.8l6.8 6.8m0-6.8l-6.8 6.8m.3-4.2h6.8m-3.9-2.9v6.8m-2.9-6.8l6.8 6.8m0-6.8l-6.8 6.8m.3-4.2h6.8m-3.9-2.9v6.8m-2.9-6.8l6.8 6.8m0-6.8l-6.8 6.8m.3-4.3h6.8m-3.9-2.9v6.8m-2.9-6.8l6.8 6.8m0-6.8l-6.8 6.8m.2-4.2h6.8m-3.9-2.9v6.8m-2.9-6.8l6.8 6.8m0-6.8l-6.8 6.8m.3-4.2h6.8m-3.9-2.9v6.8m-2.9-6.8l6.8 6.8m0-6.8l-6.8 6.8m.3-4.3h6.8m-3.9-2.9v6.8m-2.9-6.8l6.8 6.8m0-6.8l-6.8 6.8m.3-4.2h6.8m-3.9-2.9v6.8m-2.9-6.8l6.8 6.8m0-6.8l-6.8 6.8m.2-4.2h6.8m-3.9-2.9v6.8m-2.9-6.8l6.8 6.8m0-6.8l-6.8 6.8m.3-4.2h6.8m-3.9-2.9v6.8m-2.9-6.8l6.8 6.8m0-6.8l-6.8 6.8m.3-4.3h6.8m-3.9-2.9v6.8m-2.9-6.8l6.8 6.8m0-6.8l-6.8 6.8m.3-4.2h6.8m-3.9-2.9v6.8m-2.9-6.8l6.8 6.8m0-6.8l-6.8 6.8m.3-4.2h6.8m-3.9-2.9v6.8m-2.9-6.8l6.8 6.8m0-6.8l-6.8 6.8m.2-4.3h6.8m-3.9-2.9v6.8m-2.9-6.8l6.8 6.8m0-6.8l-6.8 6.8m.3-4.2h6.8m-3.9-2.9v6.8m-2.9-6.8l6.8 6.8m0-6.8l-6.8 6.8m.3-4.2h6.8m-3.9-2.9v6.8m-2.9-6.8l6.8 6.8m0-6.8l-6.8 6.8m.3-4.2h6.8m-3.9-2.9v6.8m-2.9-6.8l6.8 6.8m0-6.8l-6.8 6.8m.2-4.3h6.8m-3.9-2.9v6.8m-2.9-6.8l6.8 6.8m0-6.8l-6.8 6.8m.3-4.2h6.8m-3.9-2.9v6.8m-2.9-6.8l6.8 6.8m0-6.8l-6.8 6.8m.3-4.2h6.8m-3.9-2.9v6.8m-2.9-6.8l6.8 6.8m0-6.8l-6.8 6.8m.3-4.2h6.8m-3.9-2.9v6.8m-2.9-6.8l6.8 6.8m0-6.8l-6.8 6.8m.2-4.3h6.8m-3.9-2.9v6.8m-2.9-6.8l6.8 6.8m0-6.8l-6.8 6.8m.3-4.2h6.8m-3.9-2.9v6.8m-2.9-6.8l6.8 6.8m0-6.8l-6.8 6.8m.3-4.2h6.8m-3.9-2.9v6.8m-2.9-6.8l6.8 6.8m0-6.8l-6.8 6.8m.3-4.2h6.8m-3.9-2.9v6.8m-2.9-6.8l6.8 6.8m0-6.8l-6.8 6.8m.2-4.3h6.8m-3.9-2.9v6.8m-2.9-6.8l6.8 6.8m0-6.8l-6.8 6.8m.3-4.2h6.8m-3.9-2.9v6.8m-2.9-6.8l6.8 6.8m0-6.8l-6.8 6.8m.3-4.2h6.8m-3.9-2.9v6.8m-2.9-6.8l6.8 6.8m0-6.8l-6.8 6.8m.3-4.2h6.8m-3.9-2.9v6.8m-2.9-6.8l6.8 6.8m0-6.8l-6.8 6.8m.2-4.3h6.8m-3.9-2.9v6.8m-2.9-6.8l6.8 6.8m0-6.8l-6.8 6.8m.3-4.2h6.8m-3.9-2.9v6.8m-2.9-6.8l6.8 6.8m0-6.8l-6.8 6.8m.3-4.2h6.8m-3.9-2.9v6.8m-2.9-6.8l6.8 6.8m0-6.8l-6.8 6.8m.3-4.2h6.8m-3.9-2.9v6.8m-2.9-6.8l6.8 6.8m0-6.8l-6.8 6.8m.2-4.3h6.8m-3.9-2.9v6.8m-2.9-6.8l6.8 6.8m0-6.8l-6.8 6.8m.3-4.2h6.8m-3.9-2.9v6.8m-2.9-6.8l6.8 6.8m0-6.8l-6.8 6.8m.3-4.2h6.8m-3.9-2.9v6.8m-2.9-6.8l6.8 6.8m0-6.8l-6.8 6.8m.3-4.2h6.8m-3.9-2.9v6.8m-2.9-6.8l6.8 6.8m0-6.8l-6.8 6.8m.3-4.3h6.8m-3.9-2.9v6.8m-2.9-6.8l6.8 6.8m0-6.8l-6.8 6.8m.2-4.2h6.8m-3.9-2.9v6.8m-2.9-6.8l6.8 6.8m0-6.8l-6.8 6.8m.3-4.2h6.8m-3.9-2.9v6.8m-2.9-6.8l6.8 6.8m0-6.8l-6.8 6.8m.3-4.2h6.8m-3.9-2.9v6.8m-2.9-6.8l6.8 6.8m0-6.8l-6.8 6.8m.3-4.3h6.8m-3.9-2.9v6.8m-2.9-6.8l6.8 6.8m0-6.8l-6.8 6.8m.2-4.2h6.8m-3.9-2.9v6.8m-2.9-6.8l6.8 6.8m0-6.8l-6.8 6.8m.3-4.2h6.8m-3.9-2.9v6.8m-2.9-6.8l6.8 6.8m0-6.8l-6.8 6.8m.3-4.2h6.8m-3.9-2.9v6.8m-2.9-6.8l6.8 6.8m0-6.8l-6.8 6.8m.3-4.3h6.8m-3.9-2.9v6.8m-2.9-6.8l6.8 6.8m0-6.8l-6.8 6.8m.2-4.2h6.8m-3.9-2.9v6.8m-2.9-6.8l6.8 6.8m0-6.8l-6.8 6.8m.3-4.2h6.8m-3.9-2.9v6.8m-2.9-6.8l6.8 6.8m0-6.8l-6.8 6.8m.3-4.2h6.8m-3.9-2.9v6.8m-2.9-6.8l6.8 6.8m0-6.8l-6.8 6.8m.3-4.3h6.8m-3.9-2.9v6.8m-2.9-6.8l6.8 6.8m0-6.8l-6.8 6.8m.2-4.2h6.8m-3.9-2.9v6.8m-2.9-6.8l6.8 6.8m0-6.8l-6.8 6.8m.3-4.2h6.8m-3.9-2.9v6.8m-2.9-6.8l6.8 6.8m0-6.8l-6.8 6.8m.3-4.2h6.8m-3.9-2.9v6.8m-2.9-6.8l6.8 6.8m0-6.8l-6.8 6.8m.3-4.3h6.8m-3.9-2.9v6.8m-2.9-6.8l6.8 6.8m0-6.8l-6.8 6.8m.2-4.2h6.8m-3.9-2.9v6.8m-2.9-6.8l6.8 6.8m0-6.8l-6.8 6.8m.3-4.2h6.8m-3.9-2.9v6.8m-2.9-6.8l6.8 6.8m0-6.8l-6.8 6.8m.3-4.2h6.8m-3.9-2.9v6.8m-2.9-6.8l6.8 6.8m0-6.8l-6.8 6.8m.3-4.3h6.8m-3.9-2.9v6.8m-2.9-6.8l6.8 6.8m0-6.8l-6.8 6.8m.2-4.2h6.8m-3.9-2.9v6.8m-2.9-6.8l6.8 6.8m0-6.8l-6.8 6.8m.3-4.2h6.8m-3.9-2.9v6.8m-2.9-6.8l6.8 6.8m0-6.8l-6.8 6.8m.3-4.2h6.8m-3.9-2.9v6.8m-2.9-6.8l6.8 6.8m0-6.8l-6.8 6.8m.3-4.3h6.8m-3.9-2.9v6.8m-2.9-6.8l6.8 6.8m0-6.8l-6.8 6.8m.3-4.2h6.8m-3.9-2.9v6.8m-2.9-6.8l6.8 6.8m0-6.8l-6.8 6.8m.2-4.2h6.8m-3.9-2.9v6.8m-2.9-6.8l6.8 6.8m0-6.8l-6.8 6.8m.3-4.2h6.8m-3.9-2.9v6.8m-2.9-6.8l6.8 6.8m0-6.8l-6.8 6.8m.3-4.3h6.8m-3.9-2.9v6.8m-2.9-6.8l6.8 6.8m0-6.8l-6.8 6.8m.3-4.2h6.8m-3.9-2.9v6.8m-2.9-6.8l6.8 6.8m0-6.8l-6.8 6.8m.2-4.2h6.8m-3.9-2.9v6.8m-2.9-6.8l6.8 6.8m0-6.8l-6.8 6.8m.3-4.2h6.8m-3.9-2.9v6.8m-2.9-6.8l6.8 6.8m0-6.8l-6.8 6.8m.3-4.3h6.8m-3.9-2.9v6.8m-2.9-6.8l6.8 6.8m0-6.8l-6.8 6.8m.3-4.2h6.8m-3.9-2.9v6.8m-2.9-6.8l6.8 6.8m0-6.8l-6.8 6.8m.2-4.2h6.8m-3.9-2.9v6.8m-2.9-6.8l6.8 6.8m0-6.8l-6.8 6.8m.3-4.2h6.8m-3.9-2.9v6.8m-2.9-6.8l6.8 6.8m0-6.8l-6.8 6.8m.3-4.3h6.8m-3.9-2.9v6.8m-2.9-6.8l6.8 6.8m0-6.8l-6.8 6.8m.3-4.2h6.8m-3.9-2.9v6.8m-2.9-6.8l6.8 6.8m0-6.8l-6.8 6.8m.2-4.2h6.8m-3.9-2.9v6.8m-2.9-6.8l6.8 6.8m0-6.8l-6.8 6.8m.3-4.2h6.8m-3.9-2.9v6.8m-2.9-6.8l6.8 6.8m0-6.8l-6.8 6.8m.3-4.3h6.8m-3.9-2.9v6.8m-2.9-6.8l6.8 6.8m0-6.8l-6.8 6.8m.3-4.2h6.8m-3.9-2.9v6.8m-2.9-6.8l6.8 6.8m0-6.8l-6.8 6.8m.2-4.2h6.8m-3.9-2.9v6.8m-2.9-6.8l6.8 6.8m0-6.8l-6.8 6.8m.3-4.2h6.8m-3.9-2.9v6.8m-2.9-6.8l6.8 6.8m0-6.8l-6.8 6.8m.3-4.3h6.8m-3.9-2.9v6.8m-2.9-6.8l6.8 6.8m0-6.8l-6.8 6.8m.3-4.2h6.8m-3.9-2.9v6.8m-2.9-6.8l6.8 6.8m0-6.8l-6.8 6.8m.2-4.2h6.8m-3.9-2.9v6.8m-2.9-6.8l6.8 6.8m0-6.8l-6.8 6.8m.3-4.2h6.8m-3.9-2.9v6.8m-2.9-6.8l6.8 6.8m0-6.8l-6.8 6.8m.3-4.3h6.8m-3.9-2.9v6.8m-2.9-6.8l6.8 6.8m0-6.8l-6.8 6.8m.3-4.2h6.8m-3.9-2.9v6.8m-2.9-6.8l6.8 6.8m0-6.8l-6.8 6.8m.3-4.2h6.8m-3.9-2.9v6.8m-2.9-6.8l6.8 6.8m0-6.8l-6.8 6.8m.2-4.2h6.8m-3.9-2.9v6.8m-2.9-6.8l6.8 6.8m0-6.8l-6.8 6.8m.3-4.3h6.8m-3.9-2.9v6.8m-2.9-6.8l6.8 6.8m0-6.8l-6.8 6.8m.3-4.2h6.8m-3.9-2.9v6.8m-2.9-6.8l6.8 6.8m0-6.8l-6.8 6.8m.3-4.2h6.8m-3.9-2.9v6.8m-2.9-6.8l6.8 6.8m0-6.8l-6.8 6.8m.2-4.2h6.8m-3.9-2.9v6.8m-2.9-6.8l6.8 6.8m0-6.8l-6.8 6.8m.3-4.3h6.8m-3.9-2.9v6.8m-2.9-6.8l6.8 6.8m0-6.8l-6.8 6.8m.3-4.2h6.8m-3.9-2.9v6.8m-2.9-6.8l6.8 6.8m0-6.8l-6.8 6.8m.3-4.2h6.8m-3.9-2.9v6.8m-2.9-6.8l6.8 6.8m0-6.8l-6.8 6.8m.2-4.2h6.8m-3.9-2.9v6.8m-2.9-6.8l6.8 6.8m0-6.8l-6.8 6.8m.3-4.3h6.8m-3.9-2.9v6.8m-2.9-6.8l6.8 6.8m0-6.8l-6.8 6.8m.3-4.2h6.8m-3.9-2.9v6.8m-2.9-6.8l6.8 6.8m0-6.8l-6.8 6.8m.3-4.2h6.8m-3.9-2.9v6.8m-2.9-6.8l6.8 6.8m0-6.8l-6.8 6.8m.2-4.2h6.8m-3.9-2.9v6.8m-2.9-6.8l6.8 6.8m0-6.8l-6.8 6.8m.3-4.2h6.8m-3.9-2.9v6.8m-2.9-6.8l6.8 6.8m0-6.8l-6.8 6.8m.3-4.3h6.8m-3.9-2.9v6.8m-2.9-6.8l6.8 6.8m0-6.8l-6.8 6.8m.3-4.2h6.8m-3.9-2.9v6.8m-2.9-6.8l6.8 6.8m0-6.8l-6.8 6.8m.2-4.2h6.8m-3.9-2.9v6.8m-2.9-6.8l6.8 6.8m0-6.8l-6.8 6.8m.3-4.2h6.8m-3.9-2.9v6.8m-2.9-6.8l6.8 6.8m0-6.8l-6.8 6.8m.3-4.3h6.8m-3.9-2.9v6.8m-2.9-6.8l6.8 6.8m0-6.8l-6.8 6.8m.3-4.2h6.8m-3.9-2.9v6.8m-2.9-6.8l6.8 6.8m0-6.8l-6.8 6.8m.2-4.2h6.8m-3.9-2.9v6.8m-2.9-6.8l6.8 6.8m0-6.8l-6.8 6.8m.3-4.2h6.8m-3.9-2.9v6.8m-2.9-6.8l6.8 6.8m0-6.8l-6.8 6.8m.3-4.3h6.8m-3.9-2.9v6.8m-2.9-6.8l6.8 6.8m0-6.8l-6.8 6.8m.3-4.2h6.8m-3.9-2.9v6.8m-2.9-6.8l6.8 6.8m0-6.8l-6.8 6.8m.2-4.2h6.8m-3.9-2.9v6.8m-2.9-6.8l6.8 6.8m0-6.8l-6.8 6.8m.3-4.2h6.8m-3.9-2.9v6.8m-2.9-6.8l6.8 6.8m0-6.8l-6.8 6.8m.3-4.2h6.8m-3.9-2.9v6.8m-2.9-6.8l6.8 6.8m0-6.8l-6.8 6.8m.3-4.3h6.8m-3.9-2.9v6.8m-2.9-6.8l6.8 6.8m0-6.8l-6.8 6.8m.3-4.2h6.8m-3.9-2.9v6.8m-2.9-6.8l6.8 6.8m0-6.8l-6.8 6.8m.2-4.2h6.8m-3.9-2.9v6.8m-2.9-6.8l6.8 6.8m0-6.8l-6.8 6.8m.3-4.2h6.8m-3.9-2.9v6.8m-2.9-6.8l6.8 6.8m0-6.8l-6.8 6.8m.3-4.3h6.8m-3.9-2.9v6.8m-2.9-6.8l6.8 6.8m0-6.8l-6.8 6.8m.3-4.2h6.8m-3.9-2.9v6.8m-2.9-6.8l6.8 6.8m0-6.8l-6.8 6.8m.2-4.2h6.8m-3.9-2.9v6.8m-2.9-6.8l6.8 6.8m0-6.8l-6.8 6.8m.3-4.2h6.8m-3.9-2.9v6.8m-2.9-6.8l6.8 6.8m0-6.8l-6.8 6.8m.3-4.2h6.8m-3.9-2.9v6.8m-2.9-6.8l6.8 6.8m0-6.8l-6.8 6.8m.3-4.3h6.8m-3.9-2.9v6.8m-2.9-6.8l6.8 6.8m0-6.8l-6.8 6.8m.2-4.2h6.8m-3.9-2.9v6.8m-2.9-6.8l6.8 6.8m0-6.8l-6.8 6.8m.3-4.2h6.8m-3.9-2.9v6.8m-2.9-6.8l6.8 6.8m0-6.8l-6.8 6.8m.3-4.2h6.8m-3.9-2.9v6.8m-2.9-6.8l6.8 6.8m0-6.8l-6.8 6.8m.3-4.3h6.8m-3.9-2.9v6.8m-2.9-6.8l6.8 6.8m0-6.8l-6.8 6.8m.2-4.2h6.8m-3.9-2.9v6.8m-2.9-6.8l6.8 6.8m0-6.8l-6.8 6.8m.3-4.2h6.8m-3.9-2.9v6.8m-2.9-6.8l6.8 6.8m0-6.8l-6.8 6.8m.3-4.2h6.8m-3.9-2.9v6.8m-2.9-6.8l6.8 6.8m0-6.8l-6.8 6.8m.3-4.2h6.8m-3.9-2.9v6.8m-2.9-6.8l6.8 6.8m0-6.8l-6.8 6.8m.2-4.3h6.8m-3.9-2.9v6.8m-2.9-6.8l6.8 6.8m0-6.8l-6.8 6.8m.3-4.2h6.8m-3.9-2.9v6.8m-2.9-6.8l6.8 6.8m0-6.8l-6.8 6.8m.3-4.2h6.8m-3.9-2.9v6.8m-2.9-6.8l6.8 6.8m0-6.8l-6.8 6.8m.3-4.2h6.8m-3.9-2.9v6.8m-2.9-6.8l6.8 6.8m0-6.8l-6.8 6.8m.2-4.2h6.8m-3.9-2.9v6.8m-2.9-6.8l6.8 6.8m0-6.8l-6.8 6.8m.3-4.3h6.8m-3.9-2.9v6.8m-2.9-6.8l6.8 6.8m0-6.8l-6.8 6.8m.3-4.2h6.8m-3.9-2.9v6.8m-2.9-6.8l6.8 6.8m0-6.8l-6.8 6.8m.3-4.2h6.8m-3.9-2.9v6.8m-2.9-6.8l6.8 6.8m0-6.8l-6.8 6.8m.3-4.2h6.8m-3.9-2.9v6.8m-2.9-6.8l6.8 6.8m0-6.8l-6.8 6.8m.2-4.3h6.8m-3.9-2.9v6.8m-2.9-6.8l6.8 6.8m0-6.8l-6.8 6.8m.3-4.2h6.8m-3.9-2.9v6.8m-2.9-6.8l6.8 6.8m0-6.8l-6.8 6.8m.3-4.2h6.8m-3.9-2.9v6.8m-2.9-6.8l6.8 6.8m0-6.8l-6.8 6.8m.3-4.2h6.8m-3.9-2.9v6.8m-2.9-6.8l6.8 6.8m0-6.8l-6.8 6.8m.2-4.2h6.8m-3.9-2.9v6.8m-2.9-6.8l6.8 6.8m0-6.8l-6.8 6.8m.3-4.3h6.8m-3.9-2.9v6.8m-2.9-6.8l6.8 6.8m0-6.8l-6.8 6.8m.3-4.2h6.8m-3.9-2.9v6.8m-2.9-6.8l6.8 6.8m0-6.8l-6.8 6.8m.3-4.2h6.8m-3.9-2.9v6.8m-2.9-6.8l6.8 6.8m0-6.8l-6.8 6.8m.2-4.2h6.8m-3.9-2.9v6.8m-2.9-6.8l6.8 6.8m0-6.8l-6.8 6.8m.3-4.2h6.8m-3.9-2.9v6.8m-2.9-6.8l6.8 6.8m0-6.8l-6.8 6.8m.3-4.3h6.8m-3.9-2.9v6.8m-2.9-6.8l6.8 6.8m0-6.8l-6.8 6.8m.3-4.2h6.8m-3.9-2.9v6.8m-2.9-6.8l6.8 6.8m0-6.8l-6.8 6.8m.2-4.2h6.8m-3.9-2.9v6.8m-2.9-6.8l6.8 6.8m0-6.8l-6.8 6.8m.3-4.2h6.8m-3.9-2.9v6.8m-2.9-6.8l6.8 6.8m0-6.8l-6.8 6.8m.3-4.2h6.8m-3.9-2.9v6.8m-2.9-6.8l6.8 6.8m0-6.8l-6.8 6.8m.3-4.3h6.8m-3.9-2.9v6.8m-2.9-6.8l6.8 6.8m0-6.8l-6.8 6.8m.2-4.2h6.8m-3.9-2.9v6.8m-2.9-6.8l6.8 6.8m0-6.8l-6.8 6.8m.3-4.2h6.8m-3.9-2.9v6.8m-2.9-6.8l6.8 6.8m0-6.8l-6.8 6.8m.3-4.2h6.8m-3.9-2.9v6.8m-2.9-6.8l6.8 6.8m0-6.8l-6.8 6.8m.3-4.2h6.8m-3.9-2.9v6.8m-2.9-6.8l6.8 6.8m0-6.8l-6.8 6.8m.2-4.3h6.8m-3.9-2.9v6.8m-2.9-6.8l6.8 6.8m0-6.8l-6.8 6.8m.3-4.2h6.8m-3.9-2.9v6.8m-2.9-6.8l6.8 6.8m0-6.8l-6.8 6.8m.3-4.2h6.8m-3.9-2.9v6.8m-2.9-6.8l6.8 6.8m0-6.8l-6.8 6.8m.3-4.2h6.8m-3.9-2.9v6.8m-2.9-6.8l6.8 6.8m0-6.8l-6.8 6.8m.3-4.2h6.8m-3.9-2.9v6.8m-2.9-6.8l6.8 6.8m0-6.8l-6.8 6.8m.2-4.3h6.8m-3.9-2.9v6.8m-2.9-6.8l6.8 6.8m0-6.8l-6.8 6.8m.3-4.2h6.8m-3.9-2.9v6.8m-2.9-6.8l6.8 6.8m0-6.8l-6.8 6.8m.3-4.2h6.8m-3.9-2.9v6.8m-2.9-6.8l6.8 6.8m0-6.8l-6.8 6.8m.3-4.2h6.8m-3.9-2.9v6.8m-2.9-6.8l6.8 6.8m0-6.8l-6.8 6.8m.2-4.2h6.8m-3.9-2.9v6.8m-2.9-6.8l6.8 6.8m0-6.8l-6.8 6.8m.3-4.3h6.8m-3.9-2.9v6.8m-2.9-6.8l6.8 6.8m0-6.8l-6.8 6.8m.3-4.2h6.8m-3.9-2.9v6.8m-2.9-6.8l6.8 6.8m0-6.8l-6.8 6.8m.3-4.2h6.8m-3.9-2.9v6.8m-2.9-6.8l6.8 6.8m0-6.8l-6.8 6.8m.2-4.2h6.8m-3.9-2.9v6.8m-2.9-6.8l6.8 6.8m0-6.8l-6.8 6.8m.3-4.2h6.8m-3.9-2.9v6.8m-2.9-6.8l6.8 6.8m0-6.8l-6.8 6.8m.3-4.3h6.8m-3.9-2.9v6.8m-2.9-6.8l6.8 6.8m0-6.8l-6.8 6.8m.3-4.2h6.8m-3.9-2.9v6.8m-2.9-6.8l6.8 6.8m0-6.8l-6.8 6.8m.2-4.2h6.8m-3.9-2.9v6.8m-2.9-6.8l6.8 6.8m0-6.8l-6.8 6.8m.3-4.2h6.8m-3.9-2.9v6.8m-2.9-6.8l6.8 6.8m0-6.8l-6.8 6.8m.3-4.2h6.8m-3.9-2.9v6.8m-2.9-6.8l6.8 6.8m0-6.8l-6.8 6.8m.3-4.3h6.8m-3.9-2.9v6.8m-2.9-6.8l6.8 6.8m0-6.8l-6.8 6.8m.2-4.2h6.8m-3.9-2.9v6.8m-2.9-6.8l6.8 6.8m0-6.8l-6.8 6.8m.3-4.2h6.8m-3.9-2.9v6.8m-2.9-6.8l6.8 6.8m0-6.8l-6.8 6.8m.3-4.2h6.8m-3.9-2.9v6.8m-2.9-6.8l6.8 6.8m0-6.8l-6.8 6.8m.3-4.2h6.8m-3.9-2.9v6.8m-2.9-6.8l6.8 6.8m0-6.8l-6.8 6.8m.2-4.2h6.8m-3.9-2.9v6.8m-2.9-6.8l6.8 6.8m0-6.8l-6.8 6.8m.3-4.3h6.8m-3.9-2.9v6.8m-2.9-6.8l6.8 6.8m0-6.8l-6.8 6.8m.3-4.2h6.8m-3.9-2.9v6.8m-2.9-6.8l6.8 6.8m0-6.8l-6.8 6.8m.3-4.2h6.8m-3.9-2.9v6.8m-2.9-6.8l6.8 6.8m0-6.8l-6.8 6.8m.3-4.2h6.8m-3.9-2.9v6.8m-2.9-6.8l6.8 6.8m0-6.8l-6.8 6.8m.2-4.2h6.8m-3.9-2.9v6.8m-2.9-6.8l6.8 6.8m0-6.8l-6.8 6.8m.3-4.3h6.8m-3.9-2.9v6.8m-2.9-6.8l6.8 6.8m0-6.8l-6.8 6.8m.3-4.2h6.8m-3.9-2.9v6.8m-2.9-6.8l6.8 6.8m0-6.8l-6.8 6.8m.3-4.2h6.8m-3.9-2.9v6.8m-2.9-6.8l6.8 6.8m0-6.8l-6.8 6.8m.2-4.2h6.8m-3.9-2.9v6.8m-2.9-6.8l6.8 6.8m0-6.8l-6.8 6.8m.3-4.2h6.8m-3.9-2.9v6.8m-2.9-6.8l6.8 6.8m0-6.8l-6.8 6.8m.3-4.2h6.8m-3.9-2.9v6.8m-2.9-6.8l6.8 6.8m0-6.8l-6.8 6.8m.3-4.3h6.8m-3.9-2.9v6.8m-2.9-6.8l6.8 6.8m0-6.8l-6.8 6.8m.2-4.2h6.8m-3.9-2.9v6.8m-2.9-6.8l6.8 6.8m0-6.8l-6.8 6.8m.3-4.2h6.8m-3.9-2.9v6.8m-2.9-6.8l6.8 6.8m0-6.8l-6.8 6.8m.3-4.2h6.8m-3.9-2.9v6.8m-2.9-6.8l6.8 6.8m0-6.8l-6.8 6.8m.3-4.2h6.8m-3.9-2.9v6.8m-2.9-6.8l6.8 6.8m0-6.8l-6.8 6.8m.2-4.3h6.8m-3.9-2.9v6.8m-2.9-6.8l6.8 6.8m0-6.8l-6.8 6.8m.3-4.2h6.8m-3.9-2.9v6.8m-2.9-6.8l6.8 6.8m0-6.8l-6.8 6.8m.3-4.2h6.8m-3.9-2.9v6.8m-2.9-6.8l6.8 6.8m0-6.8l-6.8 6.8m.3-4.2h6.8m-3.9-2.9v6.8m-2.9-6.8l6.8 6.8m0-6.8l-6.8 6.8m.2-4.2h6.8m-3.9-2.9v6.8m-2.9-6.8l6.8 6.8m0-6.8l-6.8 6.8m.3-4.2h6.8m-3.9-2.9v6.8m-2.9-6.8l6.8 6.8m0-6.8l-6.8 6.8m.3-4.3h6.8m-3.9-2.9v6.8m-2.9-6.8l6.8 6.8m0-6.8l-6.8 6.8m.3-4.2h6.8m-3.9-2.9v6.8m-2.9-6.8l6.8 6.8m0-6.8l-6.8 6.8m.2-4.2h6.8m-3.9-2.9v6.8m-2.9-6.8l6.8 6.8m0-6.8l-6.8 6.8m.3-4.2h6.8m-3.9-2.9v6.8m-2.9-6.8l6.8 6.8m0-6.8l-6.8 6.8m.3-4.2h6.8m-3.9-2.9v6.8m-2.9-6.8l6.8 6.8m0-6.8l-6.8 6.8m.3-4.2h6.8m-3.9-2.9v6.8m-2.9-6.8l6.8 6.8m0-6.8l-6.8 6.8m.3-4.3h6.8m-3.9-2.9v6.8m-2.9-6.8l6.8 6.8m0-6.8l-6.8 6.8m.2-4.2h6.8m-3.9-2.9v6.8m-2.9-6.8l6.8 6.8m0-6.8l-6.8 6.8m.3-4.2h6.8m-3.9-2.9v6.8m-2.9-6.8l6.8 6.8m0-6.8l-6.8 6.8m.3-4.2h6.8m-3.9-2.9v6.8m-2.9-6.8l6.8 6.8m0-6.8l-6.8 6.8m.3-4.2h6.8m-3.9-2.9v6.8m-2.9-6.8l6.8 6.8m0-6.8l-6.8 6.8m.2-4.2h6.8m-3.9-2.9v6.8m-2.9-6.8l6.8 6.8m0-6.8l-6.8 6.8m.3-4.3h6.8m-3.9-2.9v6.8m-2.9-6.8l6.8 6.8m0-6.8l-6.8 6.8m.3-4.2h6.8m-3.9-2.9v6.8m-2.9-6.8l6.8 6.8m0-6.8l-6.8 6.8m.3-4.2h6.8m-3.9-2.9v6.8m-2.9-6.8l6.8 6.8m0-6.8l-6.8 6.8m.2-4.2h6.8m-3.9-2.9v6.8m-2.9-6.8l6.8 6.8m0-6.8l-6.8 6.8m.3-4.2h6.8m-3.9-2.9v6.8m-2.9-6.8l6.8 6.8m0-6.8l-6.8 6.8m.3-4.2h6.8m-3.9-2.9v6.8m-2.9-6.8l6.8 6.8m0-6.8l-6.8 6.8m.3-4.3h6.8m-3.9-2.9v6.8m-2.9-6.8l6.8 6.8m0-6.8l-6.8 6.8m.2-4.2h6.8m-3.9-2.9v6.8m-2.9-6.8l6.8 6.8m0-6.8l-6.8 6.8m.3-4.2h6.8m-3.9-2.9v6.8m-2.9-6.8l6.8 6.8m0-6.8l-6.8 6.8m.3-4.2h6.8m-3.9-2.9v6.8m-2.9-6.8l6.8 6.8m0-6.8l-6.8 6.8m.3-4.2h6.8m-3.9-2.9v6.8m-2.9-6.8l6.8 6.8m0-6.8l-6.8 6.8m.2-4.2h6.8m-3.9-2.9v6.8m-2.9-6.8l6.8 6.8m0-6.8l-6.8 6.8m.3-4.3h6.8m-3.9-2.9v6.8m-2.9-6.8l6.8 6.8m0-6.8l-6.8 6.8m.3-4.2h6.8m-3.9-2.9v6.8m-2.9-6.8l6.8 6.8m0-6.8l-6.8 6.8m.3-4.2h6.8m-3.9-2.9v6.8m-2.9-6.8l6.8 6.8m0-6.8l-6.8 6.8m.2-4.2h6.8m-3.9-2.9v6.8m-2.9-6.8l6.8 6.8m0-6.8l-6.8 6.8m.3-4.2h6.8m-3.9-2.9v6.8m-2.9-6.8l6.8 6.8m0-6.8l-6.8 6.8m.3-4.2h6.8m-3.9-2.9v6.8m-2.9-6.8l6.8 6.8m0-6.8l-6.8 6.8m.3-4.3h6.8m-3.9-2.9v6.8m-2.9-6.8l6.8 6.8m0-6.8l-6.8 6.8m.3-4.2h6.8m-3.9-2.9v6.8m-2.9-6.8l6.8 6.8m0-6.8l-6.8 6.8m.2-4.2h6.8m-3.9-2.9v6.8m-2.9-6.8l6.8 6.8m0-6.8l-6.8 6.8m.3-4.2h6.8m-3.9-2.9v6.8m-2.9-6.8l6.8 6.8m0-6.8l-6.8 6.8m.3-4.2h6.8m-3.9-2.9v6.8m-2.9-6.8l6.8 6.8m0-6.8l-6.8 6.8m.3-4.2h6.8m-3.9-2.9v6.8m-2.9-6.8l6.8 6.8m0-6.8l-6.8 6.8m.2-4.2h6.8m-3.9-2.9v6.8m-2.9-6.8l6.8 6.8m0-6.8l-6.8 6.8m.3-4.3h6.8m-3.9-2.9v6.8m-2.9-6.8l6.8 6.8m0-6.8l-6.8 6.8m.3-4.2h6.8m-3.9-2.9v6.8m-2.9-6.8l6.8 6.8m0-6.8l-6.8 6.8m.3-4.2h6.8m-3.9-2.9v6.8m-2.9-6.8l6.8 6.8m0-6.8l-6.8 6.8m.2-4.2h6.8m-3.9-2.9v6.8m-2.9-6.8l6.8 6.8m0-6.8l-6.8 6.8m.3-4.2h6.8m-3.9-2.9v6.8m-2.9-6.8l6.8 6.8m0-6.8l-6.8 6.8m.3-4.2h6.8m-3.9-2.9v6.8m-2.9-6.8l6.8 6.8m0-6.8l-6.8 6.8m.3-4.3h6.8m-3.9-2.9v6.8m-2.9-6.8l6.8 6.8m0-6.8l-6.8 6.8m.2-4.2h6.8m-3.9-2.9v6.8m-2.9-6.8l6.8 6.8m0-6.8l-6.8 6.8m.3-4.2h6.8m-3.9-2.9v6.8m-2.9-6.8l6.8 6.8m0-6.8l-6.8 6.8m.3-4.2h6.8m-3.9-2.9v6.8m-2.9-6.8l6.8 6.8m0-6.8l-6.8 6.8m.3-4.2h6.8m-3.9-2.9v6.8m-2.9-6.8l6.8 6.8m0-6.8l-6.8 6.8m.2-4.2h6.8m-3.9-2.9v6.8m-2.9-6.8l6.8 6.8m0-6.8l-6.8 6.8m.3-4.2h6.8m-3.9-2.9v6.8m-2.9-6.8l6.8 6.8m0-6.8l-6.8 6.8m.3-4.3h6.8m-3.9-2.9v6.8m-2.9-6.8l6.8 6.8m0-6.8l-6.8 6.8m.3-4.2h6.8m-3.9-2.9v6.8m-2.9-6.8l6.8 6.8m0-6.8l-6.8 6.8m.2-4.2h6.8m-3.9-2.9v6.8m-2.9-6.8l6.8 6.8m0-6.8l-6.8 6.8m.3-4.2h6.8m-3.9-2.9v6.8m-2.9-6.8l6.8 6.8m0-6.8l-6.8 6.8m.3-4.2h6.8m-3.9-2.9v6.8m-2.9-6.8l6.8 6.8m0-6.8l-6.8 6.8m.3-4.2h6.8m-3.9-2.9v6.8m-2.9-6.8l6.8 6.8m0-6.8l-6.8 6.8m.3-4.2h6.8m-3.9-2.9v6.8m-2.9-6.8l6.8 6.8m0-6.8l-6.8 6.8m.2-4.3h6.8m-3.9-2.9v6.8m-2.9-6.8l6.8 6.8m0-6.8l-6.8 6.8m.3-4.2h6.8m-3.9-2.9v6.8m-2.9-6.8l6.8 6.8m0-6.8l-6.8 6.8m.3-4.2h6.8m-3.9-2.9v6.8m-2.9-6.8l6.8 6.8m0-6.8l-6.8 6.8m.3-4.2h6.8m-3.9-2.9v6.8m-2.9-6.8l6.8 6.8m0-6.8l-6.8 6.8m.2-4.2h6.8m-3.9-2.9v6.8m-2.9-6.8l6.8 6.8m0-6.8l-6.8 6.8m.3-4.2h6.8m-3.9-2.9v6.8m-2.9-6.8l6.8 6.8m0-6.8l-6.8 6.8m.3-4.2h6.8m-3.9-2.9v6.8m-2.9-6.8l6.8 6.8m0-6.8l-6.8 6.8m.3-4.3h6.8m-3.9-2.9v6.8m-2.9-6.8l6.8 6.8m0-6.8l-6.8 6.8m.2-4.2h6.8m-3.9-2.9v6.8m-2.9-6.8l6.8 6.8m0-6.8l-6.8 6.8m.3-4.2h6.8m-3.9-2.9v6.8m-2.9-6.8l6.8 6.8m0-6.8l-6.8 6.8m.3-4.2h6.8m-3.9-2.9v6.8m-2.9-6.8l6.8 6.8m0-6.8l-6.8 6.8m.3-4.2h6.8m-3.9-2.9v6.8m-2.9-6.8l6.8 6.8m0-6.8l-6.8 6.8m.2-4.2h6.8m-3.9-2.9v6.8m-2.9-6.8l6.8 6.8m0-6.8l-6.8 6.8m.3-4.2h6.8m-3.9-2.9v6.8m-2.9-6.8l6.8 6.8m0-6.8l-6.8 6.8m.3-4.3h6.8m-3.9-2.9v6.8m-2.9-6.8l6.8 6.8m0-6.8l-6.8 6.8m.3-4.2h6.8m-3.9-2.9v6.8m-2.9-6.8l6.8 6.8m0-6.8l-6.8 6.8m.2-4.2h6.8m-3.9-2.9v6.8m-2.9-6.8l6.8 6.8m0-6.8l-6.8 6.8m.3-4.2h6.8m-3.9-2.9v6.8m-2.9-6.8l6.8 6.8m0-6.8l-6.8 6.8m.3-4.2h6.8m-3.9-2.9v6.8m-2.9-6.8l6.8 6.8m0-6.8l-6.8 6.8m.3-4.2h6.8m-3.9-2.9v6.8m-2.9-6.8l6.8 6.8m0-6.8l-6.8 6.8m.2-4.2h6.8m-3.9-2.9v6.8m-2.9-6.8l6.8 6.8m0-6.8l-6.8 6.8m.3-4.2h6.8m-3.9-2.9v6.8m-2.9-6.8l6.8 6.8m0-6.8l-6.8 6.8m.3-4.3h6.8m-3.9-2.9v6.8m-2.9-6.8l6.8 6.8m0-6.8l-6.8 6.8m.3-4.2h6.8m-3.9-2.9v6.8m-2.9-6.8l6.8 6.8m0-6.8l-6.8 6.8m.2-4.2h6.8m-3.9-2.9v6.8m-2.9-6.8l6.8 6.8m0-6.8l-6.8 6.8m.3-4.2h6.8m-3.9-2.9v6.8m-2.9-6.8l6.8 6.8m0-6.8l-6.8 6.8m.3-4.2h6.8m-3.9-2.9v6.8m-2.9-6.8l6.8 6.8m0-6.8l-6.8 6.8m.3-4.2h6.8m-3.9-2.9v6.8m-2.9-6.8l6.8 6.8m0-6.8l-6.8 6.8m.3-4.2h6.8m-3.9-2.9v6.8m-2.9-6.8l6.8 6.8m0-6.8l-6.8 6.8m.2-4.2h6.8m-3.9-2.9v6.8m-2.9-6.8l6.8 6.8m0-6.8l-6.8 6.8m.3-4.3h6.8m-3.9-2.9v6.8m-2.9-6.8l6.8 6.8m0-6.8l-6.8 6.8m.3-4.2h6.8m-3.9-2.9v6.8m-2.9-6.8l6.8 6.8m0-6.8l-6.8 6.8m.3-4.2h6.8m-3.9-2.9v6.8m-2.9-6.8l6.8 6.8m0-6.8l-6.8 6.8m.2-4.2h6.8m-3.9-2.9v6.8m-2.9-6.8l6.8 6.8m0-6.8l-6.8 6.8m.3-4.2h6.8m-3.9-2.9v6.8m-2.9-6.8l6.8 6.8m0-6.8l-6.8 6.8m.3-4.2h6.8m-3.9-2.9v6.8m-2.9-6.8l6.8 6.8m0-6.8l-6.8 6.8m.3-4.2h6.8m-3.9-2.9v6.8m-2.9-6.8l6.8 6.8m0-6.8l-6.8 6.8m.2-4.2h6.8m-3.9-2.9v6.8m-2.9-6.8l6.8 6.8m0-6.8l-6.8 6.8m.3-4.3h6.8m-3.9-2.9v6.8m-2.9-6.8l6.8 6.8m0-6.8l-6.8 6.8m.3-4.2h6.8m-3.9-2.9v6.8m-2.9-6.8l6.8 6.8m0-6.8l-6.8 6.8m.3-4.2h6.8m-3.9-2.9v6.8m-2.9-6.8l6.8 6.8m0-6.8l-6.8 6.8m.2-4.2h6.8m-3.9-2.9v6.8m-2.9-6.8l6.8 6.8m0-6.8l-6.8 6.8m.3-4.2h6.8m-3.9-2.9v6.8m-2.9-6.8l6.8 6.8m0-6.8l-6.8 6.8m.3-4.2h6.8m-3.9-2.9v6.8m-2.9-6.8l6.8 6.8m0-6.8l-6.8 6.8m.3-4.2h6.8m-3.9-2.9v6.8m-2.9-6.8l6.8 6.8m0-6.8l-6.8 6.8m.2-4.2h6.8m-3.9-2.9v6.8m-2.9-6.8l6.8 6.8m0-6.8l-6.8 6.8m.3-4.3h6.8m-3.9-2.9v6.8m-2.9-6.8l6.8 6.8m0-6.8l-6.8 6.8m.3-4.2h6.8m-3.9-2.9v6.8m-2.9-6.8l6.8 6.8m0-6.8l-6.8 6.8m.3-4.2h6.8m-3.9-2.9v6.8m-2.9-6.8l6.8 6.8m0-6.8l-6.8 6.8m.2-4.2h6.8m-3.9-2.9v6.8m-2.9-6.8l6.8 6.8m0-6.8l-6.8 6.8m.3-4.2h6.8m-3.9-2.9v6.8m-2.9-6.8l6.8 6.8m0-6.8l-6.8 6.8m.3-4.2h6.8m-3.9-2.9v6.8m-2.9-6.8l6.8 6.8m0-6.8l-6.8 6.8m.3-4.2h6.8m-3.9-2.9v6.8m-2.9-6.8l6.8 6.8m0-6.8l-6.8 6.8m.3-4.2h6.8m-3.9-2.9v6.8m-2.9-6.8l6.8 6.8m0-6.8l-6.8 6.8m.2-4.2h6.8m-3.9-2.9v6.8m-2.9-6.8l6.8 6.8m0-6.8l-6.8 6.8m.3-4.3h6.8m-3.9-2.9v6.8m-2.9-6.8l6.8 6.8m0-6.8l-6.8 6.8m.3-4.2h6.8m-3.9-2.9v6.8m-2.9-6.8l6.8 6.8m0-6.8l-6.8 6.8m.3-4.2h6.8m-3.9-2.9v6.8m-2.9-6.8l6.8 6.8m0-6.8l-6.8 6.8m.2-4.2h6.8m-3.9-2.9v6.8m-2.9-6.8l6.8 6.8m0-6.8l-6.8 6.8m.3-4.2h6.8m-3.9-2.9v6.8m-2.9-6.8l6.8 6.8m0-6.8l-6.8 6.8m.3-4.2h6.8m-3.9-2.9v6.8m-2.9-6.8l6.8 6.8m0-6.8l-6.8 6.8m.3-4.2h6.8m-3.9-2.9v6.8m-2.9-6.8l6.8 6.8m0-6.8l-6.8 6.8m.2-4.2h6.8m-3.9-2.9v6.8m-2.9-6.8l6.8 6.8m0-6.8l-6.8 6.8m.3-4.2h6.8m-3.9-2.9v6.8m-2.9-6.8l6.8 6.8m0-6.8l-6.8 6.8m.3-4.3h6.8m-3.9-2.9v6.8m-2.9-6.8l6.8 6.8m0-6.8l-6.8 6.8m.3-4.2h6.8m-3.9-2.9v6.8m-2.9-6.8l6.8 6.8m0-6.8l-6.8 6.8m.2-4.2h6.8m-3.9-2.9v6.8m-2.9-6.8l6.8 6.8m0-6.8l-6.8 6.8m.3-4.2h6.8m-3.9-2.9v6.8m-2.9-6.8l6.8 6.8m0-6.8l-6.8 6.8m.3-4.2h6.8m-3.9-2.9v6.8m-2.9-6.8l6.8 6.8m0-6.8l-6.8 6.8m.3-4.2h6.8m-3.9-2.9v6.8m-2.9-6.8l6.8 6.8m0-6.8l-6.8 6.8m.2-4.2h6.8m-3.9-2.9v6.8m-2.9-6.8l6.8 6.8m0-6.8l-6.8 6.8m.3-4.2h6.8m-3.9-2.9v6.8m-2.9-6.8l6.8 6.8m0-6.8l-6.8 6.8m.3-4.2h6.8m-3.9-2.9v6.8m-2.9-6.8l6.8 6.8m0-6.8l-6.8 6.8m.3-4.3h6.8m-3.9-2.9v6.8m-2.9-6.8l6.8 6.8m0-6.8l-6.8 6.8m.2-4.2h6.8m-3.9-2.9v6.8m-2.9-6.8l6.8 6.8m0-6.8l-6.8 6.8m.3-4.2h6.8m-3.9-2.9v6.8m-2.9-6.8l6.8 6.8m0-6.8l-6.8 6.8m.3-4.2h6.8m-3.9-2.9v6.8m-2.9-6.8l6.8 6.8m0-6.8l-6.8 6.8m.3-4.2h6.8m-3.9-2.9v6.8m-2.9-6.8l6.8 6.8m0-6.8l-6.8 6.8m.3-4.2h6.8m-3.9-2.9v6.8m-2.9-6.8l6.8 6.8m0-6.8l-6.8 6.8m.2-4.2h6.8m-3.9-2.9v6.8m-2.9-6.8l6.8 6.8m0-6.8l-6.8 6.8m.3-4.2h6.8m-3.9-2.9v6.8m-2.9-6.8l6.8 6.8m0-6.8l-6.8 6.8m.3-4.2h6.8m-3.9-2.9v6.8m-2.9-6.8l6.8 6.8m0-6.8l-6.8 6.8m.3-4.2h6.8m-3.9-2.9v6.8m-2.9-6.8l6.8 6.8m0-6.8l-6.8 6.8m.2-4.3h6.8m-3.9-2.9v6.8m-2.9-6.8l6.8 6.8m0-6.8l-6.8 6.8m.3-4.2h6.8m-3.9-2.9v6.8m-2.9-6.8l6.8 6.8m0-6.8l-6.8 6.8m.3-4.2h6.8m-3.9-2.9v6.8m-2.9-6.8l6.8 6.8m0-6.8l-6.8 6.8m.3-4.2h6.8m-3.9-2.9v6.8m-2.9-6.8l6.8 6.8m0-6.8l-6.8 6.8m.2-4.2h6.8m-3.9-2.9v6.8m-2.9-6.8l6.8 6.8m0-6.8l-6.8 6.8m.3-4.2h6.8m-3.9-2.9v6.8m-2.9-6.8l6.8 6.8m0-6.8l-6.8 6.8m.3-4.2h6.8m-3.9-2.9v6.8m-2.9-6.8l6.8 6.8m0-6.8l-6.8 6.8m.3-4.2h6.8m-3.9-2.9v6.8m-2.9-6.8l6.8 6.8m0-6.8l-6.8 6.8m.2-4.2h6.8m-3.9-2.9v6.8m-2.9-6.8l6.8 6.8m0-6.8l-6.8 6.8m.3-4.2h6.8m-3.9-2.9v6.8m-2.9-6.8l6.8 6.8m0-6.8l-6.8 6.8m.3-4.2h6.8m-3.9-2.9v6.8m-2.9-6.8l6.8 6.8m0-6.8l-6.8 6.8m.3-4.3h6.8m-3.9-2.9v6.8m-2.9-6.8l6.8 6.8m0-6.8l-6.8 6.8m.2-4.2h6.8m-3.9-2.9v6.8m-2.9-6.8l6.8 6.8m0-6.8l-6.8 6.8m.3-4.2h6.8m-3.9-2.9v6.8m-2.9-6.8l6.8 6.8m0-6.8l-6.8 6.8m.3-4.2h6.8m-3.9-2.9v6.8m-2.9-6.8l6.8 6.8m0-6.8l-6.8 6.8m.3-4.2h6.8m-3.9-2.9v6.8m-2.9-6.8l6.8 6.8m0-6.8l-6.8 6.8m.2-4.2h6.8m-3.9-2.9v6.8m-2.9-6.8l6.8 6.8m0-6.8l-6.8 6.8m.3-4.2h6.8m-3.9-2.9v6.8m-2.9-6.8l6.8 6.8m0-6.8l-6.8 6.8m.3-4.2h6.8m-3.9-2.9v6.8m-2.9-6.8l6.8 6.8m0-6.8l-6.8 6.8m.3-4.2h6.8m-3.9-2.9v6.8m-2.9-6.8l6.8 6.8m0-6.8l-6.8 6.8m.3-4.2h6.8m-3.9-2.9v6.8m-2.9-6.8l6.8 6.8m0-6.8l-6.8 6.8m.2-4.2h6.8m-3.9-2.9v6.8m-2.9-6.8l6.8 6.8m0-6.8l-6.8 6.8m.3-4.3h6.8m-3.9-2.9v6.8m-2.9-6.8l6.8 6.8m0-6.8l-6.8 6.8m.3-4.2h6.8m-3.9-2.9v6.8m-2.9-6.8l6.8 6.8m0-6.8l-6.8 6.8m.3-4.2h6.8m-3.9-2.9v6.8m-2.9-6.8l6.8 6.8m0-6.8l-6.8 6.8m.2-4.2h6.8m-3.9-2.9v6.8m-2.9-6.8l6.8 6.8m0-6.8l-6.8 6.8m.3-4.2h6.8m-3.9-2.9v6.8m-2.9-6.8l6.8 6.8m0-6.8l-6.8 6.8m.3-4.2h6.8m-3.9-2.9v6.8m-2.9-6.8l6.8 6.8m0-6.8l-6.8 6.8m.3-4.2h6.8m-3.9-2.9v6.8m-2.9-6.8l6.8 6.8m0-6.8l-6.8 6.8m.2-4.2h6.8m-3.9-2.9v6.8m-2.9-6.8l6.8 6.8m0-6.8l-6.8 6.8m.3-4.2h6.8m-3.9-2.9v6.8m-2.9-6.8l6.8 6.8m0-6.8l-6.8 6.8m.3-4.2h6.8m-3.9-2.9v6.8m-2.9-6.8l6.8 6.8m0-6.8l-6.8 6.8m.3-4.2h6.8m-3.9-2.9v6.8m-2.9-6.8l6.8 6.8m0-6.8l-6.8 6.8m.2-4.2h6.8m-3.9-2.9v6.8m-2.9-6.8l6.8 6.8m0-6.8l-6.8 6.8m.3-4.3h6.8m-3.9-2.9v6.8m-2.9-6.8l6.8 6.8m0-6.8l-6.8 6.8m.3-4.2h6.8m-3.9-2.9v6.8m-2.9-6.8l6.8 6.8m0-6.8l-6.8 6.8m.3-4.2h6.8m-3.9-2.9v6.8m-2.9-6.8l6.8 6.8m0-6.8l-6.8 6.8m.2-4.2h6.8m-3.9-2.9v6.8m-2.9-6.8l6.8 6.8m0-6.8l-6.8 6.8m.3-4.2h6.8m-3.9-2.9v6.8m-2.9-6.8l6.8 6.8m0-6.8l-6.8 6.8m.3-4.2h6.8m-3.9-2.9v6.8m-2.9-6.8l6.8 6.8m0-6.8l-6.8 6.8m.3-4.2h6.8m-3.9-2.9v6.8m-2.9-6.8l6.8 6.8m0-6.8l-6.8 6.8m.2-4.2h6.8m-3.9-2.9v6.8m-2.9-6.8l6.8 6.8m0-6.8l-6.8 6.8m.3-4.2h6.8m-3.9-2.9v6.8m-2.9-6.8l6.8 6.8m0-6.8l-6.8 6.8m.3-4.2h6.8m-3.9-2.9v6.8m-2.9-6.8l6.8 6.8m0-6.8l-6.8 6.8m.3-4.2h6.8m-3.9-2.9v6.8m-2.9-6.8l6.8 6.8m0-6.8l-6.8 6.8m.3-4.2h6.8m-3.9-2.9v6.8m-2.9-6.8l6.8 6.8m0-6.8l-6.8 6.8m.2-4.2h6.8m-3.9-2.9v6.8m-2.9-6.8l6.8 6.8m0-6.8l-6.8 6.8m.3-4.2h6.8m-3.9-2.9v6.8m-2.9-6.8l6.8 6.8m0-6.8l-6.8 6.8m.3-4.3h6.8m-3.9-2.9v6.8m-2.9-6.8l6.8 6.8m0-6.8l-6.8 6.8m.3-4.2h6.8m-3.9-2.9v6.8m-2.9-6.8l6.8 6.8m0-6.8l-6.8 6.8m.2-4.2h6.8m-3.9-2.9v6.8m-2.9-6.8l6.8 6.8m0-6.8l-6.8 6.8m.3-4.2h6.8m-3.9-2.9v6.8m-2.9-6.8l6.8 6.8m0-6.8l-6.8 6.8m.3-4.2h6.8m-3.9-2.9v6.8m-2.9-6.8l6.8 6.8m0-6.8l-6.8 6.8m.3-4.2h6.8m-3.9-2.9v6.8m-2.9-6.8l6.8 6.8m0-6.8l-6.8 6.8m.2-4.2h6.8m-3.9-2.9v6.8m-2.9-6.8l6.8 6.8m0-6.8l-6.8 6.8m.3-4.2h6.8m-3.9-2.9v6.8m-2.9-6.8l6.8 6.8m0-6.8l-6.8 6.8m.3-4.2h6.8m-3.9-2.9v6.8m-2.9-6.8l6.8 6.8m0-6.8l-6.8 6.8m.3-4.2h6.8m-3.9-2.9v6.8m-2.9-6.8l6.8 6.8m0-6.8l-6.8 6.8m.2-4.2h6.8m-3.9-2.9v6.8m-2.9-6.8l6.8 6.8m0-6.8l-6.8 6.8m.3-4.2h6.8m-3.9-2.9v6.8m-2.9-6.8l6.8 6.8m0-6.8l-6.8 6.8m.3-4.2h6.8m-3.9-2.9v6.8m-2.9-6.8l6.8 6.8m0-6.8l-6.8 6.8m.3-4.2h6.8m-3.9-2.9v6.8m-2.9-6.8l6.8 6.8m0-6.8l-6.8 6.8m.2-4.3h6.8m-3.9-2.9v6.8m-2.9-6.8l6.8 6.8m0-6.8l-6.8 6.8m.3-4.2h6.8m-3.9-2.9v6.8m-2.9-6.8l6.8 6.8m0-6.8l-6.8 6.8m.3-4.2h6.8m-3.9-2.9v6.8m-2.9-6.8l6.8 6.8m0-6.8l-6.8 6.8m.3-4.2h6.8m-3.9-2.9v6.8m-2.9-6.8l6.8 6.8m0-6.8l-6.8 6.8m.2-4.2h6.8m-3.9-2.9v6.8m-2.9-6.8l6.8 6.8m0-6.8l-6.8 6.8m.3-4.2h6.8m-3.9-2.9v6.8m-2.9-6.8l6.8 6.8m0-6.8l-6.8 6.8m.3-4.2h6.8m-3.9-2.9v6.8m-2.9-6.8l6.8 6.8m0-6.8l-6.8 6.8m.3-4.2h6.8m-3.9-2.9v6.8m-2.9-6.8l6.8 6.8m0-6.8l-6.8 6.8m.3-4.2h6.8m-3.9-2.9v6.8m-2.9-6.8l6.8 6.8m0-6.8l-6.8 6.8m.2-4.2h6.8m-3.9-2.9v6.8m-2.9-6.8l6.8 6.8m0-6.8l-6.8 6.8m.3-4.2h6.8m-3.9-2.9v6.8m-2.9-6.8l6.8 6.8m0-6.8l-6.8 6.8m.3-4.2h6.8m-3.9-2.9v6.8m-2.9-6.8l6.8 6.8m0-6.8l-6.8 6.8m.3-4.2h6.8m-3.9-2.9v6.8m-2.9-6.8l6.8 6.8m0-6.8l-6.8 6.8m.2-4.2h6.8m-3.9-2.9v6.8m-2.9-6.8l6.8 6.8m0-6.8l-6.8 6.8m.3-4.2h6.8m-3.9-2.9v6.8m-2.9-6.8l6.8 6.8m0-6.8l-6.8 6.8m.3-4.2h6.8m-3.9-2.9v6.8m-2.9-6.8l6.8 6.8m0-6.8l-6.8 6.8m.3-4.2h6.8m-3.9-2.9v6.8m-2.9-6.8l6.8 6.8m0-6.8l-6.8 6.8m.2-4.2h6.8m-3.9-2.9v6.8m-2.9-6.8l6.8 6.8m0-6.8l-6.8 6.8m.3-4.3h6.8m-3.9-2.9v6.8m-2.9-6.8l6.8 6.8m0-6.8l-6.8 6.8m.3-4.2h6.8m-3.9-2.9v6.8m-2.9-6.8l6.8 6.8m0-6.8l-6.8 6.8m.3-4.2h6.8m-3.9-2.9v6.8m-2.9-6.8l6.8 6.8m0-6.8l-6.8 6.8m.2-4.2h6.8m-3.9-2.9v6.8m-2.9-6.8l6.8 6.8m0-6.8l-6.8 6.8m.3-4.2h6.8m-3.9-2.9v6.8m-2.9-6.8l6.8 6.8m0-6.8l-6.8 6.8m.3-4.2h6.8m-3.9-2.9v6.8m-2.9-6.8l6.8 6.8m0-6.8l-6.8 6.8m.3-4.2h6.8m-3.9-2.9v6.8m-2.9-6.8l6.8 6.8m0-6.8l-6.8 6.8m.2-4.2h6.8m-3.9-2.9v6.8m-2.9-6.8l6.8 6.8m0-6.8l-6.8 6.8m.3-4.2h6.8m-3.9-2.9v6.8m-2.9-6.8l6.8 6.8m0-6.8l-6.8 6.8m.3-4.2h6.8m-3.9-2.9v6.8m-2.9-6.8l6.8 6.8m0-6.8l-6.8 6.8m.3-4.2h6.8m-3.9-2.9v6.8m-2.9-6.8l6.8 6.8m0-6.8l-6.8 6.8m.2-4.2h6.8m-3.9-2.9v6.8m-2.9-6.8l6.8 6.8m0-6.8l-6.8 6.8m.3-4.2h6.8m-3.9-2.9v6.8m-2.9-6.8l6.8 6.8m0-6.8l-6.8 6.8m.3-4.2h6.8m-3.9-2.9v6.8m-2.9-6.8l6.8 6.8m0-6.8l-6.8 6.8m.3-4.2h6.8m-3.9-2.9v6.8m-2.9-6.8l6.8 6.8m0-6.8l-6.8 6.8m.2-4.2h6.8m-3.9-2.9v6.8m-2.9-6.8l6.8 6.8m0-6.8l-6.8 6.8m.3-4.2h6.8m-3.9-2.9v6.8m-2.9-6.8l6.8 6.8m0-6.8l-6.8 6.8m.3-4.2h6.8m-3.9-2.9v6.8m-2.9-6.8l6.8 6.8m0-6.8l-6.8 6.8m.3-4.2h6.8m-3.9-2.9v6.8m-2.9-6.8l6.8 6.8m0-6.8l-6.8 6.8m.3-4.2h6.8m-3.9-2.9v6.8m-2.9-6.8l6.8 6.8m0-6.8l-6.8 6.8m.2-4.3h6.8m-3.9-2.9v6.8m-2.9-6.8l6.8 6.8m0-6.8l-6.8 6.8m.3-4.2h6.8m-3.9-2.9v6.8m-2.9-6.8l6.8 6.8m0-6.8l-6.8 6.8m.3-4.2h6.8m-3.9-2.9v6.8m-2.9-6.8l6.8 6.8m0-6.8l-6.8 6.8m.3-4.2h6.8m-3.9-2.9v6.8m-2.9-6.8l6.8 6.8m0-6.8l-6.8 6.8m.2-4.2h6.8m-3.9-2.9v6.8m-2.9-6.8l6.8 6.8m0-6.8l-6.8 6.8m.3-4.2h6.8m-3.9-2.9v6.8m-2.9-6.8l6.8 6.8m0-6.8l-6.8 6.8m.3-4.2h6.8m-3.9-2.9v6.8m-2.9-6.8l6.8 6.8m0-6.8l-6.8 6.8m.3-4.2h6.8m-3.9-2.9v6.8m-2.9-6.8l6.8 6.8m0-6.8l-6.8 6.8m.2-4.2h6.8m-3.9-2.9v6.8m-2.9-6.8l6.8 6.8m0-6.8l-6.8 6.8m.3-4.2h6.8m-3.9-2.9v6.8m-2.9-6.8l6.8 6.8m0-6.8l-6.8 6.8m.3-4.2h6.8m-3.9-2.9v6.8m-2.9-6.8l6.8 6.8m0-6.8l-6.8 6.8m.3-4.2h6.8m-3.9-2.9v6.8m-2.9-6.8l6.8 6.8m0-6.8l-6.8 6.8m.2-4.2h6.8m-3.9-2.9v6.8m-2.9-6.8l6.8 6.8m0-6.8l-6.8 6.8m.3-4.2h6.8m-3.9-2.9v6.8m-2.9-6.8l6.8 6.8m0-6.8l-6.8 6.8m.3-4.2h6.8m-3.9-2.9v6.8m-2.9-6.8l6.8 6.8m0-6.8l-6.8 6.8m.3-4.2h6.8m-3.9-2.9v6.8m-2.9-6.8l6.8 6.8m0-6.8l-6.8 6.8m.2-4.2h6.8m-3.9-2.9v6.8m-2.9-6.8l6.8 6.8m0-6.8l-6.8 6.8m.3-4.2h6.8m-3.9-2.9v6.8m-2.9-6.8l6.8 6.8m0-6.8l-6.8 6.8m.3-4.2h6.8m-3.9-2.9v6.8m-2.9-6.8l6.8 6.8m0-6.8l-6.8 6.8m.3-4.2h6.8m-3.9-2.9v6.8m-2.9-6.8l6.8 6.8m0-6.8l-6.8 6.8m.2-4.2h6.8m-3.9-2.9v6.8m-2.9-6.8l6.8 6.8m0-6.8l-6.8 6.8m.3-4.2h6.8m-3.9-2.9v6.8m-2.9-6.8l6.8 6.8m0-6.8l-6.8 6.8m.3-4.2h6.8m-3.9-2.9v6.8m-2.9-6.8l6.8 6.8m0-6.8l-6.8 6.8m.3-4.2h6.8m-3.9-2.9v6.8m-2.9-6.8l6.8 6.8m0-6.8l-6.8 6.8m.3-4.2h6.8m-3.9-2.9v6.8m-2.9-6.8l6.8 6.8m0-6.8l-6.8 6.8m.2-4.2h6.8m-3.9-2.9v6.8m-2.9-6.8l6.8 6.8m0-6.8l-6.8 6.8m.3-4.2h6.8m-3.9-2.9v6.8m-2.9-6.8l6.8 6.8m0-6.8l-6.8 6.8m.3-4.2h6.8m-3.9-2.9v6.8m-2.9-6.8l6.8 6.8m0-6.8l-6.8 6.8m.3-4.2h6.8m-3.9-2.9v6.8m-2.9-6.8l6.8 6.8m0-6.8l-6.8 6.8m.2-4.3h6.8m-3.9-2.9v6.8m-2.9-6.8l6.8 6.8m0-6.8l-6.8 6.8m.3-4.2h6.8m-3.9-2.9v6.8m-2.9-6.8l6.8 6.8m0-6.8l-6.8 6.8m.3-4.2h6.8m-3.9-2.9v6.8m-2.9-6.8l6.8 6.8m0-6.8l-6.8 6.8m.3-4.2h6.8m-3.9-2.9v6.8m-2.9-6.8l6.8 6.8m0-6.8l-6.8 6.8m.2-4.2h6.8m-3.9-2.9v6.8m-2.9-6.8l6.8 6.8m0-6.8l-6.8 6.8m.3-4.2h6.8m-3.9-2.9v6.8m-2.9-6.8l6.8 6.8m0-6.8l-6.8 6.8m.3-4.2h6.8m-3.9-2.9v6.8m-2.9-6.8l6.8 6.8m0-6.8l-6.8 6.8m.3-4.2h6.8m-3.9-2.9v6.8m-2.9-6.8l6.8 6.8m0-6.8l-6.8 6.8m.2-4.2h6.8m-3.9-2.9v6.8m-2.9-6.8l6.8 6.8m0-6.8l-6.8 6.8m.3-4.2h6.8m-3.9-2.9v6.8m-2.9-6.8l6.8 6.8m0-6.8l-6.8 6.8m.3-4.2h6.8m-3.9-2.9v6.8m-2.9-6.8l6.8 6.8m0-6.8l-6.8 6.8m.3-4.2h6.8m-3.9-2.9v6.8m-2.9-6.8l6.8 6.8m0-6.8l-6.8 6.8m.2-4.2h6.8m-3.9-2.9v6.8m-2.9-6.8l6.8 6.8m0-6.8l-6.8 6.8m.3-4.2h6.8m-3.9-2.9v6.8m-2.9-6.8l6.8 6.8m0-6.8l-6.8 6.8m.3-4.2h6.8m-3.9-2.9v6.8m-2.9-6.8l6.8 6.8m0-6.8l-6.8 6.8m.3-4.2h6.8m-3.9-2.9v6.8m-2.9-6.8l6.8 6.8m0-6.8l-6.8 6.8m.2-4.2h6.8m-3.9-2.9v6.8m-2.9-6.8l6.8 6.8m0-6.8l-6.8 6.8m.3-4.2h6.8m-3.9-2.9v6.8m-2.9-6.8l6.8 6.8m0-6.8l-6.8 6.8m.3-4.2h6.8m-3.9-2.9v6.8m-2.9-6.8l6.8 6.8m0-6.8l-6.8 6.8m.3-4.2h6.8m-3.9-2.9v6.8m-2.9-6.8l6.8 6.8m0-6.8l-6.8 6.8m.3-4.2h6.8m-3.9-2.9v6.8m-2.9-6.8l6.8 6.8m0-6.8l-6.8 6.8m.2-4.2h6.8m-3.9-2.9v6.8m-2.9-6.8l6.8 6.8m0-6.8l-6.8 6.8m.3-4.2h6.8m-3.9-2.9v6.8m-2.9-6.8l6.8 6.8m0-6.8l-6.8 6.8m.3-4.2h6.8m-3.9-2.9v6.8m-2.9-6.8l6.8 6.8m0-6.8l-6.8 6.8m.3-4.2h6.8m-3.9-2.9v6.8m-2.9-6.8l6.8 6.8m0-6.8l-6.8 6.8m.2-4.2h6.8m-3.9-2.9v6.8m-2.9-6.8l6.8 6.8m0-6.8l-6.8 6.8m.3-4.2h6.8m-3.9-2.9v6.8m-2.9-6.8l6.8 6.8m0-6.8l-6.8 6.8m.3-4.2h6.8m-3.9-2.9v6.8m-2.9-6.8l6.8 6.8m0-6.8l-6.8 6.8m.3-4.2h6.8m-3.9-2.9v6.8m-2.9-6.8l6.8 6.8m0-6.8l-6.8 6.8m.2-4.2h6.8m-3.9-2.9v6.8m-2.9-6.8l6.8 6.8m0-6.8l-6.8 6.8m.3-4.2h6.8m-3.9-2.9v6.8m-2.9-6.8l6.8 6.8m0-6.8l-6.8 6.8m.3-4.2h6.8m-3.9-2.9v6.8m-2.9-6.8l6.8 6.8m0-6.8l-6.8 6.8m.3-4.2h6.8m-3.9-2.9v6.8m-2.9-6.8l6.8 6.8m0-6.8l-6.8 6.8m.2-4.2h6.8m-3.9-2.9v6.8m-2.9-6.8l6.8 6.8m0-6.8l-6.8 6.8m.3-4.2h6.8m-3.9-2.9v6.8m-2.9-6.8l6.8 6.8m0-6.8l-6.8 6.8m.3-4.2h6.8m-3.9-2.9v6.8m-2.9-6.8l6.8 6.8m0-6.8l-6.8 6.8m.3-4.2h6.8m-3.9-2.9v6.8m-2.9-6.8l6.8 6.8m0-6.8l-6.8 6.8m.2-4.2h6.8m-3.9-2.9v6.8m-2.9-6.8l6.8 6.8m0-6.8l-6.8 6.8m.3-4.2h6.8m-3.9-2.9v6.8m-2.9-6.8l6.8 6.8m0-6.8l-6.8 6.8m.3-4.2h6.8m-3.9-2.9v6.8m-2.9-6.8l6.8 6.8m0-6.8l-6.8 6.8m.3-4.2h6.8m-3.9-2.9v6.8m-2.9-6.8l6.8 6.8m0-6.8l-6.8 6.8m.2-4.2h6.8m-3.9-2.9v6.8m-2.9-6.8l6.8 6.8m0-6.8l-6.8 6.8m.3-4.2h6.8m-3.9-2.9v6.8m-2.9-6.8l6.8 6.8m0-6.8l-6.8 6.8m.3-4.2h6.8m-3.9-2.9v6.8m-2.9-6.8l6.8 6.8m0-6.8l-6.8 6.8m.3-4.2h6.8m-3.9-2.9v6.8m-2.9-6.8l6.8 6.8m0-6.8l-6.8 6.8m.3-4.2h6.8m-3.9-2.9v6.8m-2.9-6.8l6.8 6.8m0-6.8l-6.8 6.8m.2-4.2h6.8m-3.9-2.9v6.8m-2.9-6.8l6.8 6.8m0-6.8l-6.8 6.8m.3-4.2h6.8m-3.9-2.9v6.8m-2.9-6.8l6.8 6.8m0-6.8l-6.8 6.8m.3-4.2h6.8m-3.9-2.9v6.8m-2.9-6.8l6.8 6.8m0-6.8l-6.8 6.8m.3-4.2h6.8m-3.9-2.9v6.8m-2.9-6.8l6.8 6.8m0-6.8l-6.8 6.8m.2-4.2h6.8m-3.9-2.9v6.8m-2.9-6.8l6.8 6.8m0-6.8l-6.8 6.8m.3-4.2h6.8m-3.9-2.9v6.8m-2.9-6.8l6.8 6.8m0-6.8l-6.8 6.8m.3-4.2h6.8m-3.9-2.9v6.8m-2.9-6.8l6.8 6.8m0-6.8l-6.8 6.8m.3-4.2h6.8m-3.9-2.9v6.8m-2.9-6.8l6.8 6.8m0-6.8l-6.8 6.8m.2-4.2h6.8m-3.9-2.9v6.8m-2.9-6.8l6.8 6.8m0-6.8l-6.8 6.8m.3-4.2h6.8m-3.9-2.9v6.8m-2.9-6.8l6.8 6.8m0-6.8l-6.8 6.8m.3-4.2h6.8m-3.9-2.9v6.8m-2.9-6.8l6.8 6.8m0-6.8l-6.8 6.8m.3-4.2h6.8m-3.9-2.9v6.8m-2.9-6.8l6.8 6.8m0-6.8l-6.8 6.8m.2-4.2h6.8m-3.9-2.9v6.8m-2.9-6.8l6.8 6.8m0-6.8l-6.8 6.8m.3-4.2h6.8m-3.9-2.9v6.8m-2.9-6.8l6.8 6.8m0-6.8l-6.8 6.8m.3-4.2h6.8m-3.9-2.9v6.8m-2.9-6.8l6.8 6.8m0-6.8l-6.8 6.8m.3-4.2h6.8m-3.9-2.9v6.8m-2.9-6.8l6.8 6.8m0-6.8l-6.8 6.8m.2-4.2h6.8m-3.9-2.9v6.8m-2.9-6.8l6.8 6.8m0-6.8l-6.8 6.8m.3-4.2h6.8m-3.9-2.9v6.8m-2.9-6.8l6.8 6.8m0-6.8l-6.8 6.8m.3-4.2h6.8m-3.9-2.9v6.8m-2.9-6.8l6.8 6.8m0-6.8l-6.8 6.8m.3-4.2h6.8m-3.9-2.9v6.8m-2.9-6.8l6.8 6.8m0-6.8l-6.8 6.8m.2-4.2h6.8m-3.9-2.9v6.8m-2.9-6.8l6.8 6.8m0-6.8l-6.8 6.8m.3-4.2h6.8m-3.9-2.9v6.8m-2.9-6.8l6.8 6.8m0-6.8l-6.8 6.8m.3-4.2h6.8m-3.9-2.9v6.8m-2.9-6.8l6.8 6.8m0-6.8l-6.8 6.8m.3-4.2h6.8m-3.9-2.9v6.8m-2.9-6.8l6.8 6.8m0-6.8l-6.8 6.8m.3-4.2h6.8m-3.9-2.9v6.8m-2.9-6.8l6.8 6.8m0-6.8l-6.8 6.8m.2-4.2h6.8m-3.9-2.9v6.8m-2.9-6.8l6.8 6.8m0-6.8l-6.8 6.8m.3-4.2h6.8m-3.9-2.9v6.8m-2.9-6.8l6.8 6.8m0-6.8l-6.8 6.8m.3-4.2h6.8m-3.9-2.9v6.8m-2.9-6.8l6.8 6.8m0-6.8l-6.8 6.8m.3-4.2h6.8m-3.9-2.9v6.8m-2.9-6.8l6.8 6.8m0-6.8l-6.8 6.8m.2-4.2h6.8m-3.9-2.9v6.8m-2.9-6.8l6.8 6.8m0-6.8l-6.8 6.8m.3-4.2h6.8m-3.9-2.9v6.8m-2.9-6.8l6.8 6.8m0-6.8l-6.8 6.8m.3-4.2h6.8m-3.9-2.9v6.8m-2.9-6.8l6.8 6.8m0-6.8l-6.8 6.8m.3-4.2h6.8m-3.9-2.9v6.8m-2.9-6.8l6.8 6.8m0-6.8l-6.8 6.8m.2-4.2h6.8m-3.9-2.9v6.8m-2.9-6.8l6.8 6.8m0-6.8l-6.8 6.8m.3-4.2h6.8m-3.9-2.9v6.8m-2.9-6.8l6.8 6.8m0-6.8l-6.8 6.8m.3-4.2h6.8m-3.9-2.9v6.8m-2.9-6.8l6.8 6.8m0-6.8l-6.8 6.8m.3-4.2h6.8m-3.9-2.9v6.8m-2.9-6.8l6.8 6.8m0-6.8l-6.8 6.8m.2-4.2h6.8m-3.9-2.9v6.8m-2.9-6.8l6.8 6.8m0-6.8l-6.8 6.8m.3-4.2h6.8m-3.9-2.9v6.8m-2.9-6.8l6.8 6.8m0-6.8l-6.8 6.8m.3-4.2h6.8m-3.9-2.9v6.8m-2.9-6.8l6.8 6.8m0-6.8l-6.8 6.8m.3-4.2h6.8m-3.9-2.9v6.8m-2.9-6.8l6.8 6.8m0-6.8l-6.8 6.8m.2-4.2h6.8m-3.9-2.9v6.8m-2.9-6.8l6.8 6.8m0-6.8l-6.8 6.8m.3-4.2h6.8m-3.9-2.9v6.8m-2.9-6.8l6.8 6.8m0-6.8l-6.8 6.8m.3-4.2h6.8m-3.9-2.9v6.8m-2.9-6.8l6.8 6.8m0-6.8l-6.8 6.8m.3-4.2h6.8m-3.9-2.9v6.8m-2.9-6.8l6.8 6.8m0-6.8l-6.8 6.8m.2-4.2h6.8m-3.9-2.9v6.8m-2.9-6.8l6.8 6.8m0-6.8l-6.8 6.8m.3-4.2h6.8m-3.9-2.9v6.8m-2.9-6.8l6.8 6.8m0-6.8l-6.8 6.8m.3-4.2h6.8m-3.9-2.9v6.8m-2.9-6.8l6.8 6.8m0-6.8l-6.8 6.8m.3-4.2h6.8m-3.9-2.9v6.8m-2.9-6.8l6.8 6.8m0-6.8l-6.8 6.8m.3-4.2h6.8m-3.9-2.9v6.8m-2.9-6.8l6.8 6.8m0-6.8l-6.8 6.8m.2-4.2h6.8m-3.9-2.9v6.8m-2.9-6.8l6.8 6.8m0-6.8l-6.8 6.8m.3-4.2h6.8m-3.9-2.9v6.8m-2.9-6.8l6.8 6.8m0-6.8l-6.8 6.8m.3-4.2h6.8m-3.9-2.9v6.8m-2.9-6.8l6.8 6.8m0-6.8l-6.8 6.8m.3-4.1h6.8m-3.9-2.9v6.8m-2.9-6.8l6.8 6.8m0-6.8l-6.8 6.8m.2-4.2h6.8m-3.9-2.9v6.8m-2.9-6.8l6.8 6.8m0-6.8l-6.8 6.8m.3-4.2h6.8m-3.9-2.9v6.8m-2.9-6.8l6.8 6.8m0-6.8l-6.8 6.8m.3-4.2h6.8m-3.9-2.9v6.8m-2.9-6.8l6.8 6.8m0-6.8l-6.8 6.8m.3-4.2h6.8m-3.9-2.9v6.8m-2.9-6.8l6.8 6.8m0-6.8l-6.8 6.8m.2-4.2h6.8m-3.9-2.9v6.8m-2.9-6.8l6.8 6.8m0-6.8l-6.8 6.8m.3-4.2h6.8m-3.9-2.9v6.8m-2.9-6.8l6.8 6.8m0-6.8l-6.8 6.8m.3-4.2h6.8m-3.9-2.9v6.8m-2.9-6.8l6.8 6.8m0-6.8l-6.8 6.8m.3-4.2h6.8m-3.9-2.9v6.8m-2.9-6.8l6.8 6.8m0-6.8l-6.8 6.8m.2-4.2h6.8m-3.9-2.9v6.8m-2.9-6.8l6.8 6.8m0-6.8l-6.8 6.8m.3-4.2h6.8m-3.9-2.9v6.8m-2.9-6.8l6.8 6.8m0-6.8l-6.8 6.8m.3-4.2h6.8m-3.9-2.9v6.8m-2.9-6.8l6.8 6.8m0-6.8l-6.8 6.8m.3-4.2h6.8m-3.9-2.9v6.8m-2.9-6.8l6.8 6.8m0-6.8l-6.8 6.8m.2-4.2h6.8m-3.9-2.9v6.8m-2.9-6.8l6.8 6.8m0-6.8l-6.8 6.8m.3-4.2h6.8m-3.9-2.9v6.8m-2.9-6.8l6.8 6.8m0-6.8l-6.8 6.8m.3-4.1h6.8m-3.9-2.9v6.8m-2.9-6.8l6.8 6.8m0-6.8l-6.8 6.8m.3-4h6.8m-3.9-2.9v6.8m-2.9-6.8l6.8 6.8m0-6.8l-6.8 6.8m.2-3.9h6.8m-3.9-2.9v6.8m-2.9-6.8l6.8 6.8m0-6.8l-6.8 6.8m.3-4h6.8m-3.9-2.9v6.8m-2.9-6.8l6.8 6.8m0-6.8l-6.8 6.8m.3-3.9h6.8m-3.9-2.9v6.8m-2.9-6.8l6.8 6.8m0-6.8l-6.8 6.8m.3-4h6.8m-3.9-2.9v6.8m-2.9-6.8l6.8 6.8m0-6.8l-6.8 6.8m.3-3.9h6.8m-3.9-2.9v6.8m-2.9-6.8l6.8 6.8m0-6.8l-6.8 6.8m.2-4h6.8m-3.9-2.9v6.8m-2.9-6.8l6.8 6.8m0-6.8l-6.8 6.8m.3-3.9h6.8m-3.9-2.9v6.8m-2.9-6.8l6.8 6.8m0-6.8l-6.8 6.8m.3-4h6.8m-3.9-2.9v6.8m-2.9-6.8l6.8 6.8m0-6.8l-6.8 6.8m.3-3.9h6.8m-3.9-2.9v6.8m-2.9-6.8l6.8 6.8m0-6.8l-6.8 6.8m.2-4h6.8m-3.9-2.9v6.8m-2.9-6.8l6.8 6.8m0-6.8l-6.8 6.8m.3-3.9h6.8m-3.9-2.9v6.8m-2.9-6.8l6.8 6.8m0-6.8l-6.8 6.8m.3-4h6.8m-3.9-2.9v6.8m-2.9-6.8l6.8 6.8m0-6.8l-6.8 6.8m.3-3.9h6.8m-3.9-2.9v6.8m-2.9-6.8l6.8 6.8m0-6.8l-6.8 6.8m.2-4h6.8m-3.9-2.9v6.8m-2.9-6.8l6.8 6.8m0-6.8l-6.8 6.8m.3-3.9h6.8m-3.9-2.9v6.8m-2.9-6.8l6.8 6.8m0-6.8l-6.8 6.8m.3-4h6.8m-3.9-2.9v6.8m-2.9-6.8l6.8 6.8m0-6.8l-6.8 6.8m.3-3.9h6.8m-3.9-2.9v6.8m-2.9-6.8l6.8 6.8m0-6.8l-6.8 6.8m.2-4h6.8m-3.9-2.9v6.8m-2.9-6.8l6.8 6.8m0-6.8l-6.8 6.8m.3-3.9h6.8m-3.9-2.9v6.8m-2.9-6.8l6.8 6.8m0-6.8l-6.8 6.8m.3-4h6.8m-3.9-2.9v6.8m-2.9-6.8l6.8 6.8m0-6.8l-6.8 6.8m.3-3.9h6.8m-3.9-2.9v6.8m-2.9-6.8l6.8 6.8m0-6.8l-6.8 6.8m.2-4h6.8m-3.9-2.9v6.8m-2.9-6.8l6.8 6.8m0-6.8l-6.8 6.8m.3-3.9h6.8m-3.9-2.9v6.8m-2.9-6.8l6.8 6.8m0-6.8l-6.8 6.8m.3-4h6.8m-3.9-2.9v6.8m-2.9-6.8l6.8 6.8m0-6.8l-6.8 6.8m.3-3.9h6.8m-3.9-2.9v6.8m-2.9-6.8l6.8 6.8m0-6.8l-6.8 6.8m.2-4h6.8m-3.9-2.9v6.8m-2.9-6.8l6.8 6.8m0-6.8l-6.8 6.8m.3-3.9h6.8m-3.9-2.9v6.8m-2.9-6.8l6.8 6.8m0-6.8l-6.8 6.8m.3-4h6.8m-3.9-2.9v6.8m-2.9-6.8l6.8 6.8m0-6.8l-6.8 6.8m.3-3.9h6.8m-3.9-2.9v6.8m-2.9-6.8l6.8 6.8m0-6.8l-6.8 6.8m.2-4h6.8m-3.9-2.9v6.8m-2.9-6.8l6.8 6.8m0-6.8l-6.8 6.8m.3-3.9h6.8m-3.9-2.9v6.8m-2.9-6.8l6.8 6.8m0-6.8l-6.8 6.8m.3-4h6.8m-3.9-2.9v6.8m-2.9-6.8l6.8 6.8m0-6.8l-6.8 6.8m.3-3.9h6.8m-3.9-2.9v6.8m-2.9-6.8l6.8 6.8m0-6.8l-6.8 6.8m.3-4h6.8m-3.9-2.9v6.8m-2.9-6.8l6.8 6.8m0-6.8l-6.8 6.8m.2-3.9h6.8m-3.9-2.9v6.8m-2.9-6.8l6.8 6.8m0-6.8l-6.8 6.8m.3-4h6.8m-3.9-2.9v6.8m-2.9-6.8l6.8 6.8m0-6.8l-6.8 6.8m.3-3.9h6.8m-3.9-2.9v6.8m-2.9-6.8l6.8 6.8m0-6.8l-6.8 6.8m.3-3.9h6.8m-3.9-2.9v6.8m-2.9-6.8l6.8 6.8m0-6.8l-6.8 6.8m.2-4h6.8m-3.9-2.9v6.8m-2.9-6.8l6.8 6.8m0-6.8l-6.8 6.8m.3-3.9h6.8m-3.9-2.9v6.8m-2.9-6.8l6.8 6.8m0-6.8l-6.8 6.8m.3-4h6.8m-3.9-2.9v6.8m-2.9-6.8l6.8 6.8m0-6.8l-6.8 6.8m.3-3.9h6.8m-3.9-2.9v6.8m-2.9-6.8l6.8 6.8m0-6.8l-6.8 6.8m.2-4h6.8m-3.9-2.9v6.8m-2.9-6.8l6.8 6.8m0-6.8l-6.8 6.8m.3-3.9h6.8m-3.9-2.9v6.8m-2.9-6.8l6.8 6.8m0-6.8l-6.8 6.8m.3-4h6.8m-3.9-2.9v6.8m-2.9-6.8l6.8 6.8m0-6.8l-6.8 6.8m.3-3.9h6.8m-3.9-2.9v6.8m-2.9-6.8l6.8 6.8m0-6.8l-6.8 6.8m.2-4h6.8m-3.9-2.9v6.8m-2.9-6.8l6.8 6.8m0-6.8l-6.8 6.8m.3-3.9h6.8m-3.9-2.9v6.8m-2.9-6.8l6.8 6.8m0-6.8l-6.8 6.8m.3-4h6.8m-3.9-2.9v6.8m-2.9-6.8l6.8 6.8m0-6.8l-6.8 6.8m.3-3.9h6.8m-3.9-2.9v6.8m-2.9-6.8l6.8 6.8m0-6.8l-6.8 6.8m.2-3.9h6.8m-3.9-2.9v6.8m-2.9-6.8l6.8 6.8m0-6.8l-6.8 6.8m.3-4h6.8m-3.9-2.9v6.8m-2.9-6.8l6.8 6.8m0-6.8l-6.8 6.8m.3-3.9h6.8m-3.9-2.9v6.8m-2.9-6.8l6.8 6.8m0-6.8l-6.8 6.8m.3-4h6.8m-3.9-2.9v6.8m-2.9-6.8l6.8 6.8m0-6.8l-6.8 6.8m.2-3.9h6.8m-3.9-2.9v6.8m-2.9-6.8l6.8 6.8m0-6.8l-6.8 6.8m.3-4h6.8m-3.9-2.9v6.8m-2.9-6.8l6.8 6.8m0-6.8l-6.8 6.8m.3-3.9h6.8m-3.9-2.9v6.8m-2.9-6.8l6.8 6.8m0-6.8l-6.8 6.8m.3-3.9h6.8m-3.9-2.9v6.8m-2.9-6.8l6.8 6.8m0-6.8l-6.8 6.8m.3-4h6.8m-3.9-2.9v6.8m-2.9-6.8l6.8 6.8m0-6.8l-6.8 6.8m.2-3.9h6.8m-3.9-2.9v6.8m-2.9-6.8l6.8 6.8m0-6.8l-6.8 6.8m.3-4h6.8m-3.9-2.9v6.8m-2.9-6.8l6.8 6.8m0-6.8l-6.8 6.8m.3-3.9h6.8m-3.9-2.9v6.8m-2.9-6.8l6.8 6.8m0-6.8l-6.8 6.8m.3-4h6.8m-3.9-2.9v6.8m-2.9-6.8l6.8 6.8m0-6.8l-6.8 6.8m.2-3.9h6.8m-3.9-2.9v6.8m-2.9-6.8l6.8 6.8m0-6.8l-6.8 6.8m.3-3.9h6.8m-3.9-2.9v6.8m-2.9-6.8l6.8 6.8m0-6.8l-6.8 6.8m.3-4h6.8m-3.9-2.9v6.8m-2.9-6.8l6.8 6.8m0-6.8l-6.8 6.8m.3-3.9h6.8m-3.9-2.9v6.8m-2.9-6.8l6.8 6.8m0-6.8l-6.8 6.8m.2-4h6.8m-3.9-2.9v6.8m-2.9-6.8l6.8 6.8m0-6.8l-6.8 6.8m.3-3.9h6.8m-3.9-2.9v6.8m-2.9-6.8l6.8 6.8m0-6.8l-6.8 6.8m.3-3.9h6.8m-3.9-2.9v6.8m-2.9-6.8l6.8 6.8m0-6.8l-6.8 6.8m.3-4h6.8m-3.9-2.9v6.8m-2.9-6.8l6.8 6.8m0-6.8l-6.8 6.8m.2-3.9h6.8m-3.9-2.9v6.8m-2.9-6.8l6.8 6.8m0-6.8l-6.8 6.8m.3-4h6.8m-3.9-2.9v6.8m-2.9-6.8l6.8 6.8m0-6.8l-6.8 6.8m.3-3.9h6.8m-3.9-2.9v6.8m-2.9-6.8l6.8 6.8m0-6.8l-6.8 6.8m.3-3.9h6.8m-3.9-2.9v6.8m-2.9-6.8l6.8 6.8m0-6.8l-6.8 6.8m.2-4h6.8m-3.9-2.9v6.8m-2.9-6.8l6.8 6.8m0-6.8l-6.8 6.8m.3-3.9h6.8m-3.9-2.9v6.8m-2.9-6.8l6.8 6.8m0-6.8l-6.8 6.8m.3-4h6.8m-3.9-2.9v6.8m-2.9-6.8l6.8 6.8m0-6.8l-6.8 6.8m.3-3.9h6.8m-3.9-2.9v6.8m-2.9-6.8l6.8 6.8m0-6.8l-6.8 6.8m.2-3.9h6.8m-3.9-2.9v6.8m-2.9-6.8l6.8 6.8m0-6.8l-6.8 6.8m.3-4h6.8m-3.9-2.9v6.8m-2.9-6.8l6.8 6.8m0-6.8l-6.8 6.8m.3-3.9h6.8m-3.9-2.9v6.8m-2.9-6.8l6.8 6.8m0-6.8l-6.8 6.8m.3-4h6.8m-3.9-2.9v6.8m-2.9-6.8l6.8 6.8m0-6.8l-6.8 6.8m.3-3.9h6.8m-3.9-2.9v6.8m-2.9-6.8l6.8 6.8m0-6.8l-6.8 6.8m.2-3.9h6.8m-3.9-2.9v6.8m-2.9-6.8l6.8 6.8m0-6.8l-6.8 6.8m.3-4h6.8m-3.9-2.9v6.8m-2.9-6.8l6.8 6.8m0-6.8l-6.8 6.8m.3-3.9h6.8m-3.9-2.9v6.8m-2.9-6.8l6.8 6.8m0-6.8l-6.8 6.8m.3-4h6.8m-3.9-2.9v6.8m-2.9-6.8l6.8 6.8m0-6.8l-6.8 6.8m.2-3.9h6.8m-3.9-2.9v6.8m-2.9-6.8l6.8 6.8m0-6.8l-6.8 6.8m.3-3.9h6.8m-3.9-2.9v6.8m-2.9-6.8l6.8 6.8m0-6.8l-6.8 6.8m.3-4h6.8m-3.9-2.9v6.8m-2.9-6.8l6.8 6.8m0-6.8l-6.8 6.8m.3-3.9h6.8m-3.9-2.9v6.8m-2.9-6.8l6.8 6.8m0-6.8l-6.8 6.8m.2-3.9h6.8m-3.9-2.9v6.8m-2.9-6.8l6.8 6.8m0-6.8l-6.8 6.8m.3-4h6.8m-3.9-2.9v6.8m-2.9-6.8l6.8 6.8m0-6.8l-6.8 6.8m.3-3.9h6.8m-3.9-2.9v6.8m-2.9-6.8l6.8 6.8m0-6.8l-6.8 6.8m.3-4h6.8m-3.9-2.9v6.8m-2.9-6.8l6.8 6.8m0-6.8l-6.8 6.8m.2-3.9h6.8m-3.9-2.9v6.8m-2.9-6.8l6.8 6.8m0-6.8l-6.8 6.8m.3-3.9h6.8m-3.9-2.9v6.8m-2.9-6.8l6.8 6.8m0-6.8l-6.8 6.8m.3-4h6.8m-3.9-2.9v6.8m-2.9-6.8l6.8 6.8m0-6.8l-6.8 6.8m.3-3.9h6.8m-3.9-2.9v6.8m-2.9-6.8l6.8 6.8m0-6.8l-6.8 6.8m.2-3.9h6.8m-3.9-2.9v6.8m-2.9-6.8l6.8 6.8m0-6.8l-6.8 6.8m.3-4h6.8m-3.9-2.9v6.8m-2.9-6.8l6.8 6.8m0-6.8l-6.8 6.8m.3-3.9h6.8m-3.9-2.9v6.8m-2.9-6.8l6.8 6.8m0-6.8l-6.8 6.8m.3-3.9h6.8m-3.9-2.9v6.8m-2.9-6.8l6.8 6.8m0-6.8l-6.8 6.8m.2-4h6.8m-3.9-2.9v6.8m-2.9-6.8l6.8 6.8m0-6.8l-6.8 6.8m.3-3.9h6.8m-3.9-2.9v6.8m-2.9-6.8l6.8 6.8m0-6.8l-6.8 6.8m.3-4h6.8m-3.9-2.9v6.8m-2.9-6.8l6.8 6.8m0-6.8l-6.8 6.8m.3-3.9h6.8m-3.9-2.9v6.8m-2.9-6.8l6.8 6.8m0-6.8l-6.8 6.8m.3-3.9h6.8m-3.9-2.9v6.8m-2.9-6.8l6.8 6.8m0-6.8l-6.8 6.8m.2-4h6.8m-3.9-2.9v6.8m-2.9-6.8l6.8 6.8m0-6.8l-6.8 6.8m.3-3.9h6.8m-3.9-2.9v6.8m-2.9-6.8l6.8 6.8m0-6.8l-6.8 6.8m.3-3.9h6.8m-3.9-2.9v6.8m-2.9-6.8l6.8 6.8m0-6.8l-6.8 6.8m.3-4h6.8m-3.9-2.9v6.8m-2.9-6.8l6.8 6.8m0-6.8l-6.8 6.8m.2-3.9h6.8m-3.9-2.9v6.8m-2.9-6.8l6.8 6.8m0-6.8l-6.8 6.8m.3-3.9h6.8m-3.9-2.9v6.8m-2.9-6.8l6.8 6.8m0-6.8l-6.8 6.8m.3-4h6.8m-3.9-2.9v6.8m-2.9-6.8l6.8 6.8m0-6.8l-6.8 6.8m.3-3.9h6.8m-3.9-2.9v6.8m-2.9-6.8l6.8 6.8m0-6.8l-6.8 6.8m.2-4h6.8m-3.9-2.9v6.8m-2.9-6.8l6.8 6.8m0-6.8l-6.8 6.8m.3-3.9h6.8m-3.9-2.9v6.8m-2.9-6.8l6.8 6.8m0-6.8l-6.8 6.8m.3-3.9h6.8m-3.9-2.9v6.8m-2.9-6.8l6.8 6.8m0-6.8l-6.8 6.8m.3-4h6.8m-3.9-2.9v6.8m-2.9-6.8l6.8 6.8m0-6.8l-6.8 6.8m.2-3.9h6.8m-3.9-2.9v6.8m-2.9-6.8l6.8 6.8m0-6.8l-6.8 6.8m.3-3.9h6.8m-3.9-2.9v6.8m-2.9-6.8l6.8 6.8m0-6.8l-6.8 6.8m.3-4h6.8m-3.9-2.9v6.8m-2.9-6.8l6.8 6.8m0-6.8l-6.8 6.8m.3-3.9h6.8m-3.9-2.9v6.8m-2.9-6.8l6.8 6.8m0-6.8l-6.8 6.8m.2-3.9h6.8m-3.9-2.9v6.8m-2.9-6.8l6.8 6.8m0-6.8l-6.8 6.8m.3-4h6.8m-3.9-2.9v6.8m-2.9-6.8l6.8 6.8m0-6.8l-6.8 6.8m.3-3.9h6.8m-3.9-2.9v6.8m-2.9-6.8l6.8 6.8m0-6.8l-6.8 6.8m.3-3.9h6.8m-3.9-2.9v6.8m-2.9-6.8l6.8 6.8m0-6.8l-6.8 6.8m.2-4h6.8m-3.9-2.9v6.8m-2.9-6.8l6.8 6.8m0-6.8l-6.8 6.8m.3-3.9h6.8m-3.9-2.9v6.8m-2.9-6.8l6.8 6.8m0-6.8l-6.8 6.8m.3-3.9h6.8m-3.9-2.9v6.8m-2.9-6.8l6.8 6.8m0-6.8l-6.8 6.8m.3-4h6.8m-3.9-2.9v6.8m-2.9-6.8l6.8 6.8m0-6.8l-6.8 6.8m.3-3.9h6.8m-3.9-2.9v6.8m-2.9-6.8l6.8 6.8m0-6.8l-6.8 6.8m.2-4h6.8m-3.9-2.9v6.8m-2.9-6.8l6.8 6.8m0-6.8l-6.8 6.8m.3-3.9h6.8m-3.9-2.9v6.8m-2.9-6.8l6.8 6.8m0-6.8l-6.8 6.8m.3-3.9h6.8m-3.9-2.9v6.8m-2.9-6.8l6.8 6.8m0-6.8l-6.8 6.8m.3-4h6.8m-3.9-2.9v6.8m-2.9-6.8l6.8 6.8m0-6.8l-6.8 6.8m.2-3.9h6.8m-3.9-2.9v6.8m-2.9-6.8l6.8 6.8m0-6.8l-6.8 6.8m.3-3.9h6.8m-3.9-2.9v6.8m-2.9-6.8l6.8 6.8m0-6.8l-6.8 6.8m.3-4h6.8m-3.9-2.9v6.8m-2.9-6.8l6.8 6.8m0-6.8l-6.8 6.8m.3-3.9h6.8m-3.9-2.9v6.8m-2.9-6.8l6.8 6.8m0-6.8l-6.8 6.8m.2-3.9h6.8m-3.9-2.9v6.8m-2.9-6.8l6.8 6.8m0-6.8l-6.8 6.8m.3-4h6.8m-3.9-2.9v6.8m-2.9-6.8l6.8 6.8m0-6.8l-6.8 6.8m.3-3.9h6.8m-3.9-2.9v6.8m-2.9-6.8l6.8 6.8m0-6.8l-6.8 6.8m.3-3.9h6.8m-3.9-2.9v6.8m-2.9-6.8l6.8 6.8m0-6.8l-6.8 6.8m.2-4h6.8m-3.9-2.9v6.8m-2.9-6.8l6.8 6.8m0-6.8l-6.8 6.8m.3-3.9h6.8m-3.9-2.9v6.8m-2.9-6.8l6.8 6.8m0-6.8l-6.8 6.8m.3-3.9h6.8m-3.9-2.9v6.8m-2.9-6.8l6.8 6.8m0-6.8l-6.8 6.8m.3-4h6.8m-3.9-2.9v6.8m-2.9-6.8l6.8 6.8m0-6.8l-6.8 6.8m.2-3.9h6.8m-3.9-2.9v6.8m-2.9-6.8l6.8 6.8m0-6.8l-6.8 6.8m.3-3.9h6.8m-3.9-2.9v6.8m-2.9-6.8l6.8 6.8m0-6.8l-6.8 6.8m.3-4h6.8m-3.9-2.9v6.8m-2.9-6.8l6.8 6.8m0-6.8l-6.8 6.8m.3-3.9h6.8m-3.9-2.9v6.8m-2.9-6.8l6.8 6.8m0-6.8l-6.8 6.8m.2-3.9h6.8m-3.9-2.9v6.8m-2.9-6.8l6.8 6.8m0-6.8l-6.8 6.8m.3-4h6.8m-3.9-2.9v6.8m-2.9-6.8l6.8 6.8m0-6.8l-6.8 6.8m.3-3.9h6.8m-3.9-2.9v6.8m-2.9-6.8l6.8 6.8m0-6.8l-6.8 6.8m.3-3.9h6.8m-3.9-2.9v6.8m-2.9-6.8l6.8 6.8m0-6.8l-6.8 6.8m.3-4h6.8m-3.9-2.9v6.8m-2.9-6.8l6.8 6.8m0-6.8l-6.8 6.8m.2-3.9h6.8m-3.9-2.9v6.8m-2.9-6.8l6.8 6.8m0-6.8l-6.8 6.8m.3-4h6.8m-3.9-2.9v6.8m-2.9-6.8l6.8 6.8m0-6.8l-6.8 6.8m.3-3.9h6.8m-3.9-2.9v6.8m-2.9-6.8l6.8 6.8m0-6.8l-6.8 6.8m.3-3.9h6.8m-3.9-2.9v6.8m-2.9-6.8l6.8 6.8m0-6.8l-6.8 6.8m.2-4h6.8m-3.9-2.9v6.8m-2.9-6.8l6.8 6.8m0-6.8l-6.8 6.8m.3-3.9h6.8m-3.9-2.9v6.8m-2.9-6.8l6.8 6.8m0-6.8l-6.8 6.8m.3-3.9h6.8m-3.9-2.9v6.8m-2.9-6.8l6.8 6.8m0-6.8l-6.8 6.8m.3-4h6.8m-3.9-2.9v6.8m-2.9-6.8l6.8 6.8m0-6.8l-6.8 6.8m.2-3.9h6.8m-3.9-2.9v6.8m-2.9-6.8l6.8 6.8m0-6.8l-6.8 6.8m.3-3.9h6.8m-3.9-2.9v6.8m-2.9-6.8l6.8 6.8m0-6.8l-6.8 6.8m.3-4h6.8m-3.9-2.9v6.8m-2.9-6.8l6.8 6.8m0-6.8l-6.8 6.8m.3-3.9h6.8m-3.9-2.9v6.8m-2.9-6.8l6.8 6.8m0-6.8l-6.8 6.8m.2-3.9h6.8m-3.9-2.9v6.8m-2.9-6.8l6.8 6.8m0-6.8l-6.8 6.8m.3-4h6.8m-3.9-2.9v6.8m-2.9-6.8l6.8 6.8m0-6.8l-6.8 6.8m.3-3.9h6.8m-3.9-2.9v6.8m-2.9-6.8l6.8 6.8m0-6.8l-6.8 6.8m.3-3.9h6.8m-3.9-2.9v6.8m-2.9-6.8l6.8 6.8m0-6.8l-6.8 6.8m.2-4h6.8m-3.9-2.9v6.8m-2.9-6.8l6.8 6.8m0-6.8l-6.8 6.8m.3-3.9h6.8m-3.9-2.9v6.8m-2.9-6.8l6.8 6.8m0-6.8l-6.8 6.8m.3-3.9h6.8m-3.9-2.9v6.8m-2.9-6.8l6.8 6.8m0-6.8l-6.8 6.8m.3-4h6.8m-3.9-2.9v6.8m-2.9-6.8l6.8 6.8m0-6.8l-6.8 6.8m.2-3.9h6.8m-3.9-2.9v6.8m-2.9-6.8l6.8 6.8m0-6.8l-6.8 6.8m.3-3.9h6.8m-3.9-2.9v6.8m-2.9-6.8l6.8 6.8m0-6.8l-6.8 6.8m.3-4h6.8m-3.9-2.9v6.8m-2.9-6.8l6.8 6.8m0-6.8l-6.8 6.8m.3-3.9h6.8m-3.9-2.9v6.8m-2.9-6.8l6.8 6.8m0-6.8l-6.8 6.8m.2-3.9h6.8m-3.9-2.9v6.8m-2.9-6.8l6.8 6.8m0-6.8l-6.8 6.8m.3-4h6.8m-3.9-2.9v6.8m-2.9-6.8l6.8 6.8m0-6.8l-6.8 6.8m.3-3.9h6.8m-3.9-2.9v6.8m-2.9-6.8l6.8 6.8m0-6.8l-6.8 6.8m.3-3.9h6.8m-3.9-2.9v6.8m-2.9-6.8l6.8 6.8m0-6.8l-6.8 6.8m.3-4h6.8m-3.9-2.9v6.8m-2.9-6.8l6.8 6.8m0-6.8l-6.8 6.8m.2-3.9h6.8m-3.9-2.9v6.8m-2.9-6.8l6.8 6.8m0-6.8l-6.8 6.8m.3-3.9h6.8m-3.9-2.9v6.8m-2.9-6.8l6.8 6.8m0-6.8l-6.8 6.8m.3-4h6.8m-3.9-2.9v6.8m-2.9-6.8l6.8 6.8m0-6.8l-6.8 6.8m.3-3.9h6.8m-3.9-2.9v6.8m-2.9-6.8l6.8 6.8m0-6.8l-6.8 6.8m.2-3.9h6.8m-3.9-2.9v6.8m-2.9-6.8l6.8 6.8m0-6.8l-6.8 6.8m.3-4h6.8m-3.9-2.9v6.8m-2.9-6.8l6.8 6.8m0-6.8l-6.8 6.8m.3-3.9h6.8m-3.9-2.9v6.8m-2.9-6.8l6.8 6.8m0-6.8l-6.8 6.8m.3-3.9h6.8m-3.9-2.9v6.8m-2.9-6.8l6.8 6.8m0-6.8l-6.8 6.8m.2-4h6.8m-3.9-2.9v6.8m-2.9-6.8l6.8 6.8m0-6.8l-6.8 6.8m.3-3.9h6.8m-3.9-2.9v6.8m-2.9-6.8l6.8 6.8m0-6.8l-6.8 6.8m.3-3.9h6.8m-3.9-2.9v6.8m-2.9-6.8l6.8 6.8m0-6.8l-6.8 6.8m.3-4h6.8m-3.9-2.9v6.8m-2.9-6.8l6.8 6.8m0-6.8l-6.8 6.8m.2-3.9h6.8m-3.9-2.9v6.8m-2.9-6.8l6.8 6.8m0-6.8l-6.8 6.8m.3-3.9h6.8m-3.9-2.9v6.8m-2.9-6.8l6.8 6.8m0-6.8l-6.8 6.8m.3-4h6.8m-3.9-2.9v6.8m-2.9-6.8l6.8 6.8m0-6.8l-6.8 6.8m.3-3.9h6.8m-3.9-2.9v6.8m-2.9-6.8l6.8 6.8m0-6.8l-6.8 6.8m.2-3.9h6.8m-3.9-2.9v6.8m-2.9-6.8l6.8 6.8m0-6.8l-6.8 6.8m.3-4h6.8m-3.9-2.9v6.8m-2.9-6.8l6.8 6.8m0-6.8l-6.8 6.8m.3-3.9h6.8m-3.9-2.9v6.8m-2.9-6.8l6.8 6.8m0-6.8l-6.8 6.8m.3-3.9h6.8m-3.9-2.9v6.8m-2.9-6.8l6.8 6.8m0-6.8l-6.8 6.8m.2-4h6.8m-3.9-2.9v6.8m-2.9-6.8l6.8 6.8m0-6.8l-6.8 6.8m.3-3.9h6.8m-3.9-2.9v6.8m-2.9-6.8l6.8 6.8m0-6.8l-6.8 6.8m.3-3.9h6.8m-3.9-2.9v6.8m-2.9-6.8l6.8 6.8m0-6.8l-6.8 6.8m.3-4h6.8m-3.9-2.9v6.8m-2.9-6.8l6.8 6.8m0-6.8l-6.8 6.8m.3-3.9h6.8m-3.9-2.9v6.8m-2.9-6.8l6.8 6.8m0-6.8l-6.8 6.8m.2-3.9h6.8m-3.9-2.9v6.8m-2.9-6.8l6.8 6.8m0-6.8l-6.8 6.8m.3-4h6.8m-3.9-2.9v6.8m-2.9-6.8l6.8 6.8m0-6.8l-6.8 6.8m.3-3.9h6.8m-3.9-2.9v6.8m-2.9-6.8l6.8 6.8m0-6.8l-6.8 6.8m.3-3.9h6.8m-3.9-2.9v6.8m-2.9-6.8l6.8 6.8m0-6.8l-6.8 6.8m.2-3.9h6.8m-3.9-2.9v6.8m-2.9-6.8l6.8 6.8m0-6.8l-6.8 6.8m.3-4h6.8m-3.9-2.9v6.8m-2.9-6.8l6.8 6.8m0-6.8l-6.8 6.8m.3-3.9h6.8m-3.9-2.9v6.8m-2.9-6.8l6.8 6.8m0-6.8l-6.8 6.8m.3-3.9h6.8m-3.9-2.9v6.8m-2.9-6.8l6.8 6.8m0-6.8l-6.8 6.8m.2-4h6.8m-3.9-2.9v6.8m-2.9-6.8l6.8 6.8m0-6.8l-6.8 6.8m.3-3.9h6.8m-3.9-2.9v6.8m-2.9-6.8l6.8 6.8m0-6.8l-6.8 6.8m.3-3.9h6.8m-3.9-2.9v6.8m-2.9-6.8l6.8 6.8m0-6.8l-6.8 6.8m.3-4h6.8m-3.9-2.9v6.8m-2.9-6.8l6.8 6.8m0-6.8l-6.8 6.8m.2-3.9h6.8m-3.9-2.9v6.8m-2.9-6.8l6.8 6.8m0-6.8l-6.8 6.8m.3-3.9h6.8m-3.9-2.9v6.8m-2.9-6.8l6.8 6.8m0-6.8l-6.8 6.8m.3-4h6.8m-3.9-2.9v6.8m-2.9-6.8l6.8 6.8m0-6.8l-6.8 6.8m.3-3.9h6.8m-3.9-2.9v6.8m-2.9-6.8l6.8 6.8m0-6.8l-6.8 6.8m.2-3.9h6.8m-3.9-2.9v6.8m-2.9-6.8l6.8 6.8m0-6.8l-6.8 6.8m.3-4h6.8m-3.9-2.9v6.8m-2.9-6.8l6.8 6.8m0-6.8l-6.8 6.8m.3-3.9h6.8m-3.9-2.9v6.8m-2.9-6.8l6.8 6.8m0-6.8l-6.8 6.8m.3-3.9h6.8m-3.9-2.9v6.8m-2.9-6.8l6.8 6.8m0-6.8l-6.8 6.8m.2-4h6.8m-3.9-2.9v6.8m-2.9-6.8l6.8 6.8m0-6.8l-6.8 6.8m.3-3.9h6.8m-3.9-2.9v6.8m-2.9-6.8l6.8 6.8m0-6.8l-6.8 6.8m.3-3.9h6.8m-3.9-2.9v6.8m-2.9-6.8l6.8 6.8m0-6.8l-6.8 6.8m.3-4h6.8m-3.9-2.9v6.8m-2.9-6.8l6.8 6.8m0-6.8l-6.8 6.8m.3-3.9h6.8m-3.9-2.9v6.8m-2.9-6.8l6.8 6.8m0-6.8l-6.8 6.8m.2-3.9h6.8m-3.9-2.9v6.8m-2.9-6.8l6.8 6.8m0-6.8l-6.8 6.8m.3-3.9h6.8m-3.9-2.9v6.8m-2.9-6.8l6.8 6.8m0-6.8l-6.8 6.8m.3-4h6.8m-3.9-2.9v6.8m-2.9-6.8l6.8 6.8m0-6.8l-6.8 6.8m.3-3.9h6.8m-3.9-2.9v6.8m-2.9-6.8l6.8 6.8m0-6.8l-6.8 6.8m.2-3.9h6.8m-3.9-2.9v6.8m-2.9-6.8l6.8 6.8m0-6.8l-6.8 6.8m.3-4h6.8m-3.9-2.9v6.8m-2.9-6.8l6.8 6.8m0-6.8l-6.8 6.8m.3-3.9h6.8m-3.9-2.9v6.8m-2.9-6.8l6.8 6.8m0-6.8l-6.8 6.8m.3-3.9h6.8m-3.9-2.9v6.8m-2.9-6.8l6.8 6.8m0-6.8l-6.8 6.8m.2-4h6.8m-3.9-2.9v6.8m-2.9-6.8l6.8 6.8m0-6.8l-6.8 6.8m.3-3.9h6.8m-3.9-2.9v6.8m-2.9-6.8l6.8 6.8m0-6.8l-6.8 6.8m.3-3.9h6.8m-3.9-2.9v6.8m-2.9-6.8l6.8 6.8m0-6.8l-6.8 6.8m.3-4h6.8m-3.9-2.9v6.8m-2.9-6.8l6.8 6.8m0-6.8l-6.8 6.8m.2-3.9h6.8m-3.9-2.9v6.8m-2.9-6.8l6.8 6.8m0-6.8l-6.8 6.8m.3-3.9h6.8m-3.9-2.9v6.8m-2.9-6.8l6.8 6.8m0-6.8l-6.8 6.8m.3-3.9h6.8m-3.9-2.9v6.8m-2.9-6.8l6.8 6.8m0-6.8l-6.8 6.8m.3-4h6.8m-3.9-2.9v6.8m-2.9-6.8l6.8 6.8m0-6.8l-6.8 6.8m.2-3.9h6.8m-3.9-2.9v6.8m-2.9-6.8l6.8 6.8m0-6.8l-6.8 6.8m.3-3.9h6.8m-3.9-2.9v6.8m-2.9-6.8l6.8 6.8m0-6.8l-6.8 6.8m.3-4h6.8m-3.9-2.9v6.8m-2.9-6.8l6.8 6.8m0-6.8l-6.8 6.8m.3-3.9h6.8m-3.9-2.9v6.8m-2.9-6.8l6.8 6.8m0-6.8l-6.8 6.8m.2-3.9h6.8m-3.9-2.9v6.8m-2.9-6.8l6.8 6.8m0-6.8l-6.8 6.8m.3-4h6.8m-3.9-2.9v6.8m-2.9-6.8l6.8 6.8m0-6.8l-6.8 6.8m.3-3.9h6.8m-3.9-2.9v6.8m-2.9-6.8l6.8 6.8m0-6.8l-6.8 6.8" stroke="#0000ff"/>
<path class="m" d="M107.7 267.7h7.6m-4.3-3.3v7.6m-3.3-7.6l7.6 7.6m0-7.6l-7.6 7.6" stroke="#0000ff"/>
<path class="b" d="M108.5 507.7h6.2v6.2h-6.2zm0 1.2h6.2v6.2h-6.2zm.2 1.5h6.2v6.2h-6.2zm.3 0h6.2v6.2h-6.2zm.3 0h6.2v6.2h-6.2zm.2 0h6.2v6.2h-6.2zm.3 0h6.2v6.2h-6.2zm.3 0h6.2v6.2h-6.2zm.3 0h6.2v6.2h-6.2zm.2 0h6.2v6.2h-6.2zm.3 0h6.2v6.2h-6.2zm.3 0h6.2v6.2h-6.2zm.3 0h6.2v6.2h-6.2zm.2 0h6.2v6.2h-6.2zm.3 0h6.2v6.2h-6.2zm.3 0h6.2v6.2h-6.2zm.3 0h6.2v6.2h-6.2zm.2 0h6.2v6.2h-6.2zm.3 0h6.2v6.2h-6.2zm.3 0h6.2v6.2h-6.2zm.3 0h6.2v6.2h-6.2zm.2 0h6.2v6.2h-6.2zm.3 0h6.2v6.2h-6.2zm.3 0h6.2v6.2h-6.2zm.3 0h6.2v6.2h-6.2zm.2-.1h6.2v6.2h-6.2zm.3-.1h6.2v6.2h-6.2zm.3-.1h6.2v6.2h-6.2zm.3-.2h6.2v6.2h-6.2zm.3-.2h6.2v6.2h-6.2zm.2-.2h6.2v6.2h-6.2zm.3-.3h6.2v6.2h-6.2zm.3-.2h6.2v6.2h-6.2zm.3-.3h6.2v6.2h-6.2zm.2-.3h6.2v6.2h-6.2zm.3-.3h6.2v6.2h-6.2zm.3-.3h6.2v6.2h-6.2zm.3-.4h6.2v6.2h-6.2zm.2-.3h6.2v6.2h-6.2zm.3-.3h6.2v6.2h-6.2zm.3-.4h6.2v6.2h-6.2zm.3-.3h6.2v6.2h-6.2zm.2-.4h6.2v6.2h-6.2zm.3-.4h6.2v6.2h-6.2zm.3-.3h6.2v6.2h-6.2zm.3-.4h6.2v6.2h-6.2zm.2-.4h6.2v6.2h-6.2zm.3-.3h6.2v6.2h-6.2zm.3-.4h6.2v6.2h-6.2zm.3-.4h6.2v6.2h-6.2zm.2-.3h6.2v6.2h-6.2zm.3-.4h6.2v6.2h-6.2zm.3-.4h6.2v6.2h-6.2zm.3-.4h6.2v6.2h-6.2zm.3-.4h6.2v6.2h-6.2zm.2-.3h6.2v6.2h-6.2zm.3-.4h6.2v6.2h-6.2zm.3-.4h6.2v6.2h-6.2zm.3-.4h6.2v6.2h-6.2zm.2-.4h6.2v6.2h-6.2zm.3-.4h6.2v6.2h-6.2zm.3-.3h6.2v6.2h-6.2zm.3-.4h6.2v6.2h-6.2zm.2-.4h6.2v6.2h-6.2zm.3-.4h6.2v6.2h-6.2zm.3-.4h6.2v6.2h-6.2zm.3-.4h6.2v6.2h-6.2zm.2-.4h6.2v6.2h-6.2zm.3-.4h6.2v6.2h-6.2zm.3-.4h6.2v6.2h-6.2zm.3-.3h6.2v6.2h-6.2zm.2-.4h6.2v6.2h-6.2zm.3-.4h6.2v6.2h-6.2zm.3-.4h6.2v6.2h-6.2zm.3-.4h6.2v6.2h-6.2zm.2-.4h6.2v6.2h-6.2zm.3-.4h6.2v6.2h-6.2zm.3-.4h6.2v6.2h-6.2zm.3-.4h6.2v6.2h-6.2zm.3-.4h6.2v6.2h-6.2zm.2-.4h6.2v6.2h-6.2zm.3-.4h6.2v6.2h-6.2zm.3-.4h6.2v6.2h-6.2zm.3-.4h6.2v6.2h-6.2zm.2-.4h6.2v6.2h-6.2zm.3-.4h6.2v6.2h-6.2zm.3-.3h6.2v6.2h-6.2zm.3-.4h6.2v6.2h-6.2zm.2-.4h6.2v6.2h-6.2zm.3-.4h6.2v6.2h-6.2zm.3-.4h6.2v6.2h-6.2zm.3-.4h6.2v6.2h-6.2zm.2-.4h6.2v6.2h-6.2zm.3-.4h6.2v6.2h-6.2zm.3-.4h6.2v6.2h-6.2zm.3-.4h6.2v6.2h-6.2zm.2-.4h6.2v6.2h-6.2zm.3-.4h6.2v6.2h-6.2zm.3-.4h6.2v6.2h-6.2zm.3-.4h6.2v6.2h-6.2zm.2-.4h6.2v6.2h-6.2zm.3-.4h6.2v6.2h-6.2zm.3-.4h6.2v6.2h-6.2zm.3-.4h6.2v6.2h-6.2zm.2-.4h6.2v6.2h-6.2zm.3-.4h6.2v6.2h-6.2zm.3-.4h6.2v6.2h-6.2zm.3-.4h6.2v6.2h-6.2zm.3-.4h6.2v6.2h-6.2zm.2-.4h6.2v6.2h-6.2zm.3-.4h6.2v6.2h-6.2zm.3-.4h6.2v6.2h-6.2zm.3-.4h6.2v6.2h-6.2zm.2-.4h6.2v6.2h-6.2zm.3-.4h6.2v6.2h-6.2zm.3-.4h6.2v6.2h-6.2zm.3-.4h6.2v6.2h-6.2zm.2-.4h6.2v6.2h-6.2zm.3-.4h6.2v6.2h-6.2zm.3-.4h6.2v6.2h-6.2zm.3-.4h6.2v6.2h-6.2zm.2-.4h6.2v6.2h-6.2zm.3-.4h6.2v6.2h-6.2zm.3-.4h6.2v6.2h-6.2zm.3-.4h6.2v6.2h-6.2zm.2-.4h6.2v6.2h-6.2zm.3-.4h6.2v6.2h-6.2zm.3-.5h6.2v6.2h-6.2zm.3-.4h6.2v6.2h-6.2zm.2-.4h6.2v6.2h-6.2zm.3-.4h6.2v6.2h-6.2zm.3-.4h6.2v6.2h-6.2zm.3-.4h6.2v6.2h-6.2zm.3-.4h6.2v6.2h-6.2zm.2-.4h6.2v6.2h-6.2zm.3-.4h6.2v6.2h-6.2zm.3-.4h6.2v6.2h-6.2zm.3-.4h6.2v6.2h-6.2zm.2-.4h6.2v6.2h-6.2zm.3-.4h6.2v6.2h-6.2zm.3-.4h6.2v6.2h-6.2zm.3-.4h6.2v6.2h-6.2zm.2-.4h6.2v6.2h-6.2zm.3-.4h6.2v6.2h-6.2zm.3-.4h6.2v6.2h-6.2zm.3-.4h6.2v6.2h-6.2zm.2-.4h6.2v6.2h-6.2zm.3-.4h6.2v6.2h-6.2zm.3-.5h6.2v6.2h-6.2zm.3-.4h6.2v6.2h-6.2zm.2-.4h6.2v6.2h-6.2zm.3-.4h6.2v6.2h-6.2zm.3-.4h6.2v6.2h-6.2zm.3-.4h6.2v6.2h-6.2zm.2-.4h6.2v6.2h-6.2zm.3-.4h6.2v6.2h-6.2zm.3-.4h6.2v6.2h-6.2zm.3-.4h6.2v6.2h-6.2zm.3-.4h6.2v6.2h-6.2zm.2-.4h6.2v6.2h-6.2zm.3-.4h6.2v6.2h-6.2zm.3-.4h6.2v6.2h-6.2zm.3-.5h6.2v6.2h-6.2zm.2-.4h6.2v6.2h-6.2zm.3-.4h6.2v6.2h-6.2zm.3-.4h6.2v6.2h-6.2zm.3-.4h6.2v6.2h-6.2zm.2-.4h6.2v6.2h-6.2zm.3-.4h6.2v6.2h-6.2zm.3-.4h6.2v6.2h-6.2zm.3-.4h6.2v6.2h-6.2zm.2-.4h6.2v6.2h-6.2zm.3-.4h6.2v6.2h-6.2zm.3-.4h6.2v6.2h-6.2zm.3-.5h6.2v6.2h-6.2zm.2-.4h6.2v6.2h-6.2zm.3-.4h6.2v6.2h-6.2zm.3-.4h6.2v6.2h-6.2zm.3-.4h6.2v6.2h-6.2zm.2-.4h6.2v6.2h-6.2zm.3-.4h6.2v6.2h-6.2zm.3-.4h6.2v6.2h-6.2zm.3-.4h6.2v6.2h-6.2zm.3-.4h6.2v6.2h-6.2zm.2-.5h6.2v6.2h-6.2zm.3-.4h6.2v6.2h-6.2zm.3-.4h6.2v6.2h-6.2zm.3-.4h6.2v6.2h-6.2zm.2-.4h6.2v6.2h-6.2zm.3-.4h6.2v6.2h-6.2zm.3-.4h6.2v6.2h-6.2zm.3-.4h6.2v6.2h-6.2zm.2-.5h6.2v6.2h-6.2zm.3-.4h6.2v6.2h-6.2zm.3-.4h6.2v6.2h-6.2zm.3-.4h6.2v6.2h-6.2zm.2-.4h6.2v6.2h-6.2zm.3-.4h6.2v6.2h-6.2zm.3-.4h6.2v6.2h-6.2zm.3-.4h6.2v6.2h-6.2zm.1-.5h6.4v6.4h-6.4zm.3-.5h6.4v6.4h-6.4zm.3-.4h6.4v6.4h-6.4zm.3-.4h6.4v6.4h-6.4zm.2-.4h6.4v6.4h-6.4zm.3-.4h6.4v6.4h-6.4zm.3-.4h6.4v6.4h-6.4zm.3-.4h6.4v6.4h-6.4zm.3-.5h6.4v6.4h-6.4zm.2-.4h6.4v6.4h-6.4zm.3-.4h6.4v6.4h-6.4zm.3-.4h6.4v6.4h-6.4zm.3-.4h6.4v6.4h-6.4zm.2-.4h6.4v6.4h-6.4zm.3-.4h6.4v6.4h-6.4zm.3-.5h6.4v6.4h-6.4zm.3-.4h6.4v6.4h-6.4zm.2-.4h6.4v6.4h-6.4zm.3-.4h6.4v6.4h-6.4zm.3-.4h6.4v6.4h-6.4zm.3-.4h6.4v6.4h-6.4zm.2-.4h6.4v6.4h-6.4zm.3-.5h6.4v6.4h-6.4zm.3-.4h6.4v6.4h-6.4zm.3-.4h6.4v6.4h-6.4zm.2-.4h6.4v6.4h-6.4zm.3-.4h6.4v6.4h-6.4zm.3-.4h6.4v6.4h-6.4zm.3-.5h6.4v6.4h-6.4zm.2-.4h6.4v6.4h-6.4zm.3-.4h6.4v6.4h-6.4zm.3-.4h6.4v6.4h-6.4zm.3-.4h6.4v6.4h-6.4zm.3-.4h6.4v6.4h-6.4zm.2-.5h6.4v6.4h-6.4zm.3-.4h6.4v6.4h-6.4zm.3-.4h6.4v6.4h-6.4zm.3-.4h6.4v6.4h-6.4zm.2-.4h6.4v6.4h-6.4zm.3-.4h6.4v6.4h-6.4zm.3-.5h6.4v6.4h-6.4zm.3-.4h6.4v6.4h-6.4zm.2-.4h6.4v6.4h-6.4zm.3-.4h6.4v6.4h-6.4zm.3-.4h6.4v6.4h-6.4zm.3-.4h6.4v6.4h-6.4zm.2-.5h6.4v6.4h-6.4zm.3-.4h6.4v6.4h-6.4zm.3-.4h6.4v6.4h-6.4zm.3-.4h6.4v6.4h-6.4zm.2-.4h6.4v6.4h-6.4zm.3-.5h6.4v6.4h-6.4zm.3-.4h6.4v6.4h-6.4zm.3-.4h6.4v6.4h-6.4zm.2-.4h6.4v6.4h-6.4zm.3-.4h6.4v6.4h-6.4zm.3-.4h6.4v6.4h-6.4zm.3-.5h6.4v6.4h-6.4zm.2-.4h6.4v6.4h-6.4zm.3-.4h6.4v6.4h-6.4zm.3-.4h6.4v6.4h-6.4zm.3-.4h6.4v6.4h-6.4zm.3-.5h6.4v6.4h-6.4zm.2-.4h6.4v6.4h-6.4zm.3-.4h6.4v6.4h-6.4zm.3-.4h6.4v6.4h-6.4zm.3-.4h6.4v6.4h-6.4zm.2-.5h6.4v6.4h-6.4zm.3-.4h6.4v6.4h-6.4zm.3-.4h6.4v6.4h-6.4zm.3-.4h6.4v6.4h-6.4zm.2-.5h6.4v6.4h-6.4zm.3-.4h6.4v6.4h-6.4zm.3-.4h6.4v6.4h-6.4zm.3-.4h6.4v6.4h-6.4zm.2-.4h6.4v6.4h-6.4zm.3-.5h6.4v6.4h-6.4zm.3-.4h6.4v6.4h-6.4zm.3-.4h6.4v6.4h-6.4zm.2-.4h6.4v6.4h-6.4zm.3-.4h6.4v6.4h-6.4zm.3-.5h6.4v6.4h-6.4zm.3-.4h6.4v6.4h-6.4zm.2-.4h6.4v6.4h-6.4zm.3-.4h6.4v6.4h-6.4zm.3-.5h6.4v6.4h-6.4zm.3-.4h6.4v6.4h-6.4zm.3-.4h6.4v6.4h-6.4zm.2-.4h6.4v6.4h-6.4zm.3-.5h6.4v6.4h-6.4zm.3-.4h6.4v6.4h-6.4zm.3-.4h6.4v6.4h-6.4zm.2-.4h6.4v6.4h-6.4zm.3-.4h6.4v6.4h-6.4zm.3-.5h6.4v6.4h-6.4zm.3-.4h6.4v6.4h-6.4zm.2-.4h6.4v6.4h-6.4zm.3-.4h6.4v6.4h-6.4zm.3-.5h6.4v6.4h-6.4zm.3-.4h6.4v6.4h-6.4zm.2-.4h6.4v6.4h-6.4zm.3-.4h6.4v6.4h-6.4zm.3-.5h6.4v6.4h-6.4zm.3-.4h6.4v6.4h-6.4zm.2-.4h6.4v6.4h-6.4zm.3-.4h6.4v6.4h-6.4zm.3-.5h6.4v6.4h-6.4zm.3-.4h6.4v6.4h-6.4zm.2-.4h6.4v6.4h-6.4zm.3-.4h6.4v6.4h-6.4zm.3-.5h6.4v6.4h-6.4zm.3-.4h6.4v6.4h-6.4zm.3-.4h6.4v6.4h-6.4zm.2-.4h6.4v6.4h-6.4zm.3-.5h6.4v6.4h-6.4zm.3-.4h6.4v6.4h-6.4zm.3-.4h6.4v6.4h-6.4zm.1-.6h6.6v6.6h-6.6zm.3-.4h6.6v6.6h-6.6zm.3-.4h6.6v6.6h-6.6zm.3-.4h6.6v6.6h-6.6zm.2-.5h6.6v6.6h-6.6zm.3-.4h6.6v6.6h-6.6zm.3-.4h6.6v6.6h-6.6zm.3-.4h6.6v6.6h-6.6zm.2-.5h6.6v6.6h-6.6zm.3-.4h6.6v6.6h-6.6zm.3-.4h6.6v6.6h-6.6zm.3-.4h6.6v6.6h-6.6zm.2-.5h6.6v6.6h-6.6zm.3-.4h6.6v6.6h-6.6zm.3-.4h6.6v6.6h-6.6zm.3-.5h6.6v6.6h-6.6zm.2-.4h6.6v6.6h-6.6zm.3-.4h6.6v6.6h-6.6zm.3-.4h6.6v6.6h-6.6zm.3-.5h6.6v6.6h-6.6zm.3-.4h6.6v6.6h-6.6zm.2-.4h6.6v6.6h-6.6zm.3-.5h6.6v6.6h-6.6zm.3-.4h6.6v6.6h-6.6zm.3-.4h6.6v6.6h-6.6zm.2-.4h6.6v6.6h-6.6zm.3-.5h6.6v6.6h-6.6zm.3-.4h6.6v6.6h-6.6zm.3-.4h6.6v6.6h-6.6zm.2-.5h6.6v6.6h-6.6zm.3-.4h6.6v6.6h-6.6zm.3-.4h6.6v6.6h-6.6zm.3-.5h6.6v6.6h-6.6zm.2-.4h6.6v6.6h-6.6zm.3-.4h6.6v6.6h-6.6zm.3-.4h6.6v6.6h-6.6zm.3-.5h6.6v6.6h-6.6zm.2-.4h6.6v6.6h-6.6zm.3-.4h6.6v6.6h-6.6zm.3-.5h6.6v6.6h-6.6zm.3-.4h6.6v6.6h-6.6zm.2-.4h6.6v6.6h-6.6zm.3-.5h6.6v6.6h-6.6zm.3-.4h6.6v6.6h-6.6zm.3-.4h6.6v6.6h-6.6zm.3-.5h6.6v6.6h-6.6zm.2-.4h6.6v6.6h-6.6zm.3-.4h6.6v6.6h-6.6zm.3-.5h6.6v6.6h-6.6zm.3-.4h6.6v6.6h-6.6zm.2-.4h6.6v6.6h-6.6zm.3-.5h6.6v6.6h-6.6zm.3-.4h6.6v6.6h-6.6zm.3-.4h6.6v6.6h-6.6zm.2-.5h6.6v6.6h-6.6zm.3-.4h6.6v6.6h-6.6zm.3-.4h6.6v6.6h-6.6zm.3-.5h6.6v6.6h-6.6zm.2-.4h6.6v6.6h-6.6zm.3-.4h6.6v6.6h-6.6zm.3-.5h6.6v6.6h-6.6zm.3-.4h6.6v6.6h-6.6zm.2-.4h6.6v6.6h-6.6zm.3-.5h6.6v6.6h-6.6zm.3-.4h6.6v6.6h-6.6zm.3-.4h6.6v6.6h-6.6zm.2-.5h6.6v6.6h-6.6zm.3-.4h6.6v6.6h-6.6zm.3-.4h6.6v6.6h-6.6zm.3-.5h6.6v6.6h-6.6zm.3-.4h6.6v6.6h-6.6zm.2-.4h6.6v6.6h-6.6zm.3-.5h6.6v6.6h-6.6zm.3-.4h6.6v6.6h-6.6zm.3-.4h6.6v6.6h-6.6zm.2-.5h6.6v6.6h-6.6zm.3-.4h6.6v6.6h-6.6zm.3-.4h6.6v6.6h-6.6zm.3-.5h6.6v6.6h-6.6zm.2-.4h6.6v6.6h-6.6zm.3-.4h6.6v6.6h-6.6zm.3-.5h6.6v6.6h-6.6zm.3-.4h6.6v6.6h-6.6zm.2-.5h6.6v6.6h-6.6zm.3-.4h6.6v6.6h-6.6zm.3-.4h6.6v6.6h-6.6zm.3-.5h6.6v6.6h-6.6zm.2-.4h6.6v6.6h-6.6zm.3-.4h6.6v6.6h-6.6zm.3-.5h6.6v6.6h-6.6zm.3-.4h6.6v6.6h-6.6zm.2-.4h6.6v6.6h-6.6zm.3-.5h6.6v6.6h-6.6zm.3-.4h6.6v6.6h-6.6zm.3-.5h6.6v6.6h-6.6zm.3-.4h6.6v6.6h-6.6zm.2-.4h6.6v6.6h-6.6zm.3-.5h6.6v6.6h-6.6zm.3-.4h6.6v6.6h-6.6zm.3-.4h6.6v6.6h-6.6zm.2-.5h6.6v6.6h-6.6zm.3-.4h6.6v6.6h-6.6zm.3-.5h6.6v6.6h-6.6zm.3-.4h6.6v6.6h-6.6zm.2-.4h6.6v6.6h-6.6zm.3-.5h6.6v6.6h-6.6zm.3-.4h6.6v6.6h-6.6zm.3-.5h6.6v6.6h-6.6zm.2-.4h6.6v6.6h-6.6zm.3-.4h6.6v6.6h-6.6zm.3-.5h6.6v6.6h-6.6zm.3-.4h6.6v6.6h-6.6zm.2-.4h6.6v6.6h-6.6zm.3-.5h6.6v6.6h-6.6zm.3-.4h6.6v6.6h-6.6zm.3-.5h6.6v6.6h-6.6zm.2-.4h6.6v6.6h-6.6zm.3-.4h6.6v6.6h-6.6zm.2-.6h6.8v6.8h-6.8zm.3-.4h6.8v6.8h-6.8zm.2-.5h6.8v6.8h-6.8zm.3-.4h6.8v6.8h-6.8zm.3-.4h6.8v6.8h-6.8zm.3-.5h6.8v6.8h-6.8zm.3-.4h6.8v6.8h-6.8zm.2-.5h6.8v6.8h-6.8zm.3-.4h6.8v6.8h-6.8zm.3-.5h6.8v6.8h-6.8zm.3-.4h6.8v6.8h-6.8zm.2-.4h6.8v6.8h-6.8zm.3-.5h6.8v6.8h-6.8zm.3-.4h6.8v6.8h-6.8zm.3-.5h6.8v6.8h-6.8zm.2-.4h6.8v6.8h-6.8zm.3-.4h6.8v6.8h-6.8zm.3-.5h6.8v6.8h-6.8zm.3-.4h6.8v6.8h-6.8zm.2-.5h6.8v6.8h-6.8zm.3-.4h6.8v6.8h-6.8zm.3-.5h6.8v6.8h-6.8zm.3-.4h6.8v6.8h-6.8zm.2-.4h6.8v6.8h-6.8zm.3-.5h6.8v6.8h-6.8zm.3-.4h6.8v6.8h-6.8zm.3-.5h6.8v6.8h-6.8zm.2-.4h6.8v6.8h-6.8zm.3-.5h6.8v6.8h-6.8zm.3-.4h6.8v6.8h-6.8zm.3-.4h6.8v6.8h-6.8zm.3-.5h6.8v6.8h-6.8zm.2-.4h6.8v6.8h-6.8zm.3-.5h6.8v6.8h-6.8zm.3-.4h6.8v6.8h-6.8zm.3-.5h6.8v6.8h-6.8zm.2-.4h6.8v6.8h-6.8zm.3-.5h6.8v6.8h-6.8zm.3-.4h6.8v6.8h-6.8zm.3-.4h6.8v6.8h-6.8zm.2-.5h6.8v6.8h-6.8zm.3-.4h6.8v6.8h-6.8zm.3-.5h6.8v6.8h-6.8zm.3-.4h6.8v6.8h-6.8zm.2-.5h6.8v6.8h-6.8zm.3-.4h6.8v6.8h-6.8zm.3-.5h6.8v6.8h-6.8zm.3-.4h6.8v6.8h-6.8zm.2-.4h6.8v6.8h-6.8zm.3-.5h6.8v6.8h-6.8zm.3-.4h6.8v6.8h-6.8zm.3-.5h6.8v6.8h-6.8zm.2-.4h6.8v6.8h-6.8zm.3-.5h6.8v6.8h-6.8zm.3-.4h6.8v6.8h-6.8zm.3-.5h6.8v6.8h-6.8zm.3-.4h6.8v6.8h-6.8zm.2-.5h6.8v6.8h-6.8zm.3-.4h6.8v6.8h-6.8zm.3-.5h6.8v6.8h-6.8zm.3-.4h6.8v6.8h-6.8zm.2-.5h6.8v6.8h-6.8zm.3-.4h6.8v6.8h-6.8zm.3-.4h6.8v6.8h-6.8zm.3-.5h6.8v6.8h-6.8zm.2-.4h6.8v6.8h-6.8zm.3-.5h6.8v6.8h-6.8zm.3-.4h6.8v6.8h-6.8zm.3-.5h6.8v6.8h-6.8zm.2-.4h6.8v6.8h-6.8zm.3-.5h6.8v6.8h-6.8zm.3-.4h6.8v6.8h-6.8zm.3-.5h6.8v6.8h-6.8zm.2-.4h6.8v6.8h-6.8zm.3-.5h6.8v6.8h-6.8zm.3-.4h6.8v6.8h-6.8zm.3-.5h6.8v6.8h-6.8zm.2-.4h6.8v6.8h-6.8zm.3-.5h6.8v6.8h-6.8zm.3-.4h6.8v6.8h-6.8zm.3-.5h6.8v6.8h-6.8zm.3-.4h6.8v6.8h-6.8zm.2-.5h6.8v6.8h-6.8zm.3-.4h6.8v6.8h-6.8zm.3-.5h6.8v6.8h-6.8zm.3-.4h6.8v6.8h-6.8zm.2-.5h6.8v6.8h-6.8zm.3-.4h6.8v6.8h-6.8zm.3-.5h6.8v6.8h-6.8zm.3-.4h6.8v6.8h-6.8zm.2-.5h6.8v6.8h-6.8zm.3-.4h6.8v6.8h-6.8zm.3-.5h6.8v6.8h-6.8zm.3-.4h6.8v6.8h-6.8zm.2-.5h6.8v6.8h-6.8zm.3-.4h6.8v6.8h-6.8zm.3-.5h6.8v6.8h-6.8zm.3-.4h6.8v6.8h-6.8zm.2-.5h6.8v6.8h-6.8zm.3-.4h6.8v6.8h-6.8zm.3-.5h6.8v6.8h-6.8zm.3-.4h6.8v6.8h-6.8zm.2-.5h6.8v6.8h-6.8zm.3-.4h6.8v6.8h-6.8zm.3-.5h6.8v6.8h-6.8zm.3-.4h6.8v6.8h-6.8zm.3-.5h6.8v6.8h-6.8zm.2-.4h6.8v6.8h-6.8zm.3-.5h6.8v6.8h-6.8zm.3-.4h6.8v6.8h-6.8zm.3-.5h6.8v6.8h-6.8zm.2-.5h6.8v6.8h-6.8zm.3-.4h6.8v6.8h-6.8zm.3-.5h6.8v6.8h-6.8zm.3-.4h6.8v6.8h-6.8zm.2-.5h6.8v6.8h-6.8zm.3-.4h6.8v6.8h-6.8zm.2-.6h7v7h-7zm.3-.4h7v7h-7zm.2-.5h7v7h-7zm.3-.4h7v7h-7zm.3-.5h7v7h-7zm.3-.4h7v7h-7zm.2-.5h7v7h-7zm.3-.5h7v7h-7zm.3-.4h7v7h-7zm.3-.5h7v7h-7zm.2-.4h7v7h-7zm.3-.5h7v7h-7zm.3-.4h7v7h-7zm.3-.5h7v7h-7zm.3-.4h7v7h-7zm.2-.5h7v7h-7zm.3-.4h7v7h-7zm.3-.5h7v7h-7zm.3-.5h7v7h-7zm.2-.4h7v7h-7zm.3-.5h7v7h-7zm.3-.4h7v7h-7zm.3-.5h7v7h-7zm.2-.4h7v7h-7zm.3-.5h7v7h-7zm.3-.5h7v7h-7zm.3-.4h7v7h-7zm.2-.5h7v7h-7zm.3-.4h7v7h-7zm.3-.5h7v7h-7zm.3-.4h7v7h-7zm.2-.5h7v7h-7zm.3-.5h7v7h-7zm.3-.4h7v7h-7zm.3-.5h7v7h-7zm.2-.4h7v7h-7zm.3-.5h7v7h-7zm.3-.4h7v7h-7zm.3-.5h7v7h-7zm.2-.5h7v7h-7zm.3-.4h7v7h-7zm.3-.5h7v7h-7zm.3-.4h7v7h-7zm.3-.5h7v7h-7zm.2-.4h7v7h-7zm.3-.5h7v7h-7zm.3-.5h7v7h-7zm.3-.4h7v7h-7zm.2-.5h7v7h-7zm.3-.4h7v7h-7zm.3-.5h7v7h-7zm.3-.5h7v7h-7zm.2-.4h7v7h-7zm.3-.5h7v7h-7zm.3-.4h7v7h-7zm.3-.5h7v7h-7zm.2-.5h7v7h-7zm.3-.4h7v7h-7zm.3-.5h7v7h-7zm.3-.4h7v7h-7zm.2-.5h7v7h-7zm.3-.5h7v7h-7zm.3-.4h7v7h-7zm.3-.5h7v7h-7zm.2-.4h7v7h-7zm.3-.5h7v7h-7zm.3-.5h7v7h-7zm.3-.4h7v7h-7zm.3-.5h7v7h-7zm.2-.5h7v7h-7zm.3-.4h7v7h-7zm.3-.5h7v7h-7zm.3-.4h7v7h-7zm.2-.5h7v7h-7zm.3-.5h7v7h-7zm.3-.4h7v7h-7zm.3-.5h7v7h-7zm.2-.4h7v7h-7zm.3-.5h7v7h-7zm.3-.5h7v7h-7zm.3-.4h7v7h-7zm.2-.5h7v7h-7zm.3-.5h7v7h-7zm.3-.4h7v7h-7zm.3-.5h7v7h-7zm.2-.5h7v7h-7zm.3-.4h7v7h-7zm.3-.5h7v7h-7zm.3-.4h7v7h-7zm.2-.5h7v7h-7zm.3-.5h7v7h-7zm.3-.4h7v7h-7zm.3-.5h7v7h-7zm.3-.5h7v7h-7zm.2-.4h7v7h-7zm.3-.5h7v7h-7zm.3-.5h7v7h-7zm.3-.4h7v7h-7zm.2-.5h7v7h-7zm.3-.5h7v7h-7zm.3-.4h7v7h-7zm.3-.5h7v7h-7zm.2-.4h7v7h-7zm.3-.5h7v7h-7zm.3-.5h7v7h-7zm.3-.4h7v7h-7zm.2-.5h7v7h-7zm.3-.5h7v7h-7zm.3-.4h7v7h-7zm.3-.5h7v7h-7zm.2-.5h7v7h-7zm.3-.4h7v7h-7zm.3-.5h7v7h-7zm.3-.5h7v7h-7zm.2-.4h7v7h-7zm.3-.5h7v7h-7zm.3-.5h7v7h-7zm.3-.4h7v7h-7zm.3-.5h7v7h-7zm.2-.5h7v7h-7zm.3-.4h7v7h-7zm.3-.5h7v7h-7zm.3-.5h7v7h-7zm.2-.4h7v7h-7zm.3-.5h7v7h-7zm.3-.5h7v7h-7zm.3-.5h7v7h-7zm.2-.4h7v7h-7zm.3-.5h7v7h-7zm.3-.5h7v7h-7zm.3-.4h7v7h-7zm.2-.5h7v7h-7zm.3-.5h7v7h-7zm.3-.4h7v7h-7zm.3-.5h7v7h-7zm.2-.5h7v7h-7zm.3-.4h7v7h-7zm.3-.5h7v7h-7zm.3-.5h7v7h-7zm.2-.4h7v7h-7zm.3-.5h7v7h-7zm.3-.5h7v7h-7zm.3-.5h7v7h-7zm.3-.4h7v7h-7zm.2-.5h7v7h-7zm.3-.5h7v7h-7zm.3-.4h7v7h-7zm.3-.5h7v7h-7zm.2-.5h7v7h-7zm.3-.4h7v7h-7zm.3-.5h7v7h-7zm.3-.5h7v7h-7zm.2-.5h7v7h-7zm.3-.4h7v7h-7zm.3-.5h7v7h-7zm.3-.5h7v7h-7zm.2-.4h7v7h-7zm.3-.5h7v7h-7zm.3-.5h7v7h-7zm.3-.5h7v7h-7zm.2-.4h7v7h-7zm.3-.5h7v7h-7zm.3-.5h7v7h-7zm.3-.5h7v7h-7zm.2-.4h7v7h-7zm.3-.5h7v7h-7zm.3-.5h7v7h-7zm.3-.4h7v7h-7zm.3-.5h7v7h-7zm.2-.5h7v7h-7zm.3-.5h7v7h-7zm.3-.4h7v7h-7zm.3-.5h7v7h-7zm.2-.5h7v7h-7zm.3-.5h7v7h-7zm.3-.4h7v7h-7zm.3-.5h7v7h-7zm.2-.5h7v7h-7zm.3-.5h7v7h-7zm.3-.4h7v7h-7zm.3-.5h7v7h-7zm.2-.5h7v7h-7zm.3-.4h7v7h-7zm.3-.5h7v7h-7zm.3-.5h7v7h-7zm.2-.5h7v7h-7zm.3-.4h7v7h-7zm.3-.5h7v7h-7zm.3-.5h7v7h-7zm.2-.5h7v7h-7zm.3-.4h7v7h-7zm.3-.5h7v7h-7zm.3-.5h7v7h-7zm.3-.5h7v7h-7zm.2-.5h7v7h-7zm.3-.4h7v7h-7zm.3-.5h7v7h-7zm.3-.5h7v7h-7zm.2-.5h7v7h-7zm.3-.4h7v7h-7zm.3-.5h7v7h-7zm.3-.5h7v7h-7zm.2-.5h7v7h-7zm.3-.4h7v7h-7zm.3-.5h7v7h-7zm.3-.5h7v7h-7zm.2-.5h7v7h-7zm.3-.4h7v7h-7zm.3-.5h7v7h-7zm.3-.5h7v7h-7zm.2-.5h7v7h-7zm.3-.5h7v7h-7zm.3-.4h7v7h-7zm.3-.5h7v7h-7zm.2-.5h7v7h-7zm.3-.5h7v7h-7zm.3-.5h7v7h-7zm.3-.4h7v7h-7zm.2-.5h7v7h-7zm.3-.5h7v7h-7zm.3-.5h7v7h-7zm.3-.4h7v7h-7zm.3-.5h7v7h-7zm.2-.5h7v7h-7zm.3-.5h7v7h-7zm.3-.5h7v7h-7zm.3-.4h7v7h-7zm.2-.5h7v7h-7zm.3-.5h7v7h-7zm.3-.5h7v7h-7zm.3-.5h7v7h-7zm.2-.4h7v7h-7zm.3-.5h7v7h-7zm.3-.5h7v7h-7zm.3-.5h7v7h-7zm.2-.5h7v7h-7zm.3-.4h7v7h-7zm.3-.5h7v7h-7zm.3-.5h7v7h-7zm.2-.5h7v7h-7zm.3-.5h7v7h-7zm.3-.5h7v7h-7zm.3-.4h7v7h-7zm.2-.5h7v7h-7zm.3-.5h7v7h-7zm.3-.5h7v7h-7zm.3-.5h7v7h-7zm.3-.4h7v7h-7zm.2-.5h7v7h-7zm.3-.5h7v7h-7zm.3-.5h7v7h-7zm.3-.5h7v7h-7zm.2-.5h7v7h-7zm.3-.4h7v7h-7zm.3-.5h7v7h-7zm.3-.5h7v7h-7zm.2-.5h7v7h-7zm.3-.5h7v7h-7zm.3-.5h7v7h-7zm.3-.4h7v7h-7zm.2-.5h7v7h-7zm.3-.5h7v7h-7zm.3-.5h7v7h-7zm.3-.5h7v7h-7zm.2-.5h7v7h-7zm.3-.4h7v7h-7zm.3-.5h7v7h-7zm.3-.5h7v7h-7zm.2-.5h7v7h-7zm.3-.5h7v7h-7zm.3-.5h7v7h-7zm.3-.4h7v7h-7zm.3-.5h7v7h-7zm.2-.5h7v7h-7zm.3-.5h7v7h-7zm.3-.5h7v7h-7zm.3-.5h7v7h-7zm.2-.5h7v7h-7zm.3-.4h7v7h-7zm.3-.5h7v7h-7zm.3-.5h7v7h-7zm.2-.5h7v7h-7zm.3-.5h7v7h-7zm.3-.5h7v7h-7zm.3-.5h7v7h-7zm.2-.4h7v7h-7zm.3-.5h7v7h-7zm.3-.5h7v7h-7zm.3-.5h7v7h-7zm.2-.5h7v7h-7zm.3-.5h7v7h-7zm.3-.5h7v7h-7zm.3-.5h7v7h-7zm.2-.4h7v7h-7zm.3-.5h7v7h-7zm.3-.5h7v7h-7zm.3-.5h7v7h-7zm.3-.5h7v7h-7zm.2-.5h7v7h-7zm.3-.5h7v7h-7zm.3-.5h7v7h-7zm.3-.4h7v7h-7zm.2-.5h7v7h-7zm.3-.5h7v7h-7zm.3-.5h7v7h-7zm.3-.5h7v7h-7zm.2-.5h7v7h-7zm.3-.5h7v7h-7zm.3-.5h7v7h-7zm.3-.5h7v7h-7zm.2-.4h7v7h-7zm.3-.5h7v7h-7zm.3-.5h7v7h-7zm.3-.5h7v7h-7zm.2-.5h7v7h-7zm.3-.5h7v7h-7zm.3-.5h7v7h-7zm.3-.5h7v7h-7zm.2-.5h7v7h-7zm.3-.5h7v7h-7zm.3-.4h7v7h-7zm.3-.5h7v7h-7zm.3-.5h7v7h-7zm.2-.5h7v7h-7zm.3-.5h7v7h-7zm.3-.5h7v7h-7zm.3-.5h7v7h-7zm.2-.5h7v7h-7zm.3-.5h7v7h-7zm.3-.5h7v7h-7zm.3-.5h7v7h-7zm.2-.4h7v7h-7zm.3-.5h7v7h-7zm.3-.5h7v7h-7zm.3-.5h7v7h-7zm.2-.5h7v7h-7zm.3-.5h7v7h-7zm.3-.5h7v7h-7zm.3-.5h7v7h-7zm.2-.5h7v7h-7zm.3-.5h7v7h-7zm.3-.5h7v7h-7zm.3-.5h7v7h-7zm.2-.5h7v7h-7zm.3-.4h7v7h-7zm.3-.5h7v7h-7zm.3-.5h7v7h-7zm.3-.5h7v7h-7zm.2-.5h7v7h-7zm.3-.5h7v7h-7zm.3-.5h7v7h-7zm.3-.5h7v7h-7zm.2-.5h7v7h-7zm.3-.5h7v7h-7zm.3-.5h7v7h-7zm.3-.5h7v7h-7zm.2-.5h7v7h-7zm.3-.5h7v7h-7zm.3-.5h7v7h-7zm.3-.5h7v7h-7zm.2-.5h7v7h-7zm.3-.4h7v7h-7zm.3-.5h7v7h-7zm.3-.5h7v7h-7zm.2-.5h7v7h-7zm.3-.5h7v7h-7zm.3-.5h7v7h-7zm.3-.5h7v7h-7zm.2-.5h7v7h-7zm.3-.5h7v7h-7zm.3-.5h7v7h-7zm.3-.5h7v7h-7zm.2-.5h7v7h-7zm.3-.5h7v7h-7zm.3-.5h7v7h-7zm.3-.5h7v7h-7zm.3-.5h7v7h-7zm.2-.5h7v7h-7zm.3-.5h7v7h-7zm.3-.5h7v7h-7zm.3-.5h7v7h-7zm.2-.5h7v7h-7zm.3-.5h7v7h-7zm.3-.5h7v7h-7zm.3-.5h7v7h-7zm.2-.5h7v7h-7zm.3-.5h7v7h-7zm.3-.5h7v7h-7zm.3-.5h7v7h-7zm.2-.5h7v7h-7zm.3-.5h7v7h-7zm.3-.5h7v7h-7zm.3-.5h7v7h-7zm.2-.5h7v7h-7zm.3-.5h7v7h-7zm.3-.5h7v7h-7zm.3-.4h7v7h-7zm.2-.5h7v7h-7zm.3-.5h7v7h-7zm.3-.5h7v7h-7zm.3-.5h7v7h-7zm.3-.5h7v7h-7zm.2-.5h7v7h-7zm.3-.5h7v7h-7zm.3-.5h7v7h-7zm.3-.5h7v7h-7zm.2-.5h7v7h-7zm.3-.5h7v7h-7zm.3-.5h7v7h-7zm.3-.5h7v7h-7zm.2-.6h7v7h-7zm.3-.5h7v7h-7zm.3-.5h7v7h-7zm.3-.5h7v7h-7zm.2-.5h7v7h-7zm.3-.5h7v7h-7zm.3-.5h7v7h-7zm.3-.5h7v7h-7zm.2-.5h7v7h-7zm.3-.5h7v7h-7zm.3-.5h7v7h-7zm.3-.5h7v7h-7zm.2-.5h7v7h-7zm.3-.5h7v7h-7zm.3-.5h7v7h-7zm.3-.5h7v7h-7zm.3-.5h7v7h-7zm.2-.5h7v7h-7zm.3-.5h7v7h-7zm.3-.5h7v7h-7zm.3-.5h7v7h-7zm.2-.5h7v7h-7zm.3-.5h7v7h-7zm.3-.5h7v7h-7zm.3-.5h7v7h-7zm.2-.5h7v7h-7zm.3-.5h7v7h-7zm.3-.5h7v7h-7zm.3-.5h7v7h-7zm.2-.5h7v7h-7zm.3-.5h7v7h-7zm.3-.5h7v7h-7zm.3-.5h7v7h-7zm.2-.5h7v7h-7zm.3-.5h7v7h-7zm.3-.6h7v7h-7zm.3-.5h7v7h-7zm.2-.5h7v7h-7zm.3-.5h7v7h-7zm.4-.4h6.8v6.8h-6.8z" stroke="#000000"/>
<rect x="111.30" y="51.35" width="276.40" height="464.95" stroke="#000" stroke-width="1.4" fill="none"/>
<text x="101.5" y="57.3" font-size="16" text-anchor="end">0.005</text>
<text x="101.5" y="103.9" font-size="16" text-anchor="end">0.0045</text>
<text x="101.5" y="150.4" font-size="16" text-anchor="end">0.004</text>
<text x="101.5" y="197" font-size="16" text-anchor="end">0.0035</text>
<text x="101.5" y="243.5" font-size="16" text-anchor="end">0.003</text>
<text x="101.5" y="290.1" font-size="16" text-anchor="end">0.0025</text>
<text x="101.5" y="336.6" font-size="16" text-anchor="end">0.002</text>
<text x="101.5" y="383.2" font-size="16" text-anchor="end">0.0015</text>
<text x="101.5" y="429.7" font-size="16" text-anchor="end">0.001</text>
<text x="101.5" y="476.3" font-size="16" text-anchor="end">0.0005</text>
<text x="113.7" y="537.8" font-size="16" text-anchor="middle">0</text>
<text x="141.3" y="537.8" font-size="16" text-anchor="middle">0.1</text>
<text x="168.9" y="537.8" font-size="16" text-anchor="middle">0.2</text>
<text x="196.5" y="537.8" font-size="16" text-anchor="middle">0.3</text>
<text x="224.1" y="537.8" font-size="16" text-anchor="middle">0.4</text>
<text x="251.7" y="537.8" font-size="16" text-anchor="middle">0.5</text>
<text x="279.3" y="537.8" font-size="16" text-anchor="middle">0.6</text>
<text x="306.9" y="537.8" font-size="16" text-anchor="middle">0.7</text>
<text x="334.5" y="537.8" font-size="16" text-anchor="middle">0.8</text>
<text x="362.1" y="537.8" font-size="16" text-anchor="middle">0.9</text>
<text x="389.7" y="537.8" font-size="16" text-anchor="middle">1</text>
<text x="178.8" y="72.5" font-size="16" text-anchor="end">NH +-+</text>
<path class="m" d="M208 66.5h8m-4.5-3.5v8" stroke="#00ff00"/>
<text x="178.8" y="88.5" font-size="16" text-anchor="end">NH +++</text>
<path class="m" d="M208 79l8 8m0-8l-8 8" stroke="#ff0000"/>
<text x="178.8" y="104.5" font-size="16" text-anchor="end">IH +-+</text>
<path class="m" d="M208 98.5h8m-4.5-3.5v8m-3.5-8l8 8m0-8l-8 8" stroke="#0000ff"/>
<text x="178.8" y="120.5" font-size="16" text-anchor="end">IH +++</text>
<path class="m" d="M208.5 111.5h7v7h-7zM211.4 114.8h.7" stroke="#000000"/>
<text transform="translate(24.1 315.5) rotate(-90)" font-size="24"><tspan font-size="21.5">Δ</tspan><tspan dx="-0.6">m</tspan><tspan dy="-11" dx="-1.2" font-size="18">2</tspan><tspan dy="17.9" font-size="18">21</tspan></text>
<text x="240.7" y="561.5" font-size="24">f<tspan dy="7.3" font-size="19.2">g</tspan></text>
<path d="M545.50 123V516.5M573.50 123V516.5M602.50 123V516.5M630.50 123V516.5M659.50 51.5V516.5M688.50 51.5V516.5M716.50 51.5V516.5M745.50 51.5V516.5M773.50 51.5V516.5M650 103.50H802.5M516.5 154.50H802.5M516.5 206.50H802.5M516.5 258.50H802.5M516.5 309.50H802.5M516.5 361.50H802.5M516.5 413.50H802.5M516.5 464.50H802.5" stroke="#000" stroke-width="1" stroke-dasharray="1 2.5" stroke-opacity="0.55" fill="none"/>
<path d="M545.10 516.5v-7.6M545.10 51.5v7.6M573.70 516.5v-7.6M573.70 51.5v7.6M602.30 516.5v-7.6M602.30 51.5v7.6M630.90 516.5v-7.6M630.90 51.5v7.6M659.50 516.5v-7.6M659.50 51.5v7.6M688.10 516.5v-7.6M688.10 51.5v7.6M716.70 516.5v-7.6M716.70 51.5v7.6M745.30 516.5v-7.6M745.30 51.5v7.6M773.90 516.5v-7.6M773.90 51.5v7.6M516.5 103.17h7.6M802.5 103.17h-7.6M516.5 154.83h7.6M802.5 154.83h-7.6M516.5 206.50h7.6M802.5 206.50h-7.6M516.5 258.17h7.6M802.5 258.17h-7.6M516.5 309.84h7.6M802.5 309.84h-7.6M516.5 361.50h7.6M802.5 361.50h-7.6M516.5 413.17h7.6M802.5 413.17h-7.6M516.5 464.84h7.6M802.5 464.84h-7.6M516.5 516.50h7.6M802.5 516.50h-7.6" stroke="#000" stroke-width="1.25" fill="none"/>
<path class="b" d="M513.2 442h7.2m-4.1-3.1v7.2m-2.8-4.2h7.2m-4.1-3.1v7.2m-2.8-4.3h7.2m-4.1-3.1v7.2m-2.8-4.2h7.2m-4.1-3.1v7.2m-2.9-4.2h7.2m-4.1-3.1v7.2m-2.8-4.3h7.2m-4.1-3.1v7.2m-2.8-4.2h7.2m-4.1-3.1v7.2m-2.8-4.3h7.2m-4.1-3.1v7.2m-2.8-4.2h7.2m-4.1-3.1v7.2m-2.8-4.2h7.2m-4.1-3.1v7.2m-2.8-4.3h7.2m-4.1-3.1v7.2m-2.9-4.2h7.2m-4.1-3.1v7.2m-2.8-4.2h7.2m-4.1-3.1v7.2m-2.8-4.3h7.2m-4.1-3.1v7.2m-2.8-4.2h7.2m-4.1-3.1v7.2m-2.8-4.3h7.2m-4.1-3.1v7.2m-2.8-4.2h7.2m-4.1-3.1v7.2m-2.8-4.2h7.2m-4.1-3.1v7.2m-2.9-4.3h7.2m-4.1-3.1v7.2m-2.8-4.2h7.2m-4.1-3.1v7.2m-2.8-4.3h7.2m-4.1-3.1v7.2m-2.8-4.2h7.2m-4.1-3.1v7.2m-2.8-4.2h7.2m-4.1-3.1v7.2m-2.8-4.3h7.2m-4.1-3.1v7.2m-2.8-4.2h7.2m-4.1-3.1v7.2m-2.9-4.2h7.2m-4.1-3.1v7.2m-2.8-4.3h7.2m-4.1-3.1v7.2m-2.8-4.2h7.2m-4.1-3.1v7.2m-2.8-4.3h7.2m-4.1-3.1v7.2m-2.8-4.2h7.2m-4.1-3.1v7.2m-2.8-4.2h7.2m-4.1-3.1v7.2m-2.8-4.3h7.2m-4.1-3.1v7.2m-2.8-4.2h7.2m-4.1-3.1v7.2m-2.9-4.3h7.2m-4.1-3.1v7.2m-2.8-4.2h7.2m-4.1-3.1v7.2m-2.8-4.2h7.2m-4.1-3.1v7.2m-2.8-4.3h7.2m-4.1-3.1v7.2m-2.8-4.2h7.2m-4.1-3.1v7.2m-2.8-4.2h7.2m-4.1-3.1v7.2m-2.8-4.3h7.2m-4.1-3.1v7.2m-2.9-4.2h7.2m-4.1-3.1v7.2m-2.8-4.3h7.2m-4.1-3.1v7.2m-2.8-4.2h7.2m-4.1-3.1v7.2m-2.8-4.2h7.2m-4.1-3.1v7.2m-2.8-4.3h7.2m-4.1-3.1v7.2m-2.8-4.2h7.2m-4.1-3.1v7.2m-2.8-4.3h7.2m-4.1-3.1v7.2m-2.9-4.2h7.2m-4.1-3.1v7.2m-2.8-4.2h7.2m-4.1-3.1v7.2m-2.8-4.3h7.2m-4.1-3.1v7.2m-2.8-4.2h7.2m-4.1-3.1v7.2m-2.8-4.3h7.2m-4.1-3.1v7.2m-2.8-4.2h7.2m-4.1-3.1v7.2m-2.8-4.2h7.2m-4.1-3.1v7.2m-2.9-4.3h7.2m-4.1-3.1v7.2m-2.8-4.2h7.2m-4.1-3.1v7.2m-2.8-4.3h7.2m-4.1-3.1v7.2m-2.8-4.2h7.2m-4.1-3.1v7.2m-2.8-4.2h7.2m-4.1-3.1v7.2m-2.8-4.3h7.2m-4.1-3.1v7.2m-2.8-4.2h7.2m-4.1-3.1v7.2m-2.9-4.3h7.2m-4.1-3.1v7.2m-2.8-4.2h7.2m-4.1-3.1v7.2m-2.8-4.3h7.2m-4.1-3.1v7.2m-2.8-4.2h7.2m-4.1-3.1v7.2m-2.8-4.2h7.2m-4.1-3.1v7.2m-2.8-4.3h7.2m-4.1-3.1v7.2m-2.8-4.2h7.2m-4.1-3.1v7.2m-2.9-4.3h7.2m-4.1-3.1v7.2m-2.8-4.2h7.2m-4.1-3.1v7.2m-2.8-4.2h7.2m-4.1-3.1v7.2m-2.8-4.3h7.2m-4.1-3.1v7.2m-2.8-4.2h7.2m-4.1-3.1v7.2m-2.8-4.3h7.2m-4.1-3.1v7.2m-2.8-4.2h7.2m-4.1-3.1v7.2m-2.9-4.2h7.2m-4.1-3.1v7.2m-2.8-4.3h7.2m-4.1-3.1v7.2m-2.8-4.2h7.2m-4.1-3.1v7.2m-2.8-4.3h7.2m-4.1-3.1v7.2m-2.8-4.2h7.2m-4.1-3.1v7.2m-2.8-4.3h7.2m-4.1-3.1v7.2m-2.8-4.2h7.2m-4.1-3.1v7.2m-2.8-4.2h7.2m-4.1-3.1v7.2m-2.9-4.3h7.2m-4.1-3.1v7.2m-2.8-4.2h7.2m-4.1-3.1v7.2m-2.8-4.3h7.2m-4.1-3.1v7.2m-2.8-4.2h7.2m-4.1-3.1v7.2m-2.8-4.3h7.2m-4.1-3.1v7.2m-2.8-4.2h7.2m-4.1-3.1v7.2m-2.8-4.2h7.2m-4.1-3.1v7.2m-2.9-4.3h7.2m-4.1-3.1v7.2m-2.8-4.2h7.2m-4.1-3.1v7.2m-2.8-4.3h7.2m-4.1-3.1v7.2m-2.8-4.2h7.2m-4.1-3.1v7.2m-2.8-4.2h7.2m-4.1-3.1v7.2m-2.8-4.3h7.2m-4.1-3.1v7.2m-2.8-4.2h7.2m-4.1-3.1v7.2m-2.9-4.3h7.2m-4.1-3.1v7.2m-2.8-4.2h7.2m-4.1-3.1v7.2m-2.8-4.3h7.2m-4.1-3.1v7.2m-2.8-4.2h7.2m-4.1-3.1v7.2m-2.8-4.2h7.2m-4.1-3.1v7.2m-2.8-4.3h7.2m-4.1-3.1v7.2m-2.8-4.2h7.2m-4.1-3.1v7.2m-2.9-4.3h7.2m-4.1-3.1v7.2m-2.8-4.2h7.2m-4.1-3.1v7.2m-2.8-4.3h7.2m-4.1-3.1v7.2m-2.8-4.2h7.2m-4.1-3.1v7.2m-2.8-4.3h7.2m-4.1-3.1v7.2m-2.8-4.2h7.2m-4.1-3.1v7.2m-2.8-4.2h7.2m-4.1-3.1v7.2m-2.9-4.3h7.2m-4.1-3.1v7.2m-2.8-4.2h7.2m-4.1-3.1v7.2m-2.8-4.3h7.2m-4.1-3.1v7.2m-2.8-4.2h7.2m-4.1-3.1v7.2m-2.8-4.3h7.2m-4.1-3.1v7.2m-2.8-4.2h7.2m-4.1-3.1v7.2m-2.8-4.2h7.2m-4.1-3.1v7.2m-2.9-4.3h7.2m-4.1-3.1v7.2m-2.8-4.2h7.2m-4.1-3.1v7.2m-2.8-4.3h7.2m-4.1-3.1v7.2m-2.8-4.2h7.2m-4.1-3.1v7.2m-2.8-4.3h7.2m-4.1-3.1v7.2m-2.8-4.2h7.2m-4.1-3.1v7.2m-2.8-4.3h7.2m-4.1-3.1v7.2m-2.9-4.2h7.2m-4.1-3.1v7.2m-2.8-4.2h7.2m-4.1-3.1v7.2m-2.8-4.3h7.2m-4.1-3.1v7.2m-2.8-4.2h7.2m-4.1-3.1v7.2m-2.8-4.3h7.2m-4.1-3.1v7.2m-2.8-4.2h7.2m-4.1-3.1v7.2m-2.8-4.3h7.2m-4.1-3.1v7.2m-2.8-4.2h7.2m-4.1-3.1v7.2m-2.9-4.3h7.2m-4.1-3.1v7.2m-2.8-4.2h7.2m-4.1-3.1v7.2m-2.8-4.2h7.2m-4.1-3.1v7.2m-2.8-4.3h7.2m-4.1-3.1v7.2m-2.8-4.2h7.2m-4.1-3.1v7.2m-2.8-4.3h7.2m-4.1-3.1v7.2m-2.8-4.2h7.2m-4.1-3.1v7.2m-2.9-4.3h7.2m-4.1-3.1v7.2m-2.8-4.2h7.2m-4.1-3.1v7.2m-2.8-4.3h7.2m-4.1-3.1v7.2m-2.8-4.2h7.2m-4.1-3.1v7.2m-2.8-4.2h7.2m-4.1-3.1v7.2m-2.8-4.3h7.2m-4.1-3.1v7.2m-2.8-4.2h7.2m-4.1-3.1v7.2m-2.9-4.3h7.2m-4.1-3.1v7.2m-2.8-4.2h7.2m-4.1-3.1v7.2m-2.8-4.3h7.2m-4.1-3.1v7.2m-2.8-4.2h7.2m-4.1-3.1v7.2m-2.8-4.3h7.2m-4.1-3.1v7.2m-2.8-4.2h7.2m-4.1-3.1v7.2m-2.8-4.3h7.2m-4.1-3.1v7.2m-2.9-4.2h7.2m-4.1-3.1v7.2m-2.8-4.2h7.2m-4.1-3.1v7.2m-2.8-4.3h7.2m-4.1-3.1v7.2m-2.8-4.2h7.2m-4.1-3.1v7.2m-2.8-4.3h7.2m-4.1-3.1v7.2m-2.8-4.2h7.2m-4.1-3.1v7.2m-2.8-4.3h7.2m-4.1-3.1v7.2m-2.9-4.2h7.2m-4.1-3.1v7.2m-2.8-4.3h7.2m-4.1-3.1v7.2m-2.8-4.2h7.2m-4.1-3.1v7.2m-2.8-4.3h7.2m-4.1-3.1v7.2m-2.8-4.2h7.2m-4.1-3.1v7.2m-2.8-4.3h7.2m-4.1-3.1v7.2m-2.8-4.2h7.2m-4.1-3.1v7.2m-2.9-4.2h7.2m-4.1-3.1v7.2m-2.8-4.3h7.2m-4.1-3.1v7.2m-2.8-4.2h7.2m-4.1-3.1v7.2m-2.8-4.3h7.2m-4.1-3.1v7.2m-2.8-4.2h7.2m-4.1-3.1v7.2m-2.8-4.3h7.2m-4.1-3.1v7.2m-2.8-4.2h7.2m-4.1-3.1v7.2m-2.9-4.3h7.2m-4.1-3.1v7.2m-2.8-4.2h7.2m-4.1-3.1v7.2m-2.8-4.3h7.2m-4.1-3.1v7.2m-2.8-4.2h7.2m-4.1-3.1v7.2m-2.8-4.3h7.2m-4.1-3.1v7.2m-2.8-4.2h7.2m-4.1-3.1v7.2m-2.8-4.2h7.2m-4.1-3.1v7.2m-2.9-4.3h7.2m-4.1-3.1v7.2m-2.8-4.2h7.2m-4.1-3.1v7.2m-2.8-4.3h7.2m-4.1-3.1v7.2m-2.8-4.2h7.2m-4.1-3.1v7.2m-2.8-4.3h7.2m-4.1-3.1v7.2m-2.8-4.2h7.2m-4.1-3.1v7.2m-2.8-4.3h7.2m-4.1-3.1v7.2m-2.8-4.2h7.2m-4.1-3.1v7.2m-2.9-4.3h7.2m-4.1-3.1v7.2m-2.8-4.2h7.2m-4.1-3.1v7.2m-2.8-4.3h7.2m-4.1-3.1v7.2m-2.8-4.2h7.2m-4.1-3.1v7.2m-2.8-4.3h7.2m-4.1-3.1v7.2m-2.8-4.2h7.2m-4.1-3.1v7.2m-2.8-4.2h7.2m-4.1-3.1v7.2m-2.9-4.3h7.2m-4.1-3.1v7.2m-2.8-4.2h7.2m-4.1-3.1v7.2m-2.8-4.3h7.2m-4.1-3.1v7.2m-2.8-4.2h7.2m-4.1-3.1v7.2m-2.8-4.3h7.2m-4.1-3.1v7.2m-2.8-4.2h7.2m-4.1-3.1v7.2m-2.8-4.3h7.2m-4.1-3.1v7.2m-2.9-4.2h7.2m-4.1-3.1v7.2m-2.8-4.3h7.2m-4.1-3.1v7.2m-2.8-4.2h7.2m-4.1-3.1v7.2m-2.8-4.3h7.2m-4.1-3.1v7.2m-2.8-4.2h7.2m-4.1-3.1v7.2m-2.8-4.3h7.2m-4.1-3.1v7.2m-2.8-4.2h7.2m-4.1-3.1v7.2m-2.9-4.2h7.2m-4.1-3.1v7.2m-2.8-4.3h7.2m-4.1-3.1v7.2m-2.8-4.2h7.2m-4.1-3.1v7.2m-2.8-4.3h7.2m-4.1-3.1v7.2m-2.8-4.2h7.2m-4.1-3.1v7.2m-2.8-4.3h7.2m-4.1-3.1v7.2m-2.8-4.2h7.2m-4.1-3.1v7.2m-2.9-4.3h7.2m-4.1-3.1v7.2m-2.8-4.2h7.2m-4.1-3.1v7.2m-2.8-4.2h7.2m-4.1-3.1v7.2m-2.8-4.3h7.2m-4.1-3.1v7.2m-2.8-4.2h7.2m-4.1-3.1v7.2m-2.8-4.3h7.2m-4.1-3.1v7.2m-2.8-4.2h7.2m-4.1-3.1v7.2m-2.9-4.3h7.2m-4.1-3.1v7.2m-2.8-4.2h7.2m-4.1-3.1v7.2m-2.8-4.3h7.2m-4.1-3.1v7.2m-2.8-4.2h7.2m-4.1-3.1v7.2m-2.8-4.2h7.2m-4.1-3.1v7.2m-2.8-4.3h7.2m-4.1-3.1v7.2m-2.8-4.2h7.2m-4.1-3.1v7.2m-2.9-4.3h7.2m-4.1-3.1v7.2m-2.8-4.2h7.2m-4.1-3.1v7.2m-2.8-4.3h7.2m-4.1-3.1v7.2m-2.8-4.2h7.2m-4.1-3.1v7.2m-2.8-4.2h7.2m-4.1-3.1v7.2m-2.8-4.3h7.2m-4.1-3.1v7.2m-2.8-4.2h7.2m-4.1-3.1v7.2m-2.8-4.3h7.2m-4.1-3.1v7.2m-2.9-4.2h7.2m-4.1-3.1v7.2m-2.8-4.3h7.2m-4.1-3.1v7.2m-2.8-4.2h7.2m-4.1-3.1v7.2m-2.8-4.2h7.2m-4.1-3.1v7.2m-2.8-4.3h7.2m-4.1-3.1v7.2m-2.8-4.2h7.2m-4.1-3.1v7.2m-2.8-4.3h7.2m-4.1-3.1v7.2m-2.9-4.2h7.2m-4.1-3.1v7.2m-2.8-4.3h7.2m-4.1-3.1v7.2m-2.8-4.2h7.2m-4.1-3.1v7.2m-2.8-4.2h7.2m-4.1-3.1v7.2m-2.8-4.3h7.2m-4.1-3.1v7.2m-2.8-4.2h7.2m-4.1-3.1v7.2m-2.8-4.3h7.2m-4.1-3.1v7.2m-2.9-4.2h7.2m-4.1-3.1v7.2m-2.8-4.2h7.2m-4.1-3.1v7.2m-2.8-4.3h7.2m-4.1-3.1v7.2m-2.8-4.2h7.2m-4.1-3.1v7.2m-2.8-4.3h7.2m-4.1-3.1v7.2m-2.8-4.2h7.2m-4.1-3.1v7.2m-2.8-4.3h7.2m-4.1-3.1v7.2m-2.9-4.2h7.2m-4.1-3.1v7.2m-2.8-4.2h7.2m-4.1-3.1v7.2m-2.8-4.3h7.2m-4.1-3.1v7.2m-2.8-4.2h7.2m-4.1-3.1v7.2m-2.8-4.3h7.2m-4.1-3.1v7.2m-2.8-4.2h7.2m-4.1-3.1v7.2m-2.8-4.3h7.2m-4.1-3.1v7.2m-2.9-4.2h7.2m-4.1-3.1v7.2m-2.8-4.2h7.2m-4.1-3.1v7.2m-2.8-4.3h7.2m-4.1-3.1v7.2m-2.8-4.2h7.2m-4.1-3.1v7.2m-2.8-4.3h7.2m-4.1-3.1v7.2m-2.8-4.2h7.2m-4.1-3.1v7.2m-2.8-4.3h7.2m-4.1-3.1v7.2m-2.9-4.2h7.2m-4.1-3.1v7.2m-2.8-4.2h7.2m-4.1-3.1v7.2m-2.8-4.3h7.2m-4.1-3.1v7.2m-2.8-4.2h7.2m-4.1-3.1v7.2m-2.8-4.3h7.2m-4.1-3.1v7.2m-2.8-4.2h7.2m-4.1-3.1v7.2m-2.8-4.3h7.2m-4.1-3.1v7.2m-2.9-4.2h7.2m-4.1-3.1v7.2m-2.8-4.2h7.2m-4.1-3.1v7.2m-2.8-4.3h7.2m-4.1-3.1v7.2m-2.8-4.2h7.2m-4.1-3.1v7.2m-2.8-4.3h7.2m-4.1-3.1v7.2m-2.8-4.2h7.2m-4.1-3.1v7.2m-2.8-4.3h7.2m-4.1-3.1v7.2m-2.9-4.2h7.2m-4.1-3.1v7.2m-2.8-4.2h7.2m-4.1-3.1v7.2m-2.8-4.3h7.2m-4.1-3.1v7.2m-2.8-4.2h7.2m-4.1-3.1v7.2m-2.8-4.3h7.2m-4.1-3.1v7.2m-2.8-4.2h7.2m-4.1-3.1v7.2m-2.8-4.3h7.2m-4.1-3.1v7.2m-2.8-4.2h7.2m-4.1-3.1v7.2m-2.9-4.3h7.2m-4.1-3.1v7.2m-2.8-4.2h7.2m-4.1-3.1v7.2m-2.8-4.2h7.2m-4.1-3.1v7.2m-2.8-4.3h7.2m-4.1-3.1v7.2m-2.8-4.2h7.2m-4.1-3.1v7.2m-2.8-4.3h7.2m-4.1-3.1v7.2m-2.8-4.2h7.2m-4.1-3.1v7.2m-2.9-4.3h7.2m-4.1-3.1v7.2m-2.8-4.2h7.2m-4.1-3.1v7.2m-2.8-4.3h7.2m-4.1-3.1v7.2m-2.8-4.2h7.2m-4.1-3.1v7.2m-2.8-4.3h7.2m-4.1-3.1v7.2m-2.8-4.2h7.2m-4.1-3.1v7.2m-2.8-4.2h7.2m-4.1-3.1v7.2m-2.9-4.3h7.2m-4.1-3.1v7.2m-2.8-4.2h7.2m-4.1-3.1v7.2m-2.8-4.3h7.2m-4.1-3.1v7.2m-2.8-4.2h7.2m-4.1-3.1v7.2m-2.8-4.3h7.2m-4.1-3.1v7.2m-2.8-4.2h7.2m-4.1-3.1v7.2m-2.8-4.3h7.2m-4.1-3.1v7.2m-2.9-4.2h7.2m-4.1-3.1v7.2m-2.8-4.3h7.2m-4.1-3.1v7.2m-2.8-4.2h7.2m-4.1-3.1v7.2m-2.8-4.2h7.2m-4.1-3.1v7.2m-2.8-4.3h7.2m-4.1-3.1v7.2m-2.8-4.2h7.2m-4.1-3.1v7.2m-2.8-4.3h7.2m-4.1-3.1v7.2m-2.9-4.2h7.2m-4.1-3.1v7.2m-2.8-4.3h7.2m-4.1-3.1v7.2m-2.8-4.2h7.2m-4.1-3.1v7.2m-2.8-4.3h7.2m-4.1-3.1v7.2m-2.8-4.2h7.2m-4.1-3.1v7.2m-2.8-4.3h7.2m-4.1-3.1v7.2m-2.8-4.2h7.2m-4.1-3.1v7.2m-2.9-4.2h7.2m-4.1-3.1v7.2m-2.8-4.3h7.2m-4.1-3.1v7.2m-2.8-4.2h7.2m-4.1-3.1v7.2m-2.8-4.3h7.2m-4.1-3.1v7.2m-2.8-4.2h7.2m-4.1-3.1v7.2m-2.8-4.3h7.2m-4.1-3.1v7.2m-2.8-4.2h7.2m-4.1-3.1v7.2m-2.9-4.3h7.2m-4.1-3.1v7.2m-2.8-4.2h7.2m-4.1-3.1v7.2m-2.8-4.3h7.2m-4.1-3.1v7.2m-2.8-4.2h7.2m-4.1-3.1v7.2m-2.8-4.2h7.2m-4.1-3.1v7.2m-2.8-4.3h7.2m-4.1-3.1v7.2m-2.8-4.2h7.2m-4.1-3.1v7.2m-2.8-4.3h7.2m-4.1-3.1v7.2m-2.9-4.2h7.2m-4.1-3.1v7.2m-2.8-4.3h7.2m-4.1-3.1v7.2m-2.8-4.2h7.2m-4.1-3.1v7.2m-2.8-4.3h7.2m-4.1-3.1v7.2m-2.8-4.2h7.2m-4.1-3.1v7.2m-2.8-4.3h7.2m-4.1-3.1v7.2m-2.8-4.2h7.2m-4.1-3.1v7.2m-2.9-4.2h7.2m-4.1-3.1v7.2m-2.8-4.3h7.2m-4.1-3.1v7.2m-2.8-4.2h7.2m-4.1-3.1v7.2m-2.8-4.3h7.2m-4.1-3.1v7.2m-2.8-4.2h7.2m-4.1-3.1v7.2m-2.8-4.3h7.2m-4.1-3.1v7.2m-2.8-4.2h7.2m-4.1-3.1v7.2m-2.9-4.3h7.2m-4.1-3.1v7.2m-2.8-4.2h7.2m-4.1-3.1v7.2m-2.8-4.3h7.2m-4.1-3.1v7.2m-2.8-4.2h7.2m-4.1-3.1v7.2m-2.8-4.3h7.2m-4.1-3.1v7.2m-2.8-4.2h7.2m-4.1-3.1v7.2m-2.8-4.2h7.2m-4.1-3.1v7.2m-2.9-4.3h7.2m-4.1-3.1v7.2m-2.8-4.2h7.2m-4.1-3.1v7.2m-2.8-4.3h7.2m-4.1-3.1v7.2m-2.8-4.2h7.2m-4.1-3.1v7.2m-2.8-4.3h7.2m-4.1-3.1v7.2m-2.8-4.2h7.2m-4.1-3.1v7.2m-2.8-4.3h7.2m-4.1-3.1v7.2m-2.9-4.2h7.2m-4.1-3.1v7.2m-2.8-4.3h7.2m-4.1-3.1v7.2m-2.8-4.2h7.2m-4.1-3.1v7.2m-2.8-4.2h7.2m-4.1-3.1v7.2m-2.8-4.3h7.2m-4.1-3.1v7.2m-2.8-4.2h7.2m-4.1-3.1v7.2m-2.8-4.3h7.2m-4.1-3.1v7.2m-2.9-4.2h7.2m-4.1-3.1v7.2m-2.8-4.3h7.2m-4.1-3.1v7.2m-2.8-4.2h7.2m-4.1-3.1v7.2m-2.8-4.3h7.2m-4.1-3.1v7.2m-2.8-4.2h7.2m-4.1-3.1v7.2m-2.8-4.3h7.2m-4.1-3.1v7.2m-2.8-4.2h7.2m-4.1-3.1v7.2m-2.9-4.3h7.2m-4.1-3.1v7.2m-2.8-4.2h7.2m-4.1-3.1v7.2m-2.8-4.3h7.2m-4.1-3.1v7.2m-2.8-4.2h7.2m-4.1-3.1v7.2m-2.8-4.2h7.2m-4.1-3.1v7.2m-2.8-4.3h7.2m-4.1-3.1v7.2m-2.8-4.2h7.2m-4.1-3.1v7.2m-2.8-4.3h7.2m-4.1-3.1v7.2m-2.9-4.2h7.2m-4.1-3.1v7.2m-2.8-4.3h7.2m-4.1-3.1v7.2m-2.8-4.2h7.2m-4.1-3.1v7.2m-2.8-4.3h7.2m-4.1-3.1v7.2m-2.8-4.2h7.2m-4.1-3.1v7.2m-2.8-4.3h7.2m-4.1-3.1v7.2m-2.8-4.2h7.2m-4.1-3.1v7.2m-2.9-4.3h7.2m-4.1-3.1v7.2m-2.8-4.2h7.2m-4.1-3.1v7.2m-2.8-4.2h7.2m-4.1-3.1v7.2m-2.8-4.3h7.2m-4.1-3.1v7.2m-2.8-4.2h7.2m-4.1-3.1v7.2m-2.8-4.3h7.2m-4.1-3.1v7.2m-2.8-4.2h7.2m-4.1-3.1v7.2m-2.9-4.3h7.2m-4.1-3.1v7.2m-2.8-4.2h7.2m-4.1-3.1v7.2m-2.8-4.3h7.2m-4.1-3.1v7.2m-2.8-4.2h7.2m-4.1-3.1v7.2m-2.8-4.3h7.2m-4.1-3.1v7.2m-2.8-4.2h7.2m-4.1-3.1v7.2m-2.8-4.3h7.2m-4.1-3.1v7.2m-2.9-4.2h7.2m-4.1-3.1v7.2m-2.8-4.2h7.2m-4.1-3.1v7.2m-2.8-4.3h7.2m-4.1-3.1v7.2m-2.8-4.2h7.2m-4.1-3.1v7.2m-2.8-4.3h7.2m-4.1-3.1v7.2m-2.8-4.2h7.2m-4.1-3.1v7.2m-2.8-4.3h7.2m-4.1-3.1v7.2m-2.9-4.2h7.2m-4.1-3.1v7.2m-2.8-4.3h7.2m-4.1-3.1v7.2m-2.8-4.2h7.2m-4.1-3.1v7.2m-2.8-4.3h7.2m-4.1-3.1v7.2m-2.8-4.2h7.2m-4.1-3.1v7.2m-2.8-4.3h7.2m-4.1-3.1v7.2m-2.8-4.2h7.2m-4.1-3.1v7.2m-2.9-4.3h7.2m-4.1-3.1v7.2m-2.8-4.2h7.2m-4.1-3.1v7.2m-2.8-4.2h7.2m-4.1-3.1v7.2m-2.8-4.3h7.2m-4.1-3.1v7.2m-2.8-4.2h7.2m-4.1-3.1v7.2m-2.8-4.3h7.2m-4.1-3.1v7.2m-2.8-4.2h7.2m-4.1-3.1v7.2m-2.9-4.3h7.2m-4.1-3.1v7.2m-2.8-4.2h7.2m-4.1-3.1v7.2m-2.8-4.3h7.2m-4.1-3.1v7.2m-2.8-4.2h7.2m-4.1-3.1v7.2m-2.8-4.3h7.2m-4.1-3.1v7.2m-2.8-4.2h7.2m-4.1-3.1v7.2m-2.8-4.3h7.2m-4.1-3.1v7.2m-2.9-4.2h7.2m-4.1-3.1v7.2m-2.8-4.2h7.2m-4.1-3.1v7.2m-2.8-4.3h7.2m-4.1-3.1v7.2m-2.8-4.2h7.2m-4.1-3.1v7.2m-2.8-4.3h7.2m-4.1-3.1v7.2m-2.8-4.2h7.2m-4.1-3.1v7.2m-2.8-4.3h7.2m-4.1-3.1v7.2m-2.8-4.2h7.2m-4.1-3.1v7.2m-2.9-4.3h7.2m-4.1-3.1v7.2m-2.8-4.2h7.2m-4.1-3.1v7.2m-2.8-4.3h7.2m-4.1-3.1v7.2m-2.8-4.2h7.2m-4.1-3.1v7.2m-2.8-4.3h7.2m-4.1-3.1v7.2m-2.8-4.2h7.2m-4.1-3.1v7.2m-2.8-4.2h7.2m-4.1-3.1v7.2m-2.9-4.3h7.2m-4.1-3.1v7.2m-2.8-4.2h7.2m-4.1-3.1v7.2m-2.8-4.3h7.2m-4.1-3.1v7.2m-2.8-4.2h7.2m-4.1-3.1v7.2m-2.8-4.3h7.2m-4.1-3.1v7.2m-2.8-4.2h7.2m-4.1-3.1v7.2m-2.8-4.3h7.2m-4.1-3.1v7.2m-2.9-4.2h7.2m-4.1-3.1v7.2m-2.8-4.3h7.2m-4.1-3.1v7.2m-2.8-4.2h7.2m-4.1-3.1v7.2m-2.8-4.3h7.2m-4.1-3.1v7.2m-2.8-4.2h7.2m-4.1-3.1v7.2m-2.8-4.2h7.2m-4.1-3.1v7.2m-2.8-4.3h7.2m-4.1-3.1v7.2m-2.9-4.2h7.2m-4.1-3.1v7.2m-2.8-4.3h7.2m-4.1-3.1v7.2m-2.8-4.2h7.2m-4.1-3.1v7.2m-2.8-4.3h7.2m-4.1-3.1v7.2m-2.8-4.2h7.2m-4.1-3.1v7.2m-2.8-4.3h7.2m-4.1-3.1v7.2m-2.8-4.2h7.2m-4.1-3.1v7.2m-2.9-4.3h7.2m-4.1-3.1v7.2m-2.8-4.2h7.2m-4.1-3.1v7.2m-2.8-4.3h7.2m-4.1-3.1v7.2m-2.8-4.2h7.2m-4.1-3.1v7.2m-2.8-4.2h7.2m-4.1-3.1v7.2m-2.8-4.3h7.2m-4.1-3.1v7.2m-2.8-4.2h7.2m-4.1-3.1v7.2m-2.9-4.3h7.2m-4.1-3.1v7.2m-2.8-4.2h7.2m-4.1-3.1v7.2m-2.8-4.3h7.2m-4.1-3.1v7.2m-2.8-4.2h7.2m-4.1-3.1v7.2m-2.8-4.3h7.2m-4.1-3.1v7.2m-2.8-4.2h7.2m-4.1-3.1v7.2m-2.8-4.3h7.2m-4.1-3.1v7.2m-2.9-4.2h7.2m-4.1-3.1v7.2m-2.8-4.2h7.2m-4.1-3.1v7.2m-2.8-4.3h7.2m-4.1-3.1v7.2m-2.8-4.2h7.2m-4.1-3.1v7.2m-2.8-4.3h7.2m-4.1-3.1v7.2m-2.8-4.2h7.2m-4.1-3.1v7.2m-2.8-4.3h7.2m-4.1-3.1v7.2m-2.8-4.2h7.2m-4.1-3.1v7.2m-2.9-4.3h7.2m-4.1-3.1v7.2m-2.8-4.2h7.2m-4.1-3.1v7.2m-2.8-4.3h7.2m-4.1-3.1v7.2m-2.8-4.2h7.2m-4.1-3.1v7.2m-2.8-4.2h7.2m-4.1-3.1v7.2m-2.8-4.3h7.2m-4.1-3.1v7.2m-2.8-4.2h7.2m-4.1-3.1v7.2m-2.9-4.3h7.2m-4.1-3.1v7.2m-2.8-4.2h7.2m-4.1-3.1v7.2m-2.8-4.3h7.2m-4.1-3.1v7.2m-2.8-4.2h7.2m-4.1-3.1v7.2m-2.8-4.3h7.2m-4.1-3.1v7.2m-2.8-4.2h7.2m-4.1-3.1v7.2m-2.8-4.2h7.2m-4.1-3.1v7.2m-2.9-4.3h7.2m-4.1-3.1v7.2m-2.8-4.2h7.2m-4.1-3.1v7.2m-2.8-4.3h7.2m-4.1-3.1v7.2m-2.8-4.2h7.2m-4.1-3.1v7.2m-2.8-4.3h7.2m-4.1-3.1v7.2m-2.8-4.2h7.2m-4.1-3.1v7.2m-2.8-4.3h7.2m-4.1-3.1v7.2m-2.9-4.2h7.2m-4.1-3.1v7.2m-2.8-4.3h7.2m-4.1-3.1v7.2m-2.8-4.2h7.2m-4.1-3.1v7.2m-2.8-4.2h7.2m-4.1-3.1v7.2m-2.8-4.3h7.2m-4.1-3.1v7.2m-2.8-4.2h7.2m-4.1-3.1v7.2m-2.8-4.3h7.2m-4.1-3.1v7.2m-2.9-4.2h7.2m-4.1-3.1v7.2m-2.8-4.3h7.2m-4.1-3.1v7.2m-2.8-4.2h7.2m-4.1-3.1v7.2m-2.8-4.3h7.2m-4.1-3.1v7.2m-2.8-4.2h7.2m-4.1-3.1v7.2m-2.8-4.3h7.2m-4.1-3.1v7.2m-2.8-4.2h7.2m-4.1-3.1v7.2m-2.9-4.2h7.2m-4.1-3.1v7.2m-2.8-4.3h7.2m-4.1-3.1v7.2m-2.8-4.2h7.2m-4.1-3.1v7.2m-2.8-4.3h7.2m-4.1-3.1v7.2m-2.8-4.2h7.2m-4.1-3.1v7.2m-2.8-4.3h7.2m-4.1-3.1v7.2m-2.8-4.2h7.2m-4.1-3.1v7.2m-2.9-4.3h7.2m-4.1-3.1v7.2m-2.8-4.2h7.2m-4.1-3.1v7.2m-2.8-4.2h7.2m-4.1-3.1v7.2m-2.8-4.3h7.2m-4.1-3.1v7.2m-2.8-4.2h7.2m-4.1-3.1v7.2m-2.8-4.3h7.2m-4.1-3.1v7.2m-2.8-4.2h7.2m-4.1-3.1v7.2m-2.8-4.3h7.2m-4.1-3.1v7.2m-2.9-4.2h7.2m-4.1-3.1v7.2m-2.8-4.3h7.2m-4.1-3.1v7.2m-2.8-4.2h7.2m-4.1-3.1v7.2m-2.8-4.2h7.2m-4.1-3.1v7.2m-2.8-4.3h7.2m-4.1-3.1v7.2m-2.8-4.2h7.2m-4.1-3.1v7.2m-2.8-4.3h7.2m-4.1-3.1v7.2m-2.9-4.2h7.2m-4.1-3.1v7.2m-2.8-4.3h7.2m-4.1-3.1v7.2m-2.8-4.2h7.2m-4.1-3.1v7.2m-2.8-4.2h7.2m-4.1-3.1v7.2m-2.8-4.3h7.2m-4.1-3.1v7.2m-2.8-4.2h7.2m-4.1-3.1v7.2m-2.8-4.3h7.2m-4.1-3.1v7.2m-2.9-4.2h7.2m-4.1-3.1v7.2m-2.8-4.3h7.2m-4.1-3.1v7.2m-2.8-4.2h7.2m-4.1-3.1v7.2m-2.8-4.2h7.2m-4.1-3.1v7.2m-2.8-4.3h7.2m-4.1-3.1v7.2m-2.8-4.2h7.2m-4.1-3.1v7.2m-2.8-4.3h7.2m-4.1-3.1v7.2m-2.9-4.2h7.2m-4.1-3.1v7.2m-2.8-4.3h7.2m-4.1-3.1v7.2m-2.8-4.2h7.2m-4.1-3.1v7.2m-2.8-4.2h7.2m-4.1-3.1v7.2m-2.8-4.3h7.2m-4.1-3.1v7.2m-2.8-4.2h7.2m-4.1-3.1v7.2m-2.8-4.3h7.2m-4.1-3.1v7.2m-2.9-4.2h7.2m-4.1-3.1v7.2m-2.8-4.3h7.2m-4.1-3.1v7.2m-2.8-4.2h7.2m-4.1-3.1v7.2m-2.8-4.2h7.2m-4.1-3.1v7.2m-2.8-4.3h7.2m-4.1-3.1v7.2m-2.8-4.2h7.2m-4.1-3.1v7.2m-2.8-4.3h7.2m-4.1-3.1v7.2m-2.9-4.2h7.2m-4.1-3.1v7.2m-2.8-4.3h7.2m-4.1-3.1v7.2m-2.8-4.2h7.2m-4.1-3.1v7.2m-2.8-4.2h7.2m-4.1-3.1v7.2m-2.8-4.3h7.2m-4.1-3.1v7.2m-2.8-4.2h7.2m-4.1-3.1v7.2m-2.8-4.3h7.2m-4.1-3.1v7.2m-2.9-4.2h7.2m-4.1-3.1v7.2m-2.8-4.2h7.2m-4.1-3.1v7.2m-2.8-4.3h7.2m-4.1-3.1v7.2m-2.8-4.2h7.2m-4.1-3.1v7.2m-2.8-4.3h7.2m-4.1-3.1v7.2m-2.8-4.2h7.2m-4.1-3.1v7.2m-2.8-4.2h7.2m-4.1-3.1v7.2m-2.9-4.3h7.2m-4.1-3.1v7.2m-2.8-4.2h7.2m-4.1-3.1v7.2m-2.8-4.3h7.2m-4.1-3.1v7.2m-2.8-4.2h7.2m-4.1-3.1v7.2m-2.8-4.2h7.2m-4.1-3.1v7.2m-2.8-4.3h7.2m-4.1-3.1v7.2m-2.8-4.2h7.2m-4.1-3.1v7.2m-2.8-4.3h7.2m-4.1-3.1v7.2m-2.9-4.2h7.2m-4.1-3.1v7.2m-2.8-4.2h7.2m-4.1-3.1v7.2m-2.8-4.3h7.2m-4.1-3.1v7.2m-2.8-4.2h7.2m-4.1-3.1v7.2m-2.8-4.3h7.2m-4.1-3.1v7.2m-2.8-4.2h7.2m-4.1-3.1v7.2m-2.8-4.2h7.2m-4.1-3.1v7.2m-2.9-4.3h7.2m-4.1-3.1v7.2m-2.8-4.2h7.2m-4.1-3.1v7.2m-2.8-4.2h7.2m-4.1-3.1v7.2m-2.8-4.3h7.2m-4.1-3.1v7.2m-2.8-4.2h7.2m-4.1-3.1v7.2m-2.8-4.3h7.2m-4.1-3.1v7.2m-2.8-4.2h7.2m-4.1-3.1v7.2m-2.9-4.2h7.2m-4.1-3.1v7.2m-2.8-4.3h7.2m-4.1-3.1v7.2m-2.8-4.2h7.2m-4.1-3.1v7.2m-2.8-4.2h7.2m-4.1-3.1v7.2m-2.8-4.3h7.2m-4.1-3.1v7.2m-2.8-4.2h7.2m-4.1-3.1v7.2m-2.8-4.2h7.2m-4.1-3.1v7.2m-2.9-4.3h7.2m-4.1-3.1v7.2m-2.8-4.2h7.2m-4.1-3.1v7.2m-2.8-4.3h7.2m-4.1-3.1v7.2m-2.8-4.2h7.2m-4.1-3.1v7.2m-2.8-4.2h7.2m-4.1-3.1v7.2m-2.8-4.3h7.2m-4.1-3.1v7.2m-2.8-4.2h7.2m-4.1-3.1v7.2m-2.9-4.2h7.2m-4.1-3.1v7.2m-2.8-4.3h7.2m-4.1-3.1v7.2m-2.8-4.2h7.2m-4.1-3.1v7.2m-2.8-4.2h7.2m-4.1-3.1v7.2m-2.8-4.3h7.2m-4.1-3.1v7.2m-2.8-4.2h7.2m-4.1-3.1v7.2m-2.8-4.2h7.2m-4.1-3.1v7.2m-2.9-4.3h7.2m-4.1-3.1v7.2m-2.8-4.2h7.2m-4.1-3.1v7.2m-2.8-4.2h7.2m-4.1-3.1v7.2m-2.8-4.3h7.2m-4.1-3.1v7.2m-2.8-4.2h7.2m-4.1-3.1v7.2m-2.8-4.2h7.2m-4.1-3.1v7.2m-2.8-4.3h7.2m-4.1-3.1v7.2m-2.9-4.2h7.2m-4.1-3.1v7.2m-2.8-4.2h7.2m-4.1-3.1v7.2m-2.8-4.3h7.2m-4.1-3.1v7.2m-2.8-4.2h7.2m-4.1-3.1v7.2m-2.8-4.2h7.2m-4.1-3.1v7.2m-2.8-4.3h7.2m-4.1-3.1v7.2m-2.8-4.2h7.2m-4.1-3.1v7.2m-2.8-4.2h7.2m-4.1-3.1v7.2m-2.9-4.3h7.2m-4.1-3.1v7.2m-2.8-4.2h7.2m-4.1-3.1v7.2m-2.8-4.2h7.2m-4.1-3.1v7.2m-2.8-4.3h7.2m-4.1-3.1v7.2m-2.8-4.2h7.2m-4.1-3.1v7.2m-2.8-4.2h7.2m-4.1-3.1v7.2m-2.8-4.3h7.2m-4.1-3.1v7.2m-2.9-4.2h7.2m-4.1-3.1v7.2m-2.8-4.2h7.2m-4.1-3.1v7.2m-2.8-4.3h7.2m-4.1-3.1v7.2m-2.8-4.2h7.2m-4.1-3.1v7.2m-2.8-4.2h7.2m-4.1-3.1v7.2m-2.8-4.3h7.2m-4.1-3.1v7.2m-2.8-4.2h7.2m-4.1-3.1v7.2m-2.9-4.2h7.2m-4.1-3.1v7.2m-2.8-4.3h7.2m-4.1-3.1v7.2m-2.8-4.2h7.2m-4.1-3.1v7.2m-2.8-4.2h7.2m-4.1-3.1v7.2m-2.8-4.3h7.2m-4.1-3.1v7.2m-2.8-4.2h7.2m-4.1-3.1v7.2m-2.8-4.2h7.2m-4.1-3.1v7.2m-2.9-4.3h7.2m-4.1-3.1v7.2m-2.8-4.2h7.2m-4.1-3.1v7.2m-2.8-4.2h7.2m-4.1-3.1v7.2m-2.8-4.3h7.2m-4.1-3.1v7.2m-2.8-4.2h7.2m-4.1-3.1v7.2m-2.8-4.2h7.2m-4.1-3.1v7.2m-2.8-4.3h7.2m-4.1-3.1v7.2m-2.9-4.2h7.2m-4.1-3.1v7.2m-2.8-4.2h7.2m-4.1-3.1v7.2m-2.8-4.3h7.2m-4.1-3.1v7.2m-2.8-4.2h7.2m-4.1-3.1v7.2m-2.8-4.2h7.2m-4.1-3.1v7.2m-2.8-4.3h7.2m-4.1-3.1v7.2m-2.8-4.2h7.2m-4.1-3.1v7.2m-2.9-4.2h7.2m-4.1-3.1v7.2m-2.8-4.3h7.2m-4.1-3.1v7.2m-2.8-4.2h7.2m-4.1-3.1v7.2m-2.8-4.2h7.2m-4.1-3.1v7.2m-2.8-4.3h7.2m-4.1-3.1v7.2m-2.8-4.2h7.2m-4.1-3.1v7.2m-2.8-4.2h7.2m-4.1-3.1v7.2m-2.9-4.3h7.2m-4.1-3.1v7.2m-2.8-4.2h7.2m-4.1-3.1v7.2m-2.8-4.2h7.2m-4.1-3.1v7.2m-2.8-4.3h7.2m-4.1-3.1v7.2m-2.8-4.2h7.2m-4.1-3.1v7.2m-2.8-4.2h7.2m-4.1-3.1v7.2m-2.8-4.3h7.2m-4.1-3.1v7.2m-2.8-4.2h7.2m-4.1-3.1v7.2m-2.9-4.2h7.2m-4.1-3.1v7.2m-2.8-4.3h7.2m-4.1-3.1v7.2m-2.8-4.2h7.2m-4.1-3.1v7.2m-2.8-4.2h7.2m-4.1-3.1v7.2m-2.8-4.3h7.2m-4.1-3.1v7.2m-2.8-4.2h7.2m-4.1-3.1v7.2m-2.8-4.2h7.2m-4.1-3.1v7.2m-2.9-4.3h7.2m-4.1-3.1v7.2m-2.8-4.2h7.2m-4.1-3.1v7.2m-2.8-4.2h7.2m-4.1-3.1v7.2m-2.8-4.3h7.2m-4.1-3.1v7.2m-2.8-4.2h7.2m-4.1-3.1v7.2m-2.8-4.2h7.2m-4.1-3.1v7.2m-2.8-4.3h7.2m-4.1-3.1v7.2m-2.9-4.2h7.2m-4.1-3.1v7.2m-2.8-4.2h7.2m-4.1-3.1v7.2m-2.8-4.2h7.2m-4.1-3.1v7.2m-2.8-4.3h7.2m-4.1-3.1v7.2m-2.8-4.2h7.2m-4.1-3.1v7.2m-2.8-4.2h7.2m-4.1-3.1v7.2m-2.8-4.3h7.2m-4.1-3.1v7.2m-2.9-4.2h7.2m-4.1-3.1v7.2m-2.8-4.2h7.2m-4.1-3.1v7.2m-2.8-4.3h7.2m-4.1-3.1v7.2m-2.8-4.2h7.2m-4.1-3.1v7.2m-2.8-4.2h7.2m-4.1-3.1v7.2m-2.8-4.3h7.2m-4.1-3.1v7.2m-2.8-4.2h7.2m-4.1-3.1v7.2m-2.9-4.2h7.2m-4.1-3.1v7.2m-2.8-4.3h7.2m-4.1-3.1v7.2m-2.8-4.2h7.2m-4.1-3.1v7.2m-2.8-4.2h7.2m-4.1-3.1v7.2m-2.8-4.2h7.2m-4.1-3.1v7.2m-2.8-4.3h7.2m-4.1-3.1v7.2m-2.8-4.2h7.2m-4.1-3.1v7.2m-2.9-4.2h7.2m-4.1-3.1v7.2m-2.8-4.3h7.2m-4.1-3.1v7.2m-2.8-4.2h7.2m-4.1-3.1v7.2m-2.8-4.2h7.2m-4.1-3.1v7.2m-2.8-4.3h7.2m-4.1-3.1v7.2m-2.8-4.2h7.2m-4.1-3.1v7.2m-2.8-4.2h7.2m-4.1-3.1v7.2m-2.9-4.2h7.2m-4.1-3.1v7.2m-2.8-4.3h7.2m-4.1-3.1v7.2m-2.8-4.2h7.2m-4.1-3.1v7.2m-2.8-4.2h7.2m-4.1-3.1v7.2m-2.8-4.3h7.2m-4.1-3.1v7.2m-2.8-4.2h7.2m-4.1-3.1v7.2m-2.8-4.2h7.2m-4.1-3.1v7.2m-2.9-4.3h7.2m-4.1-3.1v7.2m-2.8-4.2h7.2m-4.1-3.1v7.2m-2.8-4.2h7.2m-4.1-3.1v7.2m-2.8-4.2h7.2m-4.1-3.1v7.2m-2.8-4.3h7.2m-4.1-3.1v7.2m-2.8-4.2h7.2m-4.1-3.1v7.2m-2.8-4.2h7.2m-4.1-3.1v7.2m-2.8-4.3h7.2m-4.1-3.1v7.2m-2.9-4.2h7.2m-4.1-3.1v7.2m-2.8-4.2h7.2m-4.1-3.1v7.2m-2.8-4.2h7.2m-4.1-3.1v7.2m-2.8-4.3h7.2m-4.1-3.1v7.2m-2.8-4.2h7.2m-4.1-3.1v7.2m-2.8-4.2h7.2m-4.1-3.1v7.2m-2.8-4.3h7.2m-4.1-3.1v7.2m-2.9-4.2h7.2m-4.1-3.1v7.2m-2.8-4.2h7.2m-4.1-3.1v7.2m-2.8-4.2h7.2m-4.1-3.1v7.2m-2.8-4.3h7.2m-4.1-3.1v7.2m-2.8-4.2h7.2m-4.1-3.1v7.2m-2.8-4.2h7.2m-4.1-3.1v7.2m-2.8-4.3h7.2m-4.1-3.1v7.2m-2.9-4.2h7.2m-4.1-3.1v7.2m-2.8-4.2h7.2m-4.1-3.1v7.2m-2.8-4.2h7.2m-4.1-3.1v7.2m-2.8-4.3h7.2m-4.1-3.1v7.2m-2.8-4.2h7.2m-4.1-3.1v7.2m-2.8-4.2h7.2m-4.1-3.1v7.2m-2.8-4.3h7.2m-4.1-3.1v7.2m-2.9-4.2h7.2m-4.1-3.1v7.2m-2.8-4.2h7.2m-4.1-3.1v7.2m-2.8-4.2h7.2m-4.1-3.1v7.2m-2.8-4.3h7.2m-4.1-3.1v7.2m-2.8-4.2h7.2m-4.1-3.1v7.2m-2.8-4.2h7.2m-4.1-3.1v7.2m-2.8-4.3h7.2m-4.1-3.1v7.2m-2.9-4.2h7.2m-4.1-3.1v7.2m-2.8-4.2h7.2m-4.1-3.1v7.2m-2.8-4.2h7.2m-4.1-3.1v7.2m-2.8-4.3h7.2m-4.1-3.1v7.2m-2.8-4.2h7.2m-4.1-3.1v7.2m-2.8-4.2h7.2m-4.1-3.1v7.2m-2.8-4.3h7.2m-4.1-3.1v7.2m-2.9-4.2h7.2m-4.1-3.1v7.2m-2.8-4.2h7.2m-4.1-3.1v7.2m-2.8-4.2h7.2m-4.1-3.1v7.2m-2.8-4.3h7.2m-4.1-3.1v7.2m-2.8-4.2h7.2m-4.1-3.1v7.2m-2.8-4.2h7.2m-4.1-3.1v7.2m-2.8-4.3h7.2m-4.1-3.1v7.2m-2.9-4.2h7.2m-4.1-3.1v7.2m-2.8-4.2h7.2m-4.1-3.1v7.2m-2.8-4.2h7.2m-4.1-3.1v7.2m-2.8-4.3h7.2m-4.1-3.1v7.2m-2.8-4.2h7.2m-4.1-3.1v7.2m-2.8-4.2h7.2m-4.1-3.1v7.2m-2.8-4.2h7.2m-4.1-3.1v7.2m-2.8-4.3h7.2m-4.1-3.1v7.2m-2.9-4.2h7.2m-4.1-3.1v7.2m-2.8-4.2h7.2m-4.1-3.1v7.2m-2.8-4.3h7.2m-4.1-3.1v7.2m-2.8-4.2h7.2m-4.1-3.1v7.2m-2.8-4.2h7.2m-4.1-3.1v7.2m-2.8-4.2h7.2m-4.1-3.1v7.2m-2.8-4.3h7.2m-4.1-3.1v7.2m-2.9-4.2h7.2m-4.1-3.1v7.2m-2.8-4.2h7.2m-4.1-3.1v7.2m-2.8-4.3h7.2m-4.1-3.1v7.2m-2.8-4.2h7.2m-4.1-3.1v7.2m-2.8-4.2h7.2m-4.1-3.1v7.2m-2.8-4.2h7.2m-4.1-3.1v7.2m-2.8-4.3h7.2m-4.1-3.1v7.2m-2.9-4.2h7.2m-4.1-3.1v7.2m-2.8-4.2h7.2m-4.1-3.1v7.2m-2.8-4.2h7.2m-4.1-3.1v7.2m-2.8-4.3h7.2m-4.1-3.1v7.2m-2.8-4.2h7.2m-4.1-3.1v7.2m-2.8-4.2h7.2m-4.1-3.1v7.2m-2.8-4.3h7.2m-4.1-3.1v7.2m-2.9-4.2h7.2m-4.1-3.1v7.2m-2.8-4.2h7.2m-4.1-3.1v7.2m-2.8-4.3h7.2m-4.1-3.1v7.2m-2.8-4.2h7.2m-4.1-3.1v7.2m-2.8-4.2h7.2m-4.1-3.1v7.2m-2.8-4.2h7.2m-4.1-3.1v7.2m-2.8-4.3h7.2m-4.1-3.1v7.2m-2.9-4.2h7.2m-4.1-3.1v7.2m-2.8-4.2h7.2m-4.1-3.1v7.2m-2.8-4.3h7.2m-4.1-3.1v7.2m-2.8-4.2h7.2m-4.1-3.1v7.2m-2.8-4.2h7.2m-4.1-3.1v7.2m-2.8-4.3h7.2m-4.1-3.1v7.2m-2.8-4.2h7.2m-4.1-3.1v7.2m-2.9-4.2h7.2m-4.1-3.1v7.2m-2.8-4.3h7.2m-4.1-3.1v7.2m-2.8-4.2h7.2m-4.1-3.1v7.2m-2.8-4.2h7.2m-4.1-3.1v7.2m-2.8-4.3h7.2m-4.1-3.1v7.2m-2.8-4.2h7.2m-4.1-3.1v7.2m-2.8-4.2h7.2m-4.1-3.1v7.2m-2.9-4.3h7.2m-4.1-3.1v7.2m-2.8-4.2h7.2m-4.1-3.1v7.2m-2.8-4.2h7.2m-4.1-3.1v7.2m-2.8-4.3h7.2m-4.1-3.1v7.2m-2.8-4.2h7.2m-4.1-3.1v7.2m-2.8-4.3h7.2m-4.1-3.1v7.2m-2.8-4.2h7.2m-4.1-3.1v7.2m-2.9-4.2h7.2m-4.1-3.1v7.2m-2.8-4.3h7.2m-4.1-3.1v7.2m-2.8-4.2h7.2m-4.1-3.1v7.2m-2.8-4.2h7.2m-4.1-3.1v7.2m-2.8-4.3h7.2m-4.1-3.1v7.2m-2.8-4.2h7.2m-4.1-3.1v7.2m-2.8-4.2h7.2m-4.1-3.1v7.2m-2.8-4.3h7.2m-4.1-3.1v7.2m-2.9-4.2h7.2m-4.1-3.1v7.2m-2.8-4.2h7.2m-4.1-3.1v7.2m-2.8-4.3h7.2m-4.1-3.1v7.2m-2.8-4.2h7.2m-4.1-3.1v7.2m-2.8-4.3h7.2m-4.1-3.1v7.2m-2.8-4.2h7.2m-4.1-3.1v7.2m-2.8-4.2h7.2m-4.1-3.1v7.2m-2.9-4.3h7.2m-4.1-3.1v7.2m-2.8-4.2h7.2m-4.1-3.1v7.2m-2.8-4.2h7.2m-4.1-3.1v7.2m-2.8-4.3h7.2m-4.1-3.1v7.2m-2.8-4.2h7.2m-4.1-3.1v7.2m-2.8-4.2h7.2m-4.1-3.1v7.2m-2.8-4.3h7.2m-4.1-3.1v7.2m-2.9-4.2h7.2m-4.1-3.1v7.2m-2.8-4.2h7.2m-4.1-3.1v7.2m-2.8-4.3h7.2m-4.1-3.1v7.2m-2.8-4.2h7.2m-4.1-3.1v7.2m-2.8-4.2h7.2m-4.1-3.1v7.2m-2.8-4.3h7.2m-4.1-3.1v7.2m-2.8-4.2h7.2m-4.1-3.1v7.2m-2.9-4.3h7.2m-4.1-3.1v7.2m-2.8-4.2h7.2m-4.1-3.1v7.2m-2.8-4.2h7.2m-4.1-3.1v7.2m-2.8-4.3h7.2m-4.1-3.1v7.2m-2.8-4.2h7.2m-4.1-3.1v7.2m-2.8-4.2h7.2m-4.1-3.1v7.2m-2.8-4.3h7.2m-4.1-3.1v7.2m-2.9-4.2h7.2m-4.1-3.1v7.2m-2.8-4.2h7.2m-4.1-3.1v7.2m-2.8-4.3h7.2m-4.1-3.1v7.2m-2.8-4.2h7.2m-4.1-3.1v7.2m-2.8-4.2h7.2m-4.1-3.1v7.2m-2.8-4.3h7.2m-4.1-3.1v7.2m-2.8-4.2h7.2m-4.1-3.1v7.2m-2.9-4.3h7.2m-4.1-3.1v7.2m-2.8-4.2h7.2m-4.1-3.1v7.2m-2.8-4.2h7.2m-4.1-3.1v7.2m-2.8-4.3h7.2m-4.1-3.1v7.2m-2.8-4.2h7.2m-4.1-3.1v7.2m-2.8-4.3h7.2m-4.1-3.1v7.2m-2.8-4.2h7.2m-4.1-3.1v7.2m-2.9-4.2h7.2m-4.1-3.1v7.2m-2.8-4.3h7.2m-4.1-3.1v7.2m-2.8-4.2h7.2m-4.1-3.1v7.2m-2.8-4.3h7.2m-4.1-3.1v7.2m-2.8-4.2h7.2m-4.1-3.1v7.2m-2.8-4.2h7.2m-4.1-3.1v7.2m-2.8-4.3h7.2m-4.1-3.1v7.2m-2.8-4.2h7.2m-4.1-3.1v7.2m-2.9-4.3h7.2m-4.1-3.1v7.2m-2.8-4.2h7.2m-4.1-3.1v7.2m-2.8-4.3h7.2m-4.1-3.1v7.2m-2.8-4.2h7.2m-4.1-3.1v7.2m-2.8-4.2h7.2m-4.1-3.1v7.2m-2.8-4.3h7.2m-4.1-3.1v7.2m-2.8-4.2h7.2m-4.1-3.1v7.2m-2.9-4.3h7.2m-4.1-3.1v7.2m-2.8-4.2h7.2m-4.1-3.1v7.2m-2.8-4.2h7.2m-4.1-3.1v7.2m-2.8-4.3h7.2m-4.1-3.1v7.2m-2.8-4.2h7.2m-4.1-3.1v7.2m-2.8-4.3h7.2m-4.1-3.1v7.2m-2.8-4.2h7.2m-4.1-3.1v7.2m-2.9-4.2h7.2m-4.1-3.1v7.2m-2.8-4.3h7.2m-4.1-3.1v7.2m-2.8-4.2h7.2m-4.1-3.1v7.2m-2.8-4.3h7.2m-4.1-3.1v7.2m-2.8-4.2h7.2m-4.1-3.1v7.2m-2.8-4.2h7.2m-4.1-3.1v7.2m-2.8-4.3h7.2m-4.1-3.1v7.2m-2.9-4.2h7.2m-4.1-3.1v7.2m-2.8-4.3h7.2m-4.1-3.1v7.2m-2.8-4.2h7.2m-4.1-3.1v7.2m-2.8-4.2h7.2m-4.1-3.1v7.2m-2.8-4.3h7.2m-4.1-3.1v7.2m-2.8-4.2h7.2m-4.1-3.1v7.2m-2.8-4.2h7.2m-4.1-3.1v7.2m-2.9-4.3h7.2m-4.1-3.1v7.2m-2.8-4.2h7.2m-4.1-3.1v7.2m-2.8-4.2h7.2m-4.1-3.1v7.2m-2.8-4.3h7.2m-4.1-3.1v7.2m-2.8-4.2h7.2m-4.1-3.1v7.2m-2.8-4.2h7.2m-4.1-3.1v7.2m-2.8-4.3h7.2m-4.1-3.1v7.2m-2.9-4.2h7.2m-4.1-3.1v7.2m-2.8-4.2h7.2m-4.1-3.1v7.2m-2.8-4.3h7.2m-4.1-3.1v7.2m-2.8-4.2h7.2m-4.1-3.1v7.2m-2.8-4.2h7.2m-4.1-3.1v7.2m-2.8-4.3h7.2m-4.1-3.1v7.2m-2.8-4.2h7.2m-4.1-3.1v7.2m-2.9-4.2h7.2m-4.1-3.1v7.2m-2.8-4.3h7.2m-4.1-3.1v7.2m-2.8-4.2h7.2m-4.1-3.1v7.2m-2.8-4.2h7.2m-4.1-3.1v7.2m-2.8-4.3h7.2m-4.1-3.1v7.2m-2.8-4.2h7.2m-4.1-3.1v7.2m-2.8-4.2h7.2m-4.1-3.1v7.2m-2.8-4.3h7.2m-4.1-3.1v7.2m-2.9-4.2h7.2m-4.1-3.1v7.2m-2.8-4.2h7.2m-4.1-3.1v7.2m-2.8-4.2h7.2m-4.1-3.1v7.2m-2.8-4.3h7.2m-4.1-3.1v7.2m-2.8-4.2h7.2m-4.1-3.1v7.2m-2.8-4.2h7.2m-4.1-3.1v7.2m-2.8-4.3h7.2m-4.1-3.1v7.2m-2.9-4.2h7.2m-4.1-3.1v7.2m-2.8-4.2h7.2m-4.1-3.1v7.2m-2.8-4.3h7.2m-4.1-3.1v7.2m-2.8-4.2h7.2m-4.1-3.1v7.2m-2.8-4.2h7.2m-4.1-3.1v7.2m-2.8-4.2h7.2m-4.1-3.1v7.2m-2.8-4.3h7.2m-4.1-3.1v7.2m-2.9-4.2h7.2m-4.1-3.1v7.2m-2.8-4.2h7.2m-4.1-3.1v7.2m-2.8-4.3h7.2m-4.1-3.1v7.2m-2.8-4.2h7.2m-4.1-3.1v7.2m-2.8-4.2h7.2m-4.1-3.1v7.2m-2.8-4.2h7.2m-4.1-3.1v7.2m-2.8-4.3h7.2m-4.1-3.1v7.2m-2.9-4.2h7.2m-4.1-3.1v7.2m-2.8-4.2h7.2m-4.1-3.1v7.2m-2.8-4.2h7.2m-4.1-3.1v7.2m-2.8-4.3h7.2m-4.1-3.1v7.2" stroke="#00ff00"/>
<path class="b" d="M513.2 437.1l7.2 7.2m0-7.2l-7.2 7.2m.3-7.3l7.2 7.2m0-7.2l-7.2 7.2m.3-7.2l7.2 7.2m0-7.2l-7.2 7.2m.3-7.2l7.2 7.2m0-7.2l-7.2 7.2m.2-7.2l7.2 7.2m0-7.2l-7.2 7.2m.3-7.3l7.2 7.2m0-7.2l-7.2 7.2m.3-7.2l7.2 7.2m0-7.2l-7.2 7.2m.3-7.2l7.2 7.2m0-7.2l-7.2 7.2m.3-7.3l7.2 7.2m0-7.2l-7.2 7.2m.3-7.2l7.2 7.2m0-7.2l-7.2 7.2m.3-7.2l7.2 7.2m0-7.2l-7.2 7.2m.2-7.2l7.2 7.2m0-7.2l-7.2 7.2m.3-7.3l7.2 7.2m0-7.2l-7.2 7.2m.3-7.2l7.2 7.2m0-7.2l-7.2 7.2m.3-7.2l7.2 7.2m0-7.2l-7.2 7.2m.3-7.3l7.2 7.2m0-7.2l-7.2 7.2m.3-7.2l7.2 7.2m0-7.2l-7.2 7.2m.3-7.2l7.2 7.2m0-7.2l-7.2 7.2m.2-7.2l7.2 7.2m0-7.2l-7.2 7.2m.3-7.3l7.2 7.2m0-7.2l-7.2 7.2m.3-7.2l7.2 7.2m0-7.2l-7.2 7.2m.3-7.2l7.2 7.2m0-7.2l-7.2 7.2m.3-7.3l7.2 7.2m0-7.2l-7.2 7.2m.3-7.2l7.2 7.2m0-7.2l-7.2 7.2m.3-7.2l7.2 7.2m0-7.2l-7.2 7.2m.2-7.2l7.2 7.2m0-7.2l-7.2 7.2m.3-7.3l7.2 7.2m0-7.2l-7.2 7.2m.3-7.2l7.2 7.2m0-7.2l-7.2 7.2m.3-7.2l7.2 7.2m0-7.2l-7.2 7.2m.3-7.3l7.2 7.2m0-7.2l-7.2 7.2m.3-7.2l7.2 7.2m0-7.2l-7.2 7.2m.3-7.2l7.2 7.2m0-7.2l-7.2 7.2m.3-7.3l7.2 7.2m0-7.2l-7.2 7.2m.2-7.2l7.2 7.2m0-7.2l-7.2 7.2m.3-7.2l7.2 7.2m0-7.2l-7.2 7.2m.3-7.2l7.2 7.2m0-7.2l-7.2 7.2m.3-7.3l7.2 7.2m0-7.2l-7.2 7.2m.3-7.2l7.2 7.2m0-7.2l-7.2 7.2m.3-7.2l7.2 7.2m0-7.2l-7.2 7.2m.3-7.3l7.2 7.2m0-7.2l-7.2 7.2m.2-7.2l7.2 7.2m0-7.2l-7.2 7.2m.3-7.2l7.2 7.2m0-7.2l-7.2 7.2m.3-7.3l7.2 7.2m0-7.2l-7.2 7.2m.3-7.2l7.2 7.2m0-7.2l-7.2 7.2m.3-7.2l7.2 7.2m0-7.2l-7.2 7.2m.3-7.2l7.2 7.2m0-7.2l-7.2 7.2m.3-7.3l7.2 7.2m0-7.2l-7.2 7.2m.2-7.2l7.2 7.2m0-7.2l-7.2 7.2m.3-7.2l7.2 7.2m0-7.2l-7.2 7.2m.3-7.3l7.2 7.2m0-7.2l-7.2 7.2m.3-7.2l7.2 7.2m0-7.2l-7.2 7.2m.3-7.2l7.2 7.2m0-7.2l-7.2 7.2m.3-7.3l7.2 7.2m0-7.2l-7.2 7.2m.3-7.2l7.2 7.2m0-7.2l-7.2 7.2m.2-7.2l7.2 7.2m0-7.2l-7.2 7.2m.3-7.2l7.2 7.2m0-7.2l-7.2 7.2m.3-7.3l7.2 7.2m0-7.2l-7.2 7.2m.3-7.2l7.2 7.2m0-7.2l-7.2 7.2m.3-7.2l7.2 7.2m0-7.2l-7.2 7.2m.3-7.3l7.2 7.2m0-7.2l-7.2 7.2m.3-7.2l7.2 7.2m0-7.2l-7.2 7.2m.2-7.2l7.2 7.2m0-7.2l-7.2 7.2m.3-7.3l7.2 7.2m0-7.2l-7.2 7.2m.3-7.2l7.2 7.2m0-7.2l-7.2 7.2m.3-7.2l7.2 7.2m0-7.2l-7.2 7.2m.3-7.3l7.2 7.2m0-7.2l-7.2 7.2m.3-7.2l7.2 7.2m0-7.2l-7.2 7.2m.3-7.2l7.2 7.2m0-7.2l-7.2 7.2m.2-7.3l7.2 7.2m0-7.2l-7.2 7.2m.3-7.2l7.2 7.2m0-7.2l-7.2 7.2m.3-7.2l7.2 7.2m0-7.2l-7.2 7.2m.3-7.3l7.2 7.2m0-7.2l-7.2 7.2m.3-7.2l7.2 7.2m0-7.2l-7.2 7.2m.3-7.2l7.2 7.2m0-7.2l-7.2 7.2m.3-7.3l7.2 7.2m0-7.2l-7.2 7.2m.2-7.2l7.2 7.2m0-7.2l-7.2 7.2m.3-7.2l7.2 7.2m0-7.2l-7.2 7.2m.3-7.2l7.2 7.2m0-7.2l-7.2 7.2m.3-7.3l7.2 7.2m0-7.2l-7.2 7.2m.3-7.2l7.2 7.2m0-7.2l-7.2 7.2m.3-7.2l7.2 7.2m0-7.2l-7.2 7.2m.3-7.3l7.2 7.2m0-7.2l-7.2 7.2m.3-7.2l7.2 7.2m0-7.2l-7.2 7.2m.2-7.2l7.2 7.2m0-7.2l-7.2 7.2m.3-7.3l7.2 7.2m0-7.2l-7.2 7.2m.3-7.2l7.2 7.2m0-7.2l-7.2 7.2m.3-7.2l7.2 7.2m0-7.2l-7.2 7.2m.3-7.3l7.2 7.2m0-7.2l-7.2 7.2m.3-7.2l7.2 7.2m0-7.2l-7.2 7.2m.3-7.2l7.2 7.2m0-7.2l-7.2 7.2m.2-7.3l7.2 7.2m0-7.2l-7.2 7.2m.3-7.2l7.2 7.2m0-7.2l-7.2 7.2m.3-7.2l7.2 7.2m0-7.2l-7.2 7.2m.3-7.3l7.2 7.2m0-7.2l-7.2 7.2m.3-7.2l7.2 7.2m0-7.2l-7.2 7.2m.3-7.2l7.2 7.2m0-7.2l-7.2 7.2m.3-7.3l7.2 7.2m0-7.2l-7.2 7.2m.2-7.2l7.2 7.2m0-7.2l-7.2 7.2m.3-7.2l7.2 7.2m0-7.2l-7.2 7.2m.3-7.3l7.2 7.2m0-7.2l-7.2 7.2m.3-7.2l7.2 7.2m0-7.2l-7.2 7.2m.3-7.3l7.2 7.2m0-7.2l-7.2 7.2m.3-7.2l7.2 7.2m0-7.2l-7.2 7.2m.3-7.2l7.2 7.2m0-7.2l-7.2 7.2m.2-7.3l7.2 7.2m0-7.2l-7.2 7.2m.3-7.2l7.2 7.2m0-7.2l-7.2 7.2m.3-7.2l7.2 7.2m0-7.2l-7.2 7.2m.3-7.3l7.2 7.2m0-7.2l-7.2 7.2m.3-7.2l7.2 7.2m0-7.2l-7.2 7.2m.3-7.2l7.2 7.2m0-7.2l-7.2 7.2m.3-7.3l7.2 7.2m0-7.2l-7.2 7.2m.2-7.2l7.2 7.2m0-7.2l-7.2 7.2m.3-7.2l7.2 7.2m0-7.2l-7.2 7.2m.3-7.3l7.2 7.2m0-7.2l-7.2 7.2m.3-7.2l7.2 7.2m0-7.2l-7.2 7.2m.3-7.2l7.2 7.2m0-7.2l-7.2 7.2m.3-7.3l7.2 7.2m0-7.2l-7.2 7.2m.3-7.2l7.2 7.2m0-7.2l-7.2 7.2m.2-7.3l7.2 7.2m0-7.2l-7.2 7.2m.3-7.2l7.2 7.2m0-7.2l-7.2 7.2m.3-7.2l7.2 7.2m0-7.2l-7.2 7.2m.3-7.3l7.2 7.2m0-7.2l-7.2 7.2m.3-7.2l7.2 7.2m0-7.2l-7.2 7.2m.3-7.2l7.2 7.2m0-7.2l-7.2 7.2m.3-7.3l7.2 7.2m0-7.2l-7.2 7.2m.2-7.2l7.2 7.2m0-7.2l-7.2 7.2m.3-7.2l7.2 7.2m0-7.2l-7.2 7.2m.3-7.3l7.2 7.2m0-7.2l-7.2 7.2m.3-7.2l7.2 7.2m0-7.2l-7.2 7.2m.3-7.3l7.2 7.2m0-7.2l-7.2 7.2m.3-7.2l7.2 7.2m0-7.2l-7.2 7.2m.3-7.2l7.2 7.2m0-7.2l-7.2 7.2m.3-7.3l7.2 7.2m0-7.2l-7.2 7.2m.2-7.2l7.2 7.2m0-7.2l-7.2 7.2m.3-7.2l7.2 7.2m0-7.2l-7.2 7.2m.3-7.3l7.2 7.2m0-7.2l-7.2 7.2m.3-7.2l7.2 7.2m0-7.2l-7.2 7.2m.3-7.3l7.2 7.2m0-7.2l-7.2 7.2m.3-7.2l7.2 7.2m0-7.2l-7.2 7.2m.3-7.2l7.2 7.2m0-7.2l-7.2 7.2m.2-7.3l7.2 7.2m0-7.2l-7.2 7.2m.3-7.2l7.2 7.2m0-7.2l-7.2 7.2m.3-7.2l7.2 7.2m0-7.2l-7.2 7.2m.3-7.3l7.2 7.2m0-7.2l-7.2 7.2m.3-7.2l7.2 7.2m0-7.2l-7.2 7.2m.3-7.3l7.2 7.2m0-7.2l-7.2 7.2m.3-7.2l7.2 7.2m0-7.2l-7.2 7.2m.2-7.2l7.2 7.2m0-7.2l-7.2 7.2m.3-7.3l7.2 7.2m0-7.2l-7.2 7.2m.3-7.2l7.2 7.2m0-7.2l-7.2 7.2m.3-7.3l7.2 7.2m0-7.2l-7.2 7.2m.3-7.2l7.2 7.2m0-7.2l-7.2 7.2m.3-7.2l7.2 7.2m0-7.2l-7.2 7.2m.3-7.3l7.2 7.2m0-7.2l-7.2 7.2m.2-7.2l7.2 7.2m0-7.2l-7.2 7.2m.3-7.3l7.2 7.2m0-7.2l-7.2 7.2m.3-7.2l7.2 7.2m0-7.2l-7.2 7.2m.3-7.2l7.2 7.2m0-7.2l-7.2 7.2m.3-7.3l7.2 7.2m0-7.2l-7.2 7.2m.3-7.2l7.2 7.2m0-7.2l-7.2 7.2m.3-7.3l7.2 7.2m0-7.2l-7.2 7.2m.2-7.2l7.2 7.2m0-7.2l-7.2 7.2m.3-7.2l7.2 7.2m0-7.2l-7.2 7.2m.3-7.3l7.2 7.2m0-7.2l-7.2 7.2m.3-7.2l7.2 7.2m0-7.2l-7.2 7.2m.3-7.3l7.2 7.2m0-7.2l-7.2 7.2m.3-7.2l7.2 7.2m0-7.2l-7.2 7.2m.3-7.2l7.2 7.2m0-7.2l-7.2 7.2m.2-7.3l7.2 7.2m0-7.2l-7.2 7.2m.3-7.2l7.2 7.2m0-7.2l-7.2 7.2m.3-7.3l7.2 7.2m0-7.2l-7.2 7.2m.3-7.2l7.2 7.2m0-7.2l-7.2 7.2m.3-7.3l7.2 7.2m0-7.2l-7.2 7.2m.3-7.2l7.2 7.2m0-7.2l-7.2 7.2m.3-7.2l7.2 7.2m0-7.2l-7.2 7.2m.2-7.3l7.2 7.2m0-7.2l-7.2 7.2m.3-7.2l7.2 7.2m0-7.2l-7.2 7.2m.3-7.3l7.2 7.2m0-7.2l-7.2 7.2m.3-7.2l7.2 7.2m0-7.2l-7.2 7.2m.3-7.3l7.2 7.2m0-7.2l-7.2 7.2m.3-7.2l7.2 7.2m0-7.2l-7.2 7.2m.3-7.2l7.2 7.2m0-7.2l-7.2 7.2m.2-7.3l7.2 7.2m0-7.2l-7.2 7.2m.3-7.2l7.2 7.2m0-7.2l-7.2 7.2m.3-7.3l7.2 7.2m0-7.2l-7.2 7.2m.3-7.2l7.2 7.2m0-7.2l-7.2 7.2m.3-7.3l7.2 7.2m0-7.2l-7.2 7.2m.3-7.2l7.2 7.2m0-7.2l-7.2 7.2m.3-7.3l7.2 7.2m0-7.2l-7.2 7.2m.3-7.2l7.2 7.2m0-7.2l-7.2 7.2m.2-7.2l7.2 7.2m0-7.2l-7.2 7.2m.3-7.3l7.2 7.2m0-7.2l-7.2 7.2m.3-7.2l7.2 7.2m0-7.2l-7.2 7.2m.3-7.3l7.2 7.2m0-7.2l-7.2 7.2m.3-7.2l7.2 7.2m0-7.2l-7.2 7.2m.3-7.3l7.2 7.2m0-7.2l-7.2 7.2m.3-7.2l7.2 7.2m0-7.2l-7.2 7.2m.2-7.3l7.2 7.2m0-7.2l-7.2 7.2m.3-7.2l7.2 7.2m0-7.2l-7.2 7.2m.3-7.2l7.2 7.2m0-7.2l-7.2 7.2m.3-7.3l7.2 7.2m0-7.2l-7.2 7.2m.3-7.2l7.2 7.2m0-7.2l-7.2 7.2m.3-7.3l7.2 7.2m0-7.2l-7.2 7.2m.3-7.2l7.2 7.2m0-7.2l-7.2 7.2m.2-7.3l7.2 7.2m0-7.2l-7.2 7.2m.3-7.2l7.2 7.2m0-7.2l-7.2 7.2m.3-7.3l7.2 7.2m0-7.2l-7.2 7.2m.3-7.2l7.2 7.2m0-7.2l-7.2 7.2m.3-7.3l7.2 7.2m0-7.2l-7.2 7.2m.3-7.2l7.2 7.2m0-7.2l-7.2 7.2m.3-7.3l7.2 7.2m0-7.2l-7.2 7.2m.2-7.2l7.2 7.2m0-7.2l-7.2 7.2m.3-7.3l7.2 7.2m0-7.2l-7.2 7.2m.3-7.2l7.2 7.2m0-7.2l-7.2 7.2m.3-7.3l7.2 7.2m0-7.2l-7.2 7.2m.3-7.2l7.2 7.2m0-7.2l-7.2 7.2m.3-7.3l7.2 7.2m0-7.2l-7.2 7.2m.3-7.2l7.2 7.2m0-7.2l-7.2 7.2m.2-7.3l7.2 7.2m0-7.2l-7.2 7.2m.3-7.2l7.2 7.2m0-7.2l-7.2 7.2m.3-7.3l7.2 7.2m0-7.2l-7.2 7.2m.3-7.2l7.2 7.2m0-7.2l-7.2 7.2m.3-7.3l7.2 7.2m0-7.2l-7.2 7.2m.3-7.2l7.2 7.2m0-7.2l-7.2 7.2m.3-7.3l7.2 7.2m0-7.2l-7.2 7.2m.2-7.2l7.2 7.2m0-7.2l-7.2 7.2m.3-7.3l7.2 7.2m0-7.2l-7.2 7.2m.3-7.2l7.2 7.2m0-7.2l-7.2 7.2m.3-7.3l7.2 7.2m0-7.2l-7.2 7.2m.3-7.2l7.2 7.2m0-7.2l-7.2 7.2m.3-7.3l7.2 7.2m0-7.2l-7.2 7.2m.3-7.2l7.2 7.2m0-7.2l-7.2 7.2m.2-7.3l7.2 7.2m0-7.2l-7.2 7.2m.3-7.2l7.2 7.2m0-7.2l-7.2 7.2m.3-7.3l7.2 7.2m0-7.2l-7.2 7.2m.3-7.2l7.2 7.2m0-7.2l-7.2 7.2m.3-7.3l7.2 7.2m0-7.2l-7.2 7.2m.3-7.2l7.2 7.2m0-7.2l-7.2 7.2m.3-7.3l7.2 7.2m0-7.2l-7.2 7.2m.3-7.2l7.2 7.2m0-7.2l-7.2 7.2m.2-7.3l7.2 7.2m0-7.2l-7.2 7.2m.3-7.2l7.2 7.2m0-7.2l-7.2 7.2m.3-7.3l7.2 7.2m0-7.2l-7.2 7.2m.3-7.2l7.2 7.2m0-7.2l-7.2 7.2m.3-7.3l7.2 7.2m0-7.2l-7.2 7.2m.3-7.2l7.2 7.2m0-7.2l-7.2 7.2m.3-7.3l7.2 7.2m0-7.2l-7.2 7.2m.2-7.3l7.2 7.2m0-7.2l-7.2 7.2m.3-7.2l7.2 7.2m0-7.2l-7.2 7.2m.3-7.3l7.2 7.2m0-7.2l-7.2 7.2m.3-7.2l7.2 7.2m0-7.2l-7.2 7.2m.3-7.3l7.2 7.2m0-7.2l-7.2 7.2m.3-7.2l7.2 7.2m0-7.2l-7.2 7.2m.3-7.3l7.2 7.2m0-7.2l-7.2 7.2m.2-7.2l7.2 7.2m0-7.2l-7.2 7.2m.3-7.3l7.2 7.2m0-7.2l-7.2 7.2m.3-7.3l7.2 7.2m0-7.2l-7.2 7.2m.3-7.2l7.2 7.2m0-7.2l-7.2 7.2m.3-7.3l7.2 7.2m0-7.2l-7.2 7.2m.3-7.2l7.2 7.2m0-7.2l-7.2 7.2m.3-7.3l7.2 7.2m0-7.2l-7.2 7.2m.2-7.2l7.2 7.2m0-7.2l-7.2 7.2m.3-7.3l7.2 7.2m0-7.2l-7.2 7.2m.3-7.3l7.2 7.2m0-7.2l-7.2 7.2m.3-7.2l7.2 7.2m0-7.2l-7.2 7.2m.3-7.3l7.2 7.2m0-7.2l-7.2 7.2m.3-7.2l7.2 7.2m0-7.2l-7.2 7.2m.3-7.3l7.2 7.2m0-7.2l-7.2 7.2m.2-7.2l7.2 7.2m0-7.2l-7.2 7.2m.3-7.3l7.2 7.2m0-7.2l-7.2 7.2m.3-7.3l7.2 7.2m0-7.2l-7.2 7.2m.3-7.2l7.2 7.2m0-7.2l-7.2 7.2m.3-7.3l7.2 7.2m0-7.2l-7.2 7.2m.3-7.2l7.2 7.2m0-7.2l-7.2 7.2m.3-7.3l7.2 7.2m0-7.2l-7.2 7.2m.2-7.3l7.2 7.2m0-7.2l-7.2 7.2m.3-7.2l7.2 7.2m0-7.2l-7.2 7.2m.3-7.3l7.2 7.2m0-7.2l-7.2 7.2m.3-7.2l7.2 7.2m0-7.2l-7.2 7.2m.3-7.3l7.2 7.2m0-7.2l-7.2 7.2m.3-7.3l7.2 7.2m0-7.2l-7.2 7.2m.3-7.2l7.2 7.2m0-7.2l-7.2 7.2m.2-7.3l7.2 7.2m0-7.2l-7.2 7.2m.3-7.3l7.2 7.2m0-7.2l-7.2 7.2m.3-7.2l7.2 7.2m0-7.2l-7.2 7.2m.3-7.3l7.2 7.2m0-7.2l-7.2 7.2m.3-7.2l7.2 7.2m0-7.2l-7.2 7.2m.3-7.3l7.2 7.2m0-7.2l-7.2 7.2m.3-7.3l7.2 7.2m0-7.2l-7.2 7.2m.2-7.2l7.2 7.2m0-7.2l-7.2 7.2m.3-7.3l7.2 7.2m0-7.2l-7.2 7.2m.3-7.3l7.2 7.2m0-7.2l-7.2 7.2m.3-7.2l7.2 7.2m0-7.2l-7.2 7.2m.3-7.3l7.2 7.2m0-7.2l-7.2 7.2m.3-7.3l7.2 7.2m0-7.2l-7.2 7.2m.3-7.2l7.2 7.2m0-7.2l-7.2 7.2m.3-7.3l7.2 7.2m0-7.2l-7.2 7.2m.2-7.2l7.2 7.2m0-7.2l-7.2 7.2m.3-7.3l7.2 7.2m0-7.2l-7.2 7.2m.3-7.3l7.2 7.2m0-7.2l-7.2 7.2m.3-7.2l7.2 7.2m0-7.2l-7.2 7.2m.3-7.3l7.2 7.2m0-7.2l-7.2 7.2m.3-7.3l7.2 7.2m0-7.2l-7.2 7.2m.3-7.2l7.2 7.2m0-7.2l-7.2 7.2m.2-7.3l7.2 7.2m0-7.2l-7.2 7.2m.3-7.3l7.2 7.2m0-7.2l-7.2 7.2m.3-7.2l7.2 7.2m0-7.2l-7.2 7.2m.3-7.3l7.2 7.2m0-7.2l-7.2 7.2m.3-7.3l7.2 7.2m0-7.2l-7.2 7.2m.3-7.3l7.2 7.2m0-7.2l-7.2 7.2m.3-7.2l7.2 7.2m0-7.2l-7.2 7.2m.2-7.3l7.2 7.2m0-7.2l-7.2 7.2m.3-7.3l7.2 7.2m0-7.2l-7.2 7.2m.3-7.2l7.2 7.2m0-7.2l-7.2 7.2m.3-7.3l7.2 7.2m0-7.2l-7.2 7.2m.3-7.3l7.2 7.2m0-7.2l-7.2 7.2m.3-7.2l7.2 7.2m0-7.2l-7.2 7.2m.3-7.3l7.2 7.2m0-7.2l-7.2 7.2m.2-7.3l7.2 7.2m0-7.2l-7.2 7.2m.3-7.3l7.2 7.2m0-7.2l-7.2 7.2m.3-7.2l7.2 7.2m0-7.2l-7.2 7.2m.3-7.3l7.2 7.2m0-7.2l-7.2 7.2m.3-7.3l7.2 7.2m0-7.2l-7.2 7.2m.3-7.2l7.2 7.2m0-7.2l-7.2 7.2m.3-7.3l7.2 7.2m0-7.2l-7.2 7.2m.2-7.3l7.2 7.2m0-7.2l-7.2 7.2m.3-7.3l7.2 7.2m0-7.2l-7.2 7.2m.3-7.2l7.2 7.2m0-7.2l-7.2 7.2m.3-7.3l7.2 7.2m0-7.2l-7.2 7.2m.3-7.3l7.2 7.2m0-7.2l-7.2 7.2m.3-7.2l7.2 7.2m0-7.2l-7.2 7.2m.3-7.3l7.2 7.2m0-7.2l-7.2 7.2m.2-7.3l7.2 7.2m0-7.2l-7.2 7.2m.3-7.3l7.2 7.2m0-7.2l-7.2 7.2m.3-7.2l7.2 7.2m0-7.2l-7.2 7.2m.3-7.3l7.2 7.2m0-7.2l-7.2 7.2m.3-7.3l7.2 7.2m0-7.2l-7.2 7.2m.3-7.3l7.2 7.2m0-7.2l-7.2 7.2m.3-7.3l7.2 7.2m0-7.2l-7.2 7.2m.2-7.2l7.2 7.2m0-7.2l-7.2 7.2m.3-7.3l7.2 7.2m0-7.2l-7.2 7.2m.3-7.3l7.2 7.2m0-7.2l-7.2 7.2m.3-7.3l7.2 7.2m0-7.2l-7.2 7.2m.3-7.2l7.2 7.2m0-7.2l-7.2 7.2m.3-7.3l7.2 7.2m0-7.2l-7.2 7.2m.3-7.3l7.2 7.2m0-7.2l-7.2 7.2m.3-7.3l7.2 7.2m0-7.2l-7.2 7.2m.2-7.3l7.2 7.2m0-7.2l-7.2 7.2m.3-7.2l7.2 7.2m0-7.2l-7.2 7.2m.3-7.3l7.2 7.2m0-7.2l-7.2 7.2m.3-7.3l7.2 7.2m0-7.2l-7.2 7.2m.3-7.3l7.2 7.2m0-7.2l-7.2 7.2m.3-7.2l7.2 7.2m0-7.2l-7.2 7.2m.3-7.3l7.2 7.2m0-7.2l-7.2 7.2m.2-7.3l7.2 7.2m0-7.2l-7.2 7.2m.3-7.3l7.2 7.2m0-7.2l-7.2 7.2m.3-7.3l7.2 7.2m0-7.2l-7.2 7.2m.3-7.3l7.2 7.2m0-7.2l-7.2 7.2m.3-7.2l7.2 7.2m0-7.2l-7.2 7.2m.3-7.3l7.2 7.2m0-7.2l-7.2 7.2m.3-7.3l7.2 7.2m0-7.2l-7.2 7.2m.2-7.3l7.2 7.2m0-7.2l-7.2 7.2m.3-7.3l7.2 7.2m0-7.2l-7.2 7.2m.3-7.2l7.2 7.2m0-7.2l-7.2 7.2m.3-7.3l7.2 7.2m0-7.2l-7.2 7.2m.3-7.3l7.2 7.2m0-7.2l-7.2 7.2m.3-7.3l7.2 7.2m0-7.2l-7.2 7.2m.3-7.3l7.2 7.2m0-7.2l-7.2 7.2m.2-7.2l7.2 7.2m0-7.2l-7.2 7.2m.3-7.3l7.2 7.2m0-7.2l-7.2 7.2m.3-7.3l7.2 7.2m0-7.2l-7.2 7.2m.3-7.3l7.2 7.2m0-7.2l-7.2 7.2m.3-7.3l7.2 7.2m0-7.2l-7.2 7.2m.3-7.2l7.2 7.2m0-7.2l-7.2 7.2m.3-7.3l7.2 7.2m0-7.2l-7.2 7.2m.2-7.3l7.2 7.2m0-7.2l-7.2 7.2m.3-7.3l7.2 7.2m0-7.2l-7.2 7.2m.3-7.3l7.2 7.2m0-7.2l-7.2 7.2m.3-7.3l7.2 7.2m0-7.2l-7.2 7.2m.3-7.2l7.2 7.2m0-7.2l-7.2 7.2m.3-7.3l7.2 7.2m0-7.2l-7.2 7.2m.3-7.3l7.2 7.2m0-7.2l-7.2 7.2m.2-7.3l7.2 7.2m0-7.2l-7.2 7.2m.3-7.3l7.2 7.2m0-7.2l-7.2 7.2m.3-7.3l7.2 7.2m0-7.2l-7.2 7.2m.3-7.3l7.2 7.2m0-7.2l-7.2 7.2m.3-7.2l7.2 7.2m0-7.2l-7.2 7.2m.3-7.3l7.2 7.2m0-7.2l-7.2 7.2m.3-7.3l7.2 7.2m0-7.2l-7.2 7.2m.2-7.3l7.2 7.2m0-7.2l-7.2 7.2m.3-7.3l7.2 7.2m0-7.2l-7.2 7.2m.3-7.3l7.2 7.2m0-7.2l-7.2 7.2m.3-7.3l7.2 7.2m0-7.2l-7.2 7.2m.3-7.3l7.2 7.2m0-7.2l-7.2 7.2m.3-7.2l7.2 7.2m0-7.2l-7.2 7.2m.3-7.3l7.2 7.2m0-7.2l-7.2 7.2m.3-7.3l7.2 7.2m0-7.2l-7.2 7.2m.2-7.3l7.2 7.2m0-7.2l-7.2 7.2m.3-7.3l7.2 7.2m0-7.2l-7.2 7.2m.3-7.3l7.2 7.2m0-7.2l-7.2 7.2m.3-7.3l7.2 7.2m0-7.2l-7.2 7.2m.3-7.3l7.2 7.2m0-7.2l-7.2 7.2m.3-7.3l7.2 7.2m0-7.2l-7.2 7.2m.3-7.3l7.2 7.2m0-7.2l-7.2 7.2m.2-7.3l7.2 7.2m0-7.2l-7.2 7.2m.3-7.2l7.2 7.2m0-7.2l-7.2 7.2m.3-7.3l7.2 7.2m0-7.2l-7.2 7.2m.3-7.3l7.2 7.2m0-7.2l-7.2 7.2m.3-7.3l7.2 7.2m0-7.2l-7.2 7.2m.3-7.3l7.2 7.2m0-7.2l-7.2 7.2m.3-7.3l7.2 7.2m0-7.2l-7.2 7.2m.2-7.3l7.2 7.2m0-7.2l-7.2 7.2m.3-7.3l7.2 7.2m0-7.2l-7.2 7.2m.3-7.3l7.2 7.2m0-7.2l-7.2 7.2m.3-7.3l7.2 7.2m0-7.2l-7.2 7.2m.3-7.3l7.2 7.2m0-7.2l-7.2 7.2m.3-7.3l7.2 7.2m0-7.2l-7.2 7.2m.3-7.3l7.2 7.2m0-7.2l-7.2 7.2m.2-7.3l7.2 7.2m0-7.2l-7.2 7.2m.3-7.3l7.2 7.2m0-7.2l-7.2 7.2m.3-7.3l7.2 7.2m0-7.2l-7.2 7.2m.3-7.3l7.2 7.2m0-7.2l-7.2 7.2m.3-7.3l7.2 7.2m0-7.2l-7.2 7.2m.3-7.3l7.2 7.2m0-7.2l-7.2 7.2m.3-7.3l7.2 7.2m0-7.2l-7.2 7.2m.2-7.3l7.2 7.2m0-7.2l-7.2 7.2m.3-7.3l7.2 7.2m0-7.2l-7.2 7.2m.3-7.3l7.2 7.2m0-7.2l-7.2 7.2m.3-7.3l7.2 7.2m0-7.2l-7.2 7.2m.3-7.3l7.2 7.2m0-7.2l-7.2 7.2m.3-7.3l7.2 7.2m0-7.2l-7.2 7.2m.3-7.3l7.2 7.2m0-7.2l-7.2 7.2m.2-7.3l7.2 7.2m0-7.2l-7.2 7.2m.3-7.3l7.2 7.2m0-7.2l-7.2 7.2m.3-7.3l7.2 7.2m0-7.2l-7.2 7.2m.3-7.3l7.2 7.2m0-7.2l-7.2 7.2m.3-7.3l7.2 7.2m0-7.2l-7.2 7.2m.3-7.3l7.2 7.2m0-7.2l-7.2 7.2m.3-7.4l7.2 7.2m0-7.2l-7.2 7.2m.2-7.3l7.2 7.2m0-7.2l-7.2 7.2m.3-7.3l7.2 7.2m0-7.2l-7.2 7.2m.3-7.3l7.2 7.2m0-7.2l-7.2 7.2m.3-7.3l7.2 7.2m0-7.2l-7.2 7.2m.3-7.3l7.2 7.2m0-7.2l-7.2 7.2m.3-7.3l7.2 7.2m0-7.2l-7.2 7.2m.3-7.3l7.2 7.2m0-7.2l-7.2 7.2m.2-7.3l7.2 7.2m0-7.2l-7.2 7.2m.3-7.3l7.2 7.2m0-7.2l-7.2 7.2m.3-7.3l7.2 7.2m0-7.2l-7.2 7.2m.3-7.4l7.2 7.2m0-7.2l-7.2 7.2m.3-7.3l7.2 7.2m0-7.2l-7.2 7.2m.3-7.3l7.2 7.2m0-7.2l-7.2 7.2m.3-7.3l7.2 7.2m0-7.2l-7.2 7.2m.3-7.3l7.2 7.2m0-7.2l-7.2 7.2m.2-7.3l7.2 7.2m0-7.2l-7.2 7.2m.3-7.3l7.2 7.2m0-7.2l-7.2 7.2m.3-7.4l7.2 7.2m0-7.2l-7.2 7.2m.3-7.3l7.2 7.2m0-7.2l-7.2 7.2m.3-7.3l7.2 7.2m0-7.2l-7.2 7.2m.3-7.3l7.2 7.2m0-7.2l-7.2 7.2m.3-7.3l7.2 7.2m0-7.2l-7.2 7.2m.2-7.3l7.2 7.2m0-7.2l-7.2 7.2m.3-7.4l7.2 7.2m0-7.2l-7.2 7.2m.3-7.3l7.2 7.2m0-7.2l-7.2 7.2m.3-7.3l7.2 7.2m0-7.2l-7.2 7.2m.3-7.3l7.2 7.2m0-7.2l-7.2 7.2m.3-7.3l7.2 7.2m0-7.2l-7.2 7.2m.3-7.3l7.2 7.2m0-7.2l-7.2 7.2m.2-7.4l7.2 7.2m0-7.2l-7.2 7.2m.3-7.3l7.2 7.2m0-7.2l-7.2 7.2m.3-7.3l7.2 7.2m0-7.2l-7.2 7.2m.3-7.3l7.2 7.2m0-7.2l-7.2 7.2m.3-7.4l7.2 7.2m0-7.2l-7.2 7.2m.3-7.3l7.2 7.2m0-7.2l-7.2 7.2m.3-7.3l7.2 7.2m0-7.2l-7.2 7.2m.2-7.3l7.2 7.2m0-7.2l-7.2 7.2m.3-7.3l7.2 7.2m0-7.2l-7.2 7.2m.3-7.4l7.2 7.2m0-7.2l-7.2 7.2m.3-7.3l7.2 7.2m0-7.2l-7.2 7.2m.3-7.3l7.2 7.2m0-7.2l-7.2 7.2m.3-7.3l7.2 7.2m0-7.2l-7.2 7.2m.3-7.4l7.2 7.2m0-7.2l-7.2 7.2m.2-7.3l7.2 7.2m0-7.2l-7.2 7.2m.3-7.3l7.2 7.2m0-7.2l-7.2 7.2m.3-7.4l7.2 7.2m0-7.2l-7.2 7.2m.3-7.3l7.2 7.2m0-7.2l-7.2 7.2m.3-7.3l7.2 7.2m0-7.2l-7.2 7.2m.3-7.3l7.2 7.2m0-7.2l-7.2 7.2m.3-7.4l7.2 7.2m0-7.2l-7.2 7.2m.2-7.3l7.2 7.2m0-7.2l-7.2 7.2m.3-7.3l7.2 7.2m0-7.2l-7.2 7.2m.3-7.4l7.2 7.2m0-7.2l-7.2 7.2m.3-7.3l7.2 7.2m0-7.2l-7.2 7.2m.3-7.3l7.2 7.2m0-7.2l-7.2 7.2m.3-7.4l7.2 7.2m0-7.2l-7.2 7.2m.3-7.3l7.2 7.2m0-7.2l-7.2 7.2m.2-7.3l7.2 7.2m0-7.2l-7.2 7.2m.3-7.4l7.2 7.2m0-7.2l-7.2 7.2m.3-7.3l7.2 7.2m0-7.2l-7.2 7.2m.3-7.3l7.2 7.2m0-7.2l-7.2 7.2m.3-7.4l7.2 7.2m0-7.2l-7.2 7.2m.3-7.3l7.2 7.2m0-7.2l-7.2 7.2m.3-7.4l7.2 7.2m0-7.2l-7.2 7.2m.3-7.3l7.2 7.2m0-7.2l-7.2 7.2m.2-7.3l7.2 7.2m0-7.2l-7.2 7.2m.3-7.4l7.2 7.2m0-7.2l-7.2 7.2m.3-7.3l7.2 7.2m0-7.2l-7.2 7.2m.3-7.4l7.2 7.2m0-7.2l-7.2 7.2m.3-7.3l7.2 7.2m0-7.2l-7.2 7.2m.3-7.3l7.2 7.2m0-7.2l-7.2 7.2m.3-7.4l7.2 7.2m0-7.2l-7.2 7.2m.2-7.3l7.2 7.2m0-7.2l-7.2 7.2m.3-7.4l7.2 7.2m0-7.2l-7.2 7.2m.3-7.3l7.2 7.2m0-7.2l-7.2 7.2m.3-7.4l7.2 7.2m0-7.2l-7.2 7.2m.3-7.3l7.2 7.2m0-7.2l-7.2 7.2m.3-7.3l7.2 7.2m0-7.2l-7.2 7.2m.3-7.4l7.2 7.2m0-7.2l-7.2 7.2m.2-7.3l7.2 7.2m0-7.2l-7.2 7.2m.3-7.4l7.2 7.2m0-7.2l-7.2 7.2m.3-7.3l7.2 7.2m0-7.2l-7.2 7.2m.3-7.4l7.2 7.2m0-7.2l-7.2 7.2m.3-7.3l7.2 7.2m0-7.2l-7.2 7.2m.3-7.4l7.2 7.2m0-7.2l-7.2 7.2m.3-7.3l7.2 7.2m0-7.2l-7.2 7.2m.2-7.4l7.2 7.2m0-7.2l-7.2 7.2m.3-7.3l7.2 7.2m0-7.2l-7.2 7.2m.3-7.4l7.2 7.2m0-7.2l-7.2 7.2m.3-7.3l7.2 7.2m0-7.2l-7.2 7.2m.3-7.4l7.2 7.2m0-7.2l-7.2 7.2m.3-7.3l7.2 7.2m0-7.2l-7.2 7.2m.3-7.4l7.2 7.2m0-7.2l-7.2 7.2m.2-7.3l7.2 7.2m0-7.2l-7.2 7.2m.3-7.4l7.2 7.2m0-7.2l-7.2 7.2m.3-7.4l7.2 7.2m0-7.2l-7.2 7.2m.3-7.3l7.2 7.2m0-7.2l-7.2 7.2m.3-7.4l7.2 7.2m0-7.2l-7.2 7.2m.3-7.3l7.2 7.2m0-7.2l-7.2 7.2m.3-7.4l7.2 7.2m0-7.2l-7.2 7.2m.2-7.3l7.2 7.2m0-7.2l-7.2 7.2m.3-7.4l7.2 7.2m0-7.2l-7.2 7.2m.3-7.4l7.2 7.2m0-7.2l-7.2 7.2m.3-7.3l7.2 7.2m0-7.2l-7.2 7.2m.3-7.4l7.2 7.2m0-7.2l-7.2 7.2m.3-7.3l7.2 7.2m0-7.2l-7.2 7.2m.3-7.4l7.2 7.2m0-7.2l-7.2 7.2m.2-7.4l7.2 7.2m0-7.2l-7.2 7.2m.3-7.3l7.2 7.2m0-7.2l-7.2 7.2m.3-7.4l7.2 7.2m0-7.2l-7.2 7.2m.3-7.3l7.2 7.2m0-7.2l-7.2 7.2m.3-7.4l7.2 7.2m0-7.2l-7.2 7.2m.3-7.4l7.2 7.2m0-7.2l-7.2 7.2m.3-7.3l7.2 7.2m0-7.2l-7.2 7.2m.3-7.4l7.2 7.2m0-7.2l-7.2 7.2m.2-7.4l7.2 7.2m0-7.2l-7.2 7.2m.3-7.3l7.2 7.2m0-7.2l-7.2 7.2m.3-7.4l7.2 7.2m0-7.2l-7.2 7.2m.3-7.4l7.2 7.2m0-7.2l-7.2 7.2m.3-7.3l7.2 7.2m0-7.2l-7.2 7.2m.3-7.4l7.2 7.2m0-7.2l-7.2 7.2m.3-7.4l7.2 7.2m0-7.2l-7.2 7.2m.2-7.4l7.2 7.2m0-7.2l-7.2 7.2m.3-7.3l7.2 7.2m0-7.2l-7.2 7.2m.3-7.4l7.2 7.2m0-7.2l-7.2 7.2m.3-7.4l7.2 7.2m0-7.2l-7.2 7.2m.3-7.3l7.2 7.2m0-7.2l-7.2 7.2m.3-7.4l7.2 7.2m0-7.2l-7.2 7.2m.3-7.4l7.2 7.2m0-7.2l-7.2 7.2m.2-7.4l7.2 7.2m0-7.2l-7.2 7.2m.3-7.3l7.2 7.2m0-7.2l-7.2 7.2m.3-7.4l7.2 7.2m0-7.2l-7.2 7.2m.3-7.4l7.2 7.2m0-7.2l-7.2 7.2m.3-7.4l7.2 7.2m0-7.2l-7.2 7.2m.3-7.3l7.2 7.2m0-7.2l-7.2 7.2m.3-7.4l7.2 7.2m0-7.2l-7.2 7.2m.2-7.4l7.2 7.2m0-7.2l-7.2 7.2m.3-7.4l7.2 7.2m0-7.2l-7.2 7.2m.3-7.4l7.2 7.2m0-7.2l-7.2 7.2m.3-7.3l7.2 7.2m0-7.2l-7.2 7.2m.3-7.4l7.2 7.2m0-7.2l-7.2 7.2m.3-7.4l7.2 7.2m0-7.2l-7.2 7.2m.3-7.4l7.2 7.2m0-7.2l-7.2 7.2m.2-7.4l7.2 7.2m0-7.2l-7.2 7.2m.3-7.3l7.2 7.2m0-7.2l-7.2 7.2m.3-7.4l7.2 7.2m0-7.2l-7.2 7.2m.3-7.4l7.2 7.2m0-7.2l-7.2 7.2m.3-7.4l7.2 7.2m0-7.2l-7.2 7.2m.3-7.4l7.2 7.2m0-7.2l-7.2 7.2m.3-7.4l7.2 7.2m0-7.2l-7.2 7.2m.2-7.4l7.2 7.2m0-7.2l-7.2 7.2m.3-7.3l7.2 7.2m0-7.2l-7.2 7.2m.3-7.4l7.2 7.2m0-7.2l-7.2 7.2m.3-7.4l7.2 7.2m0-7.2l-7.2 7.2m.3-7.4l7.2 7.2m0-7.2l-7.2 7.2m.3-7.4l7.2 7.2m0-7.2l-7.2 7.2m.3-7.4l7.2 7.2m0-7.2l-7.2 7.2m.2-7.4l7.2 7.2m0-7.2l-7.2 7.2m.3-7.4l7.2 7.2m0-7.2l-7.2 7.2m.3-7.4l7.2 7.2m0-7.2l-7.2 7.2m.3-7.3l7.2 7.2m0-7.2l-7.2 7.2m.3-7.4l7.2 7.2m0-7.2l-7.2 7.2m.3-7.4l7.2 7.2m0-7.2l-7.2 7.2m.3-7.4l7.2 7.2m0-7.2l-7.2 7.2m.2-7.4l7.2 7.2m0-7.2l-7.2 7.2m.3-7.4l7.2 7.2m0-7.2l-7.2 7.2m.3-7.4l7.2 7.2m0-7.2l-7.2 7.2m.3-7.4l7.2 7.2m0-7.2l-7.2 7.2m.3-7.4l7.2 7.2m0-7.2l-7.2 7.2m.3-7.4l7.2 7.2m0-7.2l-7.2 7.2m.3-7.4l7.2 7.2m0-7.2l-7.2 7.2m.3-7.4l7.2 7.2m0-7.2l-7.2 7.2m.2-7.4l7.2 7.2m0-7.2l-7.2 7.2m.3-7.4l7.2 7.2m0-7.2l-7.2 7.2m.3-7.4l7.2 7.2m0-7.2l-7.2 7.2m.3-7.4l7.2 7.2m0-7.2l-7.2 7.2m.3-7.4l7.2 7.2m0-7.2l-7.2 7.2m.3-7.4l7.2 7.2m0-7.2l-7.2 7.2m.3-7.4l7.2 7.2m0-7.2l-7.2 7.2m.2-7.4l7.2 7.2m0-7.2l-7.2 7.2m.3-7.4l7.2 7.2m0-7.2l-7.2 7.2m.3-7.4l7.2 7.2m0-7.2l-7.2 7.2m.3-7.4l7.2 7.2m0-7.2l-7.2 7.2m.3-7.4l7.2 7.2m0-7.2l-7.2 7.2m.3-7.4l7.2 7.2m0-7.2l-7.2 7.2m.3-7.4l7.2 7.2m0-7.2l-7.2 7.2m.2-7.4l7.2 7.2m0-7.2l-7.2 7.2m.3-7.4l7.2 7.2m0-7.2l-7.2 7.2m.3-7.4l7.2 7.2m0-7.2l-7.2 7.2m.3-7.5l7.2 7.2m0-7.2l-7.2 7.2m.3-7.4l7.2 7.2m0-7.2l-7.2 7.2m.3-7.4l7.2 7.2m0-7.2l-7.2 7.2m.3-7.4l7.2 7.2m0-7.2l-7.2 7.2m.2-7.4l7.2 7.2m0-7.2l-7.2 7.2m.3-7.4l7.2 7.2m0-7.2l-7.2 7.2m.3-7.4l7.2 7.2m0-7.2l-7.2 7.2m.3-7.4l7.2 7.2m0-7.2l-7.2 7.2m.3-7.4l7.2 7.2m0-7.2l-7.2 7.2m.3-7.4l7.2 7.2m0-7.2l-7.2 7.2m.3-7.5l7.2 7.2m0-7.2l-7.2 7.2m.2-7.4l7.2 7.2m0-7.2l-7.2 7.2m.3-7.4l7.2 7.2m0-7.2l-7.2 7.2m.3-7.4l7.2 7.2m0-7.2l-7.2 7.2m.3-7.4l7.2 7.2m0-7.2l-7.2 7.2m.3-7.4l7.2 7.2m0-7.2l-7.2 7.2m.3-7.4l7.2 7.2m0-7.2l-7.2 7.2m.3-7.5l7.2 7.2m0-7.2l-7.2 7.2m.2-7.4l7.2 7.2m0-7.2l-7.2 7.2m.3-7.4l7.2 7.2m0-7.2l-7.2 7.2m.3-7.4l7.2 7.2m0-7.2l-7.2 7.2m.3-7.4l7.2 7.2m0-7.2l-7.2 7.2m.3-7.5l7.2 7.2m0-7.2l-7.2 7.2m.3-7.4l7.2 7.2m0-7.2l-7.2 7.2m.3-7.4l7.2 7.2m0-7.2l-7.2 7.2m.2-7.4l7.2 7.2m0-7.2l-7.2 7.2m.3-7.4l7.2 7.2m0-7.2l-7.2 7.2m.3-7.5l7.2 7.2m0-7.2l-7.2 7.2m.3-7.4l7.2 7.2m0-7.2l-7.2 7.2m.3-7.4l7.2 7.2m0-7.2l-7.2 7.2m.3-7.4l7.2 7.2m0-7.2l-7.2 7.2m.3-7.4l7.2 7.2m0-7.2l-7.2 7.2m.3-7.5l7.2 7.2m0-7.2l-7.2 7.2m.2-7.4l7.2 7.2m0-7.2l-7.2 7.2m.3-7.4l7.2 7.2m0-7.2l-7.2 7.2m.3-7.4l7.2 7.2m0-7.2l-7.2 7.2m.3-7.5l7.2 7.2m0-7.2l-7.2 7.2m.3-7.4l7.2 7.2m0-7.2l-7.2 7.2m.3-7.4l7.2 7.2m0-7.2l-7.2 7.2m.3-7.4l7.2 7.2m0-7.2l-7.2 7.2m.2-7.5l7.2 7.2m0-7.2l-7.2 7.2m.3-7.4l7.2 7.2m0-7.2l-7.2 7.2m.3-7.4l7.2 7.2m0-7.2l-7.2 7.2m.3-7.5l7.2 7.2m0-7.2l-7.2 7.2m.3-7.4l7.2 7.2m0-7.2l-7.2 7.2m.3-7.4l7.2 7.2m0-7.2l-7.2 7.2m.3-7.5l7.2 7.2m0-7.2l-7.2 7.2m.2-7.4l7.2 7.2m0-7.2l-7.2 7.2m.3-7.4l7.2 7.2m0-7.2l-7.2 7.2m.3-7.4l7.2 7.2m0-7.2l-7.2 7.2m.3-7.5l7.2 7.2m0-7.2l-7.2 7.2m.3-7.4l7.2 7.2m0-7.2l-7.2 7.2m.3-7.4l7.2 7.2m0-7.2l-7.2 7.2m.3-7.5l7.2 7.2m0-7.2l-7.2 7.2m.2-7.4l7.2 7.2m0-7.2l-7.2 7.2m.3-7.4l7.2 7.2m0-7.2l-7.2 7.2m.3-7.5l7.2 7.2m0-7.2l-7.2 7.2m.3-7.4l7.2 7.2m0-7.2l-7.2 7.2m.3-7.4l7.2 7.2m0-7.2l-7.2 7.2m.3-7.5l7.2 7.2m0-7.2l-7.2 7.2m.3-7.4l7.2 7.2m0-7.2l-7.2 7.2m.2-7.5l7.2 7.2m0-7.2l-7.2 7.2m.3-7.4l7.2 7.2m0-7.2l-7.2 7.2m.3-7.4l7.2 7.2m0-7.2l-7.2 7.2m.3-7.5l7.2 7.2m0-7.2l-7.2 7.2m.3-7.4l7.2 7.2m0-7.2l-7.2 7.2m.3-7.4l7.2 7.2m0-7.2l-7.2 7.2m.3-7.5l7.2 7.2m0-7.2l-7.2 7.2m.2-7.4l7.2 7.2m0-7.2l-7.2 7.2m.3-7.5l7.2 7.2m0-7.2l-7.2 7.2m.3-7.4l7.2 7.2m0-7.2l-7.2 7.2m.3-7.4l7.2 7.2m0-7.2l-7.2 7.2m.3-7.5l7.2 7.2m0-7.2l-7.2 7.2m.3-7.4l7.2 7.2m0-7.2l-7.2 7.2m.3-7.5l7.2 7.2m0-7.2l-7.2 7.2m.2-7.4l7.2 7.2m0-7.2l-7.2 7.2m.3-7.5l7.2 7.2m0-7.2l-7.2 7.2m.3-7.4l7.2 7.2m0-7.2l-7.2 7.2m.3-7.4l7.2 7.2m0-7.2l-7.2 7.2m.3-7.5l7.2 7.2m0-7.2l-7.2 7.2m.3-7.4l7.2 7.2m0-7.2l-7.2 7.2m.3-7.5l7.2 7.2m0-7.2l-7.2 7.2m.3-7.4l7.2 7.2m0-7.2l-7.2 7.2m.2-7.5l7.2 7.2m0-7.2l-7.2 7.2m.3-7.4l7.2 7.2m0-7.2l-7.2 7.2m.3-7.5l7.2 7.2m0-7.2l-7.2 7.2m.3-7.4l7.2 7.2m0-7.2l-7.2 7.2m.3-7.4l7.2 7.2m0-7.2l-7.2 7.2m.3-7.5l7.2 7.2m0-7.2l-7.2 7.2m.3-7.4l7.2 7.2m0-7.2l-7.2 7.2m.2-7.5l7.2 7.2m0-7.2l-7.2 7.2m.3-7.4l7.2 7.2m0-7.2l-7.2 7.2m.3-7.5l7.2 7.2m0-7.2l-7.2 7.2m.3-7.4l7.2 7.2m0-7.2l-7.2 7.2m.3-7.5l7.2 7.2m0-7.2l-7.2 7.2m.3-7.4l7.2 7.2m0-7.2l-7.2 7.2m.3-7.5l7.2 7.2m0-7.2l-7.2 7.2m.2-7.4l7.2 7.2m0-7.2l-7.2 7.2m.3-7.5l7.2 7.2m0-7.2l-7.2 7.2m.3-7.4l7.2 7.2m0-7.2l-7.2 7.2m.3-7.5l7.2 7.2m0-7.2l-7.2 7.2m.3-7.4l7.2 7.2m0-7.2l-7.2 7.2m.3-7.5l7.2 7.2m0-7.2l-7.2 7.2m.3-7.4l7.2 7.2m0-7.2l-7.2 7.2m.2-7.5l7.2 7.2m0-7.2l-7.2 7.2m.3-7.4l7.2 7.2m0-7.2l-7.2 7.2m.3-7.5l7.2 7.2m0-7.2l-7.2 7.2m.3-7.4l7.2 7.2m0-7.2l-7.2 7.2m.3-7.5l7.2 7.2m0-7.2l-7.2 7.2m.3-7.4l7.2 7.2m0-7.2l-7.2 7.2m.3-7.5l7.2 7.2m0-7.2l-7.2 7.2m.2-7.4l7.2 7.2m0-7.2l-7.2 7.2m.3-7.5l7.2 7.2m0-7.2l-7.2 7.2m.3-7.5l7.2 7.2m0-7.2l-7.2 7.2m.3-7.4l7.2 7.2m0-7.2l-7.2 7.2m.3-7.5l7.2 7.2m0-7.2l-7.2 7.2m.3-7.4l7.2 7.2m0-7.2l-7.2 7.2m.3-7.5l7.2 7.2m0-7.2l-7.2 7.2m.2-7.4l7.2 7.2m0-7.2l-7.2 7.2m.3-7.5l7.2 7.2m0-7.2l-7.2 7.2m.3-7.4l7.2 7.2m0-7.2l-7.2 7.2m.3-7.5l7.2 7.2m0-7.2l-7.2 7.2m.3-7.5l7.2 7.2m0-7.2l-7.2 7.2m.3-7.4l7.2 7.2m0-7.2l-7.2 7.2m.3-7.5l7.2 7.2m0-7.2l-7.2 7.2m.2-7.4l7.2 7.2m0-7.2l-7.2 7.2m.3-7.5l7.2 7.2m0-7.2l-7.2 7.2m.3-7.4l7.2 7.2m0-7.2l-7.2 7.2m.3-7.5l7.2 7.2m0-7.2l-7.2 7.2m.3-7.5l7.2 7.2m0-7.2l-7.2 7.2m.3-7.4l7.2 7.2m0-7.2l-7.2 7.2m.3-7.5l7.2 7.2m0-7.2l-7.2 7.2m.2-7.4l7.2 7.2m0-7.2l-7.2 7.2m.3-7.5l7.2 7.2m0-7.2l-7.2 7.2m.3-7.5l7.2 7.2m0-7.2l-7.2 7.2m.3-7.4l7.2 7.2m0-7.2l-7.2 7.2m.3-7.5l7.2 7.2m0-7.2l-7.2 7.2m.3-7.4l7.2 7.2m0-7.2l-7.2 7.2m.3-7.5l7.2 7.2m0-7.2l-7.2 7.2m.3-7.5l7.2 7.2m0-7.2l-7.2 7.2m.2-7.4l7.2 7.2m0-7.2l-7.2 7.2m.3-7.5l7.2 7.2m0-7.2l-7.2 7.2m.3-7.4l7.2 7.2m0-7.2l-7.2 7.2m.3-7.5l7.2 7.2m0-7.2l-7.2 7.2m.3-7.5l7.2 7.2m0-7.2l-7.2 7.2m.3-7.4l7.2 7.2m0-7.2l-7.2 7.2m.3-7.5l7.2 7.2m0-7.2l-7.2 7.2m.2-7.5l7.2 7.2m0-7.2l-7.2 7.2m.3-7.4l7.2 7.2m0-7.2l-7.2 7.2m.3-7.5l7.2 7.2m0-7.2l-7.2 7.2m.3-7.4l7.2 7.2m0-7.2l-7.2 7.2m.3-7.5l7.2 7.2m0-7.2l-7.2 7.2m.3-7.5l7.2 7.2m0-7.2l-7.2 7.2m.3-7.4l7.2 7.2m0-7.2l-7.2 7.2m.2-7.5l7.2 7.2m0-7.2l-7.2 7.2m.3-7.5l7.2 7.2m0-7.2l-7.2 7.2m.3-7.4l7.2 7.2m0-7.2l-7.2 7.2m.3-7.5l7.2 7.2m0-7.2l-7.2 7.2m.3-7.5l7.2 7.2m0-7.2l-7.2 7.2m.3-7.4l7.2 7.2m0-7.2l-7.2 7.2m.3-7.5l7.2 7.2m0-7.2l-7.2 7.2m.2-7.5l7.2 7.2m0-7.2l-7.2 7.2m.3-7.4l7.2 7.2m0-7.2l-7.2 7.2m.3-7.5l7.2 7.2m0-7.2l-7.2 7.2m.3-7.5l7.2 7.2m0-7.2l-7.2 7.2m.3-7.4l7.2 7.2m0-7.2l-7.2 7.2m.3-7.5l7.2 7.2m0-7.2l-7.2 7.2m.3-7.5l7.2 7.2m0-7.2l-7.2 7.2m.2-7.4l7.2 7.2m0-7.2l-7.2 7.2m.3-7.5l7.2 7.2m0-7.2l-7.2 7.2m.3-7.5l7.2 7.2m0-7.2l-7.2 7.2m.3-7.4l7.2 7.2m0-7.2l-7.2 7.2m.3-7.5l7.2 7.2m0-7.2l-7.2 7.2m.3-7.5l7.2 7.2m0-7.2l-7.2 7.2m.3-7.4l7.2 7.2m0-7.2l-7.2 7.2m.2-7.5l7.2 7.2m0-7.2l-7.2 7.2m.3-7.5l7.2 7.2m0-7.2l-7.2 7.2m.3-7.4l7.2 7.2m0-7.2l-7.2 7.2m.3-7.5l7.2 7.2m0-7.2l-7.2 7.2m.3-7.5l7.2 7.2m0-7.2l-7.2 7.2m.3-7.5l7.2 7.2m0-7.2l-7.2 7.2m.3-7.4l7.2 7.2m0-7.2l-7.2 7.2m.2-7.5l7.2 7.2m0-7.2l-7.2 7.2m.3-7.5l7.2 7.2m0-7.2l-7.2 7.2m.3-7.4l7.2 7.2m0-7.2l-7.2 7.2m.3-7.5l7.2 7.2m0-7.2l-7.2 7.2m.3-7.5l7.2 7.2m0-7.2l-7.2 7.2m.3-7.5l7.2 7.2m0-7.2l-7.2 7.2m.3-7.4l7.2 7.2m0-7.2l-7.2 7.2m.3-7.5l7.2 7.2m0-7.2l-7.2 7.2m.2-7.5l7.2 7.2m0-7.2l-7.2 7.2m.3-7.4l7.2 7.2m0-7.2l-7.2 7.2m.3-7.5l7.2 7.2m0-7.2l-7.2 7.2m.3-7.5l7.2 7.2m0-7.2l-7.2 7.2m.3-7.5l7.2 7.2m0-7.2l-7.2 7.2m.3-7.4l7.2 7.2m0-7.2l-7.2 7.2m.3-7.5l7.2 7.2m0-7.2l-7.2 7.2m.2-7.5l7.2 7.2m0-7.2l-7.2 7.2m.3-7.5l7.2 7.2m0-7.2l-7.2 7.2m.3-7.4l7.2 7.2m0-7.2l-7.2 7.2m.3-7.5l7.2 7.2m0-7.2l-7.2 7.2m.3-7.5l7.2 7.2m0-7.2l-7.2 7.2m.3-7.4l7.2 7.2m0-7.2l-7.2 7.2m.3-7.5l7.2 7.2m0-7.2l-7.2 7.2m.2-7.5l7.2 7.2m0-7.2l-7.2 7.2m.3-7.5l7.2 7.2m0-7.2l-7.2 7.2m.3-7.4l7.2 7.2m0-7.2l-7.2 7.2m.3-7.5l7.2 7.2m0-7.2l-7.2 7.2m.3-7.5l7.2 7.2m0-7.2l-7.2 7.2m.3-7.5l7.2 7.2m0-7.2l-7.2 7.2m.3-7.4l7.2 7.2m0-7.2l-7.2 7.2m.2-7.5l7.2 7.2m0-7.2l-7.2 7.2m.3-7.5l7.2 7.2m0-7.2l-7.2 7.2m.3-7.5l7.2 7.2m0-7.2l-7.2 7.2m.3-7.4l7.2 7.2m0-7.2l-7.2 7.2m.3-7.5l7.2 7.2m0-7.2l-7.2 7.2m.3-7.5l7.2 7.2m0-7.2l-7.2 7.2m.3-7.5l7.2 7.2m0-7.2l-7.2 7.2m.2-7.4l7.2 7.2m0-7.2l-7.2 7.2m.3-7.5l7.2 7.2m0-7.2l-7.2 7.2m.3-7.5l7.2 7.2m0-7.2l-7.2 7.2m.3-7.5l7.2 7.2m0-7.2l-7.2 7.2m.3-7.4l7.2 7.2m0-7.2l-7.2 7.2m.3-7.5l7.2 7.2m0-7.2l-7.2 7.2m.3-7.5l7.2 7.2m0-7.2l-7.2 7.2m.2-7.5l7.2 7.2m0-7.2l-7.2 7.2m.3-7.4l7.2 7.2m0-7.2l-7.2 7.2m.3-7.5l7.2 7.2m0-7.2l-7.2 7.2m.3-7.5l7.2 7.2m0-7.2l-7.2 7.2m.3-7.5l7.2 7.2m0-7.2l-7.2 7.2m.3-7.4l7.2 7.2m0-7.2l-7.2 7.2m.3-7.5l7.2 7.2m0-7.2l-7.2 7.2m.2-7.5l7.2 7.2m0-7.2l-7.2 7.2m.3-7.4l7.2 7.2m0-7.2l-7.2 7.2m.3-7.5l7.2 7.2m0-7.2l-7.2 7.2m.3-7.5l7.2 7.2m0-7.2l-7.2 7.2m.3-7.5l7.2 7.2m0-7.2l-7.2 7.2m.3-7.4l7.2 7.2m0-7.2l-7.2 7.2m.3-7.5l7.2 7.2m0-7.2l-7.2 7.2m.2-7.5l7.2 7.2m0-7.2l-7.2 7.2m.3-7.5l7.2 7.2m0-7.2l-7.2 7.2m.3-7.4l7.2 7.2m0-7.2l-7.2 7.2m.3-7.5l7.2 7.2m0-7.2l-7.2 7.2m.3-7.5l7.2 7.2m0-7.2l-7.2 7.2m.3-7.5l7.2 7.2m0-7.2l-7.2 7.2m.3-7.4l7.2 7.2m0-7.2l-7.2 7.2m.3-7.5l7.2 7.2m0-7.2l-7.2 7.2m.2-7.5l7.2 7.2m0-7.2l-7.2 7.2m.3-7.5l7.2 7.2m0-7.2l-7.2 7.2m.3-7.4l7.2 7.2m0-7.2l-7.2 7.2m.3-7.5l7.2 7.2m0-7.2l-7.2 7.2m.3-7.5l7.2 7.2m0-7.2l-7.2 7.2m.3-7.4l7.2 7.2m0-7.2l-7.2 7.2m.3-7.5l7.2 7.2m0-7.2l-7.2 7.2m.2-7.5l7.2 7.2m0-7.2l-7.2 7.2m.3-7.5l7.2 7.2m0-7.2l-7.2 7.2m.3-7.4l7.2 7.2m0-7.2l-7.2 7.2m.3-7.5l7.2 7.2m0-7.2l-7.2 7.2m.3-7.5l7.2 7.2m0-7.2l-7.2 7.2m.3-7.4l7.2 7.2m0-7.2l-7.2 7.2m.3-7.5l7.2 7.2m0-7.2l-7.2 7.2m.2-7.5l7.2 7.2m0-7.2l-7.2 7.2m.3-7.5l7.2 7.2m0-7.2l-7.2 7.2m.3-7.4l7.2 7.2m0-7.2l-7.2 7.2m.3-7.5l7.2 7.2m0-7.2l-7.2 7.2m.3-7.5l7.2 7.2m0-7.2l-7.2 7.2m.3-7.4l7.2 7.2m0-7.2l-7.2 7.2m.3-7.5l7.2 7.2m0-7.2l-7.2 7.2m.2-7.5l7.2 7.2m0-7.2l-7.2 7.2m.3-7.5l7.2 7.2m0-7.2l-7.2 7.2m.3-7.4l7.2 7.2m0-7.2l-7.2 7.2m.3-7.5l7.2 7.2m0-7.2l-7.2 7.2m.3-7.5l7.2 7.2m0-7.2l-7.2 7.2m.3-7.4l7.2 7.2m0-7.2l-7.2 7.2m.3-7.5l7.2 7.2m0-7.2l-7.2 7.2m.2-7.5l7.2 7.2m0-7.2l-7.2 7.2m.3-7.4l7.2 7.2m0-7.2l-7.2 7.2m.3-7.5l7.2 7.2m0-7.2l-7.2 7.2m.3-7.5l7.2 7.2m0-7.2l-7.2 7.2m.3-7.5l7.2 7.2m0-7.2l-7.2 7.2m.3-7.4l7.2 7.2m0-7.2l-7.2 7.2m.3-7.5l7.2 7.2m0-7.2l-7.2 7.2m.2-7.5l7.2 7.2m0-7.2l-7.2 7.2m.3-7.4l7.2 7.2m0-7.2l-7.2 7.2m.3-7.5l7.2 7.2m0-7.2l-7.2 7.2m.3-7.5l7.2 7.2m0-7.2l-7.2 7.2m.3-7.5l7.2 7.2m0-7.2l-7.2 7.2m.3-7.4l7.2 7.2m0-7.2l-7.2 7.2m.3-7.5l7.2 7.2m0-7.2l-7.2 7.2m.2-7.5l7.2 7.2m0-7.2l-7.2 7.2m.3-7.4l7.2 7.2m0-7.2l-7.2 7.2m.3-7.5l7.2 7.2m0-7.2l-7.2 7.2m.3-7.5l7.2 7.2m0-7.2l-7.2 7.2m.3-7.4l7.2 7.2m0-7.2l-7.2 7.2m.3-7.5l7.2 7.2m0-7.2l-7.2 7.2m.3-7.5l7.2 7.2m0-7.2l-7.2 7.2m.3-7.5l7.2 7.2m0-7.2l-7.2 7.2m.2-7.4l7.2 7.2m0-7.2l-7.2 7.2m.3-7.5l7.2 7.2m0-7.2l-7.2 7.2m.3-7.5l7.2 7.2m0-7.2l-7.2 7.2m.3-7.4l7.2 7.2m0-7.2l-7.2 7.2m.3-7.5l7.2 7.2m0-7.2l-7.2 7.2m.3-7.5l7.2 7.2m0-7.2l-7.2 7.2m.3-7.5l7.2 7.2m0-7.2l-7.2 7.2m.2-7.4l7.2 7.2m0-7.2l-7.2 7.2m.3-7.5l7.2 7.2m0-7.2l-7.2 7.2m.3-7.5l7.2 7.2m0-7.2l-7.2 7.2m.3-7.5l7.2 7.2m0-7.2l-7.2 7.2m.3-7.4l7.2 7.2m0-7.2l-7.2 7.2m.3-7.5l7.2 7.2m0-7.2l-7.2 7.2m.3-7.5l7.2 7.2m0-7.2l-7.2 7.2m.2-7.4l7.2 7.2m0-7.2l-7.2 7.2m.3-7.5l7.2 7.2m0-7.2l-7.2 7.2m.3-7.5l7.2 7.2m0-7.2l-7.2 7.2m.3-7.5l7.2 7.2m0-7.2l-7.2 7.2m.3-7.4l7.2 7.2m0-7.2l-7.2 7.2m.3-7.5l7.2 7.2m0-7.2l-7.2 7.2m.3-7.5l7.2 7.2m0-7.2l-7.2 7.2m.2-7.5l7.2 7.2m0-7.2l-7.2 7.2m.3-7.4l7.2 7.2m0-7.2l-7.2 7.2m.3-7.5l7.2 7.2m0-7.2l-7.2 7.2m.3-7.5l7.2 7.2m0-7.2l-7.2 7.2m.3-7.5l7.2 7.2m0-7.2l-7.2 7.2m.3-7.4l7.2 7.2m0-7.2l-7.2 7.2m.3-7.5l7.2 7.2m0-7.2l-7.2 7.2m.2-7.5l7.2 7.2m0-7.2l-7.2 7.2m.3-7.5l7.2 7.2m0-7.2l-7.2 7.2m.3-7.5l7.2 7.2m0-7.2l-7.2 7.2m.3-7.4l7.2 7.2m0-7.2l-7.2 7.2m.3-7.5l7.2 7.2m0-7.2l-7.2 7.2m.3-7.5l7.2 7.2m0-7.2l-7.2 7.2m.3-7.5l7.2 7.2m0-7.2l-7.2 7.2m.2-7.4l7.2 7.2m0-7.2l-7.2 7.2m.3-7.5l7.2 7.2m0-7.2l-7.2 7.2m.3-7.5l7.2 7.2m0-7.2l-7.2 7.2m.3-7.5l7.2 7.2m0-7.2l-7.2 7.2m.3-7.5l7.2 7.2m0-7.2l-7.2 7.2m.3-7.4l7.2 7.2m0-7.2l-7.2 7.2m.3-7.5l7.2 7.2m0-7.2l-7.2 7.2m.2-7.5l7.2 7.2m0-7.2l-7.2 7.2m.3-7.5l7.2 7.2m0-7.2l-7.2 7.2m.3-7.5l7.2 7.2m0-7.2l-7.2 7.2m.3-7.5l7.2 7.2m0-7.2l-7.2 7.2m.3-7.4l7.2 7.2m0-7.2l-7.2 7.2m.3-7.5l7.2 7.2m0-7.2l-7.2 7.2m.3-7.5l7.2 7.2m0-7.2l-7.2 7.2m.3-7.5l7.2 7.2m0-7.2l-7.2 7.2m.2-7.5l7.2 7.2m0-7.2l-7.2 7.2m.3-7.5l7.2 7.2m0-7.2l-7.2 7.2m.3-7.5l7.2 7.2m0-7.2l-7.2 7.2m.3-7.4l7.2 7.2m0-7.2l-7.2 7.2m.3-7.5l7.2 7.2m0-7.2l-7.2 7.2m.3-7.5l7.2 7.2m0-7.2l-7.2 7.2m.3-7.5l7.2 7.2m0-7.2l-7.2 7.2m.2-7.5l7.2 7.2m0-7.2l-7.2 7.2m.3-7.5l7.2 7.2m0-7.2l-7.2 7.2m.3-7.5l7.2 7.2m0-7.2l-7.2 7.2m.3-7.5l7.2 7.2m0-7.2l-7.2 7.2m.3-7.4l7.2 7.2m0-7.2l-7.2 7.2m.3-7.5l7.2 7.2m0-7.2l-7.2 7.2m.3-7.5l7.2 7.2m0-7.2l-7.2 7.2m.2-7.5l7.2 7.2m0-7.2l-7.2 7.2m.3-7.5l7.2 7.2m0-7.2l-7.2 7.2m.3-7.5l7.2 7.2m0-7.2l-7.2 7.2m.3-7.5l7.2 7.2m0-7.2l-7.2 7.2m.3-7.5l7.2 7.2m0-7.2l-7.2 7.2m.3-7.5l7.2 7.2m0-7.2l-7.2 7.2m.3-7.5l7.2 7.2m0-7.2l-7.2 7.2m.2-7.5l7.2 7.2m0-7.2l-7.2 7.2m.3-7.5l7.2 7.2m0-7.2l-7.2 7.2m.3-7.5l7.2 7.2m0-7.2l-7.2 7.2m.3-7.5l7.2 7.2m0-7.2l-7.2 7.2" stroke="#ff0000" style="stroke-width:0.7"/>
<path class="b" d="M513.4 442.3h6.8m-3.9-2.9v6.8m-2.9-6.8l6.8 6.8m0-6.8l-6.8 6.8m.3-3.9h6.8m-3.9-2.9v6.8m-2.9-6.8l6.8 6.8m0-6.8l-6.8 6.8m.3-3.9h6.8m-3.9-2.9v6.8m-2.9-6.8l6.8 6.8m0-6.8l-6.8 6.8m.3-3.9h6.8m-3.9-2.9v6.8m-2.9-6.8l6.8 6.8m0-6.8l-6.8 6.8m.2-3.9h6.8m-3.9-2.9v6.8m-2.9-6.8l6.8 6.8m0-6.8l-6.8 6.8m.3-4h6.8m-3.9-2.9v6.8m-2.9-6.8l6.8 6.8m0-6.8l-6.8 6.8m.3-3.9h6.8m-3.9-2.9v6.8m-2.9-6.8l6.8 6.8m0-6.8l-6.8 6.8m.3-3.9h6.8m-3.9-2.9v6.8m-2.9-6.8l6.8 6.8m0-6.8l-6.8 6.8m.3-3.9h6.8m-3.9-2.9v6.8m-2.9-6.8l6.8 6.8m0-6.8l-6.8 6.8m.3-3.9h6.8m-3.9-2.9v6.8m-2.9-6.8l6.8 6.8m0-6.8l-6.8 6.8m.3-3.9h6.8m-3.9-2.9v6.8m-2.9-6.8l6.8 6.8m0-6.8l-6.8 6.8m.2-3.9h6.8m-3.9-2.9v6.8m-2.9-6.8l6.8 6.8m0-6.8l-6.8 6.8m.3-3.9h6.8m-3.9-2.9v6.8m-2.9-6.8l6.8 6.8m0-6.8l-6.8 6.8m.3-3.9h6.8m-3.9-2.9v6.8m-2.9-6.8l6.8 6.8m0-6.8l-6.8 6.8m.3-3.9h6.8m-3.9-2.9v6.8m-2.9-6.8l6.8 6.8m0-6.8l-6.8 6.8m.3-4h6.8m-3.9-2.9v6.8m-2.9-6.8l6.8 6.8m0-6.8l-6.8 6.8m.3-3.9h6.8m-3.9-2.9v6.8m-2.9-6.8l6.8 6.8m0-6.8l-6.8 6.8m.3-3.9h6.8m-3.9-2.9v6.8m-2.9-6.8l6.8 6.8m0-6.8l-6.8 6.8m.2-3.9h6.8m-3.9-2.9v6.8m-2.9-6.8l6.8 6.8m0-6.8l-6.8 6.8m.3-3.9h6.8m-3.9-2.9v6.8m-2.9-6.8l6.8 6.8m0-6.8l-6.8 6.8m.3-3.9h6.8m-3.9-2.9v6.8m-2.9-6.8l6.8 6.8m0-6.8l-6.8 6.8m.3-3.9h6.8m-3.9-2.9v6.8m-2.9-6.8l6.8 6.8m0-6.8l-6.8 6.8m.3-3.9h6.8m-3.9-2.9v6.8m-2.9-6.8l6.8 6.8m0-6.8l-6.8 6.8m.3-3.9h6.8m-3.9-2.9v6.8m-2.9-6.8l6.8 6.8m0-6.8l-6.8 6.8m.3-3.9h6.8m-3.9-2.9v6.8m-2.9-6.8l6.8 6.8m0-6.8l-6.8 6.8m.2-4h6.8m-3.9-2.9v6.8m-2.9-6.8l6.8 6.8m0-6.8l-6.8 6.8m.3-3.9h6.8m-3.9-2.9v6.8m-2.9-6.8l6.8 6.8m0-6.8l-6.8 6.8m.3-3.9h6.8m-3.9-2.9v6.8m-2.9-6.8l6.8 6.8m0-6.8l-6.8 6.8m.3-3.9h6.8m-3.9-2.9v6.8m-2.9-6.8l6.8 6.8m0-6.8l-6.8 6.8m.3-3.9h6.8m-3.9-2.9v6.8m-2.9-6.8l6.8 6.8m0-6.8l-6.8 6.8m.3-3.9h6.8m-3.9-2.9v6.8m-2.9-6.8l6.8 6.8m0-6.8l-6.8 6.8m.3-3.9h6.8m-3.9-2.9v6.8m-2.9-6.8l6.8 6.8m0-6.8l-6.8 6.8m.3-3.9h6.8m-3.9-2.9v6.8m-2.9-6.8l6.8 6.8m0-6.8l-6.8 6.8m.2-3.9h6.8m-3.9-2.9v6.8m-2.9-6.8l6.8 6.8m0-6.8l-6.8 6.8m.3-3.9h6.8m-3.9-2.9v6.8m-2.9-6.8l6.8 6.8m0-6.8l-6.8 6.8m.3-4h6.8m-3.9-2.9v6.8m-2.9-6.8l6.8 6.8m0-6.8l-6.8 6.8m.3-3.9h6.8m-3.9-2.9v6.8m-2.9-6.8l6.8 6.8m0-6.8l-6.8 6.8m.3-3.9h6.8m-3.9-2.9v6.8m-2.9-6.8l6.8 6.8m0-6.8l-6.8 6.8m.3-3.9h6.8m-3.9-2.9v6.8m-2.9-6.8l6.8 6.8m0-6.8l-6.8 6.8m.3-3.9h6.8m-3.9-2.9v6.8m-2.9-6.8l6.8 6.8m0-6.8l-6.8 6.8m.2-3.9h6.8m-3.9-2.9v6.8m-2.9-6.8l6.8 6.8m0-6.8l-6.8 6.8m.3-3.9h6.8m-3.9-2.9v6.8m-2.9-6.8l6.8 6.8m0-6.8l-6.8 6.8m.3-3.9h6.8m-3.9-2.9v6.8m-2.9-6.8l6.8 6.8m0-6.8l-6.8 6.8m.3-3.9h6.8m-3.9-2.9v6.8m-2.9-6.8l6.8 6.8m0-6.8l-6.8 6.8m.3-3.9h6.8m-3.9-2.9v6.8m-2.9-6.8l6.8 6.8m0-6.8l-6.8 6.8m.3-4h6.8m-3.9-2.9v6.8m-2.9-6.8l6.8 6.8m0-6.8l-6.8 6.8m.3-3.9h6.8m-3.9-2.9v6.8m-2.9-6.8l6.8 6.8m0-6.8l-6.8 6.8m.2-3.9h6.8m-3.9-2.9v6.8m-2.9-6.8l6.8 6.8m0-6.8l-6.8 6.8m.3-3.9h6.8m-3.9-2.9v6.8m-2.9-6.8l6.8 6.8m0-6.8l-6.8 6.8m.3-3.9h6.8m-3.9-2.9v6.8m-2.9-6.8l6.8 6.8m0-6.8l-6.8 6.8m.3-3.9h6.8m-3.9-2.9v6.8m-2.9-6.8l6.8 6.8m0-6.8l-6.8 6.8m.3-3.9h6.8m-3.9-2.9v6.8m-2.9-6.8l6.8 6.8m0-6.8l-6.8 6.8m.3-3.9h6.8m-3.9-2.9v6.8m-2.9-6.8l6.8 6.8m0-6.8l-6.8 6.8m.3-3.9h6.8m-3.9-2.9v6.8m-2.9-6.8l6.8 6.8m0-6.8l-6.8 6.8m.2-3.9h6.8m-3.9-2.9v6.8m-2.9-6.8l6.8 6.8m0-6.8l-6.8 6.8m.3-4h6.8m-3.9-2.9v6.8m-2.9-6.8l6.8 6.8m0-6.8l-6.8 6.8m.3-3.9h6.8m-3.9-2.9v6.8m-2.9-6.8l6.8 6.8m0-6.8l-6.8 6.8m.3-3.9h6.8m-3.9-2.9v6.8m-2.9-6.8l6.8 6.8m0-6.8l-6.8 6.8m.3-3.9h6.8m-3.9-2.9v6.8m-2.9-6.8l6.8 6.8m0-6.8l-6.8 6.8m.3-3.9h6.8m-3.9-2.9v6.8m-2.9-6.8l6.8 6.8m0-6.8l-6.8 6.8m.3-3.9h6.8m-3.9-2.9v6.8m-2.9-6.8l6.8 6.8m0-6.8l-6.8 6.8m.2-3.9h6.8m-3.9-2.9v6.8m-2.9-6.8l6.8 6.8m0-6.8l-6.8 6.8m.3-3.9h6.8m-3.9-2.9v6.8m-2.9-6.8l6.8 6.8m0-6.8l-6.8 6.8m.3-3.9h6.8m-3.9-2.9v6.8m-2.9-6.8l6.8 6.8m0-6.8l-6.8 6.8m.3-3.9h6.8m-3.9-2.9v6.8m-2.9-6.8l6.8 6.8m0-6.8l-6.8 6.8m.3-3.9h6.8m-3.9-2.9v6.8m-2.9-6.8l6.8 6.8m0-6.8l-6.8 6.8m.3-4h6.8m-3.9-2.9v6.8m-2.9-6.8l6.8 6.8m0-6.8l-6.8 6.8m.3-3.9h6.8m-3.9-2.9v6.8m-2.9-6.8l6.8 6.8m0-6.8l-6.8 6.8m.2-3.9h6.8m-3.9-2.9v6.8m-2.9-6.8l6.8 6.8m0-6.8l-6.8 6.8m.3-3.9h6.8m-3.9-2.9v6.8m-2.9-6.8l6.8 6.8m0-6.8l-6.8 6.8m.3-3.9h6.8m-3.9-2.9v6.8m-2.9-6.8l6.8 6.8m0-6.8l-6.8 6.8m.3-3.9h6.8m-3.9-2.9v6.8m-2.9-6.8l6.8 6.8m0-6.8l-6.8 6.8m.3-3.9h6.8m-3.9-2.9v6.8m-2.9-6.8l6.8 6.8m0-6.8l-6.8 6.8m.3-3.9h6.8m-3.9-2.9v6.8m-2.9-6.8l6.8 6.8m0-6.8l-6.8 6.8m.3-3.9h6.8m-3.9-2.9v6.8m-2.9-6.8l6.8 6.8m0-6.8l-6.8 6.8m.2-3.9h6.8m-3.9-2.9v6.8m-2.9-6.8l6.8 6.8m0-6.8l-6.8 6.8m.3-4h6.8m-3.9-2.9v6.8m-2.9-6.8l6.8 6.8m0-6.8l-6.8 6.8m.3-3.9h6.8m-3.9-2.9v6.8m-2.9-6.8l6.8 6.8m0-6.8l-6.8 6.8m.3-3.9h6.8m-3.9-2.9v6.8m-2.9-6.8l6.8 6.8m0-6.8l-6.8 6.8m.3-3.9h6.8m-3.9-2.9v6.8m-2.9-6.8l6.8 6.8m0-6.8l-6.8 6.8m.3-3.9h6.8m-3.9-2.9v6.8m-2.9-6.8l6.8 6.8m0-6.8l-6.8 6.8m.3-3.9h6.8m-3.9-2.9v6.8m-2.9-6.8l6.8 6.8m0-6.8l-6.8 6.8m.3-3.9h6.8m-3.9-2.9v6.8m-2.9-6.8l6.8 6.8m0-6.8l-6.8 6.8m.2-3.9h6.8m-3.9-2.9v6.8m-2.9-6.8l6.8 6.8m0-6.8l-6.8 6.8m.3-3.9h6.8m-3.9-2.9v6.8m-2.9-6.8l6.8 6.8m0-6.8l-6.8 6.8m.3-3.9h6.8m-3.9-2.9v6.8m-2.9-6.8l6.8 6.8m0-6.8l-6.8 6.8m.3-4h6.8m-3.9-2.9v6.8m-2.9-6.8l6.8 6.8m0-6.8l-6.8 6.8m.3-3.9h6.8m-3.9-2.9v6.8m-2.9-6.8l6.8 6.8m0-6.8l-6.8 6.8m.3-3.9h6.8m-3.9-2.9v6.8m-2.9-6.8l6.8 6.8m0-6.8l-6.8 6.8m.3-3.9h6.8m-3.9-2.9v6.8m-2.9-6.8l6.8 6.8m0-6.8l-6.8 6.8m.2-3.9h6.8m-3.9-2.9v6.8m-2.9-6.8l6.8 6.8m0-6.8l-6.8 6.8m.3-3.9h6.8m-3.9-2.9v6.8m-2.9-6.8l6.8 6.8m0-6.8l-6.8 6.8m.3-3.9h6.8m-3.9-2.9v6.8m-2.9-6.8l6.8 6.8m0-6.8l-6.8 6.8m.3-3.9h6.8m-3.9-2.9v6.8m-2.9-6.8l6.8 6.8m0-6.8l-6.8 6.8m.3-3.9h6.8m-3.9-2.9v6.8m-2.9-6.8l6.8 6.8m0-6.8l-6.8 6.8m.3-3.9h6.8m-3.9-2.9v6.8m-2.9-6.8l6.8 6.8m0-6.8l-6.8 6.8m.3-4h6.8m-3.9-2.9v6.8m-2.9-6.8l6.8 6.8m0-6.8l-6.8 6.8m.2-3.9h6.8m-3.9-2.9v6.8m-2.9-6.8l6.8 6.8m0-6.8l-6.8 6.8m.3-3.9h6.8m-3.9-2.9v6.8m-2.9-6.8l6.8 6.8m0-6.8l-6.8 6.8m.3-3.9h6.8m-3.9-2.9v6.8m-2.9-6.8l6.8 6.8m0-6.8l-6.8 6.8m.3-3.9h6.8m-3.9-2.9v6.8m-2.9-6.8l6.8 6.8m0-6.8l-6.8 6.8m.3-3.9h6.8m-3.9-2.9v6.8m-2.9-6.8l6.8 6.8m0-6.8l-6.8 6.8m.3-3.9h6.8m-3.9-2.9v6.8m-2.9-6.8l6.8 6.8m0-6.8l-6.8 6.8m.3-3.9h6.8m-3.9-2.9v6.8m-2.9-6.8l6.8 6.8m0-6.8l-6.8 6.8m.2-3.9h6.8m-3.9-2.9v6.8m-2.9-6.8l6.8 6.8m0-6.8l-6.8 6.8m.3-3.9h6.8m-3.9-2.9v6.8m-2.9-6.8l6.8 6.8m0-6.8l-6.8 6.8m.3-4h6.8m-3.9-2.9v6.8m-2.9-6.8l6.8 6.8m0-6.8l-6.8 6.8m.3-3.9h6.8m-3.9-2.9v6.8m-2.9-6.8l6.8 6.8m0-6.8l-6.8 6.8m.3-3.9h6.8m-3.9-2.9v6.8m-2.9-6.8l6.8 6.8m0-6.8l-6.8 6.8m.3-3.9h6.8m-3.9-2.9v6.8m-2.9-6.8l6.8 6.8m0-6.8l-6.8 6.8m.3-3.9h6.8m-3.9-2.9v6.8m-2.9-6.8l6.8 6.8m0-6.8l-6.8 6.8m.2-3.9h6.8m-3.9-2.9v6.8m-2.9-6.8l6.8 6.8m0-6.8l-6.8 6.8m.3-3.9h6.8m-3.9-2.9v6.8m-2.9-6.8l6.8 6.8m0-6.8l-6.8 6.8m.3-3.9h6.8m-3.9-2.9v6.8m-2.9-6.8l6.8 6.8m0-6.8l-6.8 6.8m.3-3.9h6.8m-3.9-2.9v6.8m-2.9-6.8l6.8 6.8m0-6.8l-6.8 6.8m.3-3.9h6.8m-3.9-2.9v6.8m-2.9-6.8l6.8 6.8m0-6.8l-6.8 6.8m.3-4h6.8m-3.9-2.9v6.8m-2.9-6.8l6.8 6.8m0-6.8l-6.8 6.8m.3-3.9h6.8m-3.9-2.9v6.8m-2.9-6.8l6.8 6.8m0-6.8l-6.8 6.8m.2-3.9h6.8m-3.9-2.9v6.8m-2.9-6.8l6.8 6.8m0-6.8l-6.8 6.8m.3-3.9h6.8m-3.9-2.9v6.8m-2.9-6.8l6.8 6.8m0-6.8l-6.8 6.8m.3-3.9h6.8m-3.9-2.9v6.8m-2.9-6.8l6.8 6.8m0-6.8l-6.8 6.8m.3-3.9h6.8m-3.9-2.9v6.8m-2.9-6.8l6.8 6.8m0-6.8l-6.8 6.8m.3-3.9h6.8m-3.9-2.9v6.8m-2.9-6.8l6.8 6.8m0-6.8l-6.8 6.8m.3-3.9h6.8m-3.9-2.9v6.8m-2.9-6.8l6.8 6.8m0-6.8l-6.8 6.8m.3-3.9h6.8m-3.9-2.9v6.8m-2.9-6.8l6.8 6.8m0-6.8l-6.8 6.8m.2-3.9h6.8m-3.9-2.9v6.8m-2.9-6.8l6.8 6.8m0-6.8l-6.8 6.8m.3-3.9h6.8m-3.9-2.9v6.8m-2.9-6.8l6.8 6.8m0-6.8l-6.8 6.8m.3-4h6.8m-3.9-2.9v6.8m-2.9-6.8l6.8 6.8m0-6.8l-6.8 6.8m.3-3.9h6.8m-3.9-2.9v6.8m-2.9-6.8l6.8 6.8m0-6.8l-6.8 6.8m.3-3.9h6.8m-3.9-2.9v6.8m-2.9-6.8l6.8 6.8m0-6.8l-6.8 6.8m.3-3.9h6.8m-3.9-2.9v6.8m-2.9-6.8l6.8 6.8m0-6.8l-6.8 6.8m.3-3.9h6.8m-3.9-2.9v6.8m-2.9-6.8l6.8 6.8m0-6.8l-6.8 6.8m.3-3.9h6.8m-3.9-2.9v6.8m-2.9-6.8l6.8 6.8m0-6.8l-6.8 6.8m.2-3.9h6.8m-3.9-2.9v6.8m-2.9-6.8l6.8 6.8m0-6.8l-6.8 6.8m.3-3.9h6.8m-3.9-2.9v6.8m-2.9-6.8l6.8 6.8m0-6.8l-6.8 6.8m.3-3.9h6.8m-3.9-2.9v6.8m-2.9-6.8l6.8 6.8m0-6.8l-6.8 6.8m.3-3.9h6.8m-3.9-2.9v6.8m-2.9-6.8l6.8 6.8m0-6.8l-6.8 6.8m.3-4h6.8m-3.9-2.9v6.8m-2.9-6.8l6.8 6.8m0-6.8l-6.8 6.8m.3-3.9h6.8m-3.9-2.9v6.8m-2.9-6.8l6.8 6.8m0-6.8l-6.8 6.8m.3-3.9h6.8m-3.9-2.9v6.8m-2.9-6.8l6.8 6.8m0-6.8l-6.8 6.8m.2-3.9h6.8m-3.9-2.9v6.8m-2.9-6.8l6.8 6.8m0-6.8l-6.8 6.8m.3-3.9h6.8m-3.9-2.9v6.8m-2.9-6.8l6.8 6.8m0-6.8l-6.8 6.8m.3-3.9h6.8m-3.9-2.9v6.8m-2.9-6.8l6.8 6.8m0-6.8l-6.8 6.8m.3-3.9h6.8m-3.9-2.9v6.8m-2.9-6.8l6.8 6.8m0-6.8l-6.8 6.8m.3-3.9h6.8m-3.9-2.9v6.8m-2.9-6.8l6.8 6.8m0-6.8l-6.8 6.8m.3-3.9h6.8m-3.9-2.9v6.8m-2.9-6.8l6.8 6.8m0-6.8l-6.8 6.8m.3-3.9h6.8m-3.9-2.9v6.8m-2.9-6.8l6.8 6.8m0-6.8l-6.8 6.8m.2-4h6.8m-3.9-2.9v6.8m-2.9-6.8l6.8 6.8m0-6.8l-6.8 6.8m.3-3.9h6.8m-3.9-2.9v6.8m-2.9-6.8l6.8 6.8m0-6.8l-6.8 6.8m.3-3.9h6.8m-3.9-2.9v6.8m-2.9-6.8l6.8 6.8m0-6.8l-6.8 6.8m.3-3.9h6.8m-3.9-2.9v6.8m-2.9-6.8l6.8 6.8m0-6.8l-6.8 6.8m.3-3.9h6.8m-3.9-2.9v6.8m-2.9-6.8l6.8 6.8m0-6.8l-6.8 6.8m.3-3.9h6.8m-3.9-2.9v6.8m-2.9-6.8l6.8 6.8m0-6.8l-6.8 6.8m.3-3.9h6.8m-3.9-2.9v6.8m-2.9-6.8l6.8 6.8m0-6.8l-6.8 6.8m.2-3.9h6.8m-3.9-2.9v6.8m-2.9-6.8l6.8 6.8m0-6.8l-6.8 6.8m.3-3.9h6.8m-3.9-2.9v6.8m-2.9-6.8l6.8 6.8m0-6.8l-6.8 6.8m.3-3.9h6.8m-3.9-2.9v6.8m-2.9-6.8l6.8 6.8m0-6.8l-6.8 6.8m.3-4h6.8m-3.9-2.9v6.8m-2.9-6.8l6.8 6.8m0-6.8l-6.8 6.8m.3-3.9h6.8m-3.9-2.9v6.8m-2.9-6.8l6.8 6.8m0-6.8l-6.8 6.8m.3-3.9h6.8m-3.9-2.9v6.8m-2.9-6.8l6.8 6.8m0-6.8l-6.8 6.8m.3-3.9h6.8m-3.9-2.9v6.8m-2.9-6.8l6.8 6.8m0-6.8l-6.8 6.8m.2-3.9h6.8m-3.9-2.9v6.8m-2.9-6.8l6.8 6.8m0-6.8l-6.8 6.8m.3-3.9h6.8m-3.9-2.9v6.8m-2.9-6.8l6.8 6.8m0-6.8l-6.8 6.8m.3-3.9h6.8m-3.9-2.9v6.8m-2.9-6.8l6.8 6.8m0-6.8l-6.8 6.8m.3-3.9h6.8m-3.9-2.9v6.8m-2.9-6.8l6.8 6.8m0-6.8l-6.8 6.8m.3-3.9h6.8m-3.9-2.9v6.8m-2.9-6.8l6.8 6.8m0-6.8l-6.8 6.8m.3-3.9h6.8m-3.9-2.9v6.8m-2.9-6.8l6.8 6.8m0-6.8l-6.8 6.8m.3-4h6.8m-3.9-2.9v6.8m-2.9-6.8l6.8 6.8m0-6.8l-6.8 6.8m.2-3.9h6.8m-3.9-2.9v6.8m-2.9-6.8l6.8 6.8m0-6.8l-6.8 6.8m.3-3.9h6.8m-3.9-2.9v6.8m-2.9-6.8l6.8 6.8m0-6.8l-6.8 6.8m.3-3.9h6.8m-3.9-2.9v6.8m-2.9-6.8l6.8 6.8m0-6.8l-6.8 6.8m.3-3.9h6.8m-3.9-2.9v6.8m-2.9-6.8l6.8 6.8m0-6.8l-6.8 6.8m.3-3.9h6.8m-3.9-2.9v6.8m-2.9-6.8l6.8 6.8m0-6.8l-6.8 6.8m.3-3.9h6.8m-3.9-2.9v6.8m-2.9-6.8l6.8 6.8m0-6.8l-6.8 6.8m.3-3.9h6.8m-3.9-2.9v6.8m-2.9-6.8l6.8 6.8m0-6.8l-6.8 6.8m.2-3.9h6.8m-3.9-2.9v6.8m-2.9-6.8l6.8 6.8m0-6.8l-6.8 6.8m.3-3.9h6.8m-3.9-2.9v6.8m-2.9-6.8l6.8 6.8m0-6.8l-6.8 6.8m.3-4h6.8m-3.9-2.9v6.8m-2.9-6.8l6.8 6.8m0-6.8l-6.8 6.8m.3-3.9h6.8m-3.9-2.9v6.8m-2.9-6.8l6.8 6.8m0-6.8l-6.8 6.8m.3-3.9h6.8m-3.9-2.9v6.8m-2.9-6.8l6.8 6.8m0-6.8l-6.8 6.8m.3-3.9h6.8m-3.9-2.9v6.8m-2.9-6.8l6.8 6.8m0-6.8l-6.8 6.8m.3-3.9h6.8m-3.9-2.9v6.8m-2.9-6.8l6.8 6.8m0-6.8l-6.8 6.8m.2-3.9h6.8m-3.9-2.9v6.8m-2.9-6.8l6.8 6.8m0-6.8l-6.8 6.8m.3-3.9h6.8m-3.9-2.9v6.8m-2.9-6.8l6.8 6.8m0-6.8l-6.8 6.8m.3-3.9h6.8m-3.9-2.9v6.8m-2.9-6.8l6.8 6.8m0-6.8l-6.8 6.8m.3-3.9h6.8m-3.9-2.9v6.8m-2.9-6.8l6.8 6.8m0-6.8l-6.8 6.8m.3-3.9h6.8m-3.9-2.9v6.8m-2.9-6.8l6.8 6.8m0-6.8l-6.8 6.8m.3-4h6.8m-3.9-2.9v6.8m-2.9-6.8l6.8 6.8m0-6.8l-6.8 6.8m.3-3.9h6.8m-3.9-2.9v6.8m-2.9-6.8l6.8 6.8m0-6.8l-6.8 6.8m.3-3.9h6.8m-3.9-2.9v6.8m-2.9-6.8l6.8 6.8m0-6.8l-6.8 6.8m.2-3.9h6.8m-3.9-2.9v6.8m-2.9-6.8l6.8 6.8m0-6.8l-6.8 6.8m.3-3.9h6.8m-3.9-2.9v6.8m-2.9-6.8l6.8 6.8m0-6.8l-6.8 6.8m.3-3.9h6.8m-3.9-2.9v6.8m-2.9-6.8l6.8 6.8m0-6.8l-6.8 6.8m.3-3.9h6.8m-3.9-2.9v6.8m-2.9-6.8l6.8 6.8m0-6.8l-6.8 6.8m.3-3.9h6.8m-3.9-2.9v6.8m-2.9-6.8l6.8 6.8m0-6.8l-6.8 6.8m.3-3.9h6.8m-3.9-2.9v6.8m-2.9-6.8l6.8 6.8m0-6.8l-6.8 6.8m.3-3.9h6.8m-3.9-2.9v6.8m-2.9-6.8l6.8 6.8m0-6.8l-6.8 6.8m.2-3.9h6.8m-3.9-2.9v6.8m-2.9-6.8l6.8 6.8m0-6.8l-6.8 6.8m.3-4h6.8m-3.9-2.9v6.8m-2.9-6.8l6.8 6.8m0-6.8l-6.8 6.8m.3-3.9h6.8m-3.9-2.9v6.8m-2.9-6.8l6.8 6.8m0-6.8l-6.8 6.8m.3-3.9h6.8m-3.9-2.9v6.8m-2.9-6.8l6.8 6.8m0-6.8l-6.8 6.8m.3-3.9h6.8m-3.9-2.9v6.8m-2.9-6.8l6.8 6.8m0-6.8l-6.8 6.8m.3-3.9h6.8m-3.9-2.9v6.8m-2.9-6.8l6.8 6.8m0-6.8l-6.8 6.8m.3-3.9h6.8m-3.9-2.9v6.8m-2.9-6.8l6.8 6.8m0-6.8l-6.8 6.8m.2-3.9h6.8m-3.9-2.9v6.8m-2.9-6.8l6.8 6.8m0-6.8l-6.8 6.8m.3-3.9h6.8m-3.9-2.9v6.8m-2.9-6.8l6.8 6.8m0-6.8l-6.8 6.8m.3-3.9h6.8m-3.9-2.9v6.8m-2.9-6.8l6.8 6.8m0-6.8l-6.8 6.8m.3-3.9h6.8m-3.9-2.9v6.8m-2.9-6.8l6.8 6.8m0-6.8l-6.8 6.8m.3-4h6.8m-3.9-2.9v6.8m-2.9-6.8l6.8 6.8m0-6.8l-6.8 6.8m.3-3.9h6.8m-3.9-2.9v6.8m-2.9-6.8l6.8 6.8m0-6.8l-6.8 6.8m.3-3.9h6.8m-3.9-2.9v6.8m-2.9-6.8l6.8 6.8m0-6.8l-6.8 6.8m.2-3.9h6.8m-3.9-2.9v6.8m-2.9-6.8l6.8 6.8m0-6.8l-6.8 6.8m.3-3.9h6.8m-3.9-2.9v6.8m-2.9-6.8l6.8 6.8m0-6.8l-6.8 6.8m.3-3.9h6.8m-3.9-2.9v6.8m-2.9-6.8l6.8 6.8m0-6.8l-6.8 6.8m.3-3.9h6.8m-3.9-2.9v6.8m-2.9-6.8l6.8 6.8m0-6.8l-6.8 6.8m.3-3.9h6.8m-3.9-2.9v6.8m-2.9-6.8l6.8 6.8m0-6.8l-6.8 6.8m.3-3.9h6.8m-3.9-2.9v6.8m-2.9-6.8l6.8 6.8m0-6.8l-6.8 6.8m.3-3.9h6.8m-3.9-2.9v6.8m-2.9-6.8l6.8 6.8m0-6.8l-6.8 6.8m.2-4h6.8m-3.9-2.9v6.8m-2.9-6.8l6.8 6.8m0-6.8l-6.8 6.8m.3-3.9h6.8m-3.9-2.9v6.8m-2.9-6.8l6.8 6.8m0-6.8l-6.8 6.8m.3-3.9h6.8m-3.9-2.9v6.8m-2.9-6.8l6.8 6.8m0-6.8l-6.8 6.8m.3-3.9h6.8m-3.9-2.9v6.8m-2.9-6.8l6.8 6.8m0-6.8l-6.8 6.8m.3-3.9h6.8m-3.9-2.9v6.8m-2.9-6.8l6.8 6.8m0-6.8l-6.8 6.8m.3-3.9h6.8m-3.9-2.9v6.8m-2.9-6.8l6.8 6.8m0-6.8l-6.8 6.8m.3-3.9h6.8m-3.9-2.9v6.8m-2.9-6.8l6.8 6.8m0-6.8l-6.8 6.8m.2-3.9h6.8m-3.9-2.9v6.8m-2.9-6.8l6.8 6.8m0-6.8l-6.8 6.8m.3-3.9h6.8m-3.9-2.9v6.8m-2.9-6.8l6.8 6.8m0-6.8l-6.8 6.8m.3-3.9h6.8m-3.9-2.9v6.8m-2.9-6.8l6.8 6.8m0-6.8l-6.8 6.8m.3-4h6.8m-3.9-2.9v6.8m-2.9-6.8l6.8 6.8m0-6.8l-6.8 6.8m.3-3.9h6.8m-3.9-2.9v6.8m-2.9-6.8l6.8 6.8m0-6.8l-6.8 6.8m.3-3.9h6.8m-3.9-2.9v6.8m-2.9-6.8l6.8 6.8m0-6.8l-6.8 6.8m.3-3.9h6.8m-3.9-2.9v6.8m-2.9-6.8l6.8 6.8m0-6.8l-6.8 6.8m.2-3.9h6.8m-3.9-2.9v6.8m-2.9-6.8l6.8 6.8m0-6.8l-6.8 6.8m.3-3.9h6.8m-3.9-2.9v6.8m-2.9-6.8l6.8 6.8m0-6.8l-6.8 6.8m.3-3.9h6.8m-3.9-2.9v6.8m-2.9-6.8l6.8 6.8m0-6.8l-6.8 6.8m.3-3.9h6.8m-3.9-2.9v6.8m-2.9-6.8l6.8 6.8m0-6.8l-6.8 6.8m.3-3.9h6.8m-3.9-2.9v6.8m-2.9-6.8l6.8 6.8m0-6.8l-6.8 6.8m.3-3.9h6.8m-3.9-2.9v6.8m-2.9-6.8l6.8 6.8m0-6.8l-6.8 6.8m.3-4h6.8m-3.9-2.9v6.8m-2.9-6.8l6.8 6.8m0-6.8l-6.8 6.8m.3-3.9h6.8m-3.9-2.9v6.8m-2.9-6.8l6.8 6.8m0-6.8l-6.8 6.8m.2-3.9h6.8m-3.9-2.9v6.8m-2.9-6.8l6.8 6.8m0-6.8l-6.8 6.8m.3-3.9h6.8m-3.9-2.9v6.8m-2.9-6.8l6.8 6.8m0-6.8l-6.8 6.8m.3-3.9h6.8m-3.9-2.9v6.8m-2.9-6.8l6.8 6.8m0-6.8l-6.8 6.8m.3-3.9h6.8m-3.9-2.9v6.8m-2.9-6.8l6.8 6.8m0-6.8l-6.8 6.8m.3-3.9h6.8m-3.9-2.9v6.8m-2.9-6.8l6.8 6.8m0-6.8l-6.8 6.8m.3-3.9h6.8m-3.9-2.9v6.8m-2.9-6.8l6.8 6.8m0-6.8l-6.8 6.8m.3-3.9h6.8m-3.9-2.9v6.8m-2.9-6.8l6.8 6.8m0-6.8l-6.8 6.8m.2-3.9h6.8m-3.9-2.9v6.8m-2.9-6.8l6.8 6.8m0-6.8l-6.8 6.8m.3-4h6.8m-3.9-2.9v6.8m-2.9-6.8l6.8 6.8m0-6.8l-6.8 6.8m.3-3.9h6.8m-3.9-2.9v6.8m-2.9-6.8l6.8 6.8m0-6.8l-6.8 6.8m.3-3.9h6.8m-3.9-2.9v6.8m-2.9-6.8l6.8 6.8m0-6.8l-6.8 6.8m.3-3.9h6.8m-3.9-2.9v6.8m-2.9-6.8l6.8 6.8m0-6.8l-6.8 6.8m.3-3.9h6.8m-3.9-2.9v6.8m-2.9-6.8l6.8 6.8m0-6.8l-6.8 6.8m.3-3.9h6.8m-3.9-2.9v6.8m-2.9-6.8l6.8 6.8m0-6.8l-6.8 6.8m.2-3.9h6.8m-3.9-2.9v6.8m-2.9-6.8l6.8 6.8m0-6.8l-6.8 6.8m.3-3.9h6.8m-3.9-2.9v6.8m-2.9-6.8l6.8 6.8m0-6.8l-6.8 6.8m.3-3.9h6.8m-3.9-2.9v6.8m-2.9-6.8l6.8 6.8m0-6.8l-6.8 6.8m.3-3.9h6.8m-3.9-2.9v6.8m-2.9-6.8l6.8 6.8m0-6.8l-6.8 6.8m.3-3.9h6.8m-3.9-2.9v6.8m-2.9-6.8l6.8 6.8m0-6.8l-6.8 6.8m.3-4h6.8m-3.9-2.9v6.8m-2.9-6.8l6.8 6.8m0-6.8l-6.8 6.8m.3-3.9h6.8m-3.9-2.9v6.8m-2.9-6.8l6.8 6.8m0-6.8l-6.8 6.8m.2-3.9h6.8m-3.9-2.9v6.8m-2.9-6.8l6.8 6.8m0-6.8l-6.8 6.8m.3-3.9h6.8m-3.9-2.9v6.8m-2.9-6.8l6.8 6.8m0-6.8l-6.8 6.8m.3-3.9h6.8m-3.9-2.9v6.8m-2.9-6.8l6.8 6.8m0-6.8l-6.8 6.8m.3-3.9h6.8m-3.9-2.9v6.8m-2.9-6.8l6.8 6.8m0-6.8l-6.8 6.8m.3-3.9h6.8m-3.9-2.9v6.8m-2.9-6.8l6.8 6.8m0-6.8l-6.8 6.8m.3-3.9h6.8m-3.9-2.9v6.8m-2.9-6.8l6.8 6.8m0-6.8l-6.8 6.8m.3-3.9h6.8m-3.9-2.9v6.8m-2.9-6.8l6.8 6.8m0-6.8l-6.8 6.8m.2-3.9h6.8m-3.9-2.9v6.8m-2.9-6.8l6.8 6.8m0-6.8l-6.8 6.8m.3-4h6.8m-3.9-2.9v6.8m-2.9-6.8l6.8 6.8m0-6.8l-6.8 6.8m.3-3.9h6.8m-3.9-2.9v6.8m-2.9-6.8l6.8 6.8m0-6.8l-6.8 6.8m.3-3.9h6.8m-3.9-2.9v6.8m-2.9-6.8l6.8 6.8m0-6.8l-6.8 6.8m.3-3.9h6.8m-3.9-2.9v6.8m-2.9-6.8l6.8 6.8m0-6.8l-6.8 6.8m.3-3.9h6.8m-3.9-2.9v6.8m-2.9-6.8l6.8 6.8m0-6.8l-6.8 6.8m.3-3.9h6.8m-3.9-2.9v6.8m-2.9-6.8l6.8 6.8m0-6.8l-6.8 6.8m.2-3.9h6.8m-3.9-2.9v6.8m-2.9-6.8l6.8 6.8m0-6.8l-6.8 6.8m.3-3.9h6.8m-3.9-2.9v6.8m-2.9-6.8l6.8 6.8m0-6.8l-6.8 6.8m.3-3.9h6.8m-3.9-2.9v6.8m-2.9-6.8l6.8 6.8m0-6.8l-6.8 6.8m.3-3.9h6.8m-3.9-2.9v6.8m-2.9-6.8l6.8 6.8m0-6.8l-6.8 6.8m.3-4h6.8m-3.9-2.9v6.8m-2.9-6.8l6.8 6.8m0-6.8l-6.8 6.8m.3-3.9h6.8m-3.9-2.9v6.8m-2.9-6.8l6.8 6.8m0-6.8l-6.8 6.8m.3-3.9h6.8m-3.9-2.9v6.8m-2.9-6.8l6.8 6.8m0-6.8l-6.8 6.8m.2-3.9h6.8m-3.9-2.9v6.8m-2.9-6.8l6.8 6.8m0-6.8l-6.8 6.8m.3-3.9h6.8m-3.9-2.9v6.8m-2.9-6.8l6.8 6.8m0-6.8l-6.8 6.8m.3-3.9h6.8m-3.9-2.9v6.8m-2.9-6.8l6.8 6.8m0-6.8l-6.8 6.8m.3-3.9h6.8m-3.9-2.9v6.8m-2.9-6.8l6.8 6.8m0-6.8l-6.8 6.8m.3-3.9h6.8m-3.9-2.9v6.8m-2.9-6.8l6.8 6.8m0-6.8l-6.8 6.8m.3-3.9h6.8m-3.9-2.9v6.8m-2.9-6.8l6.8 6.8m0-6.8l-6.8 6.8m.3-3.9h6.8m-3.9-2.9v6.8m-2.9-6.8l6.8 6.8m0-6.8l-6.8 6.8m.2-4h6.8m-3.9-2.9v6.8m-2.9-6.8l6.8 6.8m0-6.8l-6.8 6.8m.3-3.9h6.8m-3.9-2.9v6.8m-2.9-6.8l6.8 6.8m0-6.8l-6.8 6.8m.3-3.9h6.8m-3.9-2.9v6.8m-2.9-6.8l6.8 6.8m0-6.8l-6.8 6.8m.3-3.9h6.8m-3.9-2.9v6.8m-2.9-6.8l6.8 6.8m0-6.8l-6.8 6.8m.3-3.9h6.8m-3.9-2.9v6.8m-2.9-6.8l6.8 6.8m0-6.8l-6.8 6.8m.3-3.9h6.8m-3.9-2.9v6.8m-2.9-6.8l6.8 6.8m0-6.8l-6.8 6.8m.3-3.9h6.8m-3.9-2.9v6.8m-2.9-6.8l6.8 6.8m0-6.8l-6.8 6.8m.3-3.9h6.8m-3.9-2.9v6.8m-2.9-6.8l6.8 6.8m0-6.8l-6.8 6.8m.2-3.9h6.8m-3.9-2.9v6.8m-2.9-6.8l6.8 6.8m0-6.8l-6.8 6.8m.3-3.9h6.8m-3.9-2.9v6.8m-2.9-6.8l6.8 6.8m0-6.8l-6.8 6.8m.3-4h6.8m-3.9-2.9v6.8m-2.9-6.8l6.8 6.8m0-6.8l-6.8 6.8m.3-3.9h6.8m-3.9-2.9v6.8m-2.9-6.8l6.8 6.8m0-6.8l-6.8 6.8m.3-3.9h6.8m-3.9-2.9v6.8m-2.9-6.8l6.8 6.8m0-6.8l-6.8 6.8m.3-3.9h6.8m-3.9-2.9v6.8m-2.9-6.8l6.8 6.8m0-6.8l-6.8 6.8m.3-3.9h6.8m-3.9-2.9v6.8m-2.9-6.8l6.8 6.8m0-6.8l-6.8 6.8m.2-3.9h6.8m-3.9-2.9v6.8m-2.9-6.8l6.8 6.8m0-6.8l-6.8 6.8m.3-3.9h6.8m-3.9-2.9v6.8m-2.9-6.8l6.8 6.8m0-6.8l-6.8 6.8m.3-3.9h6.8m-3.9-2.9v6.8m-2.9-6.8l6.8 6.8m0-6.8l-6.8 6.8m.3-3.9h6.8m-3.9-2.9v6.8m-2.9-6.8l6.8 6.8m0-6.8l-6.8 6.8m.3-3.9h6.8m-3.9-2.9v6.8m-2.9-6.8l6.8 6.8m0-6.8l-6.8 6.8m.3-4h6.8m-3.9-2.9v6.8m-2.9-6.8l6.8 6.8m0-6.8l-6.8 6.8m.3-3.9h6.8m-3.9-2.9v6.8m-2.9-6.8l6.8 6.8m0-6.8l-6.8 6.8m.2-3.9h6.8m-3.9-2.9v6.8m-2.9-6.8l6.8 6.8m0-6.8l-6.8 6.8m.3-3.9h6.8m-3.9-2.9v6.8m-2.9-6.8l6.8 6.8m0-6.8l-6.8 6.8m.3-3.9h6.8m-3.9-2.9v6.8m-2.9-6.8l6.8 6.8m0-6.8l-6.8 6.8m.3-3.9h6.8m-3.9-2.9v6.8m-2.9-6.8l6.8 6.8m0-6.8l-6.8 6.8m.3-3.9h6.8m-3.9-2.9v6.8m-2.9-6.8l6.8 6.8m0-6.8l-6.8 6.8m.3-3.9h6.8m-3.9-2.9v6.8m-2.9-6.8l6.8 6.8m0-6.8l-6.8 6.8m.3-3.9h6.8m-3.9-2.9v6.8m-2.9-6.8l6.8 6.8m0-6.8l-6.8 6.8m.2-3.9h6.8m-3.9-2.9v6.8m-2.9-6.8l6.8 6.8m0-6.8l-6.8 6.8m.3-3.9h6.8m-3.9-2.9v6.8m-2.9-6.8l6.8 6.8m0-6.8l-6.8 6.8m.3-4h6.8m-3.9-2.9v6.8m-2.9-6.8l6.8 6.8m0-6.8l-6.8 6.8m.3-3.9h6.8m-3.9-2.9v6.8m-2.9-6.8l6.8 6.8m0-6.8l-6.8 6.8m.3-3.9h6.8m-3.9-2.9v6.8m-2.9-6.8l6.8 6.8m0-6.8l-6.8 6.8m.3-3.9h6.8m-3.9-2.9v6.8m-2.9-6.8l6.8 6.8m0-6.8l-6.8 6.8m.3-3.9h6.8m-3.9-2.9v6.8m-2.9-6.8l6.8 6.8m0-6.8l-6.8 6.8m.2-3.9h6.8m-3.9-2.9v6.8m-2.9-6.8l6.8 6.8m0-6.8l-6.8 6.8m.3-3.9h6.8m-3.9-2.9v6.8m-2.9-6.8l6.8 6.8m0-6.8l-6.8 6.8m.3-3.9h6.8m-3.9-2.9v6.8m-2.9-6.8l6.8 6.8m0-6.8l-6.8 6.8m.3-3.9h6.8m-3.9-2.9v6.8m-2.9-6.8l6.8 6.8m0-6.8l-6.8 6.8m.3-3.9h6.8m-3.9-2.9v6.8m-2.9-6.8l6.8 6.8m0-6.8l-6.8 6.8m.3-4h6.8m-3.9-2.9v6.8m-2.9-6.8l6.8 6.8m0-6.8l-6.8 6.8m.3-3.9h6.8m-3.9-2.9v6.8m-2.9-6.8l6.8 6.8m0-6.8l-6.8 6.8m.2-3.9h6.8m-3.9-2.9v6.8m-2.9-6.8l6.8 6.8m0-6.8l-6.8 6.8m.3-3.9h6.8m-3.9-2.9v6.8m-2.9-6.8l6.8 6.8m0-6.8l-6.8 6.8m.3-3.9h6.8m-3.9-2.9v6.8m-2.9-6.8l6.8 6.8m0-6.8l-6.8 6.8m.3-3.9h6.8m-3.9-2.9v6.8m-2.9-6.8l6.8 6.8m0-6.8l-6.8 6.8m.3-3.9h6.8m-3.9-2.9v6.8m-2.9-6.8l6.8 6.8m0-6.8l-6.8 6.8m.3-3.9h6.8m-3.9-2.9v6.8m-2.9-6.8l6.8 6.8m0-6.8l-6.8 6.8m.3-3.9h6.8m-3.9-2.9v6.8m-2.9-6.8l6.8 6.8m0-6.8l-6.8 6.8m.2-3.9h6.8m-3.9-2.9v6.8m-2.9-6.8l6.8 6.8m0-6.8l-6.8 6.8m.3-4h6.8m-3.9-2.9v6.8m-2.9-6.8l6.8 6.8m0-6.8l-6.8 6.8m.3-3.9h6.8m-3.9-2.9v6.8m-2.9-6.8l6.8 6.8m0-6.8l-6.8 6.8m.3-3.9h6.8m-3.9-2.9v6.8m-2.9-6.8l6.8 6.8m0-6.8l-6.8 6.8m.3-3.9h6.8m-3.9-2.9v6.8m-2.9-6.8l6.8 6.8m0-6.8l-6.8 6.8m.3-3.9h6.8m-3.9-2.9v6.8m-2.9-6.8l6.8 6.8m0-6.8l-6.8 6.8m.3-3.9h6.8m-3.9-2.9v6.8m-2.9-6.8l6.8 6.8m0-6.8l-6.8 6.8m.3-3.9h6.8m-3.9-2.9v6.8m-2.9-6.8l6.8 6.8m0-6.8l-6.8 6.8m.2-3.9h6.8m-3.9-2.9v6.8m-2.9-6.8l6.8 6.8m0-6.8l-6.8 6.8m.3-3.9h6.8m-3.9-2.9v6.8m-2.9-6.8l6.8 6.8m0-6.8l-6.8 6.8m.3-3.9h6.8m-3.9-2.9v6.8m-2.9-6.8l6.8 6.8m0-6.8l-6.8 6.8m.3-4h6.8m-3.9-2.9v6.8m-2.9-6.8l6.8 6.8m0-6.8l-6.8 6.8m.3-3.9h6.8m-3.9-2.9v6.8m-2.9-6.8l6.8 6.8m0-6.8l-6.8 6.8m.3-3.9h6.8m-3.9-2.9v6.8m-2.9-6.8l6.8 6.8m0-6.8l-6.8 6.8m.3-3.9h6.8m-3.9-2.9v6.8m-2.9-6.8l6.8 6.8m0-6.8l-6.8 6.8m.2-3.9h6.8m-3.9-2.9v6.8m-2.9-6.8l6.8 6.8m0-6.8l-6.8 6.8m.3-3.9h6.8m-3.9-2.9v6.8m-2.9-6.8l6.8 6.8m0-6.8l-6.8 6.8m.3-3.9h6.8m-3.9-2.9v6.8m-2.9-6.8l6.8 6.8m0-6.8l-6.8 6.8m.3-3.9h6.8m-3.9-2.9v6.8m-2.9-6.8l6.8 6.8m0-6.8l-6.8 6.8m.3-3.9h6.8m-3.9-2.9v6.8m-2.9-6.8l6.8 6.8m0-6.8l-6.8 6.8m.3-3.9h6.8m-3.9-2.9v6.8m-2.9-6.8l6.8 6.8m0-6.8l-6.8 6.8m.3-4h6.8m-3.9-2.9v6.8m-2.9-6.8l6.8 6.8m0-6.8l-6.8 6.8m.2-3.9h6.8m-3.9-2.9v6.8m-2.9-6.8l6.8 6.8m0-6.8l-6.8 6.8m.3-3.9h6.8m-3.9-2.9v6.8m-2.9-6.8l6.8 6.8m0-6.8l-6.8 6.8m.3-3.9h6.8m-3.9-2.9v6.8m-2.9-6.8l6.8 6.8m0-6.8l-6.8 6.8m.3-3.9h6.8m-3.9-2.9v6.8m-2.9-6.8l6.8 6.8m0-6.8l-6.8 6.8m.3-3.9h6.8m-3.9-2.9v6.8m-2.9-6.8l6.8 6.8m0-6.8l-6.8 6.8m.3-3.9h6.8m-3.9-2.9v6.8m-2.9-6.8l6.8 6.8m0-6.8l-6.8 6.8m.3-3.9h6.8m-3.9-2.9v6.8m-2.9-6.8l6.8 6.8m0-6.8l-6.8 6.8m.2-3.9h6.8m-3.9-2.9v6.8m-2.9-6.8l6.8 6.8m0-6.8l-6.8 6.8m.3-3.9h6.8m-3.9-2.9v6.8m-2.9-6.8l6.8 6.8m0-6.8l-6.8 6.8m.3-4h6.8m-3.9-2.9v6.8m-2.9-6.8l6.8 6.8m0-6.8l-6.8 6.8m.3-3.9h6.8m-3.9-2.9v6.8m-2.9-6.8l6.8 6.8m0-6.8l-6.8 6.8m.3-3.9h6.8m-3.9-2.9v6.8m-2.9-6.8l6.8 6.8m0-6.8l-6.8 6.8m.3-3.9h6.8m-3.9-2.9v6.8m-2.9-6.8l6.8 6.8m0-6.8l-6.8 6.8m.3-3.9h6.8m-3.9-2.9v6.8m-2.9-6.8l6.8 6.8m0-6.8l-6.8 6.8m.2-3.9h6.8m-3.9-2.9v6.8m-2.9-6.8l6.8 6.8m0-6.8l-6.8 6.8m.3-3.9h6.8m-3.9-2.9v6.8m-2.9-6.8l6.8 6.8m0-6.8l-6.8 6.8m.3-3.9h6.8m-3.9-2.9v6.8m-2.9-6.8l6.8 6.8m0-6.8l-6.8 6.8m.3-3.9h6.8m-3.9-2.9v6.8m-2.9-6.8l6.8 6.8m0-6.8l-6.8 6.8m.3-3.9h6.8m-3.9-2.9v6.8m-2.9-6.8l6.8 6.8m0-6.8l-6.8 6.8m.3-3.9h6.8m-3.9-2.9v6.8m-2.9-6.8l6.8 6.8m0-6.8l-6.8 6.8m.3-4h6.8m-3.9-2.9v6.8m-2.9-6.8l6.8 6.8m0-6.8l-6.8 6.8m.2-3.9h6.8m-3.9-2.9v6.8m-2.9-6.8l6.8 6.8m0-6.8l-6.8 6.8m.3-3.9h6.8m-3.9-2.9v6.8m-2.9-6.8l6.8 6.8m0-6.8l-6.8 6.8m.3-3.9h6.8m-3.9-2.9v6.8m-2.9-6.8l6.8 6.8m0-6.8l-6.8 6.8m.3-3.9h6.8m-3.9-2.9v6.8m-2.9-6.8l6.8 6.8m0-6.8l-6.8 6.8m.3-3.9h6.8m-3.9-2.9v6.8m-2.9-6.8l6.8 6.8m0-6.8l-6.8 6.8m.3-3.9h6.8m-3.9-2.9v6.8m-2.9-6.8l6.8 6.8m0-6.8l-6.8 6.8m.3-3.9h6.8m-3.9-2.9v6.8m-2.9-6.8l6.8 6.8m0-6.8l-6.8 6.8m.2-3.9h6.8m-3.9-2.9v6.8m-2.9-6.8l6.8 6.8m0-6.8l-6.8 6.8m.3-3.9h6.8m-3.9-2.9v6.8m-2.9-6.8l6.8 6.8m0-6.8l-6.8 6.8m.3-4h6.8m-3.9-2.9v6.8m-2.9-6.8l6.8 6.8m0-6.8l-6.8 6.8m.3-3.9h6.8m-3.9-2.9v6.8m-2.9-6.8l6.8 6.8m0-6.8l-6.8 6.8m.3-3.9h6.8m-3.9-2.9v6.8m-2.9-6.8l6.8 6.8m0-6.8l-6.8 6.8m.3-3.9h6.8m-3.9-2.9v6.8m-2.9-6.8l6.8 6.8m0-6.8l-6.8 6.8m.3-3.9h6.8m-3.9-2.9v6.8m-2.9-6.8l6.8 6.8m0-6.8l-6.8 6.8m.3-3.9h6.8m-3.9-2.9v6.8m-2.9-6.8l6.8 6.8m0-6.8l-6.8 6.8m.2-3.9h6.8m-3.9-2.9v6.8m-2.9-6.8l6.8 6.8m0-6.8l-6.8 6.8m.3-3.9h6.8m-3.9-2.9v6.8m-2.9-6.8l6.8 6.8m0-6.8l-6.8 6.8m.3-3.9h6.8m-3.9-2.9v6.8m-2.9-6.8l6.8 6.8m0-6.8l-6.8 6.8m.3-3.9h6.8m-3.9-2.9v6.8m-2.9-6.8l6.8 6.8m0-6.8l-6.8 6.8m.3-4h6.8m-3.9-2.9v6.8m-2.9-6.8l6.8 6.8m0-6.8l-6.8 6.8m.3-3.9h6.8m-3.9-2.9v6.8m-2.9-6.8l6.8 6.8m0-6.8l-6.8 6.8m.3-3.9h6.8m-3.9-2.9v6.8m-2.9-6.8l6.8 6.8m0-6.8l-6.8 6.8m.2-3.9h6.8m-3.9-2.9v6.8m-2.9-6.8l6.8 6.8m0-6.8l-6.8 6.8m.3-3.9h6.8m-3.9-2.9v6.8m-2.9-6.8l6.8 6.8m0-6.8l-6.8 6.8m.3-3.9h6.8m-3.9-2.9v6.8m-2.9-6.8l6.8 6.8m0-6.8l-6.8 6.8m.3-3.9h6.8m-3.9-2.9v6.8m-2.9-6.8l6.8 6.8m0-6.8l-6.8 6.8m.3-3.9h6.8m-3.9-2.9v6.8m-2.9-6.8l6.8 6.8m0-6.8l-6.8 6.8m.3-3.9h6.8m-3.9-2.9v6.8m-2.9-6.8l6.8 6.8m0-6.8l-6.8 6.8m.3-3.9h6.8m-3.9-2.9v6.8m-2.9-6.8l6.8 6.8m0-6.8l-6.8 6.8m.2-4h6.8m-3.9-2.9v6.8m-2.9-6.8l6.8 6.8m0-6.8l-6.8 6.8m.3-3.9h6.8m-3.9-2.9v6.8m-2.9-6.8l6.8 6.8m0-6.8l-6.8 6.8m.3-3.9h6.8m-3.9-2.9v6.8m-2.9-6.8l6.8 6.8m0-6.8l-6.8 6.8m.3-3.9h6.8m-3.9-2.9v6.8m-2.9-6.8l6.8 6.8m0-6.8l-6.8 6.8m.3-3.9h6.8m-3.9-2.9v6.8m-2.9-6.8l6.8 6.8m0-6.8l-6.8 6.8m.3-3.9h6.8m-3.9-2.9v6.8m-2.9-6.8l6.8 6.8m0-6.8l-6.8 6.8m.3-3.9h6.8m-3.9-2.9v6.8m-2.9-6.8l6.8 6.8m0-6.8l-6.8 6.8m.2-3.9h6.8m-3.9-2.9v6.8m-2.9-6.8l6.8 6.8m0-6.8l-6.8 6.8m.3-3.9h6.8m-3.9-2.9v6.8m-2.9-6.8l6.8 6.8m0-6.8l-6.8 6.8m.3-3.9h6.8m-3.9-2.9v6.8m-2.9-6.8l6.8 6.8m0-6.8l-6.8 6.8m.3-4h6.8m-3.9-2.9v6.8m-2.9-6.8l6.8 6.8m0-6.8l-6.8 6.8m.3-3.9h6.8m-3.9-2.9v6.8m-2.9-6.8l6.8 6.8m0-6.8l-6.8 6.8m.3-3.9h6.8m-3.9-2.9v6.8m-2.9-6.8l6.8 6.8m0-6.8l-6.8 6.8m.3-3.9h6.8m-3.9-2.9v6.8m-2.9-6.8l6.8 6.8m0-6.8l-6.8 6.8m.2-3.9h6.8m-3.9-2.9v6.8m-2.9-6.8l6.8 6.8m0-6.8l-6.8 6.8m.3-3.9h6.8m-3.9-2.9v6.8m-2.9-6.8l6.8 6.8m0-6.8l-6.8 6.8m.3-3.9h6.8m-3.9-2.9v6.8m-2.9-6.8l6.8 6.8m0-6.8l-6.8 6.8m.3-3.9h6.8m-3.9-2.9v6.8m-2.9-6.8l6.8 6.8m0-6.8l-6.8 6.8m.3-3.9h6.8m-3.9-2.9v6.8m-2.9-6.8l6.8 6.8m0-6.8l-6.8 6.8m.3-3.9h6.8m-3.9-2.9v6.8m-2.9-6.8l6.8 6.8m0-6.8l-6.8 6.8m.3-4h6.8m-3.9-2.9v6.8m-2.9-6.8l6.8 6.8m0-6.8l-6.8 6.8m.2-3.9h6.8m-3.9-2.9v6.8m-2.9-6.8l6.8 6.8m0-6.8l-6.8 6.8m.3-3.9h6.8m-3.9-2.9v6.8m-2.9-6.8l6.8 6.8m0-6.8l-6.8 6.8m.3-3.9h6.8m-3.9-2.9v6.8m-2.9-6.8l6.8 6.8m0-6.8l-6.8 6.8m.3-3.9h6.8m-3.9-2.9v6.8m-2.9-6.8l6.8 6.8m0-6.8l-6.8 6.8m.3-3.9h6.8m-3.9-2.9v6.8m-2.9-6.8l6.8 6.8m0-6.8l-6.8 6.8m.3-3.9h6.8m-3.9-2.9v6.8m-2.9-6.8l6.8 6.8m0-6.8l-6.8 6.8m.3-3.9h6.8m-3.9-2.9v6.8m-2.9-6.8l6.8 6.8m0-6.8l-6.8 6.8m.2-3.9h6.8m-3.9-2.9v6.8m-2.9-6.8l6.8 6.8m0-6.8l-6.8 6.8m.3-3.9h6.8m-3.9-2.9v6.8m-2.9-6.8l6.8 6.8m0-6.8l-6.8 6.8m.3-3.9h6.8m-3.9-2.9v6.8m-2.9-6.8l6.8 6.8m0-6.8l-6.8 6.8m.3-4h6.8m-3.9-2.9v6.8m-2.9-6.8l6.8 6.8m0-6.8l-6.8 6.8m.3-3.9h6.8m-3.9-2.9v6.8m-2.9-6.8l6.8 6.8m0-6.8l-6.8 6.8m.3-3.9h6.8m-3.9-2.9v6.8m-2.9-6.8l6.8 6.8m0-6.8l-6.8 6.8m.3-3.9h6.8m-3.9-2.9v6.8m-2.9-6.8l6.8 6.8m0-6.8l-6.8 6.8m.2-3.9h6.8m-3.9-2.9v6.8m-2.9-6.8l6.8 6.8m0-6.8l-6.8 6.8m.3-3.9h6.8m-3.9-2.9v6.8m-2.9-6.8l6.8 6.8m0-6.8l-6.8 6.8m.3-3.9h6.8m-3.9-2.9v6.8m-2.9-6.8l6.8 6.8m0-6.8l-6.8 6.8m.3-3.9h6.8m-3.9-2.9v6.8m-2.9-6.8l6.8 6.8m0-6.8l-6.8 6.8m.3-3.9h6.8m-3.9-2.9v6.8m-2.9-6.8l6.8 6.8m0-6.8l-6.8 6.8m.3-3.9h6.8m-3.9-2.9v6.8m-2.9-6.8l6.8 6.8m0-6.8l-6.8 6.8m.3-4h6.8m-3.9-2.9v6.8m-2.9-6.8l6.8 6.8m0-6.8l-6.8 6.8m.3-3.9h6.8m-3.9-2.9v6.8m-2.9-6.8l6.8 6.8m0-6.8l-6.8 6.8m.2-3.9h6.8m-3.9-2.9v6.8m-2.9-6.8l6.8 6.8m0-6.8l-6.8 6.8m.3-3.9h6.8m-3.9-2.9v6.8m-2.9-6.8l6.8 6.8m0-6.8l-6.8 6.8m.3-3.9h6.8m-3.9-2.9v6.8m-2.9-6.8l6.8 6.8m0-6.8l-6.8 6.8m.3-3.9h6.8m-3.9-2.9v6.8m-2.9-6.8l6.8 6.8m0-6.8l-6.8 6.8m.3-3.9h6.8m-3.9-2.9v6.8m-2.9-6.8l6.8 6.8m0-6.8l-6.8 6.8m.3-3.9h6.8m-3.9-2.9v6.8m-2.9-6.8l6.8 6.8m0-6.8l-6.8 6.8m.3-3.9h6.8m-3.9-2.9v6.8m-2.9-6.8l6.8 6.8m0-6.8l-6.8 6.8m.2-3.9h6.8m-3.9-2.9v6.8m-2.9-6.8l6.8 6.8m0-6.8l-6.8 6.8m.3-4h6.8m-3.9-2.9v6.8m-2.9-6.8l6.8 6.8m0-6.8l-6.8 6.8m.3-3.9h6.8m-3.9-2.9v6.8m-2.9-6.8l6.8 6.8m0-6.8l-6.8 6.8m.3-3.9h6.8m-3.9-2.9v6.8m-2.9-6.8l6.8 6.8m0-6.8l-6.8 6.8m.3-3.9h6.8m-3.9-2.9v6.8m-2.9-6.8l6.8 6.8m0-6.8l-6.8 6.8m.3-3.9h6.8m-3.9-2.9v6.8m-2.9-6.8l6.8 6.8m0-6.8l-6.8 6.8m.3-3.9h6.8m-3.9-2.9v6.8m-2.9-6.8l6.8 6.8m0-6.8l-6.8 6.8m.2-3.9h6.8m-3.9-2.9v6.8m-2.9-6.8l6.8 6.8m0-6.8l-6.8 6.8m.3-3.9h6.8m-3.9-2.9v6.8m-2.9-6.8l6.8 6.8m0-6.8l-6.8 6.8m.3-3.9h6.8m-3.9-2.9v6.8m-2.9-6.8l6.8 6.8m0-6.8l-6.8 6.8m.3-3.9h6.8m-3.9-2.9v6.8m-2.9-6.8l6.8 6.8m0-6.8l-6.8 6.8m.3-4h6.8m-3.9-2.9v6.8m-2.9-6.8l6.8 6.8m0-6.8l-6.8 6.8m.3-3.9h6.8m-3.9-2.9v6.8m-2.9-6.8l6.8 6.8m0-6.8l-6.8 6.8m.3-3.9h6.8m-3.9-2.9v6.8m-2.9-6.8l6.8 6.8m0-6.8l-6.8 6.8m.2-3.9h6.8m-3.9-2.9v6.8m-2.9-6.8l6.8 6.8m0-6.8l-6.8 6.8m.3-3.9h6.8m-3.9-2.9v6.8m-2.9-6.8l6.8 6.8m0-6.8l-6.8 6.8m.3-3.9h6.8m-3.9-2.9v6.8m-2.9-6.8l6.8 6.8m0-6.8l-6.8 6.8m.3-3.9h6.8m-3.9-2.9v6.8m-2.9-6.8l6.8 6.8m0-6.8l-6.8 6.8m.3-3.9h6.8m-3.9-2.9v6.8m-2.9-6.8l6.8 6.8m0-6.8l-6.8 6.8m.3-3.9h6.8m-3.9-2.9v6.8m-2.9-6.8l6.8 6.8m0-6.8l-6.8 6.8m.3-3.9h6.8m-3.9-2.9v6.8m-2.9-6.8l6.8 6.8m0-6.8l-6.8 6.8m.2-4h6.8m-3.9-2.9v6.8m-2.9-6.8l6.8 6.8m0-6.8l-6.8 6.8m.3-3.9h6.8m-3.9-2.9v6.8m-2.9-6.8l6.8 6.8m0-6.8l-6.8 6.8m.3-3.9h6.8m-3.9-2.9v6.8m-2.9-6.8l6.8 6.8m0-6.8l-6.8 6.8m.3-3.9h6.8m-3.9-2.9v6.8m-2.9-6.8l6.8 6.8m0-6.8l-6.8 6.8m.3-3.9h6.8m-3.9-2.9v6.8m-2.9-6.8l6.8 6.8m0-6.8l-6.8 6.8m.3-3.9h6.8m-3.9-2.9v6.8m-2.9-6.8l6.8 6.8m0-6.8l-6.8 6.8m.3-3.9h6.8m-3.9-2.9v6.8m-2.9-6.8l6.8 6.8m0-6.8l-6.8 6.8m.2-3.9h6.8m-3.9-2.9v6.8m-2.9-6.8l6.8 6.8m0-6.8l-6.8 6.8m.3-3.9h6.8m-3.9-2.9v6.8m-2.9-6.8l6.8 6.8m0-6.8l-6.8 6.8m.3-3.9h6.8m-3.9-2.9v6.8m-2.9-6.8l6.8 6.8m0-6.8l-6.8 6.8m.3-4h6.8m-3.9-2.9v6.8m-2.9-6.8l6.8 6.8m0-6.8l-6.8 6.8m.3-3.9h6.8m-3.9-2.9v6.8m-2.9-6.8l6.8 6.8m0-6.8l-6.8 6.8m.3-3.9h6.8m-3.9-2.9v6.8m-2.9-6.8l6.8 6.8m0-6.8l-6.8 6.8m.3-3.9h6.8m-3.9-2.9v6.8m-2.9-6.8l6.8 6.8m0-6.8l-6.8 6.8m.2-3.9h6.8m-3.9-2.9v6.8m-2.9-6.8l6.8 6.8m0-6.8l-6.8 6.8m.3-3.9h6.8m-3.9-2.9v6.8m-2.9-6.8l6.8 6.8m0-6.8l-6.8 6.8m.3-3.9h6.8m-3.9-2.9v6.8m-2.9-6.8l6.8 6.8m0-6.8l-6.8 6.8m.3-3.9h6.8m-3.9-2.9v6.8m-2.9-6.8l6.8 6.8m0-6.8l-6.8 6.8m.3-3.9h6.8m-3.9-2.9v6.8m-2.9-6.8l6.8 6.8m0-6.8l-6.8 6.8m.3-3.9h6.8m-3.9-2.9v6.8m-2.9-6.8l6.8 6.8m0-6.8l-6.8 6.8m.3-3.9h6.8m-3.9-2.9v6.8m-2.9-6.8l6.8 6.8m0-6.8l-6.8 6.8m.3-4h6.8m-3.9-2.9v6.8m-2.9-6.8l6.8 6.8m0-6.8l-6.8 6.8m.2-3.9h6.8m-3.9-2.9v6.8m-2.9-6.8l6.8 6.8m0-6.8l-6.8 6.8m.3-3.9h6.8m-3.9-2.9v6.8m-2.9-6.8l6.8 6.8m0-6.8l-6.8 6.8m.3-3.9h6.8m-3.9-2.9v6.8m-2.9-6.8l6.8 6.8m0-6.8l-6.8 6.8m.3-3.9h6.8m-3.9-2.9v6.8m-2.9-6.8l6.8 6.8m0-6.8l-6.8 6.8m.3-3.9h6.8m-3.9-2.9v6.8m-2.9-6.8l6.8 6.8m0-6.8l-6.8 6.8m.3-3.9h6.8m-3.9-2.9v6.8m-2.9-6.8l6.8 6.8m0-6.8l-6.8 6.8m.3-3.9h6.8m-3.9-2.9v6.8m-2.9-6.8l6.8 6.8m0-6.8l-6.8 6.8m.2-3.9h6.8m-3.9-2.9v6.8m-2.9-6.8l6.8 6.8m0-6.8l-6.8 6.8m.3-3.9h6.8m-3.9-2.9v6.8m-2.9-6.8l6.8 6.8m0-6.8l-6.8 6.8m.3-4h6.8m-3.9-2.9v6.8m-2.9-6.8l6.8 6.8m0-6.8l-6.8 6.8m.3-3.9h6.8m-3.9-2.9v6.8m-2.9-6.8l6.8 6.8m0-6.8l-6.8 6.8m.3-3.9h6.8m-3.9-2.9v6.8m-2.9-6.8l6.8 6.8m0-6.8l-6.8 6.8m.3-3.9h6.8m-3.9-2.9v6.8m-2.9-6.8l6.8 6.8m0-6.8l-6.8 6.8m.3-3.9h6.8m-3.9-2.9v6.8m-2.9-6.8l6.8 6.8m0-6.8l-6.8 6.8m.2-3.9h6.8m-3.9-2.9v6.8m-2.9-6.8l6.8 6.8m0-6.8l-6.8 6.8m.3-3.9h6.8m-3.9-2.9v6.8m-2.9-6.8l6.8 6.8m0-6.8l-6.8 6.8m.3-3.9h6.8m-3.9-2.9v6.8m-2.9-6.8l6.8 6.8m0-6.8l-6.8 6.8m.3-3.9h6.8m-3.9-2.9v6.8m-2.9-6.8l6.8 6.8m0-6.8l-6.8 6.8m.3-3.9h6.8m-3.9-2.9v6.8m-2.9-6.8l6.8 6.8m0-6.8l-6.8 6.8m.3-4h6.8m-3.9-2.9v6.8m-2.9-6.8l6.8 6.8m0-6.8l-6.8 6.8m.3-3.9h6.8m-3.9-2.9v6.8m-2.9-6.8l6.8 6.8m0-6.8l-6.8 6.8m.2-3.9h6.8m-3.9-2.9v6.8m-2.9-6.8l6.8 6.8m0-6.8l-6.8 6.8m.3-3.9h6.8m-3.9-2.9v6.8m-2.9-6.8l6.8 6.8m0-6.8l-6.8 6.8m.3-3.9h6.8m-3.9-2.9v6.8m-2.9-6.8l6.8 6.8m0-6.8l-6.8 6.8m.3-3.9h6.8m-3.9-2.9v6.8m-2.9-6.8l6.8 6.8m0-6.8l-6.8 6.8m.3-3.9h6.8m-3.9-2.9v6.8m-2.9-6.8l6.8 6.8m0-6.8l-6.8 6.8m.3-3.9h6.8m-3.9-2.9v6.8m-2.9-6.8l6.8 6.8m0-6.8l-6.8 6.8m.3-3.9h6.8m-3.9-2.9v6.8m-2.9-6.8l6.8 6.8m0-6.8l-6.8 6.8m.2-3.9h6.8m-3.9-2.9v6.8m-2.9-6.8l6.8 6.8m0-6.8l-6.8 6.8m.3-4h6.8m-3.9-2.9v6.8m-2.9-6.8l6.8 6.8m0-6.8l-6.8 6.8m.3-3.9h6.8m-3.9-2.9v6.8m-2.9-6.8l6.8 6.8m0-6.8l-6.8 6.8m.3-3.9h6.8m-3.9-2.9v6.8m-2.9-6.8l6.8 6.8m0-6.8l-6.8 6.8m.3-3.9h6.8m-3.9-2.9v6.8m-2.9-6.8l6.8 6.8m0-6.8l-6.8 6.8m.3-3.9h6.8m-3.9-2.9v6.8m-2.9-6.8l6.8 6.8m0-6.8l-6.8 6.8m.3-3.9h6.8m-3.9-2.9v6.8m-2.9-6.8l6.8 6.8m0-6.8l-6.8 6.8m.2-3.9h6.8m-3.9-2.9v6.8m-2.9-6.8l6.8 6.8m0-6.8l-6.8 6.8m.3-3.9h6.8m-3.9-2.9v6.8m-2.9-6.8l6.8 6.8m0-6.8l-6.8 6.8m.3-3.9h6.8m-3.9-2.9v6.8m-2.9-6.8l6.8 6.8m0-6.8l-6.8 6.8m.3-3.9h6.8m-3.9-2.9v6.8m-2.9-6.8l6.8 6.8m0-6.8l-6.8 6.8m.3-4h6.8m-3.9-2.9v6.8m-2.9-6.8l6.8 6.8m0-6.8l-6.8 6.8m.3-3.9h6.8m-3.9-2.9v6.8m-2.9-6.8l6.8 6.8m0-6.8l-6.8 6.8m.3-3.9h6.8m-3.9-2.9v6.8m-2.9-6.8l6.8 6.8m0-6.8l-6.8 6.8m.2-3.9h6.8m-3.9-2.9v6.8m-2.9-6.8l6.8 6.8m0-6.8l-6.8 6.8m.3-3.9h6.8m-3.9-2.9v6.8m-2.9-6.8l6.8 6.8m0-6.8l-6.8 6.8m.3-3.9h6.8m-3.9-2.9v6.8m-2.9-6.8l6.8 6.8m0-6.8l-6.8 6.8m.3-3.9h6.8m-3.9-2.9v6.8m-2.9-6.8l6.8 6.8m0-6.8l-6.8 6.8m.3-3.9h6.8m-3.9-2.9v6.8m-2.9-6.8l6.8 6.8m0-6.8l-6.8 6.8m.3-3.9h6.8m-3.9-2.9v6.8m-2.9-6.8l6.8 6.8m0-6.8l-6.8 6.8m.3-3.9h6.8m-3.9-2.9v6.8m-2.9-6.8l6.8 6.8m0-6.8l-6.8 6.8m.3-4h6.8m-3.9-2.9v6.8m-2.9-6.8l6.8 6.8m0-6.8l-6.8 6.8m.2-3.9h6.8m-3.9-2.9v6.8m-2.9-6.8l6.8 6.8m0-6.8l-6.8 6.8m.3-3.9h6.8m-3.9-2.9v6.8m-2.9-6.8l6.8 6.8m0-6.8l-6.8 6.8m.3-3.9h6.8m-3.9-2.9v6.8m-2.9-6.8l6.8 6.8m0-6.8l-6.8 6.8m.3-3.9h6.8m-3.9-2.9v6.8m-2.9-6.8l6.8 6.8m0-6.8l-6.8 6.8m.3-3.9h6.8m-3.9-2.9v6.8m-2.9-6.8l6.8 6.8m0-6.8l-6.8 6.8m.3-3.9h6.8m-3.9-2.9v6.8m-2.9-6.8l6.8 6.8m0-6.8l-6.8 6.8m.3-3.9h6.8m-3.9-2.9v6.8m-2.9-6.8l6.8 6.8m0-6.8l-6.8 6.8m.2-3.9h6.8m-3.9-2.9v6.8m-2.9-6.8l6.8 6.8m0-6.8l-6.8 6.8m.3-3.9h6.8m-3.9-2.9v6.8m-2.9-6.8l6.8 6.8m0-6.8l-6.8 6.8m.3-3.9h6.8m-3.9-2.9v6.8m-2.9-6.8l6.8 6.8m0-6.8l-6.8 6.8m.3-4h6.8m-3.9-2.9v6.8m-2.9-6.8l6.8 6.8m0-6.8l-6.8 6.8m.3-3.9h6.8m-3.9-2.9v6.8m-2.9-6.8l6.8 6.8m0-6.8l-6.8 6.8m.3-3.9h6.8m-3.9-2.9v6.8m-2.9-6.8l6.8 6.8m0-6.8l-6.8 6.8m.3-3.9h6.8m-3.9-2.9v6.8m-2.9-6.8l6.8 6.8m0-6.8l-6.8 6.8m.2-3.9h6.8m-3.9-2.9v6.8m-2.9-6.8l6.8 6.8m0-6.8l-6.8 6.8m.3-3.9h6.8m-3.9-2.9v6.8m-2.9-6.8l6.8 6.8m0-6.8l-6.8 6.8m.3-3.9h6.8m-3.9-2.9v6.8m-2.9-6.8l6.8 6.8m0-6.8l-6.8 6.8m.3-3.9h6.8m-3.9-2.9v6.8m-2.9-6.8l6.8 6.8m0-6.8l-6.8 6.8m.3-3.9h6.8m-3.9-2.9v6.8m-2.9-6.8l6.8 6.8m0-6.8l-6.8 6.8m.3-3.9h6.8m-3.9-2.9v6.8m-2.9-6.8l6.8 6.8m0-6.8l-6.8 6.8m.3-4h6.8m-3.9-2.9v6.8m-2.9-6.8l6.8 6.8m0-6.8l-6.8 6.8m.2-3.9h6.8m-3.9-2.9v6.8m-2.9-6.8l6.8 6.8m0-6.8l-6.8 6.8m.3-3.9h6.8m-3.9-2.9v6.8m-2.9-6.8l6.8 6.8m0-6.8l-6.8 6.8m.3-3.9h6.8m-3.9-2.9v6.8m-2.9-6.8l6.8 6.8m0-6.8l-6.8 6.8m.3-3.9h6.8m-3.9-2.9v6.8m-2.9-6.8l6.8 6.8m0-6.8l-6.8 6.8m.3-3.9h6.8m-3.9-2.9v6.8m-2.9-6.8l6.8 6.8m0-6.8l-6.8 6.8m.3-3.9h6.8m-3.9-2.9v6.8m-2.9-6.8l6.8 6.8m0-6.8l-6.8 6.8m.3-3.9h6.8m-3.9-2.9v6.8m-2.9-6.8l6.8 6.8m0-6.8l-6.8 6.8m.2-3.9h6.8m-3.9-2.9v6.8m-2.9-6.8l6.8 6.8m0-6.8l-6.8 6.8m.3-3.9h6.8m-3.9-2.9v6.8m-2.9-6.8l6.8 6.8m0-6.8l-6.8 6.8m.3-4h6.8m-3.9-2.9v6.8m-2.9-6.8l6.8 6.8m0-6.8l-6.8 6.8m.3-3.9h6.8m-3.9-2.9v6.8m-2.9-6.8l6.8 6.8m0-6.8l-6.8 6.8m.3-3.9h6.8m-3.9-2.9v6.8m-2.9-6.8l6.8 6.8m0-6.8l-6.8 6.8m.3-3.9h6.8m-3.9-2.9v6.8m-2.9-6.8l6.8 6.8m0-6.8l-6.8 6.8m.3-3.9h6.8m-3.9-2.9v6.8m-2.9-6.8l6.8 6.8m0-6.8l-6.8 6.8m.2-3.9h6.8m-3.9-2.9v6.8m-2.9-6.8l6.8 6.8m0-6.8l-6.8 6.8m.3-3.9h6.8m-3.9-2.9v6.8m-2.9-6.8l6.8 6.8m0-6.8l-6.8 6.8m.3-3.9h6.8m-3.9-2.9v6.8m-2.9-6.8l6.8 6.8m0-6.8l-6.8 6.8m.3-3.9h6.8m-3.9-2.9v6.8m-2.9-6.8l6.8 6.8m0-6.8l-6.8 6.8m.3-3.9h6.8m-3.9-2.9v6.8m-2.9-6.8l6.8 6.8m0-6.8l-6.8 6.8m.3-4h6.8m-3.9-2.9v6.8m-2.9-6.8l6.8 6.8m0-6.8l-6.8 6.8m.3-3.9h6.8m-3.9-2.9v6.8m-2.9-6.8l6.8 6.8m0-6.8l-6.8 6.8m.2-3.9h6.8m-3.9-2.9v6.8m-2.9-6.8l6.8 6.8m0-6.8l-6.8 6.8m.3-3.9h6.8m-3.9-2.9v6.8m-2.9-6.8l6.8 6.8m0-6.8l-6.8 6.8m.3-3.9h6.8m-3.9-2.9v6.8m-2.9-6.8l6.8 6.8m0-6.8l-6.8 6.8m.3-3.9h6.8m-3.9-2.9v6.8m-2.9-6.8l6.8 6.8m0-6.8l-6.8 6.8m.3-3.9h6.8m-3.9-2.9v6.8m-2.9-6.8l6.8 6.8m0-6.8l-6.8 6.8m.3-3.9h6.8m-3.9-2.9v6.8m-2.9-6.8l6.8 6.8m0-6.8l-6.8 6.8m.3-3.9h6.8m-3.9-2.9v6.8m-2.9-6.8l6.8 6.8m0-6.8l-6.8 6.8m.2-3.9h6.8m-3.9-2.9v6.8m-2.9-6.8l6.8 6.8m0-6.8l-6.8 6.8m.3-4h6.8m-3.9-2.9v6.8m-2.9-6.8l6.8 6.8m0-6.8l-6.8 6.8m.3-3.9h6.8m-3.9-2.9v6.8m-2.9-6.8l6.8 6.8m0-6.8l-6.8 6.8m.3-3.9h6.8m-3.9-2.9v6.8m-2.9-6.8l6.8 6.8m0-6.8l-6.8 6.8m.3-3.9h6.8m-3.9-2.9v6.8m-2.9-6.8l6.8 6.8m0-6.8l-6.8 6.8m.3-3.9h6.8m-3.9-2.9v6.8m-2.9-6.8l6.8 6.8m0-6.8l-6.8 6.8m.3-3.9h6.8m-3.9-2.9v6.8m-2.9-6.8l6.8 6.8m0-6.8l-6.8 6.8m.3-3.9h6.8m-3.9-2.9v6.8m-2.9-6.8l6.8 6.8m0-6.8l-6.8 6.8m.2-3.9h6.8m-3.9-2.9v6.8m-2.9-6.8l6.8 6.8m0-6.8l-6.8 6.8m.3-3.9h6.8m-3.9-2.9v6.8m-2.9-6.8l6.8 6.8m0-6.8l-6.8 6.8m.3-3.9h6.8m-3.9-2.9v6.8m-2.9-6.8l6.8 6.8m0-6.8l-6.8 6.8m.3-4h6.8m-3.9-2.9v6.8m-2.9-6.8l6.8 6.8m0-6.8l-6.8 6.8m.3-3.9h6.8m-3.9-2.9v6.8m-2.9-6.8l6.8 6.8m0-6.8l-6.8 6.8m.3-3.9h6.8m-3.9-2.9v6.8m-2.9-6.8l6.8 6.8m0-6.8l-6.8 6.8m.3-3.9h6.8m-3.9-2.9v6.8m-2.9-6.8l6.8 6.8m0-6.8l-6.8 6.8m.2-3.9h6.8m-3.9-2.9v6.8m-2.9-6.8l6.8 6.8m0-6.8l-6.8 6.8m.3-3.9h6.8m-3.9-2.9v6.8m-2.9-6.8l6.8 6.8m0-6.8l-6.8 6.8m.3-3.9h6.8m-3.9-2.9v6.8m-2.9-6.8l6.8 6.8m0-6.8l-6.8 6.8m.3-3.9h6.8m-3.9-2.9v6.8m-2.9-6.8l6.8 6.8m0-6.8l-6.8 6.8m.3-3.9h6.8m-3.9-2.9v6.8m-2.9-6.8l6.8 6.8m0-6.8l-6.8 6.8m.3-3.9h6.8m-3.9-2.9v6.8m-2.9-6.8l6.8 6.8m0-6.8l-6.8 6.8m.3-3.9h6.8m-3.9-2.9v6.8m-2.9-6.8l6.8 6.8m0-6.8l-6.8 6.8m.2-4h6.8m-3.9-2.9v6.8m-2.9-6.8l6.8 6.8m0-6.8l-6.8 6.8m.3-3.9h6.8m-3.9-2.9v6.8m-2.9-6.8l6.8 6.8m0-6.8l-6.8 6.8m.3-3.9h6.8m-3.9-2.9v6.8m-2.9-6.8l6.8 6.8m0-6.8l-6.8 6.8m.3-3.9h6.8m-3.9-2.9v6.8m-2.9-6.8l6.8 6.8m0-6.8l-6.8 6.8m.3-3.9h6.8m-3.9-2.9v6.8m-2.9-6.8l6.8 6.8m0-6.8l-6.8 6.8m.3-3.9h6.8m-3.9-2.9v6.8m-2.9-6.8l6.8 6.8m0-6.8l-6.8 6.8m.3-3.9h6.8m-3.9-2.9v6.8m-2.9-6.8l6.8 6.8m0-6.8l-6.8 6.8m.2-3.9h6.8m-3.9-2.9v6.8m-2.9-6.8l6.8 6.8m0-6.8l-6.8 6.8m.3-3.9h6.8m-3.9-2.9v6.8m-2.9-6.8l6.8 6.8m0-6.8l-6.8 6.8m.3-3.9h6.8m-3.9-2.9v6.8m-2.9-6.8l6.8 6.8m0-6.8l-6.8 6.8m.3-4h6.8m-3.9-2.9v6.8m-2.9-6.8l6.8 6.8m0-6.8l-6.8 6.8m.3-3.9h6.8m-3.9-2.9v6.8m-2.9-6.8l6.8 6.8m0-6.8l-6.8 6.8m.3-3.9h6.8m-3.9-2.9v6.8m-2.9-6.8l6.8 6.8m0-6.8l-6.8 6.8m.3-3.9h6.8m-3.9-2.9v6.8m-2.9-6.8l6.8 6.8m0-6.8l-6.8 6.8m.2-3.9h6.8m-3.9-2.9v6.8m-2.9-6.8l6.8 6.8m0-6.8l-6.8 6.8m.3-3.9h6.8m-3.9-2.9v6.8m-2.9-6.8l6.8 6.8m0-6.8l-6.8 6.8m.3-3.9h6.8m-3.9-2.9v6.8m-2.9-6.8l6.8 6.8m0-6.8l-6.8 6.8m.3-3.9h6.8m-3.9-2.9v6.8m-2.9-6.8l6.8 6.8m0-6.8l-6.8 6.8m.3-3.9h6.8m-3.9-2.9v6.8m-2.9-6.8l6.8 6.8m0-6.8l-6.8 6.8m.3-3.9h6.8m-3.9-2.9v6.8m-2.9-6.8l6.8 6.8m0-6.8l-6.8 6.8m.3-4h6.8m-3.9-2.9v6.8m-2.9-6.8l6.8 6.8m0-6.8l-6.8 6.8m.2-3.9h6.8m-3.9-2.9v6.8m-2.9-6.8l6.8 6.8m0-6.8l-6.8 6.8m.3-3.9h6.8m-3.9-2.9v6.8m-2.9-6.8l6.8 6.8m0-6.8l-6.8 6.8m.3-3.9h6.8m-3.9-2.9v6.8m-2.9-6.8l6.8 6.8m0-6.8l-6.8 6.8m.3-3.9h6.8m-3.9-2.9v6.8m-2.9-6.8l6.8 6.8m0-6.8l-6.8 6.8m.3-3.9h6.8m-3.9-2.9v6.8m-2.9-6.8l6.8 6.8m0-6.8l-6.8 6.8m.3-3.9h6.8m-3.9-2.9v6.8m-2.9-6.8l6.8 6.8m0-6.8l-6.8 6.8m.3-3.9h6.8m-3.9-2.9v6.8m-2.9-6.8l6.8 6.8m0-6.8l-6.8 6.8m.2-3.9h6.8m-3.9-2.9v6.8m-2.9-6.8l6.8 6.8m0-6.8l-6.8 6.8m.3-3.9h6.8m-3.9-2.9v6.8m-2.9-6.8l6.8 6.8m0-6.8l-6.8 6.8m.3-4h6.8m-3.9-2.9v6.8m-2.9-6.8l6.8 6.8m0-6.8l-6.8 6.8m.3-3.9h6.8m-3.9-2.9v6.8m-2.9-6.8l6.8 6.8m0-6.8l-6.8 6.8m.3-3.9h6.8m-3.9-2.9v6.8m-2.9-6.8l6.8 6.8m0-6.8l-6.8 6.8m.3-3.9h6.8m-3.9-2.9v6.8m-2.9-6.8l6.8 6.8m0-6.8l-6.8 6.8m.3-3.9h6.8m-3.9-2.9v6.8m-2.9-6.8l6.8 6.8m0-6.8l-6.8 6.8m.3-3.9h6.8m-3.9-2.9v6.8m-2.9-6.8l6.8 6.8m0-6.8l-6.8 6.8m.2-3.9h6.8m-3.9-2.9v6.8m-2.9-6.8l6.8 6.8m0-6.8l-6.8 6.8m.3-3.9h6.8m-3.9-2.9v6.8m-2.9-6.8l6.8 6.8m0-6.8l-6.8 6.8m.3-3.9h6.8m-3.9-2.9v6.8m-2.9-6.8l6.8 6.8m0-6.8l-6.8 6.8m.3-3.9h6.8m-3.9-2.9v6.8m-2.9-6.8l6.8 6.8m0-6.8l-6.8 6.8m.3-4h6.8m-3.9-2.9v6.8m-2.9-6.8l6.8 6.8m0-6.8l-6.8 6.8m.3-3.9h6.8m-3.9-2.9v6.8m-2.9-6.8l6.8 6.8m0-6.8l-6.8 6.8m.3-3.9h6.8m-3.9-2.9v6.8m-2.9-6.8l6.8 6.8m0-6.8l-6.8 6.8m.2-3.9h6.8m-3.9-2.9v6.8m-2.9-6.8l6.8 6.8m0-6.8l-6.8 6.8m.3-3.9h6.8m-3.9-2.9v6.8m-2.9-6.8l6.8 6.8m0-6.8l-6.8 6.8m.3-3.9h6.8m-3.9-2.9v6.8m-2.9-6.8l6.8 6.8m0-6.8l-6.8 6.8m.3-3.9h6.8m-3.9-2.9v6.8m-2.9-6.8l6.8 6.8m0-6.8l-6.8 6.8m.3-3.9h6.8m-3.9-2.9v6.8m-2.9-6.8l6.8 6.8m0-6.8l-6.8 6.8m.3-3.9h6.8m-3.9-2.9v6.8m-2.9-6.8l6.8 6.8m0-6.8l-6.8 6.8m.3-3.9h6.8m-3.9-2.9v6.8m-2.9-6.8l6.8 6.8m0-6.8l-6.8 6.8m.2-4h6.8m-3.9-2.9v6.8m-2.9-6.8l6.8 6.8m0-6.8l-6.8 6.8m.3-3.9h6.8m-3.9-2.9v6.8m-2.9-6.8l6.8 6.8m0-6.8l-6.8 6.8m.3-3.9h6.8m-3.9-2.9v6.8m-2.9-6.8l6.8 6.8m0-6.8l-6.8 6.8m.3-3.9h6.8m-3.9-2.9v6.8m-2.9-6.8l6.8 6.8m0-6.8l-6.8 6.8m.3-3.9h6.8m-3.9-2.9v6.8m-2.9-6.8l6.8 6.8m0-6.8l-6.8 6.8m.3-3.9h6.8m-3.9-2.9v6.8m-2.9-6.8l6.8 6.8m0-6.8l-6.8 6.8m.3-3.9h6.8m-3.9-2.9v6.8m-2.9-6.8l6.8 6.8m0-6.8l-6.8 6.8m.2-3.9h6.8m-3.9-2.9v6.8m-2.9-6.8l6.8 6.8m0-6.8l-6.8 6.8m.3-3.9h6.8m-3.9-2.9v6.8m-2.9-6.8l6.8 6.8m0-6.8l-6.8 6.8m.3-3.9h6.8m-3.9-2.9v6.8m-2.9-6.8l6.8 6.8m0-6.8l-6.8 6.8m.3-3.9h6.8m-3.9-2.9v6.8m-2.9-6.8l6.8 6.8m0-6.8l-6.8 6.8m.3-4h6.8m-3.9-2.9v6.8m-2.9-6.8l6.8 6.8m0-6.8l-6.8 6.8m.3-3.9h6.8m-3.9-2.9v6.8m-2.9-6.8l6.8 6.8m0-6.8l-6.8 6.8m.3-3.9h6.8m-3.9-2.9v6.8m-2.9-6.8l6.8 6.8m0-6.8l-6.8 6.8m.2-3.9h6.8m-3.9-2.9v6.8m-2.9-6.8l6.8 6.8m0-6.8l-6.8 6.8m.3-3.9h6.8m-3.9-2.9v6.8m-2.9-6.8l6.8 6.8m0-6.8l-6.8 6.8m.3-3.9h6.8m-3.9-2.9v6.8m-2.9-6.8l6.8 6.8m0-6.8l-6.8 6.8m.3-3.9h6.8m-3.9-2.9v6.8m-2.9-6.8l6.8 6.8m0-6.8l-6.8 6.8m.3-3.9h6.8m-3.9-2.9v6.8m-2.9-6.8l6.8 6.8m0-6.8l-6.8 6.8m.3-3.9h6.8m-3.9-2.9v6.8m-2.9-6.8l6.8 6.8m0-6.8l-6.8 6.8m.3-3.9h6.8m-3.9-2.9v6.8m-2.9-6.8l6.8 6.8m0-6.8l-6.8 6.8m.2-4h6.8m-3.9-2.9v6.8m-2.9-6.8l6.8 6.8m0-6.8l-6.8 6.8m.3-3.9h6.8m-3.9-2.9v6.8m-2.9-6.8l6.8 6.8m0-6.8l-6.8 6.8m.3-3.9h6.8m-3.9-2.9v6.8m-2.9-6.8l6.8 6.8m0-6.8l-6.8 6.8m.3-3.9h6.8m-3.9-2.9v6.8m-2.9-6.8l6.8 6.8m0-6.8l-6.8 6.8m.3-3.9h6.8m-3.9-2.9v6.8m-2.9-6.8l6.8 6.8m0-6.8l-6.8 6.8m.3-3.9h6.8m-3.9-2.9v6.8m-2.9-6.8l6.8 6.8m0-6.8l-6.8 6.8m.3-3.9h6.8m-3.9-2.9v6.8m-2.9-6.8l6.8 6.8m0-6.8l-6.8 6.8m.2-3.9h6.8m-3.9-2.9v6.8m-2.9-6.8l6.8 6.8m0-6.8l-6.8 6.8m.3-3.9h6.8m-3.9-2.9v6.8m-2.9-6.8l6.8 6.8m0-6.8l-6.8 6.8m.3-3.9h6.8m-3.9-2.9v6.8m-2.9-6.8l6.8 6.8m0-6.8l-6.8 6.8m.3-4h6.8m-3.9-2.9v6.8m-2.9-6.8l6.8 6.8m0-6.8l-6.8 6.8m.3-3.9h6.8m-3.9-2.9v6.8m-2.9-6.8l6.8 6.8m0-6.8l-6.8 6.8m.3-3.9h6.8m-3.9-2.9v6.8m-2.9-6.8l6.8 6.8m0-6.8l-6.8 6.8m.3-3.9h6.8m-3.9-2.9v6.8m-2.9-6.8l6.8 6.8m0-6.8l-6.8 6.8m.3-3.9h6.8m-3.9-2.9v6.8m-2.9-6.8l6.8 6.8m0-6.8l-6.8 6.8m.2-3.9h6.8m-3.9-2.9v6.8m-2.9-6.8l6.8 6.8m0-6.8l-6.8 6.8m.3-3.9h6.8m-3.9-2.9v6.8m-2.9-6.8l6.8 6.8m0-6.8l-6.8 6.8m.3-3.9h6.8m-3.9-2.9v6.8m-2.9-6.8l6.8 6.8m0-6.8l-6.8 6.8m.3-3.9h6.8m-3.9-2.9v6.8m-2.9-6.8l6.8 6.8m0-6.8l-6.8 6.8m.3-3.9h6.8m-3.9-2.9v6.8m-2.9-6.8l6.8 6.8m0-6.8l-6.8 6.8m.3-4h6.8m-3.9-2.9v6.8m-2.9-6.8l6.8 6.8m0-6.8l-6.8 6.8m.3-3.9h6.8m-3.9-2.9v6.8m-2.9-6.8l6.8 6.8m0-6.8l-6.8 6.8m.2-3.9h6.8m-3.9-2.9v6.8m-2.9-6.8l6.8 6.8m0-6.8l-6.8 6.8m.3-3.9h6.8m-3.9-2.9v6.8m-2.9-6.8l6.8 6.8m0-6.8l-6.8 6.8m.3-3.9h6.8m-3.9-2.9v6.8m-2.9-6.8l6.8 6.8m0-6.8l-6.8 6.8m.3-3.9h6.8m-3.9-2.9v6.8m-2.9-6.8l6.8 6.8m0-6.8l-6.8 6.8m.3-3.9h6.8m-3.9-2.9v6.8m-2.9-6.8l6.8 6.8m0-6.8l-6.8 6.8m.3-3.9h6.8m-3.9-2.9v6.8m-2.9-6.8l6.8 6.8m0-6.8l-6.8 6.8m.3-3.9h6.8m-3.9-2.9v6.8m-2.9-6.8l6.8 6.8m0-6.8l-6.8 6.8m.2-3.9h6.8m-3.9-2.9v6.8m-2.9-6.8l6.8 6.8m0-6.8l-6.8 6.8m.3-4h6.8m-3.9-2.9v6.8m-2.9-6.8l6.8 6.8m0-6.8l-6.8 6.8m.3-3.9h6.8m-3.9-2.9v6.8m-2.9-6.8l6.8 6.8m0-6.8l-6.8 6.8m.3-3.9h6.8m-3.9-2.9v6.8m-2.9-6.8l6.8 6.8m0-6.8l-6.8 6.8m.3-3.9h6.8m-3.9-2.9v6.8m-2.9-6.8l6.8 6.8m0-6.8l-6.8 6.8m.3-3.9h6.8m-3.9-2.9v6.8m-2.9-6.8l6.8 6.8m0-6.8l-6.8 6.8m.3-3.9h6.8m-3.9-2.9v6.8m-2.9-6.8l6.8 6.8m0-6.8l-6.8 6.8m.2-3.9h6.8m-3.9-2.9v6.8m-2.9-6.8l6.8 6.8m0-6.8l-6.8 6.8m.3-3.9h6.8m-3.9-2.9v6.8m-2.9-6.8l6.8 6.8m0-6.8l-6.8 6.8m.3-3.9h6.8m-3.9-2.9v6.8m-2.9-6.8l6.8 6.8m0-6.8l-6.8 6.8m.3-3.9h6.8m-3.9-2.9v6.8m-2.9-6.8l6.8 6.8m0-6.8l-6.8 6.8m.3-4h6.8m-3.9-2.9v6.8m-2.9-6.8l6.8 6.8m0-6.8l-6.8 6.8m.3-3.9h6.8m-3.9-2.9v6.8m-2.9-6.8l6.8 6.8m0-6.8l-6.8 6.8m.3-3.9h6.8m-3.9-2.9v6.8m-2.9-6.8l6.8 6.8m0-6.8l-6.8 6.8m.2-3.9h6.8m-3.9-2.9v6.8m-2.9-6.8l6.8 6.8m0-6.8l-6.8 6.8m.3-3.9h6.8m-3.9-2.9v6.8m-2.9-6.8l6.8 6.8m0-6.8l-6.8 6.8m.3-3.9h6.8m-3.9-2.9v6.8m-2.9-6.8l6.8 6.8m0-6.8l-6.8 6.8m.3-4.1h6.8m-3.9-2.9v6.8m-2.9-6.8l6.8 6.8m0-6.8l-6.8 6.8m.3-4h6.8m-3.9-2.9v6.8m-2.9-6.8l6.8 6.8m0-6.8l-6.8 6.8m.3-4.1h6.8m-3.9-2.9v6.8m-2.9-6.8l6.8 6.8m0-6.8l-6.8 6.8m.3-4h6.8m-3.9-2.9v6.8m-2.9-6.8l6.8 6.8m0-6.8l-6.8 6.8m.2-4.1h6.8m-3.9-2.9v6.8m-2.9-6.8l6.8 6.8m0-6.8l-6.8 6.8m.3-4.1h6.8m-3.9-2.9v6.8m-2.9-6.8l6.8 6.8m0-6.8l-6.8 6.8m.3-4h6.8m-3.9-2.9v6.8m-2.9-6.8l6.8 6.8m0-6.8l-6.8 6.8m.3-4.1h6.8m-3.9-2.9v6.8m-2.9-6.8l6.8 6.8m0-6.8l-6.8 6.8m.3-4h6.8m-3.9-2.9v6.8m-2.9-6.8l6.8 6.8m0-6.8l-6.8 6.8m.3-4.1h6.8m-3.9-2.9v6.8m-2.9-6.8l6.8 6.8m0-6.8l-6.8 6.8m.3-4.1h6.8m-3.9-2.9v6.8m-2.9-6.8l6.8 6.8m0-6.8l-6.8 6.8m.2-4h6.8m-3.9-2.9v6.8m-2.9-6.8l6.8 6.8m0-6.8l-6.8 6.8m.3-4.1h6.8m-3.9-2.9v6.8m-2.9-6.8l6.8 6.8m0-6.8l-6.8 6.8m.3-4h6.8m-3.9-2.9v6.8m-2.9-6.8l6.8 6.8m0-6.8l-6.8 6.8m.3-4.1h6.8m-3.9-2.9v6.8m-2.9-6.8l6.8 6.8m0-6.8l-6.8 6.8m.3-4h6.8m-3.9-2.9v6.8m-2.9-6.8l6.8 6.8m0-6.8l-6.8 6.8m.3-4.1h6.8m-3.9-2.9v6.8m-2.9-6.8l6.8 6.8m0-6.8l-6.8 6.8m.3-4.1h6.8m-3.9-2.9v6.8m-2.9-6.8l6.8 6.8m0-6.8l-6.8 6.8m.2-4h6.8m-3.9-2.9v6.8m-2.9-6.8l6.8 6.8m0-6.8l-6.8 6.8m.3-4.1h6.8m-3.9-2.9v6.8m-2.9-6.8l6.8 6.8m0-6.8l-6.8 6.8m.3-4h6.8m-3.9-2.9v6.8m-2.9-6.8l6.8 6.8m0-6.8l-6.8 6.8m.3-4.1h6.8m-3.9-2.9v6.8m-2.9-6.8l6.8 6.8m0-6.8l-6.8 6.8m.3-4.1h6.8m-3.9-2.9v6.8m-2.9-6.8l6.8 6.8m0-6.8l-6.8 6.8m.3-4h6.8m-3.9-2.9v6.8m-2.9-6.8l6.8 6.8m0-6.8l-6.8 6.8m.3-4.1h6.8m-3.9-2.9v6.8m-2.9-6.8l6.8 6.8m0-6.8l-6.8 6.8m.3-4h6.8m-3.9-2.9v6.8m-2.9-6.8l6.8 6.8m0-6.8l-6.8 6.8m.2-4.1h6.8m-3.9-2.9v6.8m-2.9-6.8l6.8 6.8m0-6.8l-6.8 6.8m.3-4h6.8m-3.9-2.9v6.8m-2.9-6.8l6.8 6.8m0-6.8l-6.8 6.8m.3-4.1h6.8m-3.9-2.9v6.8m-2.9-6.8l6.8 6.8m0-6.8l-6.8 6.8m.3-4.1h6.8m-3.9-2.9v6.8m-2.9-6.8l6.8 6.8m0-6.8l-6.8 6.8m.3-4h6.8m-3.9-2.9v6.8m-2.9-6.8l6.8 6.8m0-6.8l-6.8 6.8m.3-4.1h6.8m-3.9-2.9v6.8m-2.9-6.8l6.8 6.8m0-6.8l-6.8 6.8m.3-4h6.8m-3.9-2.9v6.8m-2.9-6.8l6.8 6.8m0-6.8l-6.8 6.8m.2-4.1h6.8m-3.9-2.9v6.8m-2.9-6.8l6.8 6.8m0-6.8l-6.8 6.8m.3-4.1h6.8m-3.9-2.9v6.8m-2.9-6.8l6.8 6.8m0-6.8l-6.8 6.8m.3-4h6.8m-3.9-2.9v6.8m-2.9-6.8l6.8 6.8m0-6.8l-6.8 6.8m.3-4.1h6.8m-3.9-2.9v6.8m-2.9-6.8l6.8 6.8m0-6.8l-6.8 6.8m.3-4h6.8m-3.9-2.9v6.8m-2.9-6.8l6.8 6.8m0-6.8l-6.8 6.8m.3-4.1h6.8m-3.9-2.9v6.8m-2.9-6.8l6.8 6.8m0-6.8l-6.8 6.8m.3-4h6.8m-3.9-2.9v6.8m-2.9-6.8l6.8 6.8m0-6.8l-6.8 6.8m.2-4.1h6.8m-3.9-2.9v6.8m-2.9-6.8l6.8 6.8m0-6.8l-6.8 6.8m.3-4.1h6.8m-3.9-2.9v6.8m-2.9-6.8l6.8 6.8m0-6.8l-6.8 6.8m.3-4h6.8m-3.9-2.9v6.8m-2.9-6.8l6.8 6.8m0-6.8l-6.8 6.8m.3-4.1h6.8m-3.9-2.9v6.8m-2.9-6.8l6.8 6.8m0-6.8l-6.8 6.8m.3-4h6.8m-3.9-2.9v6.8m-2.9-6.8l6.8 6.8m0-6.8l-6.8 6.8m.3-4.1h6.8m-3.9-2.9v6.8m-2.9-6.8l6.8 6.8m0-6.8l-6.8 6.8m.3-4.1h6.8m-3.9-2.9v6.8m-2.9-6.8l6.8 6.8m0-6.8l-6.8 6.8m.2-4h6.8m-3.9-2.9v6.8m-2.9-6.8l6.8 6.8m0-6.8l-6.8 6.8m.3-4.1h6.8m-3.9-2.9v6.8m-2.9-6.8l6.8 6.8m0-6.8l-6.8 6.8m.3-4h6.8m-3.9-2.9v6.8m-2.9-6.8l6.8 6.8m0-6.8l-6.8 6.8m.3-4.1h6.8m-3.9-2.9v6.8m-2.9-6.8l6.8 6.8m0-6.8l-6.8 6.8m.3-4h6.8m-3.9-2.9v6.8m-2.9-6.8l6.8 6.8m0-6.8l-6.8 6.8m.3-4.1h6.8m-3.9-2.9v6.8m-2.9-6.8l6.8 6.8m0-6.8l-6.8 6.8m.3-4.1h6.8m-3.9-2.9v6.8m-2.9-6.8l6.8 6.8m0-6.8l-6.8 6.8m.2-4h6.8m-3.9-2.9v6.8m-2.9-6.8l6.8 6.8m0-6.8l-6.8 6.8m.3-4.1h6.8m-3.9-2.9v6.8m-2.9-6.8l6.8 6.8m0-6.8l-6.8 6.8m.3-4h6.8m-3.9-2.9v6.8m-2.9-6.8l6.8 6.8m0-6.8l-6.8 6.8m.3-4.1h6.8m-3.9-2.9v6.8m-2.9-6.8l6.8 6.8m0-6.8l-6.8 6.8m.3-4.1h6.8m-3.9-2.9v6.8m-2.9-6.8l6.8 6.8m0-6.8l-6.8 6.8m.3-4h6.8m-3.9-2.9v6.8m-2.9-6.8l6.8 6.8m0-6.8l-6.8 6.8m.3-4.1h6.8m-3.9-2.9v6.8m-2.9-6.8l6.8 6.8m0-6.8l-6.8 6.8m.2-4h6.8m-3.9-2.9v6.8m-2.9-6.8l6.8 6.8m0-6.8l-6.8 6.8m.3-4.1h6.8m-3.9-2.9v6.8m-2.9-6.8l6.8 6.8m0-6.8l-6.8 6.8m.3-4h6.8m-3.9-2.9v6.8m-2.9-6.8l6.8 6.8m0-6.8l-6.8 6.8m.3-4.1h6.8m-3.9-2.9v6.8m-2.9-6.8l6.8 6.8m0-6.8l-6.8 6.8m.3-4.1h6.8m-3.9-2.9v6.8m-2.9-6.8l6.8 6.8m0-6.8l-6.8 6.8m.3-4h6.8m-3.9-2.9v6.8m-2.9-6.8l6.8 6.8m0-6.8l-6.8 6.8m.3-4.1h6.8m-3.9-2.9v6.8m-2.9-6.8l6.8 6.8m0-6.8l-6.8 6.8m.2-4h6.8m-3.9-2.9v6.8m-2.9-6.8l6.8 6.8m0-6.8l-6.8 6.8m.3-4.1h6.8m-3.9-2.9v6.8m-2.9-6.8l6.8 6.8m0-6.8l-6.8 6.8m.3-4.1h6.8m-3.9-2.9v6.8m-2.9-6.8l6.8 6.8m0-6.8l-6.8 6.8m.3-4h6.8m-3.9-2.9v6.8m-2.9-6.8l6.8 6.8m0-6.8l-6.8 6.8m.3-4.1h6.8m-3.9-2.9v6.8m-2.9-6.8l6.8 6.8m0-6.8l-6.8 6.8m.3-4h6.8m-3.9-2.9v6.8m-2.9-6.8l6.8 6.8m0-6.8l-6.8 6.8m.3-4.1h6.8m-3.9-2.9v6.8m-2.9-6.8l6.8 6.8m0-6.8l-6.8 6.8m.3-4.1h6.8m-3.9-2.9v6.8m-2.9-6.8l6.8 6.8m0-6.8l-6.8 6.8m.2-4h6.8m-3.9-2.9v6.8m-2.9-6.8l6.8 6.8m0-6.8l-6.8 6.8m.3-4.1h6.8m-3.9-2.9v6.8m-2.9-6.8l6.8 6.8m0-6.8l-6.8 6.8m.3-4h6.8m-3.9-2.9v6.8m-2.9-6.8l6.8 6.8m0-6.8l-6.8 6.8m.3-4.1h6.8m-3.9-2.9v6.8m-2.9-6.8l6.8 6.8m0-6.8l-6.8 6.8m.3-4h6.8m-3.9-2.9v6.8m-2.9-6.8l6.8 6.8m0-6.8l-6.8 6.8m.3-4.1h6.8m-3.9-2.9v6.8m-2.9-6.8l6.8 6.8m0-6.8l-6.8 6.8m.3-4.1h6.8m-3.9-2.9v6.8m-2.9-6.8l6.8 6.8m0-6.8l-6.8 6.8m.2-4h6.8m-3.9-2.9v6.8m-2.9-6.8l6.8 6.8m0-6.8l-6.8 6.8m.3-4.1h6.8m-3.9-2.9v6.8m-2.9-6.8l6.8 6.8m0-6.8l-6.8 6.8m.3-4h6.8m-3.9-2.9v6.8m-2.9-6.8l6.8 6.8m0-6.8l-6.8 6.8m.3-4.1h6.8m-3.9-2.9v6.8m-2.9-6.8l6.8 6.8m0-6.8l-6.8 6.8m.3-4.1h6.8m-3.9-2.9v6.8m-2.9-6.8l6.8 6.8m0-6.8l-6.8 6.8m.3-4h6.8m-3.9-2.9v6.8m-2.9-6.8l6.8 6.8m0-6.8l-6.8 6.8m.3-4.1h6.8m-3.9-2.9v6.8m-2.9-6.8l6.8 6.8m0-6.8l-6.8 6.8m.2-4h6.8m-3.9-2.9v6.8m-2.9-6.8l6.8 6.8m0-6.8l-6.8 6.8m.3-4.1h6.8m-3.9-2.9v6.8m-2.9-6.8l6.8 6.8m0-6.8l-6.8 6.8m.3-4h6.8m-3.9-2.9v6.8m-2.9-6.8l6.8 6.8m0-6.8l-6.8 6.8m.3-4.1h6.8m-3.9-2.9v6.8m-2.9-6.8l6.8 6.8m0-6.8l-6.8 6.8m.3-4.1h6.8m-3.9-2.9v6.8m-2.9-6.8l6.8 6.8m0-6.8l-6.8 6.8m.3-4h6.8m-3.9-2.9v6.8m-2.9-6.8l6.8 6.8m0-6.8l-6.8 6.8m.3-4.1h6.8m-3.9-2.9v6.8m-2.9-6.8l6.8 6.8m0-6.8l-6.8 6.8m.2-4h6.8m-3.9-2.9v6.8m-2.9-6.8l6.8 6.8m0-6.8l-6.8 6.8m.3-4.1h6.8m-3.9-2.9v6.8m-2.9-6.8l6.8 6.8m0-6.8l-6.8 6.8m.3-4.1h6.8m-3.9-2.9v6.8m-2.9-6.8l6.8 6.8m0-6.8l-6.8 6.8m.3-4h6.8m-3.9-2.9v6.8m-2.9-6.8l6.8 6.8m0-6.8l-6.8 6.8m.3-4.1h6.8m-3.9-2.9v6.8m-2.9-6.8l6.8 6.8m0-6.8l-6.8 6.8m.3-4h6.8m-3.9-2.9v6.8m-2.9-6.8l6.8 6.8m0-6.8l-6.8 6.8m.3-4.1h6.8m-3.9-2.9v6.8m-2.9-6.8l6.8 6.8m0-6.8l-6.8 6.8m.2-4h6.8m-3.9-2.9v6.8m-2.9-6.8l6.8 6.8m0-6.8l-6.8 6.8m.3-4.1h6.8m-3.9-2.9v6.8m-2.9-6.8l6.8 6.8m0-6.8l-6.8 6.8m.3-4.1h6.8m-3.9-2.9v6.8m-2.9-6.8l6.8 6.8m0-6.8l-6.8 6.8m.3-4h6.8m-3.9-2.9v6.8m-2.9-6.8l6.8 6.8m0-6.8l-6.8 6.8m.3-4.1h6.8m-3.9-2.9v6.8m-2.9-6.8l6.8 6.8m0-6.8l-6.8 6.8m.3-4h6.8m-3.9-2.9v6.8m-2.9-6.8l6.8 6.8m0-6.8l-6.8 6.8m.3-4.1h6.8m-3.9-2.9v6.8m-2.9-6.8l6.8 6.8m0-6.8l-6.8 6.8m.2-4.1h6.8m-3.9-2.9v6.8m-2.9-6.8l6.8 6.8m0-6.8l-6.8 6.8m.3-4h6.8m-3.9-2.9v6.8m-2.9-6.8l6.8 6.8m0-6.8l-6.8 6.8m.3-4.1h6.8m-3.9-2.9v6.8m-2.9-6.8l6.8 6.8m0-6.8l-6.8 6.8m.3-4h6.8m-3.9-2.9v6.8m-2.9-6.8l6.8 6.8m0-6.8l-6.8 6.8m.3-4.1h6.8m-3.9-2.9v6.8m-2.9-6.8l6.8 6.8m0-6.8l-6.8 6.8m.3-4h6.8m-3.9-2.9v6.8m-2.9-6.8l6.8 6.8m0-6.8l-6.8 6.8m.3-4.1h6.8m-3.9-2.9v6.8m-2.9-6.8l6.8 6.8m0-6.8l-6.8 6.8m.2-4.1h6.8m-3.9-2.9v6.8m-2.9-6.8l6.8 6.8m0-6.8l-6.8 6.8m.3-4h6.8m-3.9-2.9v6.8m-2.9-6.8l6.8 6.8m0-6.8l-6.8 6.8m.3-4.1h6.8m-3.9-2.9v6.8m-2.9-6.8l6.8 6.8m0-6.8l-6.8 6.8m.3-4h6.8m-3.9-2.9v6.8m-2.9-6.8l6.8 6.8m0-6.8l-6.8 6.8m.3-4.1h6.8m-3.9-2.9v6.8m-2.9-6.8l6.8 6.8m0-6.8l-6.8 6.8m.3-4.1h6.8m-3.9-2.9v6.8m-2.9-6.8l6.8 6.8m0-6.8l-6.8 6.8m.3-4h6.8m-3.9-2.9v6.8m-2.9-6.8l6.8 6.8m0-6.8l-6.8 6.8m.2-4.1h6.8m-3.9-2.9v6.8m-2.9-6.8l6.8 6.8m0-6.8l-6.8 6.8m.3-4h6.8m-3.9-2.9v6.8m-2.9-6.8l6.8 6.8m0-6.8l-6.8 6.8m.3-4.1h6.8m-3.9-2.9v6.8m-2.9-6.8l6.8 6.8m0-6.8l-6.8 6.8m.3-4h6.8m-3.9-2.9v6.8m-2.9-6.8l6.8 6.8m0-6.8l-6.8 6.8m.3-4.1h6.8m-3.9-2.9v6.8m-2.9-6.8l6.8 6.8m0-6.8l-6.8 6.8m.3-4.1h6.8m-3.9-2.9v6.8m-2.9-6.8l6.8 6.8m0-6.8l-6.8 6.8m.3-4h6.8m-3.9-2.9v6.8m-2.9-6.8l6.8 6.8m0-6.8l-6.8 6.8m.3-4.1h6.8m-3.9-2.9v6.8m-2.9-6.8l6.8 6.8m0-6.8l-6.8 6.8m.2-4h6.8m-3.9-2.9v6.8m-2.9-6.8l6.8 6.8m0-6.8l-6.8 6.8m.3-4.1h6.8m-3.9-2.9v6.8m-2.9-6.8l6.8 6.8m0-6.8l-6.8 6.8m.3-4.1h6.8m-3.9-2.9v6.8m-2.9-6.8l6.8 6.8m0-6.8l-6.8 6.8m.3-4h6.8m-3.9-2.9v6.8m-2.9-6.8l6.8 6.8m0-6.8l-6.8 6.8m.3-4.1h6.8m-3.9-2.9v6.8m-2.9-6.8l6.8 6.8m0-6.8l-6.8 6.8m.3-4h6.8m-3.9-2.9v6.8m-2.9-6.8l6.8 6.8m0-6.8l-6.8 6.8m.3-4.1h6.8m-3.9-2.9v6.8m-2.9-6.8l6.8 6.8m0-6.8l-6.8 6.8m.2-4.1h6.8m-3.9-2.9v6.8m-2.9-6.8l6.8 6.8m0-6.8l-6.8 6.8m.3-4h6.8m-3.9-2.9v6.8m-2.9-6.8l6.8 6.8m0-6.8l-6.8 6.8m.3-4.1h6.8m-3.9-2.9v6.8m-2.9-6.8l6.8 6.8m0-6.8l-6.8 6.8m.3-4h6.8m-3.9-2.9v6.8m-2.9-6.8l6.8 6.8m0-6.8l-6.8 6.8m.3-4.1h6.8m-3.9-2.9v6.8m-2.9-6.8l6.8 6.8m0-6.8l-6.8 6.8m.3-4h6.8m-3.9-2.9v6.8m-2.9-6.8l6.8 6.8m0-6.8l-6.8 6.8m.3-4.1h6.8m-3.9-2.9v6.8m-2.9-6.8l6.8 6.8m0-6.8l-6.8 6.8m.2-4.1h6.8m-3.9-2.9v6.8m-2.9-6.8l6.8 6.8m0-6.8l-6.8 6.8m.3-4h6.8m-3.9-2.9v6.8m-2.9-6.8l6.8 6.8m0-6.8l-6.8 6.8m.3-4.1h6.8m-3.9-2.9v6.8m-2.9-6.8l6.8 6.8m0-6.8l-6.8 6.8m.3-4h6.8m-3.9-2.9v6.8m-2.9-6.8l6.8 6.8m0-6.8l-6.8 6.8m.3-4.1h6.8m-3.9-2.9v6.8m-2.9-6.8l6.8 6.8m0-6.8l-6.8 6.8m.3-4.1h6.8m-3.9-2.9v6.8m-2.9-6.8l6.8 6.8m0-6.8l-6.8 6.8m.3-4h6.8m-3.9-2.9v6.8m-2.9-6.8l6.8 6.8m0-6.8l-6.8 6.8m.2-4.1h6.8m-3.9-2.9v6.8m-2.9-6.8l6.8 6.8m0-6.8l-6.8 6.8m.3-4h6.8m-3.9-2.9v6.8m-2.9-6.8l6.8 6.8m0-6.8l-6.8 6.8m.3-4.1h6.8m-3.9-2.9v6.8m-2.9-6.8l6.8 6.8m0-6.8l-6.8 6.8m.3-4h6.8m-3.9-2.9v6.8m-2.9-6.8l6.8 6.8m0-6.8l-6.8 6.8m.3-4.1h6.8m-3.9-2.9v6.8m-2.9-6.8l6.8 6.8m0-6.8l-6.8 6.8m.3-4.1h6.8m-3.9-2.9v6.8m-2.9-6.8l6.8 6.8m0-6.8l-6.8 6.8m.3-4h6.8m-3.9-2.9v6.8m-2.9-6.8l6.8 6.8m0-6.8l-6.8 6.8m.2-4.1h6.8m-3.9-2.9v6.8m-2.9-6.8l6.8 6.8m0-6.8l-6.8 6.8m.3-4h6.8m-3.9-2.9v6.8m-2.9-6.8l6.8 6.8m0-6.8l-6.8 6.8m.3-4.1h6.8m-3.9-2.9v6.8m-2.9-6.8l6.8 6.8m0-6.8l-6.8 6.8m.3-4.1h6.8m-3.9-2.9v6.8m-2.9-6.8l6.8 6.8m0-6.8l-6.8 6.8m.3-4h6.8m-3.9-2.9v6.8m-2.9-6.8l6.8 6.8m0-6.8l-6.8 6.8m.3-4.1h6.8m-3.9-2.9v6.8m-2.9-6.8l6.8 6.8m0-6.8l-6.8 6.8m.3-4h6.8m-3.9-2.9v6.8m-2.9-6.8l6.8 6.8m0-6.8l-6.8 6.8m.2-4.1h6.8m-3.9-2.9v6.8m-2.9-6.8l6.8 6.8m0-6.8l-6.8 6.8m.3-4h6.8m-3.9-2.9v6.8m-2.9-6.8l6.8 6.8m0-6.8l-6.8 6.8m.3-4.1h6.8m-3.9-2.9v6.8m-2.9-6.8l6.8 6.8m0-6.8l-6.8 6.8m.3-4.1h6.8m-3.9-2.9v6.8m-2.9-6.8l6.8 6.8m0-6.8l-6.8 6.8m.3-4h6.8m-3.9-2.9v6.8m-2.9-6.8l6.8 6.8m0-6.8l-6.8 6.8m.3-4.1h6.8m-3.9-2.9v6.8m-2.9-6.8l6.8 6.8m0-6.8l-6.8 6.8m.3-4h6.8m-3.9-2.9v6.8m-2.9-6.8l6.8 6.8m0-6.8l-6.8 6.8m.2-4.1h6.8m-3.9-2.9v6.8m-2.9-6.8l6.8 6.8m0-6.8l-6.8 6.8m.3-4.1h6.8m-3.9-2.9v6.8m-2.9-6.8l6.8 6.8m0-6.8l-6.8 6.8m.3-4h6.8m-3.9-2.9v6.8m-2.9-6.8l6.8 6.8m0-6.8l-6.8 6.8m.3-4.1h6.8m-3.9-2.9v6.8m-2.9-6.8l6.8 6.8m0-6.8l-6.8 6.8m.3-4h6.8m-3.9-2.9v6.8m-2.9-6.8l6.8 6.8m0-6.8l-6.8 6.8m.3-4.1h6.8m-3.9-2.9v6.8m-2.9-6.8l6.8 6.8m0-6.8l-6.8 6.8m.3-4h6.8m-3.9-2.9v6.8m-2.9-6.8l6.8 6.8m0-6.8l-6.8 6.8m.3-4.1h6.8m-3.9-2.9v6.8m-2.9-6.8l6.8 6.8m0-6.8l-6.8 6.8m.2-4.1h6.8m-3.9-2.9v6.8m-2.9-6.8l6.8 6.8m0-6.8l-6.8 6.8m.3-4h6.8m-3.9-2.9v6.8m-2.9-6.8l6.8 6.8m0-6.8l-6.8 6.8m.3-4.1h6.8m-3.9-2.9v6.8m-2.9-6.8l6.8 6.8m0-6.8l-6.8 6.8m.3-4h6.8m-3.9-2.9v6.8m-2.9-6.8l6.8 6.8m0-6.8l-6.8 6.8m.3-4.1h6.8m-3.9-2.9v6.8m-2.9-6.8l6.8 6.8m0-6.8l-6.8 6.8m.3-4.1h6.8m-3.9-2.9v6.8m-2.9-6.8l6.8 6.8m0-6.8l-6.8 6.8m.3-4h6.8m-3.9-2.9v6.8m-2.9-6.8l6.8 6.8m0-6.8l-6.8 6.8m.2-4.1h6.8m-3.9-2.9v6.8m-2.9-6.8l6.8 6.8m0-6.8l-6.8 6.8m.3-4h6.8m-3.9-2.9v6.8m-2.9-6.8l6.8 6.8m0-6.8l-6.8 6.8m.3-4.1h6.8m-3.9-2.9v6.8m-2.9-6.8l6.8 6.8m0-6.8l-6.8 6.8m.3-4h6.8m-3.9-2.9v6.8m-2.9-6.8l6.8 6.8m0-6.8l-6.8 6.8m.3-4.1h6.8m-3.9-2.9v6.8m-2.9-6.8l6.8 6.8m0-6.8l-6.8 6.8m.3-4.1h6.8m-3.9-2.9v6.8m-2.9-6.8l6.8 6.8m0-6.8l-6.8 6.8m.3-4h6.8m-3.9-2.9v6.8m-2.9-6.8l6.8 6.8m0-6.8l-6.8 6.8m.2-4.1h6.8m-3.9-2.9v6.8m-2.9-6.8l6.8 6.8m0-6.8l-6.8 6.8m.3-4h6.8m-3.9-2.9v6.8m-2.9-6.8l6.8 6.8m0-6.8l-6.8 6.8m.3-4.1h6.8m-3.9-2.9v6.8m-2.9-6.8l6.8 6.8m0-6.8l-6.8 6.8m.3-4.1h6.8m-3.9-2.9v6.8m-2.9-6.8l6.8 6.8m0-6.8l-6.8 6.8m.3-4h6.8m-3.9-2.9v6.8m-2.9-6.8l6.8 6.8m0-6.8l-6.8 6.8m.3-4.1h6.8m-3.9-2.9v6.8m-2.9-6.8l6.8 6.8m0-6.8l-6.8 6.8m.3-4h6.8m-3.9-2.9v6.8m-2.9-6.8l6.8 6.8m0-6.8l-6.8 6.8m.2-4.1h6.8m-3.9-2.9v6.8m-2.9-6.8l6.8 6.8m0-6.8l-6.8 6.8m.3-4h6.8m-3.9-2.9v6.8m-2.9-6.8l6.8 6.8m0-6.8l-6.8 6.8m.3-4.1h6.8m-3.9-2.9v6.8m-2.9-6.8l6.8 6.8m0-6.8l-6.8 6.8m.3-4.1h6.8m-3.9-2.9v6.8m-2.9-6.8l6.8 6.8m0-6.8l-6.8 6.8m.3-4h6.8m-3.9-2.9v6.8m-2.9-6.8l6.8 6.8m0-6.8l-6.8 6.8m.3-4.1h6.8m-3.9-2.9v6.8m-2.9-6.8l6.8 6.8m0-6.8l-6.8 6.8m.3-4h6.8m-3.9-2.9v6.8m-2.9-6.8l6.8 6.8m0-6.8l-6.8 6.8m.2-4.1h6.8m-3.9-2.9v6.8m-2.9-6.8l6.8 6.8m0-6.8l-6.8 6.8m.3-4.1h6.8m-3.9-2.9v6.8m-2.9-6.8l6.8 6.8m0-6.8l-6.8 6.8m.3-4h6.8m-3.9-2.9v6.8m-2.9-6.8l6.8 6.8m0-6.8l-6.8 6.8m.3-4.1h6.8m-3.9-2.9v6.8m-2.9-6.8l6.8 6.8m0-6.8l-6.8 6.8m.3-4h6.8m-3.9-2.9v6.8m-2.9-6.8l6.8 6.8m0-6.8l-6.8 6.8m.3-4.1h6.8m-3.9-2.9v6.8m-2.9-6.8l6.8 6.8m0-6.8l-6.8 6.8m.3-4.1h6.8m-3.9-2.9v6.8m-2.9-6.8l6.8 6.8m0-6.8l-6.8 6.8m.2-4h6.8m-3.9-2.9v6.8m-2.9-6.8l6.8 6.8m0-6.8l-6.8 6.8m.3-4.1h6.8m-3.9-2.9v6.8m-2.9-6.8l6.8 6.8m0-6.8l-6.8 6.8m.3-4h6.8m-3.9-2.9v6.8m-2.9-6.8l6.8 6.8m0-6.8l-6.8 6.8m.3-4.1h6.8m-3.9-2.9v6.8m-2.9-6.8l6.8 6.8m0-6.8l-6.8 6.8m.3-4h6.8m-3.9-2.9v6.8m-2.9-6.8l6.8 6.8m0-6.8l-6.8 6.8m.3-4.1h6.8m-3.9-2.9v6.8m-2.9-6.8l6.8 6.8m0-6.8l-6.8 6.8m.3-4.1h6.8m-3.9-2.9v6.8m-2.9-6.8l6.8 6.8m0-6.8l-6.8 6.8m.2-4h6.8m-3.9-2.9v6.8m-2.9-6.8l6.8 6.8m0-6.8l-6.8 6.8m.3-4.1h6.8m-3.9-2.9v6.8m-2.9-6.8l6.8 6.8m0-6.8l-6.8 6.8m.3-4h6.8m-3.9-2.9v6.8m-2.9-6.8l6.8 6.8m0-6.8l-6.8 6.8m.3-4.1h6.8m-3.9-2.9v6.8m-2.9-6.8l6.8 6.8m0-6.8l-6.8 6.8m.3-4.1h6.8m-3.9-2.9v6.8m-2.9-6.8l6.8 6.8m0-6.8l-6.8 6.8m.3-4h6.8m-3.9-2.9v6.8m-2.9-6.8l6.8 6.8m0-6.8l-6.8 6.8m.3-4.1h6.8m-3.9-2.9v6.8m-2.9-6.8l6.8 6.8m0-6.8l-6.8 6.8m.3-4h6.8m-3.9-2.9v6.8m-2.9-6.8l6.8 6.8m0-6.8l-6.8 6.8m.2-4.1h6.8m-3.9-2.9v6.8m-2.9-6.8l6.8 6.8m0-6.8l-6.8 6.8m.3-4h6.8m-3.9-2.9v6.8m-2.9-6.8l6.8 6.8m0-6.8l-6.8 6.8m.3-4.1h6.8m-3.9-2.9v6.8m-2.9-6.8l6.8 6.8m0-6.8l-6.8 6.8m.3-4.1h6.8m-3.9-2.9v6.8m-2.9-6.8l6.8 6.8m0-6.8l-6.8 6.8m.3-4h6.8m-3.9-2.9v6.8m-2.9-6.8l6.8 6.8m0-6.8l-6.8 6.8m.3-4.1h6.8m-3.9-2.9v6.8m-2.9-6.8l6.8 6.8m0-6.8l-6.8 6.8m.3-4h6.8m-3.9-2.9v6.8m-2.9-6.8l6.8 6.8m0-6.8l-6.8 6.8m.2-4.1h6.8m-3.9-2.9v6.8m-2.9-6.8l6.8 6.8m0-6.8l-6.8 6.8m.3-4.1h6.8m-3.9-2.9v6.8m-2.9-6.8l6.8 6.8m0-6.8l-6.8 6.8m.3-4h6.8m-3.9-2.9v6.8m-2.9-6.8l6.8 6.8m0-6.8l-6.8 6.8m.3-4.1h6.8m-3.9-2.9v6.8m-2.9-6.8l6.8 6.8m0-6.8l-6.8 6.8m.3-4h6.8m-3.9-2.9v6.8m-2.9-6.8l6.8 6.8m0-6.8l-6.8 6.8m.3-4.1h6.8m-3.9-2.9v6.8m-2.9-6.8l6.8 6.8m0-6.8l-6.8 6.8m.3-4h6.8m-3.9-2.9v6.8m-2.9-6.8l6.8 6.8m0-6.8l-6.8 6.8m.2-4.1h6.8m-3.9-2.9v6.8m-2.9-6.8l6.8 6.8m0-6.8l-6.8 6.8m.3-4.1h6.8m-3.9-2.9v6.8m-2.9-6.8l6.8 6.8m0-6.8l-6.8 6.8m.3-4h6.8m-3.9-2.9v6.8m-2.9-6.8l6.8 6.8m0-6.8l-6.8 6.8m.3-4.1h6.8m-3.9-2.9v6.8m-2.9-6.8l6.8 6.8m0-6.8l-6.8 6.8m.3-4h6.8m-3.9-2.9v6.8m-2.9-6.8l6.8 6.8m0-6.8l-6.8 6.8m.3-4.1h6.8m-3.9-2.9v6.8m-2.9-6.8l6.8 6.8m0-6.8l-6.8 6.8m.3-4.1h6.8m-3.9-2.9v6.8m-2.9-6.8l6.8 6.8m0-6.8l-6.8 6.8m.2-4h6.8m-3.9-2.9v6.8m-2.9-6.8l6.8 6.8m0-6.8l-6.8 6.8m.3-4.1h6.8m-3.9-2.9v6.8m-2.9-6.8l6.8 6.8m0-6.8l-6.8 6.8m.3-4h6.8m-3.9-2.9v6.8m-2.9-6.8l6.8 6.8m0-6.8l-6.8 6.8m.3-4.1h6.8m-3.9-2.9v6.8m-2.9-6.8l6.8 6.8m0-6.8l-6.8 6.8" stroke="#0000ff"/>
<path class="m" d="M512.7 394h7.6m-4.3-3.3v7.6m-3.3-7.6l7.6 7.6m0-7.6l-7.6 7.6" stroke="#0000ff"/>
<path class="b" d="M513.4 439.9h6.8v6.8h-6.8zm.3-.2h6.8v6.8h-6.8zm.3-.2h6.8v6.8h-6.8zm.3-.1h6.8v6.8h-6.8zm.2-.2h6.8v6.8h-6.8zm.3-.2h6.8v6.8h-6.8zm.3-.2h6.8v6.8h-6.8zm.3-.2h6.8v6.8h-6.8zm.3-.2h6.8v6.8h-6.8zm.3-.1h6.8v6.8h-6.8zm.3-.2h6.8v6.8h-6.8zm.2-.2h6.8v6.8h-6.8zm.3-.2h6.8v6.8h-6.8zm.3-.2h6.8v6.8h-6.8zm.3-.2h6.8v6.8h-6.8zm.3-.1h6.8v6.8h-6.8zm.3-.2h6.8v6.8h-6.8zm.3-.2h6.8v6.8h-6.8zm.2-.2h6.8v6.8h-6.8zm.3-.2h6.8v6.8h-6.8zm.3-.2h6.8v6.8h-6.8zm.3-.2h6.8v6.8h-6.8zm.3-.1h6.8v6.8h-6.8zm.3-.2h6.8v6.8h-6.8zm.3-.2h6.8v6.8h-6.8zm.2-.2h6.8v6.8h-6.8zm.3-.2h6.8v6.8h-6.8zm.3-.2h6.8v6.8h-6.8zm.3-.1h6.8v6.8h-6.8zm.3-.2h6.8v6.8h-6.8zm.3-.2h6.8v6.8h-6.8zm.3-.2h6.8v6.8h-6.8zm.3-.2h6.8v6.8h-6.8zm.2-.2h6.8v6.8h-6.8zm.3-.2h6.8v6.8h-6.8zm.3-.1h6.8v6.8h-6.8zm.3-.2h6.8v6.8h-6.8zm.3-.2h6.8v6.8h-6.8zm.3-.2h6.8v6.8h-6.8zm.3-.2h6.8v6.8h-6.8zm.2-.2h6.8v6.8h-6.8zm.3-.2h6.8v6.8h-6.8zm.3-.1h6.8v6.8h-6.8zm.3-.2h6.8v6.8h-6.8zm.3-.2h6.8v6.8h-6.8zm.3-.2h6.8v6.8h-6.8zm.3-.2h6.8v6.8h-6.8zm.2-.2h6.8v6.8h-6.8zm.3-.2h6.8v6.8h-6.8zm.3-.1h6.8v6.8h-6.8zm.3-.2h6.8v6.8h-6.8zm.3-.2h6.8v6.8h-6.8zm.3-.2h6.8v6.8h-6.8zm.3-.2h6.8v6.8h-6.8zm.2-.2h6.8v6.8h-6.8zm.3-.2h6.8v6.8h-6.8zm.3-.2h6.8v6.8h-6.8zm.3-.1h6.8v6.8h-6.8zm.3-.2h6.8v6.8h-6.8zm.3-.2h6.8v6.8h-6.8zm.3-.2h6.8v6.8h-6.8zm.2-.2h6.8v6.8h-6.8zm.3-.2h6.8v6.8h-6.8zm.3-.2h6.8v6.8h-6.8zm.3-.1h6.8v6.8h-6.8zm.3-.2h6.8v6.8h-6.8zm.3-.2h6.8v6.8h-6.8zm.3-.2h6.8v6.8h-6.8zm.2-.2h6.8v6.8h-6.8zm.3-.2h6.8v6.8h-6.8zm.3-.1h6.8v6.8h-6.8zm.3-.2h6.8v6.8h-6.8zm.3-.2h6.8v6.8h-6.8zm.3-.2h6.8v6.8h-6.8zm.3-.2h6.8v6.8h-6.8zm.2-.2h6.8v6.8h-6.8zm.3-.1h6.8v6.8h-6.8zm.3-.2h6.8v6.8h-6.8zm.3-.2h6.8v6.8h-6.8zm.3-.2h6.8v6.8h-6.8zm.3-.2h6.8v6.8h-6.8zm.3-.2h6.8v6.8h-6.8zm.3-.1h6.8v6.8h-6.8zm.2-.2h6.8v6.8h-6.8zm.3-.2h6.8v6.8h-6.8zm.3-.2h6.8v6.8h-6.8zm.3-.2h6.8v6.8h-6.8zm.3-.2h6.8v6.8h-6.8zm.3-.2h6.8v6.8h-6.8zm.3-.1h6.8v6.8h-6.8zm.2-.2h6.8v6.8h-6.8zm.3-.2h6.8v6.8h-6.8zm.3-.2h6.8v6.8h-6.8zm.3-.2h6.8v6.8h-6.8zm.3-.2h6.8v6.8h-6.8zm.3-.2h6.8v6.8h-6.8zm.3-.2h6.8v6.8h-6.8zm.2-.1h6.8v6.8h-6.8zm.3-.2h6.8v6.8h-6.8zm.3-.2h6.8v6.8h-6.8zm.3-.2h6.8v6.8h-6.8zm.3-.2h6.8v6.8h-6.8zm.3-.2h6.8v6.8h-6.8zm.3-.2h6.8v6.8h-6.8zm.2-.2h6.8v6.8h-6.8zm.3-.2h6.8v6.8h-6.8zm.3-.2h6.8v6.8h-6.8zm.3-.2h6.8v6.8h-6.8zm.3-.2h6.8v6.8h-6.8zm.3-.2h6.8v6.8h-6.8zm.3-.2h6.8v6.8h-6.8zm.2-.2h6.8v6.8h-6.8zm.3-.2h6.8v6.8h-6.8zm.3-.2h6.8v6.8h-6.8zm.3-.2h6.8v6.8h-6.8zm.3-.2h6.8v6.8h-6.8zm.3-.2h6.8v6.8h-6.8zm.3-.3h6.8v6.8h-6.8zm.2-.2h6.8v6.8h-6.8zm.3-.2h6.8v6.8h-6.8zm.3-.2h6.8v6.8h-6.8zm.3-.2h6.8v6.8h-6.8zm.3-.2h6.8v6.8h-6.8zm.3-.2h6.8v6.8h-6.8zm.3-.3h6.8v6.8h-6.8zm.2-.2h6.8v6.8h-6.8zm.3-.2h6.8v6.8h-6.8zm.3-.2h6.8v6.8h-6.8zm.3-.3h6.8v6.8h-6.8zm.3-.2h6.8v6.8h-6.8zm.3-.2h6.8v6.8h-6.8zm.3-.2h6.8v6.8h-6.8zm.3-.3h6.8v6.8h-6.8zm.2-.2h6.8v6.8h-6.8zm.3-.2h6.8v6.8h-6.8zm.3-.2h6.8v6.8h-6.8zm.3-.3h6.8v6.8h-6.8zm.3-.2h6.8v6.8h-6.8zm.3-.2h6.8v6.8h-6.8zm.3-.3h6.8v6.8h-6.8zm.2-.2h6.8v6.8h-6.8zm.3-.2h6.8v6.8h-6.8zm.3-.3h6.8v6.8h-6.8zm.3-.2h6.8v6.8h-6.8zm.3-.2h6.8v6.8h-6.8zm.3-.3h6.8v6.8h-6.8zm.3-.2h6.8v6.8h-6.8zm.2-.2h6.8v6.8h-6.8zm.3-.3h6.8v6.8h-6.8zm.3-.2h6.8v6.8h-6.8zm.3-.3h6.8v6.8h-6.8zm.3-.2h6.8v6.8h-6.8zm.3-.2h6.8v6.8h-6.8zm.3-.3h6.8v6.8h-6.8zm.2-.2h6.8v6.8h-6.8zm.3-.3h6.8v6.8h-6.8zm.3-.2h6.8v6.8h-6.8zm.3-.3h6.8v6.8h-6.8zm.3-.2h6.8v6.8h-6.8zm.3-.3h6.8v6.8h-6.8zm.3-.2h6.8v6.8h-6.8zm.2-.2h6.8v6.8h-6.8zm.3-.3h6.8v6.8h-6.8zm.3-.2h6.8v6.8h-6.8zm.3-.3h6.8v6.8h-6.8zm.3-.2h6.8v6.8h-6.8zm.3-.3h6.8v6.8h-6.8zm.3-.2h6.8v6.8h-6.8zm.2-.3h6.8v6.8h-6.8zm.3-.2h6.8v6.8h-6.8zm.3-.3h6.8v6.8h-6.8zm.3-.2h6.8v6.8h-6.8zm.3-.3h6.8v6.8h-6.8zm.3-.2h6.8v6.8h-6.8zm.3-.3h6.8v6.8h-6.8zm.2-.2h6.8v6.8h-6.8zm.3-.3h6.8v6.8h-6.8zm.3-.2h6.8v6.8h-6.8zm.3-.3h6.8v6.8h-6.8zm.3-.2h6.8v6.8h-6.8zm.3-.3h6.8v6.8h-6.8zm.3-.2h6.8v6.8h-6.8zm.2-.3h6.8v6.8h-6.8zm.3-.2h6.8v6.8h-6.8zm.3-.3h6.8v6.8h-6.8zm.3-.2h6.8v6.8h-6.8zm.3-.3h6.8v6.8h-6.8zm.3-.2h6.8v6.8h-6.8zm.3-.3h6.8v6.8h-6.8zm.3-.2h6.8v6.8h-6.8zm.2-.3h6.8v6.8h-6.8zm.3-.2h6.8v6.8h-6.8zm.3-.3h6.8v6.8h-6.8zm.3-.2h6.8v6.8h-6.8zm.3-.3h6.8v6.8h-6.8zm.3-.2h6.8v6.8h-6.8zm.3-.3h6.8v6.8h-6.8zm.2-.2h6.8v6.8h-6.8zm.3-.3h6.8v6.8h-6.8zm.3-.2h6.8v6.8h-6.8zm.3-.2h6.8v6.8h-6.8zm.3-.3h6.8v6.8h-6.8zm.3-.2h6.8v6.8h-6.8zm.3-.3h6.8v6.8h-6.8zm.2-.2h6.8v6.8h-6.8zm.3-.3h6.8v6.8h-6.8zm.3-.2h6.8v6.8h-6.8zm.3-.2h6.8v6.8h-6.8zm.3-.3h6.8v6.8h-6.8zm.3-.2h6.8v6.8h-6.8zm.3-.3h6.8v6.8h-6.8zm.2-.2h6.8v6.8h-6.8zm.3-.2h6.8v6.8h-6.8zm.3-.3h6.8v6.8h-6.8zm.3-.2h6.8v6.8h-6.8zm.3-.3h6.8v6.8h-6.8zm.3-.2h6.8v6.8h-6.8zm.3-.3h6.8v6.8h-6.8zm.2-.2h6.8v6.8h-6.8zm.3-.2h6.8v6.8h-6.8zm.3-.3h6.8v6.8h-6.8zm.3-.2h6.8v6.8h-6.8zm.3-.3h6.8v6.8h-6.8zm.3-.2h6.8v6.8h-6.8zm.3-.2h6.8v6.8h-6.8zm.2-.3h6.8v6.8h-6.8zm.3-.2h6.8v6.8h-6.8zm.3-.3h6.8v6.8h-6.8zm.3-.2h6.8v6.8h-6.8zm.3-.2h6.8v6.8h-6.8zm.3-.3h6.8v6.8h-6.8zm.3-.2h6.8v6.8h-6.8zm.2-.3h6.8v6.8h-6.8zm.3-.2h6.8v6.8h-6.8zm.3-.2h6.8v6.8h-6.8zm.3-.3h6.8v6.8h-6.8zm.3-.2h6.8v6.8h-6.8zm.3-.3h6.8v6.8h-6.8zm.3-.2h6.8v6.8h-6.8zm.3-.3h6.8v6.8h-6.8zm.2-.2h6.8v6.8h-6.8zm.3-.2h6.8v6.8h-6.8zm.3-.3h6.8v6.8h-6.8zm.3-.2h6.8v6.8h-6.8zm.3-.3h6.8v6.8h-6.8zm.3-.2h6.8v6.8h-6.8zm.3-.2h6.8v6.8h-6.8zm.2-.3h6.8v6.8h-6.8zm.3-.2h6.8v6.8h-6.8zm.3-.3h6.8v6.8h-6.8zm.3-.2h6.8v6.8h-6.8zm.3-.2h6.8v6.8h-6.8zm.3-.3h6.8v6.8h-6.8zm.3-.2h6.8v6.8h-6.8zm.2-.3h6.8v6.8h-6.8zm.3-.2h6.8v6.8h-6.8zm.3-.3h6.8v6.8h-6.8zm.3-.2h6.8v6.8h-6.8zm.3-.2h6.8v6.8h-6.8zm.3-.3h6.8v6.8h-6.8zm.3-.2h6.8v6.8h-6.8zm.2-.3h6.8v6.8h-6.8zm.3-.2h6.8v6.8h-6.8zm.3-.3h6.8v6.8h-6.8zm.3-.2h6.8v6.8h-6.8zm.3-.2h6.8v6.8h-6.8zm.3-.3h6.8v6.8h-6.8zm.3-.2h6.8v6.8h-6.8zm.2-.3h6.8v6.8h-6.8zm.3-.2h6.8v6.8h-6.8zm.3-.3h6.8v6.8h-6.8zm.3-.2h6.8v6.8h-6.8zm.3-.3h6.8v6.8h-6.8zm.3-.2h6.8v6.8h-6.8zm.3-.2h6.8v6.8h-6.8zm.2-.3h6.8v6.8h-6.8zm.3-.2h6.8v6.8h-6.8zm.3-.3h6.8v6.8h-6.8zm.3-.2h6.8v6.8h-6.8zm.3-.3h6.8v6.8h-6.8zm.3-.2h6.8v6.8h-6.8zm.3-.3h6.8v6.8h-6.8zm.2-.2h6.8v6.8h-6.8zm.3-.3h6.8v6.8h-6.8zm.3-.2h6.8v6.8h-6.8zm.3-.3h6.8v6.8h-6.8zm.3-.2h6.8v6.8h-6.8zm.3-.3h6.8v6.8h-6.8zm.3-.2h6.8v6.8h-6.8zm.2-.3h6.8v6.8h-6.8zm.3-.2h6.8v6.8h-6.8zm.3-.3h6.8v6.8h-6.8zm.3-.2h6.8v6.8h-6.8zm.3-.3h6.8v6.8h-6.8zm.3-.2h6.8v6.8h-6.8zm.3-.3h6.8v6.8h-6.8zm.3-.2h6.8v6.8h-6.8zm.2-.3h6.8v6.8h-6.8zm.3-.2h6.8v6.8h-6.8zm.3-.3h6.8v6.8h-6.8zm.3-.2h6.8v6.8h-6.8zm.3-.3h6.8v6.8h-6.8zm.3-.2h6.8v6.8h-6.8zm.3-.3h6.8v6.8h-6.8zm.2-.2h6.8v6.8h-6.8zm.3-.3h6.8v6.8h-6.8zm.3-.2h6.8v6.8h-6.8zm.3-.3h6.8v6.8h-6.8zm.3-.2h6.8v6.8h-6.8zm.3-.3h6.8v6.8h-6.8zm.3-.2h6.8v6.8h-6.8zm.2-.3h6.8v6.8h-6.8zm.3-.2h6.8v6.8h-6.8zm.3-.3h6.8v6.8h-6.8zm.3-.3h6.8v6.8h-6.8zm.3-.2h6.8v6.8h-6.8zm.3-.3h6.8v6.8h-6.8zm.3-.2h6.8v6.8h-6.8zm.2-.3h6.8v6.8h-6.8zm.3-.2h6.8v6.8h-6.8zm.3-.3h6.8v6.8h-6.8zm.3-.2h6.8v6.8h-6.8zm.3-.3h6.8v6.8h-6.8zm.3-.3h6.8v6.8h-6.8zm.3-.2h6.8v6.8h-6.8zm.2-.3h6.8v6.8h-6.8zm.3-.2h6.8v6.8h-6.8zm.3-.3h6.8v6.8h-6.8zm.3-.2h6.8v6.8h-6.8zm.3-.3h6.8v6.8h-6.8zm.3-.3h6.8v6.8h-6.8zm.3-.2h6.8v6.8h-6.8zm.2-.3h6.8v6.8h-6.8zm.3-.2h6.8v6.8h-6.8zm.3-.3h6.8v6.8h-6.8zm.3-.2h6.8v6.8h-6.8zm.3-.3h6.8v6.8h-6.8zm.3-.3h6.8v6.8h-6.8zm.3-.2h6.8v6.8h-6.8zm.2-.3h6.8v6.8h-6.8zm.3-.2h6.8v6.8h-6.8zm.3-.3h6.8v6.8h-6.8zm.3-.3h6.8v6.8h-6.8zm.3-.2h6.8v6.8h-6.8zm.3-.3h6.8v6.8h-6.8zm.3-.2h6.8v6.8h-6.8zm.3-.3h6.8v6.8h-6.8zm.2-.3h6.8v6.8h-6.8zm.3-.2h6.8v6.8h-6.8zm.3-.3h6.8v6.8h-6.8zm.3-.2h6.8v6.8h-6.8zm.3-.3h6.8v6.8h-6.8zm.3-.3h6.8v6.8h-6.8zm.3-.2h6.8v6.8h-6.8zm.2-.3h6.8v6.8h-6.8zm.3-.3h6.8v6.8h-6.8zm.3-.2h6.8v6.8h-6.8zm.3-.3h6.8v6.8h-6.8zm.3-.2h6.8v6.8h-6.8zm.3-.3h6.8v6.8h-6.8zm.3-.3h6.8v6.8h-6.8zm.2-.2h6.8v6.8h-6.8zm.3-.3h6.8v6.8h-6.8zm.3-.3h6.8v6.8h-6.8zm.3-.2h6.8v6.8h-6.8zm.3-.3h6.8v6.8h-6.8zm.3-.2h6.8v6.8h-6.8zm.3-.3h6.8v6.8h-6.8zm.2-.3h6.8v6.8h-6.8zm.3-.2h6.8v6.8h-6.8zm.3-.3h6.8v6.8h-6.8zm.3-.3h6.8v6.8h-6.8zm.3-.2h6.8v6.8h-6.8zm.3-.3h6.8v6.8h-6.8zm.3-.3h6.8v6.8h-6.8zm.2-.2h6.8v6.8h-6.8zm.3-.3h6.8v6.8h-6.8zm.3-.3h6.8v6.8h-6.8zm.3-.2h6.8v6.8h-6.8zm.3-.3h6.8v6.8h-6.8zm.3-.3h6.8v6.8h-6.8zm.3-.2h6.8v6.8h-6.8zm.2-.3h6.8v6.8h-6.8zm.3-.3h6.8v6.8h-6.8zm.3-.2h6.8v6.8h-6.8zm.3-.3h6.8v6.8h-6.8zm.3-.3h6.8v6.8h-6.8zm.3-.2h6.8v6.8h-6.8zm.3-.3h6.8v6.8h-6.8zm.2-.3h6.8v6.8h-6.8zm.3-.2h6.8v6.8h-6.8zm.3-.3h6.8v6.8h-6.8zm.3-.3h6.8v6.8h-6.8zm.3-.2h6.8v6.8h-6.8zm.3-.3h6.8v6.8h-6.8zm.3-.3h6.8v6.8h-6.8zm.3-.2h6.8v6.8h-6.8zm.2-.3h6.8v6.8h-6.8zm.3-.3h6.8v6.8h-6.8zm.3-.2h6.8v6.8h-6.8zm.3-.3h6.8v6.8h-6.8zm.3-.3h6.8v6.8h-6.8zm.3-.2h6.8v6.8h-6.8zm.3-.3h6.8v6.8h-6.8zm.2-.3h6.8v6.8h-6.8zm.3-.3h6.8v6.8h-6.8zm.3-.2h6.8v6.8h-6.8zm.3-.3h6.8v6.8h-6.8zm.3-.3h6.8v6.8h-6.8zm.3-.2h6.8v6.8h-6.8zm.3-.3h6.8v6.8h-6.8zm.2-.3h6.8v6.8h-6.8zm.3-.3h6.8v6.8h-6.8zm.3-.2h6.8v6.8h-6.8zm.3-.3h6.8v6.8h-6.8zm.3-.3h6.8v6.8h-6.8zm.3-.2h6.8v6.8h-6.8zm.3-.3h6.8v6.8h-6.8zm.2-.3h6.8v6.8h-6.8zm.3-.3h6.8v6.8h-6.8zm.3-.2h6.8v6.8h-6.8zm.3-.3h6.8v6.8h-6.8zm.3-.3h6.8v6.8h-6.8zm.3-.3h6.8v6.8h-6.8zm.3-.2h6.8v6.8h-6.8zm.2-.3h6.8v6.8h-6.8zm.3-.3h6.8v6.8h-6.8zm.3-.2h6.8v6.8h-6.8zm.3-.3h6.8v6.8h-6.8zm.3-.3h6.8v6.8h-6.8zm.3-.3h6.8v6.8h-6.8zm.3-.2h6.8v6.8h-6.8zm.2-.3h6.8v6.8h-6.8zm.3-.3h6.8v6.8h-6.8zm.3-.3h6.8v6.8h-6.8zm.3-.2h6.8v6.8h-6.8zm.3-.3h6.8v6.8h-6.8zm.3-.3h6.8v6.8h-6.8zm.3-.3h6.8v6.8h-6.8zm.2-.2h6.8v6.8h-6.8zm.3-.3h6.8v6.8h-6.8zm.3-.3h6.8v6.8h-6.8zm.3-.3h6.8v6.8h-6.8zm.3-.2h6.8v6.8h-6.8zm.3-.3h6.8v6.8h-6.8zm.3-.3h6.8v6.8h-6.8zm.2-.3h6.8v6.8h-6.8zm.3-.3h6.8v6.8h-6.8zm.3-.2h6.8v6.8h-6.8zm.3-.3h6.8v6.8h-6.8zm.3-.3h6.8v6.8h-6.8zm.3-.3h6.8v6.8h-6.8zm.3-.2h6.8v6.8h-6.8zm.3-.3h6.8v6.8h-6.8zm.2-.3h6.8v6.8h-6.8zm.3-.3h6.8v6.8h-6.8zm.3-.2h6.8v6.8h-6.8zm.3-.3h6.8v6.8h-6.8zm.3-.3h6.8v6.8h-6.8zm.3-.3h6.8v6.8h-6.8zm.3-.3h6.8v6.8h-6.8zm.2-.2h6.8v6.8h-6.8zm.3-.3h6.8v6.8h-6.8zm.3-.3h6.8v6.8h-6.8zm.3-.3h6.8v6.8h-6.8zm.3-.3h6.8v6.8h-6.8zm.3-.2h6.8v6.8h-6.8zm.3-.3h6.8v6.8h-6.8zm.2-.3h6.8v6.8h-6.8zm.3-.3h6.8v6.8h-6.8zm.3-.3h6.8v6.8h-6.8zm.3-.2h6.8v6.8h-6.8zm.3-.3h6.8v6.8h-6.8zm.3-.3h6.8v6.8h-6.8zm.3-.3h6.8v6.8h-6.8zm.2-.3h6.8v6.8h-6.8zm.3-.2h6.8v6.8h-6.8zm.3-.3h6.8v6.8h-6.8zm.3-.3h6.8v6.8h-6.8zm.3-.3h6.8v6.8h-6.8zm.3-.3h6.8v6.8h-6.8zm.3-.2h6.8v6.8h-6.8zm.2-.3h6.8v6.8h-6.8zm.3-.3h6.8v6.8h-6.8zm.3-.3h6.8v6.8h-6.8zm.3-.3h6.8v6.8h-6.8zm.3-.2h6.8v6.8h-6.8zm.3-.3h6.8v6.8h-6.8zm.3-.3h6.8v6.8h-6.8zm.2-.3h6.8v6.8h-6.8zm.3-.3h6.8v6.8h-6.8zm.3-.3h6.8v6.8h-6.8zm.3-.2h6.8v6.8h-6.8zm.3-.3h6.8v6.8h-6.8zm.3-.3h6.8v6.8h-6.8zm.3-.3h6.8v6.8h-6.8zm.2-.3h6.8v6.8h-6.8zm.3-.3h6.8v6.8h-6.8zm.3-.2h6.8v6.8h-6.8zm.3-.3h6.8v6.8h-6.8zm.3-.3h6.8v6.8h-6.8zm.3-.3h6.8v6.8h-6.8zm.3-.3h6.8v6.8h-6.8zm.3-.3h6.8v6.8h-6.8zm.2-.2h6.8v6.8h-6.8zm.3-.3h6.8v6.8h-6.8zm.3-.3h6.8v6.8h-6.8zm.3-.3h6.8v6.8h-6.8zm.3-.3h6.8v6.8h-6.8zm.3-.3h6.8v6.8h-6.8zm.3-.3h6.8v6.8h-6.8zm.2-.2h6.8v6.8h-6.8zm.3-.3h6.8v6.8h-6.8zm.3-.3h6.8v6.8h-6.8zm.3-.3h6.8v6.8h-6.8zm.3-.3h6.8v6.8h-6.8zm.3-.3h6.8v6.8h-6.8zm.3-.3h6.8v6.8h-6.8zm.2-.2h6.8v6.8h-6.8zm.3-.3h6.8v6.8h-6.8zm.3-.3h6.8v6.8h-6.8zm.3-.3h6.8v6.8h-6.8zm.3-.3h6.8v6.8h-6.8zm.3-.3h6.8v6.8h-6.8zm.3-.3h6.8v6.8h-6.8zm.2-.3h6.8v6.8h-6.8zm.3-.2h6.8v6.8h-6.8zm.3-.3h6.8v6.8h-6.8zm.3-.3h6.8v6.8h-6.8zm.3-.3h6.8v6.8h-6.8zm.3-.3h6.8v6.8h-6.8zm.3-.3h6.8v6.8h-6.8zm.2-.3h6.8v6.8h-6.8zm.3-.3h6.8v6.8h-6.8zm.3-.2h6.8v6.8h-6.8zm.3-.3h6.8v6.8h-6.8zm.3-.3h6.8v6.8h-6.8zm.3-.3h6.8v6.8h-6.8zm.3-.3h6.8v6.8h-6.8zm.2-.3h6.8v6.8h-6.8zm.3-.3h6.8v6.8h-6.8zm.3-.3h6.8v6.8h-6.8zm.3-.3h6.8v6.8h-6.8zm.3-.2h6.8v6.8h-6.8zm.3-.3h6.8v6.8h-6.8zm.3-.3h6.8v6.8h-6.8zm.2-.3h6.8v6.8h-6.8zm.3-.3h6.8v6.8h-6.8zm.3-.3h6.8v6.8h-6.8zm.3-.3h6.8v6.8h-6.8zm.3-.3h6.8v6.8h-6.8zm.3-.3h6.8v6.8h-6.8zm.3-.3h6.8v6.8h-6.8zm.3-.2h6.8v6.8h-6.8zm.2-.3h6.8v6.8h-6.8zm.3-.3h6.8v6.8h-6.8zm.3-.3h6.8v6.8h-6.8zm.3-.3h6.8v6.8h-6.8zm.3-.3h6.8v6.8h-6.8zm.3-.3h6.8v6.8h-6.8zm.3-.3h6.8v6.8h-6.8zm.2-.3h6.8v6.8h-6.8zm.3-.3h6.8v6.8h-6.8zm.3-.2h6.8v6.8h-6.8zm.3-.3h6.8v6.8h-6.8zm.3-.3h6.8v6.8h-6.8zm.3-.3h6.8v6.8h-6.8zm.3-.3h6.8v6.8h-6.8zm.2-.3h6.8v6.8h-6.8zm.3-.3h6.8v6.8h-6.8zm.3-.3h6.8v6.8h-6.8zm.3-.3h6.8v6.8h-6.8zm.3-.3h6.8v6.8h-6.8zm.3-.3h6.8v6.8h-6.8zm.3-.3h6.8v6.8h-6.8zm.2-.2h6.8v6.8h-6.8zm.3-.3h6.8v6.8h-6.8zm.3-.3h6.8v6.8h-6.8zm.3-.3h6.8v6.8h-6.8zm.3-.3h6.8v6.8h-6.8zm.3-.3h6.8v6.8h-6.8zm.3-.3h6.8v6.8h-6.8zm.2-.3h6.8v6.8h-6.8zm.3-.3h6.8v6.8h-6.8zm.3-.3h6.8v6.8h-6.8zm.3-.3h6.8v6.8h-6.8zm.3-.3h6.8v6.8h-6.8zm.3-.3h6.8v6.8h-6.8zm.3-.3h6.8v6.8h-6.8zm.2-.2h6.8v6.8h-6.8zm.3-.3h6.8v6.8h-6.8zm.3-.3h6.8v6.8h-6.8zm.3-.3h6.8v6.8h-6.8zm.3-.3h6.8v6.8h-6.8zm.3-.3h6.8v6.8h-6.8zm.3-.3h6.8v6.8h-6.8zm.2-.3h6.8v6.8h-6.8zm.3-.3h6.8v6.8h-6.8zm.3-.3h6.8v6.8h-6.8zm.3-.3h6.8v6.8h-6.8zm.3-.3h6.8v6.8h-6.8zm.3-.3h6.8v6.8h-6.8zm.3-.3h6.8v6.8h-6.8zm.2-.3h6.8v6.8h-6.8zm.3-.3h6.8v6.8h-6.8zm.3-.2h6.8v6.8h-6.8zm.3-.3h6.8v6.8h-6.8zm.3-.3h6.8v6.8h-6.8zm.3-.3h6.8v6.8h-6.8zm.3-.3h6.8v6.8h-6.8zm.3-.3h6.8v6.8h-6.8zm.2-.3h6.8v6.8h-6.8zm.3-.3h6.8v6.8h-6.8zm.3-.3h6.8v6.8h-6.8zm.3-.3h6.8v6.8h-6.8zm.3-.3h6.8v6.8h-6.8zm.3-.3h6.8v6.8h-6.8zm.3-.3h6.8v6.8h-6.8zm.2-.3h6.8v6.8h-6.8zm.3-.3h6.8v6.8h-6.8zm.3-.3h6.8v6.8h-6.8zm.3-.3h6.8v6.8h-6.8zm.3-.3h6.8v6.8h-6.8zm.3-.3h6.8v6.8h-6.8zm.3-.3h6.8v6.8h-6.8zm.2-.3h6.8v6.8h-6.8zm.3-.2h6.8v6.8h-6.8zm.3-.3h6.8v6.8h-6.8zm.3-.3h6.8v6.8h-6.8zm.3-.3h6.8v6.8h-6.8zm.3-.3h6.8v6.8h-6.8zm.3-.3h6.8v6.8h-6.8zm.2-.3h6.8v6.8h-6.8zm.3-.3h6.8v6.8h-6.8zm.3-.3h6.8v6.8h-6.8zm.3-.3h6.8v6.8h-6.8zm.3-.3h6.8v6.8h-6.8zm.3-.3h6.8v6.8h-6.8zm.3-.3h6.8v6.8h-6.8zm.2-.3h6.8v6.8h-6.8zm.3-.3h6.8v6.8h-6.8zm.3-.3h6.8v6.8h-6.8zm.3-.3h6.8v6.8h-6.8zm.3-.3h6.8v6.8h-6.8zm.3-.3h6.8v6.8h-6.8zm.3-.3h6.8v6.8h-6.8zm.2-.3h6.8v6.8h-6.8zm.3-.3h6.8v6.8h-6.8zm.3-.3h6.8v6.8h-6.8zm.3-.3h6.8v6.8h-6.8zm.3-.3h6.8v6.8h-6.8zm.3-.3h6.8v6.8h-6.8zm.3-.3h6.8v6.8h-6.8zm.2-.3h6.8v6.8h-6.8zm.3-.3h6.8v6.8h-6.8zm.3-.3h6.8v6.8h-6.8zm.3-.3h6.8v6.8h-6.8zm.3-.3h6.8v6.8h-6.8zm.3-.2h6.8v6.8h-6.8zm.3-.3h6.8v6.8h-6.8zm.3-.3h6.8v6.8h-6.8zm.2-.3h6.8v6.8h-6.8zm.3-.3h6.8v6.8h-6.8zm.3-.3h6.8v6.8h-6.8zm.3-.3h6.8v6.8h-6.8zm.3-.3h6.8v6.8h-6.8zm.3-.3h6.8v6.8h-6.8zm.3-.3h6.8v6.8h-6.8zm.2-.3h6.8v6.8h-6.8zm.3-.3h6.8v6.8h-6.8zm.3-.3h6.8v6.8h-6.8zm.3-.3h6.8v6.8h-6.8zm.3-.3h6.8v6.8h-6.8zm.3-.3h6.8v6.8h-6.8zm.3-.3h6.8v6.8h-6.8zm.2-.3h6.8v6.8h-6.8zm.3-.3h6.8v6.8h-6.8zm.3-.3h6.8v6.8h-6.8zm.3-.3h6.8v6.8h-6.8zm.3-.3h6.8v6.8h-6.8zm.3-.3h6.8v6.8h-6.8zm.3-.3h6.8v6.8h-6.8zm.2-.3h6.8v6.8h-6.8zm.3-.3h6.8v6.8h-6.8zm.3-.3h6.8v6.8h-6.8zm.3-.3h6.8v6.8h-6.8zm.3-.3h6.8v6.8h-6.8zm.3-.3h6.8v6.8h-6.8zm.3-.3h6.8v6.8h-6.8zm.2-.3h6.8v6.8h-6.8zm.3-.3h6.8v6.8h-6.8zm.3-.3h6.8v6.8h-6.8zm.3-.3h6.8v6.8h-6.8zm.3-.3h6.8v6.8h-6.8zm.3-.3h6.8v6.8h-6.8zm.3-.3h6.8v6.8h-6.8zm.2-.3h6.8v6.8h-6.8zm.3-.3h6.8v6.8h-6.8zm.3-.4h6.8v6.8h-6.8zm.3-.3h6.8v6.8h-6.8zm.3-.3h6.8v6.8h-6.8zm.3-.3h6.8v6.8h-6.8zm.3-.3h6.8v6.8h-6.8zm.2-.3h6.8v6.8h-6.8zm.3-.3h6.8v6.8h-6.8zm.3-.3h6.8v6.8h-6.8zm.3-.3h6.8v6.8h-6.8zm.3-.3h6.8v6.8h-6.8zm.3-.3h6.8v6.8h-6.8zm.3-.3h6.8v6.8h-6.8zm.3-.3h6.8v6.8h-6.8zm.2-.3h6.8v6.8h-6.8zm.3-.3h6.8v6.8h-6.8zm.3-.3h6.8v6.8h-6.8zm.3-.3h6.8v6.8h-6.8zm.3-.3h6.8v6.8h-6.8zm.3-.3h6.8v6.8h-6.8zm.3-.3h6.8v6.8h-6.8zm.2-.3h6.8v6.8h-6.8zm.3-.3h6.8v6.8h-6.8zm.3-.3h6.8v6.8h-6.8zm.3-.3h6.8v6.8h-6.8zm.3-.3h6.8v6.8h-6.8zm.3-.3h6.8v6.8h-6.8zm.3-.3h6.8v6.8h-6.8zm.2-.3h6.8v6.8h-6.8zm.3-.3h6.8v6.8h-6.8zm.3-.3h6.8v6.8h-6.8zm.3-.3h6.8v6.8h-6.8zm.3-.3h6.8v6.8h-6.8zm.3-.3h6.8v6.8h-6.8zm.3-.3h6.8v6.8h-6.8zm.2-.3h6.8v6.8h-6.8zm.3-.3h6.8v6.8h-6.8zm.3-.3h6.8v6.8h-6.8zm.3-.3h6.8v6.8h-6.8zm.3-.3h6.8v6.8h-6.8zm.3-.3h6.8v6.8h-6.8zm.3-.3h6.8v6.8h-6.8zm.2-.3h6.8v6.8h-6.8zm.3-.3h6.8v6.8h-6.8zm.3-.3h6.8v6.8h-6.8zm.3-.3h6.8v6.8h-6.8zm.3-.3h6.8v6.8h-6.8zm.3-.3h6.8v6.8h-6.8zm.3-.3h6.8v6.8h-6.8zm.2-.3h6.8v6.8h-6.8zm.3-.3h6.8v6.8h-6.8zm.3-.3h6.8v6.8h-6.8zm.3-.3h6.8v6.8h-6.8zm.3-.3h6.8v6.8h-6.8zm.3-.3h6.8v6.8h-6.8zm.3-.3h6.8v6.8h-6.8zm.2-.3h6.8v6.8h-6.8zm.3-.3h6.8v6.8h-6.8zm.3-.3h6.8v6.8h-6.8zm.3-.3h6.8v6.8h-6.8zm.3-.3h6.8v6.8h-6.8zm.3-.3h6.8v6.8h-6.8zm.3-.3h6.8v6.8h-6.8zm.2-.3h6.8v6.8h-6.8zm.3-.3h6.8v6.8h-6.8zm.3-.3h6.8v6.8h-6.8zm.3-.3h6.8v6.8h-6.8zm.3-.3h6.8v6.8h-6.8zm.3-.3h6.8v6.8h-6.8zm.3-.3h6.8v6.8h-6.8zm.3-.3h6.8v6.8h-6.8zm.2-.4h6.8v6.8h-6.8zm.3-.3h6.8v6.8h-6.8zm.3-.3h6.8v6.8h-6.8zm.3-.3h6.8v6.8h-6.8zm.3-.3h6.8v6.8h-6.8zm.3-.3h6.8v6.8h-6.8zm.3-.3h6.8v6.8h-6.8zm.2-.3h6.8v6.8h-6.8zm.3-.3h6.8v6.8h-6.8zm.3-.3h6.8v6.8h-6.8zm.3-.3h6.8v6.8h-6.8zm.3-.3h6.8v6.8h-6.8zm.3-.3h6.8v6.8h-6.8zm.3-.3h6.8v6.8h-6.8zm.2-.3h6.8v6.8h-6.8zm.3-.3h6.8v6.8h-6.8zm.3-.3h6.8v6.8h-6.8zm.3-.3h6.8v6.8h-6.8zm.3-.4h6.8v6.8h-6.8zm.3-.3h6.8v6.8h-6.8zm.3-.3h6.8v6.8h-6.8zm.2-.3h6.8v6.8h-6.8zm.3-.3h6.8v6.8h-6.8zm.3-.3h6.8v6.8h-6.8zm.3-.3h6.8v6.8h-6.8zm.3-.3h6.8v6.8h-6.8zm.3-.3h6.8v6.8h-6.8zm.3-.3h6.8v6.8h-6.8zm.2-.4h6.8v6.8h-6.8zm.3-.3h6.8v6.8h-6.8zm.3-.3h6.8v6.8h-6.8zm.3-.3h6.8v6.8h-6.8zm.3-.3h6.8v6.8h-6.8zm.3-.3h6.8v6.8h-6.8zm.3-.3h6.8v6.8h-6.8zm.2-.3h6.8v6.8h-6.8zm.3-.3h6.8v6.8h-6.8zm.3-.4h6.8v6.8h-6.8zm.3-.3h6.8v6.8h-6.8zm.3-.3h6.8v6.8h-6.8zm.3-.3h6.8v6.8h-6.8zm.3-.3h6.8v6.8h-6.8zm.2-.3h6.8v6.8h-6.8zm.3-.3h6.8v6.8h-6.8zm.3-.3h6.8v6.8h-6.8zm.3-.4h6.8v6.8h-6.8zm.3-.3h6.8v6.8h-6.8zm.3-.3h6.8v6.8h-6.8zm.3-.3h6.8v6.8h-6.8zm.3-.3h6.8v6.8h-6.8zm.2-.3h6.8v6.8h-6.8zm.3-.3h6.8v6.8h-6.8zm.3-.3h6.8v6.8h-6.8zm.3-.4h6.8v6.8h-6.8zm.3-.3h6.8v6.8h-6.8zm.3-.3h6.8v6.8h-6.8zm.3-.3h6.8v6.8h-6.8zm.2-.3h6.8v6.8h-6.8zm.3-.3h6.8v6.8h-6.8zm.3-.3h6.8v6.8h-6.8zm.3-.3h6.8v6.8h-6.8zm.3-.4h6.8v6.8h-6.8zm.3-.3h6.8v6.8h-6.8zm.3-.3h6.8v6.8h-6.8zm.2-.3h6.8v6.8h-6.8zm.3-.3h6.8v6.8h-6.8zm.3-.3h6.8v6.8h-6.8zm.3-.3h6.8v6.8h-6.8zm.3-.4h6.8v6.8h-6.8zm.3-.3h6.8v6.8h-6.8zm.3-.3h6.8v6.8h-6.8zm.2-.3h6.8v6.8h-6.8zm.3-.3h6.8v6.8h-6.8zm.3-.3h6.8v6.8h-6.8zm.3-.3h6.8v6.8h-6.8zm.3-.3h6.8v6.8h-6.8zm.3-.4h6.8v6.8h-6.8zm.3-.3h6.8v6.8h-6.8zm.2-.3h6.8v6.8h-6.8zm.3-.3h6.8v6.8h-6.8zm.3-.3h6.8v6.8h-6.8zm.3-.3h6.8v6.8h-6.8zm.3-.3h6.8v6.8h-6.8zm.3-.4h6.8v6.8h-6.8zm.3-.3h6.8v6.8h-6.8zm.2-.3h6.8v6.8h-6.8zm.3-.3h6.8v6.8h-6.8zm.3-.3h6.8v6.8h-6.8zm.3-.3h6.8v6.8h-6.8zm.3-.3h6.8v6.8h-6.8zm.3-.4h6.8v6.8h-6.8zm.3-.3h6.8v6.8h-6.8zm.2-.3h6.8v6.8h-6.8zm.3-.3h6.8v6.8h-6.8zm.3-.3h6.8v6.8h-6.8zm.3-.3h6.8v6.8h-6.8zm.3-.4h6.8v6.8h-6.8zm.3-.3h6.8v6.8h-6.8zm.3-.3h6.8v6.8h-6.8zm.2-.3h6.8v6.8h-6.8zm.3-.3h6.8v6.8h-6.8zm.3-.3h6.8v6.8h-6.8zm.3-.3h6.8v6.8h-6.8zm.3-.4h6.8v6.8h-6.8zm.3-.3h6.8v6.8h-6.8zm.3-.3h6.8v6.8h-6.8zm.3-.3h6.8v6.8h-6.8zm.2-.3h6.8v6.8h-6.8zm.3-.3h6.8v6.8h-6.8zm.3-.4h6.8v6.8h-6.8zm.3-.3h6.8v6.8h-6.8zm.3-.3h6.8v6.8h-6.8zm.3-.3h6.8v6.8h-6.8zm.3-.3h6.8v6.8h-6.8zm.2-.3h6.8v6.8h-6.8zm.3-.3h6.8v6.8h-6.8zm.3-.4h6.8v6.8h-6.8zm.3-.3h6.8v6.8h-6.8zm.3-.3h6.8v6.8h-6.8zm.3-.3h6.8v6.8h-6.8zm.3-.3h6.8v6.8h-6.8zm.2-.3h6.8v6.8h-6.8zm.3-.4h6.8v6.8h-6.8zm.3-.3h6.8v6.8h-6.8zm.3-.3h6.8v6.8h-6.8zm.3-.3h6.8v6.8h-6.8zm.3-.3h6.8v6.8h-6.8zm.3-.3h6.8v6.8h-6.8zm.2-.4h6.8v6.8h-6.8zm.3-.3h6.8v6.8h-6.8zm.3-.3h6.8v6.8h-6.8zm.3-.3h6.8v6.8h-6.8zm.3-.3h6.8v6.8h-6.8zm.3-.3h6.8v6.8h-6.8zm.3-.3h6.8v6.8h-6.8zm.2-.4h6.8v6.8h-6.8zm.3-.3h6.8v6.8h-6.8zm.3-.3h6.8v6.8h-6.8zm.3-.3h6.8v6.8h-6.8zm.3-.3h6.8v6.8h-6.8zm.3-.3h6.8v6.8h-6.8zm.3-.4h6.8v6.8h-6.8zm.2-.3h6.8v6.8h-6.8zm.3-.3h6.8v6.8h-6.8zm.3-.3h6.8v6.8h-6.8zm.3-.3h6.8v6.8h-6.8zm.3-.3h6.8v6.8h-6.8zm.3-.4h6.8v6.8h-6.8zm.3-.3h6.8v6.8h-6.8zm.2-.3h6.8v6.8h-6.8zm.3-.3h6.8v6.8h-6.8zm.3-.3h6.8v6.8h-6.8zm.3-.3h6.8v6.8h-6.8zm.3-.4h6.8v6.8h-6.8zm.3-.3h6.8v6.8h-6.8zm.3-.3h6.8v6.8h-6.8zm.3-.3h6.8v6.8h-6.8zm.2-.3h6.8v6.8h-6.8zm.3-.3h6.8v6.8h-6.8zm.3-.4h6.8v6.8h-6.8zm.3-.3h6.8v6.8h-6.8zm.3-.3h6.8v6.8h-6.8zm.3-.3h6.8v6.8h-6.8zm.3-.3h6.8v6.8h-6.8zm.2-.3h6.8v6.8h-6.8zm.3-.4h6.8v6.8h-6.8zm.3-.3h6.8v6.8h-6.8zm.3-.3h6.8v6.8h-6.8zm.3-.3h6.8v6.8h-6.8zm.3-.3h6.8v6.8h-6.8zm.3-.3h6.8v6.8h-6.8zm.2-.4h6.8v6.8h-6.8zm.3-.3h6.8v6.8h-6.8zm.3-.3h6.8v6.8h-6.8zm.3-.3h6.8v6.8h-6.8zm.3-.3h6.8v6.8h-6.8zm.3-.4h6.8v6.8h-6.8zm.3-.3h6.8v6.8h-6.8zm.2-.3h6.8v6.8h-6.8zm.3-.3h6.8v6.8h-6.8zm.3-.3h6.8v6.8h-6.8zm.3-.3h6.8v6.8h-6.8zm.3-.4h6.8v6.8h-6.8zm.3-.3h6.8v6.8h-6.8zm.3-.3h6.8v6.8h-6.8zm.2-.3h6.8v6.8h-6.8zm.3-.3h6.8v6.8h-6.8zm.3-.3h6.8v6.8h-6.8zm.3-.4h6.8v6.8h-6.8zm.3-.3h6.8v6.8h-6.8zm.3-.3h6.8v6.8h-6.8zm.3-.3h6.8v6.8h-6.8zm.2-.3h6.8v6.8h-6.8zm.3-.4h6.8v6.8h-6.8zm.3-.3h6.8v6.8h-6.8zm.3-.3h6.8v6.8h-6.8zm.3-.3h6.8v6.8h-6.8zm.3-.3h6.8v6.8h-6.8zm.3-.3h6.8v6.8h-6.8zm.2-.4h6.8v6.8h-6.8zm.3-.3h6.8v6.8h-6.8zm.3-.3h6.8v6.8h-6.8zm.3-.3h6.8v6.8h-6.8zm.3-.3h6.8v6.8h-6.8zm.3-.4h6.8v6.8h-6.8zm.3-.3h6.8v6.8h-6.8zm.3-.3h6.8v6.8h-6.8zm.2-.3h6.8v6.8h-6.8zm.3-.3h6.8v6.8h-6.8zm.3-.4h6.8v6.8h-6.8zm.3-.3h6.8v6.8h-6.8zm.3-.3h6.8v6.8h-6.8zm.3-.3h6.8v6.8h-6.8zm.3-.3h6.8v6.8h-6.8zm.2-.4h6.8v6.8h-6.8zm.3-.3h6.8v6.8h-6.8zm.3-.3h6.8v6.8h-6.8zm.3-.3h6.8v6.8h-6.8zm.3-.3h6.8v6.8h-6.8zm.3-.4h6.8v6.8h-6.8zm.3-.3h6.8v6.8h-6.8zm.2-.3h6.8v6.8h-6.8zm.3-.3h6.8v6.8h-6.8zm.3-.3h6.8v6.8h-6.8zm.3-.3h6.8v6.8h-6.8zm.3-.4h6.8v6.8h-6.8zm.3-.3h6.8v6.8h-6.8zm.3-.3h6.8v6.8h-6.8zm.2-.3h6.8v6.8h-6.8zm.3-.3h6.8v6.8h-6.8zm.3-.4h6.8v6.8h-6.8zm.3-.3h6.8v6.8h-6.8z" stroke="#000000"/>
<rect x="516.70" y="51.35" width="286.05" height="464.95" stroke="#000" stroke-width="1.4" fill="none"/>
<text x="507.1" y="57.3" font-size="16" text-anchor="end">0.01</text>
<text x="507.1" y="109" font-size="16" text-anchor="end">0.009</text>
<text x="507.1" y="160.6" font-size="16" text-anchor="end">0.008</text>
<text x="507.1" y="212.3" font-size="16" text-anchor="end">0.007</text>
<text x="507.1" y="264" font-size="16" text-anchor="end">0.006</text>
<text x="507.1" y="315.6" font-size="16" text-anchor="end">0.005</text>
<text x="507.1" y="367.3" font-size="16" text-anchor="end">0.004</text>
<text x="507.1" y="419" font-size="16" text-anchor="end">0.003</text>
<text x="507.1" y="470.6" font-size="16" text-anchor="end">0.002</text>
<text x="507.1" y="522.3" font-size="16" text-anchor="end">0.001</text>
<text x="518.7" y="537.8" font-size="16" text-anchor="middle">0</text>
<text x="547.3" y="537.8" font-size="16" text-anchor="middle">0.1</text>
<text x="575.9" y="537.8" font-size="16" text-anchor="middle">0.2</text>
<text x="604.5" y="537.8" font-size="16" text-anchor="middle">0.3</text>
<text x="633.1" y="537.8" font-size="16" text-anchor="middle">0.4</text>
<text x="661.7" y="537.8" font-size="16" text-anchor="middle">0.5</text>
<text x="690.3" y="537.8" font-size="16" text-anchor="middle">0.6</text>
<text x="718.9" y="537.8" font-size="16" text-anchor="middle">0.7</text>
<text x="747.5" y="537.8" font-size="16" text-anchor="middle">0.8</text>
<text x="776.1" y="537.8" font-size="16" text-anchor="middle">0.9</text>
<text x="804.7" y="537.8" font-size="16" text-anchor="middle">1</text>
<text x="583.8" y="72.5" font-size="16" text-anchor="end">NH +-+</text>
<path class="m" d="M613 66.5h8m-4.5-3.5v8" stroke="#00ff00"/>
<text x="583.8" y="88.5" font-size="16" text-anchor="end">NH +++</text>
<path class="m" d="M613 79l8 8m0-8l-8 8" stroke="#ff0000"/>
<text x="583.8" y="104.5" font-size="16" text-anchor="end">IH +-+</text>
<path class="m" d="M613 98.5h8m-4.5-3.5v8m-3.5-8l8 8m0-8l-8 8" stroke="#0000ff"/>
<text x="583.8" y="120.5" font-size="16" text-anchor="end">IH +++</text>
<path class="m" d="M613.5 111.5h7v7h-7zM616.4 114.8h.7" stroke="#000000"/>
<text transform="translate(438.6 397.9) rotate(-90)" font-size="24"><tspan font-size="21.5">Δ</tspan><tspan dx="-0.6">m</tspan><tspan dy="-11" dx="-1.2" font-size="18">2</tspan><tspan dy="17.9" font-size="18">31</tspan><tspan dy="-6.9">(NH), </tspan><tspan font-size="21.5">Δ</tspan><tspan dx="-0.6">m</tspan><tspan dy="-11" dx="-1.2" font-size="18">2</tspan><tspan dy="17.9" font-size="18">23</tspan><tspan dy="-6.9">(IH)</tspan></text>
<text x="650.8" y="561.5" font-size="24">f<tspan dy="7.3" font-size="19.2">g</tspan></text>
</g></svg></body></html>
